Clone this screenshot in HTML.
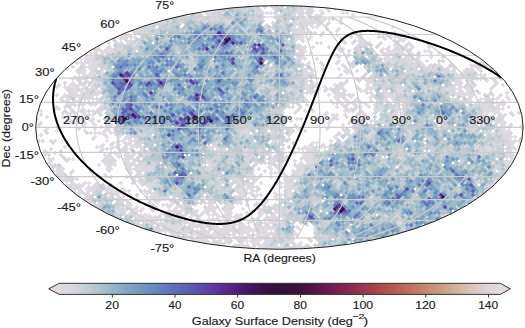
<!DOCTYPE html>
<html><head><meta charset="utf-8"><style>
html,body{margin:0;padding:0;background:#fff;width:525px;height:328px;overflow:hidden;}
svg{display:block;position:absolute;left:0;top:0;}
text{font-family:"Liberation Sans",sans-serif;}
</style></head><body>
<svg width="525" height="328" viewBox="0 0 525 328">
<defs><clipPath id="ell"><ellipse cx="279.40" cy="127.40" rx="243.70" ry="121.85"/></clipPath>
<linearGradient id="cb" x1="0" x2="1" y1="0" y2="0"><stop offset="0.00" stop-color="#e2d9e2"/><stop offset="0.01" stop-color="#dfd9e1"/><stop offset="0.02" stop-color="#dcd9df"/><stop offset="0.03" stop-color="#d7d7dd"/><stop offset="0.04" stop-color="#d2d5db"/><stop offset="0.05" stop-color="#ccd2d8"/><stop offset="0.06" stop-color="#c5cfd5"/><stop offset="0.07" stop-color="#beccd2"/><stop offset="0.08" stop-color="#b6c8cf"/><stop offset="0.09" stop-color="#afc4cd"/><stop offset="0.10" stop-color="#a6bfca"/><stop offset="0.11" stop-color="#9ebbc9"/><stop offset="0.12" stop-color="#97b7c7"/><stop offset="0.13" stop-color="#91b2c6"/><stop offset="0.14" stop-color="#8aaec5"/><stop offset="0.15" stop-color="#85a9c4"/><stop offset="0.16" stop-color="#7fa5c3"/><stop offset="0.17" stop-color="#7aa0c2"/><stop offset="0.18" stop-color="#769bc1"/><stop offset="0.19" stop-color="#7196c1"/><stop offset="0.20" stop-color="#6d90c0"/><stop offset="0.21" stop-color="#6a8bbf"/><stop offset="0.22" stop-color="#6786be"/><stop offset="0.23" stop-color="#6580bd"/><stop offset="0.24" stop-color="#637bbc"/><stop offset="0.25" stop-color="#6276ba"/><stop offset="0.26" stop-color="#6170b9"/><stop offset="0.27" stop-color="#606ab7"/><stop offset="0.28" stop-color="#5f65b5"/><stop offset="0.29" stop-color="#5f5fb3"/><stop offset="0.30" stop-color="#5f58b0"/><stop offset="0.31" stop-color="#5e52ad"/><stop offset="0.32" stop-color="#5e4caa"/><stop offset="0.33" stop-color="#5e46a6"/><stop offset="0.34" stop-color="#5d40a2"/><stop offset="0.35" stop-color="#5d3a9e"/><stop offset="0.36" stop-color="#5c3499"/><stop offset="0.37" stop-color="#5a2e93"/><stop offset="0.38" stop-color="#59288d"/><stop offset="0.39" stop-color="#572385"/><stop offset="0.40" stop-color="#531e7c"/><stop offset="0.41" stop-color="#501a74"/><stop offset="0.42" stop-color="#4c176b"/><stop offset="0.43" stop-color="#481563"/><stop offset="0.44" stop-color="#44135a"/><stop offset="0.45" stop-color="#401253"/><stop offset="0.46" stop-color="#3c114b"/><stop offset="0.47" stop-color="#381145"/><stop offset="0.48" stop-color="#351140"/><stop offset="0.49" stop-color="#32123b"/><stop offset="0.50" stop-color="#2f1436"/><stop offset="0.51" stop-color="#331237"/><stop offset="0.52" stop-color="#361138"/><stop offset="0.53" stop-color="#3a113a"/><stop offset="0.54" stop-color="#3e113c"/><stop offset="0.55" stop-color="#43123e"/><stop offset="0.56" stop-color="#491341"/><stop offset="0.57" stop-color="#4f1444"/><stop offset="0.58" stop-color="#561546"/><stop offset="0.59" stop-color="#5c1749"/><stop offset="0.60" stop-color="#64194b"/><stop offset="0.61" stop-color="#6b1b4d"/><stop offset="0.62" stop-color="#711d4f"/><stop offset="0.63" stop-color="#781f4f"/><stop offset="0.64" stop-color="#7e2250"/><stop offset="0.65" stop-color="#842550"/><stop offset="0.66" stop-color="#8a2950"/><stop offset="0.67" stop-color="#8f2d50"/><stop offset="0.68" stop-color="#943150"/><stop offset="0.69" stop-color="#993650"/><stop offset="0.70" stop-color="#9f3c50"/><stop offset="0.71" stop-color="#a34150"/><stop offset="0.72" stop-color="#a74650"/><stop offset="0.73" stop-color="#ab4b50"/><stop offset="0.74" stop-color="#af5151"/><stop offset="0.75" stop-color="#b25652"/><stop offset="0.76" stop-color="#b55c54"/><stop offset="0.77" stop-color="#b86255"/><stop offset="0.78" stop-color="#bb6857"/><stop offset="0.79" stop-color="#bd6e5a"/><stop offset="0.80" stop-color="#c0755e"/><stop offset="0.81" stop-color="#c27b62"/><stop offset="0.82" stop-color="#c48166"/><stop offset="0.83" stop-color="#c6876b"/><stop offset="0.84" stop-color="#c78e71"/><stop offset="0.85" stop-color="#c89477"/><stop offset="0.86" stop-color="#ca9a7d"/><stop offset="0.87" stop-color="#cba085"/><stop offset="0.88" stop-color="#cda68c"/><stop offset="0.89" stop-color="#ceac94"/><stop offset="0.90" stop-color="#d0b39e"/><stop offset="0.91" stop-color="#d2b8a7"/><stop offset="0.92" stop-color="#d4beaf"/><stop offset="0.93" stop-color="#d7c3b8"/><stop offset="0.94" stop-color="#d9c8c0"/><stop offset="0.95" stop-color="#dbccc8"/><stop offset="0.96" stop-color="#ddd0cf"/><stop offset="0.97" stop-color="#dfd4d6"/><stop offset="0.98" stop-color="#e0d7da"/><stop offset="0.99" stop-color="#e1d8df"/><stop offset="1.00" stop-color="#e2d9e2"/></linearGradient>
</defs>
<g clip-path="url(#ell)">
<g stroke-width="0.5" stroke-linejoin="bevel"><path fill="#e2d9e2" stroke="#e2d9e2" d="M271 3l2 2-2 2-2-2zm-74 6l2 2-2 2-2-2zm124 0l2 2-2 2-2-2zm-122 2l2 2-2 2-2-2zm72 0l2 2-2 2-2-2zm76 0l2 2-2 2-2-2zm-22 6l2 2-2 2-2-2zm-8 4l2 2-2 2-2-2zm-174 2l2 2-2 2-2-2zm-6 2l2 2-2 2-2-2zm156 0l2 2-2 2-2-2zm24 0l2 2-2 2-2-2zm76 0l2 2-2 2-2-2zm-90 2l2 2-2 2-2-2zm36 0l2 2-2 2-2-2zm-42 2l2 2-2 2-2-2zm40 0l2 2-2 2-2-2zm-34 2l2 2-2 2-2-2zm52 0l2 2-2 2-2-2zm24 0l2 2-2 2-2-2zm16 0l2 2-2 2-2-2zm-278 2l2 2-2 2-2-2zm184 0l2 2-2 2-2-2zm88 0l2 2-2 2-2-2zm-30 2l2 2-2 2-2-2zm20 0l2 2-2 2-2-2zm12 0l2 2-2 2-2-2zm-6 2l2 2-2 2-2-2zm-42 2l2 2-2 2-2-2zm-22 2l2 2-2 2-2-2zm88 0l2 2-2 2-2-2zm-310 2l2 2-2 2-2-2zm290 2l2 2-2 2-2-2zm24 0l2 2-2 2-2-2zm16 0l2 2-2 2-2-2zm-330 2l2 2-2 2-2-2zm8 0l2 2-2 2-2-2zm232 0l2 2-2 2-2-2zm56 0l2 2-2 2-2-2zm-290 2l2 2-2 2-2-2zm288 0l2 2-2 2-2-2zm36 0l2 2-2 2-2-2zm-326 2l2 2-2 2-2-2zm336 0l2 2-2 2-2-2zm-22 2l2 2-2 2-2-2zm-330 2l2 2-2 2-2-2zm260 0l2 2-2 2-2-2zm96 0l2 2-2 2-2-2zm-366 2l2 2-2 2-2-2zm4 0l2 2-2 2-2-2zm4 0l2 2-2 2-2-2zm-10 2l2 2-2 2-2-2zm264 0l2 2-2 2-2-2zm52 0l2 2-2 2-2-2zm-90 2l2 2-2 2-2-2zm36 0l2 2-2 2-2-2zm44 0l2 2-2 2-2-2zm100 0l2 2-2 2-2-2zm4 0l2 2-2 2-2-2zm-394 2l2 2-2 2-2-2zm396 0l2 2-2 2-2-2zm-62 2l2 2-2 2-2-2zm44 4l2 2-2 2-2-2zm-122 2l2 2-2 2-2-2zm104 0l2 2-2 2-2-2zm12 0l2 2-2 2-2-2zm-388 4l2 2-2 2-2-2zm240 0l2 2-2 2-2-2zm56 0l2 2-2 2-2-2zm84 0l2 2-2 2-2-2zm-382 2l2 2-2 2-2-2zm242 6l2 2-2 2-2-2zm20 0l2 2-2 2-2-2zm4 0l2 2-2 2-2-2zm28 0l2 2-2 2-2-2zm104 0l2 2-2 2-2-2zm32 0l2 2-2 2-2-2zm8 0l2 2-2 2-2-2zm-186 2l2 2-2 2-2-2zm-228 4l2 2-2 2-2-2zm372 0l2 2-2 2-2-2zm-394 2l2 2-2 2-2-2zm240 0l2 2-2 2-2-2zm148 0l2 2-2 2-2-2zm4 0l2 2-2 2-2-2zm-130 2l2 2-2 2-2-2zm124 0l2 2-2 2-2-2zm8 0l2 2-2 2-2-2zm-406 2l2 2-2 2-2-2zm276 0l2 2-2 2-2-2zm4 0l2 2-2 2-2-2zm156 0l2 2-2 2-2-2zm-162 2l2 2-2 2-2-2zm-238 2l2 2-2 2-2-2zm232 0l2 2-2 2-2-2zm28 0l2 2-2 2-2-2zm112 0l2 2-2 2-2-2zm-378 2l2 2-2 2-2-2zm404 0l2 2-2 2-2-2zm4 0l2 2-2 2-2-2zm4 0l2 2-2 2-2-2zm-410 2l2 2-2 2-2-2zm272 0l2 2-2 2-2-2zm132 0l2 2-2 2-2-2zm10 2l2 2-2 2-2-2zm-454 2l2 2-2 2-2-2zm4 0l2 2-2 2-2-2zm246 2l2 2-2 2-2-2zm8 0l2 2-2 2-2-2zm-278 2l2 2-2 2-2-2zm452 0l2 2-2 2-2-2zm8 0l2 2-2 2-2-2zm-162 2l2 2-2 2-2-2zm4 0l2 2-2 2-2-2zm-290 2l2 2-2 2-2-2zm16 0l2 2-2 2-2-2zm304 0l2 2-2 2-2-2zm-286 2l2 2-2 2-2-2zm404 0l2 2-2 2-2-2zm-394 2l2 2-2 2-2-2zm396 0l2 2-2 2-2-2zm-138 2l2 2-2 2-2-2zm-266 2l2 2-2 2-2-2zm24 0l2 2-2 2-2-2zm416 0l2 2-2 2-2-2zm-466 2l2 2-2 2-2-2zm28 0l2 2-2 2-2-2zm420 0l2 2-2 2-2-2zm16 0l2 2-2 2-2-2zm-442 2l2 2-2 2-2-2zm28 0l2 2-2 2-2-2zm396 0l2 2-2 2-2-2zm20 0l2 2-2 2-2-2zm-466 2l2 2-2 2-2-2zm28 0l2 2-2 2-2-2zm208 0l2 2-2 2-2-2zm12 0l2 2-2 2-2-2zm-214 2l2 2-2 2-2-2zm4 0l2 2-2 2-2-2zm8 0l2 2-2 2-2-2zm400 0l2 2-2 2-2-2zm-398 2l2 2-2 2-2-2zm16 0l2 2-2 2-2-2zm-26 2l2 2-2 2-2-2zm12 0l2 2-2 2-2-2zm12 0l2 2-2 2-2-2zm396 0l2 2-2 2-2-2zm-422 2l2 2-2 2-2-2zm416 0l2 2-2 2-2-2zm-458 2l2 2-2 2-2-2zm56 0l2 2-2 2-2-2zm224 0l2 2-2 2-2-2zm192 0l2 2-2 2-2-2zm-406 2l2 2-2 2-2-2zm196 0l2 2-2 2-2-2zm4 0l2 2-2 2-2-2zm-198 2l2 2-2 2-2-2zm204 0l2 2-2 2-2-2zm-258 2l2 2-2 2-2-2zm68 0l2 2-2 2-2-2zm382 2l2 2-2 2-2-2zm-372 4l2 2-2 2-2-2zm164 0l2 2-2 2-2-2zm200 0l2 2-2 2-2-2zm-390 2l2 2-2 2-2-2zm186 2l2 2-2 2-2-2zm-2 2l2 2-2 2-2-2zm212 0l2 2-2 2-2-2zm-388 4l2 2-2 2-2-2zm188 0l2 2-2 2-2-2zm-206 2l2 2-2 2-2-2zm8 0l2 2-2 2-2-2zm22 2l2 2-2 2-2-2zm132 0l2 2-2 2-2-2zm-222 2l2 2-2 2-2-2zm60 0l2 2-2 2-2-2zm36 0l2 2-2 2-2-2zm132 4l2 2-2 2-2-2zm24 0l2 2-2 2-2-2zm-246 2l2 2-2 2-2-2zm78 2l2 2-2 2-2-2zm128 0l2 2-2 2-2-2zm-2 2l2 2-2 2-2-2zm-198 2l2 2-2 2-2-2zm26 2l2 2-2 2-2-2zm4 0l2 2-2 2-2-2zm8 0l2 2-2 2-2-2zm24 0l2 2-2 2-2-2zm172 0l2 2-2 2-2-2zm-214 2l2 2-2 2-2-2zm34 2l2 2-2 2-2-2zm-22 2l2 2-2 2-2-2zm150 2l2 2-2 2-2-2zm4 0l2 2-2 2-2-2zm-166 2l2 2-2 2-2-2zm196 0l2 2-2 2-2-2zm-146 2l2 2-2 2-2-2zm128 0l2 2-2 2-2-2zm24 0l2 2-2 2-2-2zm8 0l2 2-2 2-2-2zm-12 4l2 2-2 2-2-2zm-122 2l2 2-2 2-2-2zm-6 2l2 2-2 2-2-2zm8 0l2 2-2 2-2-2zm100 0l2 2-2 2-2-2zm-166 2l2 2-2 2-2-2zm80 0l2 2-2 2-2-2zm12 0l2 2-2 2-2-2zm-62 2l2 2-2 2-2-2zm32 0l2 2-2 2-2-2zm104 0l2 2-2 2-2-2zm-102 2l2 2-2 2-2-2zm20 0l2 2-2 2-2-2zm8 0l2 2-2 2-2-2zm60 0l2 2-2 2-2-2zm-38 2l2 2-2 2-2-2zm70 2l2 2-2 2-2-2zm-138 2l2 2-2 2-2-2zm4 0l2 2-2 2-2-2zm4 0l2 2-2 2-2-2zm4 0l2 2-2 2-2-2zm12 0l2 2-2 2-2-2zm48 0l2 2-2 2-2-2zm18 2l2 2-2 2-2-2zm4 0l2 2-2 2-2-2zm40 0l2 2-2 2-2-2zm-122 2l2 2-2 2-2-2zm60 0l2 2-2 2-2-2zm4 0l2 2-2 2-2-2zm16 0l2 2-2 2-2-2zm-82 2l2 2-2 2-2-2zm36 0l2 2-2 2-2-2zm44 0l2 2-2 2-2-2zm-78 2l2 2-2 2-2-2zm8 0l2 2-2 2-2-2zm34 2l2 2-2 2-2-2zm24 0l2 2-2 2-2-2zm20 0l2 2-2 2-2-2zm4 0l2 2-2 2-2-2zm16 0l2 2-2 2-2-2zm-42 2l2 2-2 2-2-2zm16 0l2 2-2 2-2-2zm-50 2l2 2-2 2-2-2zm36 0l2 2-2 2-2-2zm16 0l2 2-2 2-2-2zm16 0l2 2-2 2-2-2zm52 0l2 2-2 2-2-2zm-122 2l2 2-2 2-2-2zm4 0l2 2-2 2-2-2zm80 0l2 2-2 2-2-2zm-78 2l2 2-2 2-2-2zm64 0l2 2-2 2-2-2zm48 0l2 2-2 2-2-2zm-90 2l2 2-2 2-2-2zm4 0l2 2-2 2-2-2zm40 0l2 2-2 2-2-2zm16 0l2 2-2 2-2-2zm32 0l2 2-2 2-2-2zm-112 4l2 2-2 2-2-2zm28 0l2 2-2 2-2-2zm24 0l2 2-2 2-2-2zm24 0l2 2-2 2-2-2zm-14 2l2 2-2 2-2-2zm54 2l2 2-2 2-2-2zm-42 2l2 2-2 2-2-2zm2 2l2 2-2 2-2-2zm20 0l2 2-2 2-2-2zm36 0l2 2-2 2-2-2z"/><path fill="#e0d9e2" stroke="#e0d9e2" d="M263 3l2 2-2 2-2-2zm32 0l2 2-2 2-2-2zm4 0l2 2-2 2-2-2zm-72 4l2 2-2 2-2-2zm76 0l2 2-2 2-2-2zm24 0l2 2-2 2-2-2zm8 0l2 2-2 2-2-2zm-34 2l2 2-2 2-2-2zm12 0l2 2-2 2-2-2zm-102 2l2 2-2 2-2-2zm52 0l2 2-2 2-2-2zm60 0l2 2-2 2-2-2zm-46 2l2 2-2 2-2-2zm40 0l2 2-2 2-2-2zm4 0l2 2-2 2-2-2zm-18 2l2 2-2 2-2-2zm-100 4l2 2-2 2-2-2zm118 2l2 2-2 2-2-2zm-174 2l2 2-2 2-2-2zm160 0l2 2-2 2-2-2zm6 2l2 2-2 2-2-2zm-18 2l2 2-2 2-2-2zm6 2l2 2-2 2-2-2zm-2 2l2 2-2 2-2-2zm8 0l2 2-2 2-2-2zm24 0l2 2-2 2-2-2zm-210 2l2 2-2 2-2-2zm152 0l2 2-2 2-2-2zm84 0l2 2-2 2-2-2zm-242 2l2 2-2 2-2-2zm8 0l2 2-2 2-2-2zm188 0l2 2-2 2-2-2zm84 0l2 2-2 2-2-2zm-98 2l2 2-2 2-2-2zm44 0l2 2-2 2-2-2zm20 0l2 2-2 2-2-2zm40 0l2 2-2 2-2-2zm-294 2l2 2-2 2-2-2zm252 0l2 2-2 2-2-2zm4 0l2 2-2 2-2-2zm-46 2l2 2-2 2-2-2zm52 0l2 2-2 2-2-2zm-2 2l2 2-2 2-2-2zm32 0l2 2-2 2-2-2zm12 0l2 2-2 2-2-2zm-302 2l2 2-2 2-2-2zm196 0l2 2-2 2-2-2zm38 2l2 2-2 2-2-2zm16 0l2 2-2 2-2-2zm48 0l2 2-2 2-2-2zm-298 2l2 2-2 2-2-2zm4 0l2 2-2 2-2-2zm268 0l2 2-2 2-2-2zm44 0l2 2-2 2-2-2zm-342 2l2 2-2 2-2-2zm8 0l2 2-2 2-2-2zm292 0l2 2-2 2-2-2zm4 0l2 2-2 2-2-2zm24 0l2 2-2 2-2-2zm20 0l2 2-2 2-2-2zm-94 2l2 2-2 2-2-2zm48 0l2 2-2 2-2-2zm4 0l2 2-2 2-2-2zm-86 2l2 2-2 2-2-2zm36 0l2 2-2 2-2-2zm68 0l2 2-2 2-2-2zm4 0l2 2-2 2-2-2zm-324 4l2 2-2 2-2-2zm340 0l2 2-2 2-2-2zm-346 2l2 2-2 2-2-2zm4 0l2 2-2 2-2-2zm224 0l2 2-2 2-2-2zm40 0l2 2-2 2-2-2zm72 0l2 2-2 2-2-2zm-326 2l2 2-2 2-2-2zm248 0l2 2-2 2-2-2zm88 0l2 2-2 2-2-2zm40 0l2 2-2 2-2-2zm8 0l2 2-2 2-2-2zm4 0l2 2-2 2-2-2zm-30 2l2 2-2 2-2-2zm-130 2l2 2-2 2-2-2zm16 0l2 2-2 2-2-2zm116 0l2 2-2 2-2-2zm12 0l2 2-2 2-2-2zm4 0l2 2-2 2-2-2zm-390 2l2 2-2 2-2-2zm4 0l2 2-2 2-2-2zm228 0l2 2-2 2-2-2zm32 0l2 2-2 2-2-2zm104 0l2 2-2 2-2-2zm6 2l2 2-2 2-2-2zm-370 2l2 2-2 2-2-2zm4 0l2 2-2 2-2-2zm216 0l2 2-2 2-2-2zm180 0l2 2-2 2-2-2zm-146 2l2 2-2 2-2-2zm64 0l2 2-2 2-2-2zm56 0l2 2-2 2-2-2zm40 0l2 2-2 2-2-2zm-422 2l2 2-2 2-2-2zm4 0l2 2-2 2-2-2zm4 0l2 2-2 2-2-2zm284 0l2 2-2 2-2-2zm4 0l2 2-2 2-2-2zm108 0l2 2-2 2-2-2zm-174 2l2 2-2 2-2-2zm60 0l2 2-2 2-2-2zm92 0l2 2-2 2-2-2zm-386 2l2 2-2 2-2-2zm240 0l2 2-2 2-2-2zm28 0l2 2-2 2-2-2zm120 0l2 2-2 2-2-2zm-402 2l2 2-2 2-2-2zm16 0l2 2-2 2-2-2zm16 0l2 2-2 2-2-2zm216 0l2 2-2 2-2-2zm152 0l2 2-2 2-2-2zm-402 2l2 2-2 2-2-2zm16 0l2 2-2 2-2-2zm4 0l2 2-2 2-2-2zm16 0l2 2-2 2-2-2zm276 0l2 2-2 2-2-2zm92 0l2 2-2 2-2-2zm12 0l2 2-2 2-2-2zm20 0l2 2-2 2-2-2zm-418 2l2 2-2 2-2-2zm232 0l2 2-2 2-2-2zm140 0l2 2-2 2-2-2zm20 0l2 2-2 2-2-2zm24 0l2 2-2 2-2-2zm-146 2l2 2-2 2-2-2zm52 0l2 2-2 2-2-2zm4 0l2 2-2 2-2-2zm72 0l2 2-2 2-2-2zm-130 2l2 2-2 2-2-2zm52 0l2 2-2 2-2-2zm60 0l2 2-2 2-2-2zm52 0l2 2-2 2-2-2zm-450 2l2 2-2 2-2-2zm24 0l2 2-2 2-2-2zm260 0l2 2-2 2-2-2zm12 0l2 2-2 2-2-2zm148 0l2 2-2 2-2-2zm-418 2l2 2-2 2-2-2zm268 0l2 2-2 2-2-2zm156 0l2 2-2 2-2-2zm-418 2l2 2-2 2-2-2zm268 0l2 2-2 2-2-2zm-290 2l2 2-2 2-2-2zm12 0l2 2-2 2-2-2zm228 0l2 2-2 2-2-2zm32 0l2 2-2 2-2-2zm140 0l2 2-2 2-2-2zm-382 2l2 2-2 2-2-2zm4 0l2 2-2 2-2-2zm260 0l2 2-2 2-2-2zm-270 2l2 2-2 2-2-2zm210 2l2 2-2 2-2-2zm36 0l2 2-2 2-2-2zm24 0l2 2-2 2-2-2zm8 0l2 2-2 2-2-2zm116 0l2 2-2 2-2-2zm12 0l2 2-2 2-2-2zm-426 2l2 2-2 2-2-2zm228 0l2 2-2 2-2-2zm100 0l2 2-2 2-2-2zm88 0l2 2-2 2-2-2zm8 0l2 2-2 2-2-2zm4 0l2 2-2 2-2-2zm4 0l2 2-2 2-2-2zm-462 2l2 2-2 2-2-2zm256 0l2 2-2 2-2-2zm48 0l2 2-2 2-2-2zm16 0l2 2-2 2-2-2zm124 0l2 2-2 2-2-2zm4 0l2 2-2 2-2-2zm8 0l2 2-2 2-2-2zm-430 2l2 2-2 2-2-2zm328 0l2 2-2 2-2-2zm-302 2l2 2-2 2-2-2zm392 0l2 2-2 2-2-2zm20 0l2 2-2 2-2-2zm-426 2l2 2-2 2-2-2zm208 0l2 2-2 2-2-2zm48 0l2 2-2 2-2-2zm12 0l2 2-2 2-2-2zm16 0l2 2-2 2-2-2zm160 0l2 2-2 2-2-2zm-486 2l2 2-2 2-2-2zm260 0l2 2-2 2-2-2zm32 0l2 2-2 2-2-2zm8 0l2 2-2 2-2-2zm28 0l2 2-2 2-2-2zm32 0l2 2-2 2-2-2zm-330 2l2 2-2 2-2-2zm4 0l2 2-2 2-2-2zm28 0l2 2-2 2-2-2zm272 0l2 2-2 2-2-2zm-330 2l2 2-2 2-2-2zm32 0l2 2-2 2-2-2zm12 0l2 2-2 2-2-2zm8 0l2 2-2 2-2-2zm268 0l2 2-2 2-2-2zm-260 4l2 2-2 2-2-2zm196 0l2 2-2 2-2-2zm204 0l2 2-2 2-2-2zm8 0l2 2-2 2-2-2zm-462 2l2 2-2 2-2-2zm48 0l2 2-2 2-2-2zm232 0l2 2-2 2-2-2zm16 0l2 2-2 2-2-2zm132 0l2 2-2 2-2-2zm20 0l2 2-2 2-2-2zm-390 2l2 2-2 2-2-2zm4 0l2 2-2 2-2-2zm396 0l2 2-2 2-2-2zm4 0l2 2-2 2-2-2zm-262 2l2 2-2 2-2-2zm44 0l2 2-2 2-2-2zm48 0l2 2-2 2-2-2zm168 0l2 2-2 2-2-2zm-170 2l2 2-2 2-2-2zm4 0l2 2-2 2-2-2zm-212 4l2 2-2 2-2-2zm160 0l2 2-2 2-2-2zm-170 2l2 2-2 2-2-2zm4 0l2 2-2 2-2-2zm392 0l2 2-2 2-2-2zm-386 2l2 2-2 2-2-2zm-26 2l2 2-2 2-2-2zm28 0l2 2-2 2-2-2zm376 0l2 2-2 2-2-2zm4 0l2 2-2 2-2-2zm-414 2l2 2-2 2-2-2zm4 0l2 2-2 2-2-2zm12 0l2 2-2 2-2-2zm96 0l2 2-2 2-2-2zm100 0l2 2-2 2-2-2zm8 0l2 2-2 2-2-2zm4 0l2 2-2 2-2-2zm32 0l2 2-2 2-2-2zm-142 2l2 2-2 2-2-2zm8 0l2 2-2 2-2-2zm84 0l2 2-2 2-2-2zm4 0l2 2-2 2-2-2zm188 0l2 2-2 2-2-2zm16 0l2 2-2 2-2-2zm-410 2l2 2-2 2-2-2zm20 0l2 2-2 2-2-2zm192 0l2 2-2 2-2-2zm-266 2l2 2-2 2-2-2zm80 0l2 2-2 2-2-2zm168 0l2 2-2 2-2-2zm8 0l2 2-2 2-2-2zm172 0l2 2-2 2-2-2zm-370 2l2 2-2 2-2-2zm24 0l2 2-2 2-2-2zm180 0l2 2-2 2-2-2zm68 0l2 2-2 2-2-2zm-258 2l2 2-2 2-2-2zm-66 2l2 2-2 2-2-2zm20 0l2 2-2 2-2-2zm36 0l2 2-2 2-2-2zm16 0l2 2-2 2-2-2zm2 2l2 2-2 2-2-2zm184 0l2 2-2 2-2-2zm200 0l2 2-2 2-2-2zm-466 2l2 2-2 2-2-2zm4 0l2 2-2 2-2-2zm80 0l2 2-2 2-2-2zm172 0l2 2-2 2-2-2zm212 0l2 2-2 2-2-2zm-462 2l2 2-2 2-2-2zm48 0l2 2-2 2-2-2zm36 0l2 2-2 2-2-2zm-78 2l2 2-2 2-2-2zm52 0l2 2-2 2-2-2zm26 2l2 2-2 2-2-2zm4 0l2 2-2 2-2-2zm132 0l2 2-2 2-2-2zm12 0l2 2-2 2-2-2zm-234 2l2 2-2 2-2-2zm60 0l2 2-2 2-2-2zm172 0l2 2-2 2-2-2zm12 0l2 2-2 2-2-2zm-22 2l2 2-2 2-2-2zm12 0l2 2-2 2-2-2zm-178 2l2 2-2 2-2-2zm36 0l2 2-2 2-2-2zm112 0l2 2-2 2-2-2zm32 0l2 2-2 2-2-2zm-226 2l2 2-2 2-2-2zm48 0l2 2-2 2-2-2zm148 0l2 2-2 2-2-2zm32 0l2 2-2 2-2-2zm8 0l2 2-2 2-2-2zm-218 2l2 2-2 2-2-2zm56 0l2 2-2 2-2-2zm116 0l2 2-2 2-2-2zm-114 2l2 2-2 2-2-2zm20 0l2 2-2 2-2-2zm100 0l2 2-2 2-2-2zm32 0l2 2-2 2-2-2zm-198 6l2 2-2 2-2-2zm4 0l2 2-2 2-2-2zm-26 2l2 2-2 2-2-2zm40 0l2 2-2 2-2-2zm44 0l2 2-2 2-2-2zm96 0l2 2-2 2-2-2zm4 0l2 2-2 2-2-2zm40 0l2 2-2 2-2-2zm-202 2l2 2-2 2-2-2zm36 0l2 2-2 2-2-2zm164 0l2 2-2 2-2-2zm-174 2l2 2-2 2-2-2zm32 0l2 2-2 2-2-2zm-62 2l2 2-2 2-2-2zm4 0l2 2-2 2-2-2zm156 0l2 2-2 2-2-2zm-94 2l2 2-2 2-2-2zm124 0l2 2-2 2-2-2zm96 0l2 2-2 2-2-2zm-234 2l2 2-2 2-2-2zm16 0l2 2-2 2-2-2zm4 0l2 2-2 2-2-2zm44 0l2 2-2 2-2-2zm48 0l2 2-2 2-2-2zm16 0l2 2-2 2-2-2zm-178 2l2 2-2 2-2-2zm36 0l2 2-2 2-2-2zm144 0l2 2-2 2-2-2zm-136 4l2 2-2 2-2-2zm32 0l2 2-2 2-2-2zm4 0l2 2-2 2-2-2zm44 0l2 2-2 2-2-2zm-74 2l2 2-2 2-2-2zm32 0l2 2-2 2-2-2zm8 0l2 2-2 2-2-2zm-34 2l2 2-2 2-2-2zm8 0l2 2-2 2-2-2zm64 0l2 2-2 2-2-2zm-78 2l2 2-2 2-2-2zm4 0l2 2-2 2-2-2zm36 0l2 2-2 2-2-2zm48 0l2 2-2 2-2-2zm-90 2l2 2-2 2-2-2zm72 0l2 2-2 2-2-2zm8 0l2 2-2 2-2-2zm64 0l2 2-2 2-2-2zm8 0l2 2-2 2-2-2zm-94 2l2 2-2 2-2-2zm4 0l2 2-2 2-2-2zm16 0l2 2-2 2-2-2zm12 0l2 2-2 2-2-2zm-90 2l2 2-2 2-2-2zm4 0l2 2-2 2-2-2zm8 0l2 2-2 2-2-2zm4 0l2 2-2 2-2-2zm48 0l2 2-2 2-2-2zm20 0l2 2-2 2-2-2zm20 0l2 2-2 2-2-2zm20 0l2 2-2 2-2-2zm-98 2l2 2-2 2-2-2zm92 0l2 2-2 2-2-2zm-98 2l2 2-2 2-2-2zm64 0l2 2-2 2-2-2zm32 0l2 2-2 2-2-2zm8 0l2 2-2 2-2-2zm16 0l2 2-2 2-2-2zm-86 2l2 2-2 2-2-2zm12 0l2 2-2 2-2-2zm32 0l2 2-2 2-2-2zm36 0l2 2-2 2-2-2zm8 0l2 2-2 2-2-2zm-74 2l2 2-2 2-2-2zm8 0l2 2-2 2-2-2zm12 0l2 2-2 2-2-2zm84 0l2 2-2 2-2-2zm-130 2l2 2-2 2-2-2zm4 0l2 2-2 2-2-2zm24 0l2 2-2 2-2-2zm12 0l2 2-2 2-2-2zm40 0l2 2-2 2-2-2zm40 0l2 2-2 2-2-2zm-86 2l2 2-2 2-2-2zm40 0l2 2-2 2-2-2zm4 0l2 2-2 2-2-2zm4 0l2 2-2 2-2-2zm-54 2l2 2-2 2-2-2zm12 0l2 2-2 2-2-2zm-62 2l2 2-2 2-2-2zm4 0l2 2-2 2-2-2zm28 0l2 2-2 2-2-2zm28 0l2 2-2 2-2-2zm4 0l2 2-2 2-2-2zm4 0l2 2-2 2-2-2zm20 0l2 2-2 2-2-2zm-50 2l2 2-2 2-2-2zm4 0l2 2-2 2-2-2zm24 0l2 2-2 2-2-2zm4 0l2 2-2 2-2-2zm8 0l2 2-2 2-2-2zm36 0l2 2-2 2-2-2zm-46 2l2 2-2 2-2-2zm36 0l2 2-2 2-2-2zm-62 2l2 2-2 2-2-2zm24 0l2 2-2 2-2-2zm24 0l2 2-2 2-2-2zm12 0l2 2-2 2-2-2zm-70 2l2 2-2 2-2-2zm16 0l2 2-2 2-2-2zm16 0l2 2-2 2-2-2zm32 0l2 2-2 2-2-2zm40 0l2 2-2 2-2-2zm-98 2l2 2-2 2-2-2zm12 0l2 2-2 2-2-2zm4 0l2 2-2 2-2-2zm12 0l2 2-2 2-2-2zm32 0l2 2-2 2-2-2zm4 0l2 2-2 2-2-2zm32 0l2 2-2 2-2-2zm-74 2l2 2-2 2-2-2zm8 0l2 2-2 2-2-2zm20 0l2 2-2 2-2-2zm20 0l2 2-2 2-2-2zm20 0l2 2-2 2-2-2zm-50 2l2 2-2 2-2-2zm6 2l2 2-2 2-2-2zm44 0l2 2-2 2-2-2z"/><path fill="#ded9e1" stroke="#ded9e1" d="M275 3l2 2-2 2-2-2zm36 0l2 2-2 2-2-2zm-46 2l2 2-2 2-2-2zm8 0l2 2-2 2-2-2zm40 0l2 2-2 2-2-2zm-102 2l2 2-2 2-2-2zm96 0l2 2-2 2-2-2zm-102 2l2 2-2 2-2-2zm8 0l2 2-2 2-2-2zm84 0l2 2-2 2-2-2zm32 0l2 2-2 2-2-2zm-122 2l2 2-2 2-2-2zm44 0l2 2-2 2-2-2zm8 0l2 2-2 2-2-2zm8 0l2 2-2 2-2-2zm76 0l2 2-2 2-2-2zm-50 2l2 2-2 2-2-2zm60 0l2 2-2 2-2-2zm-166 2l2 2-2 2-2-2zm76 0l2 2-2 2-2-2zm52 0l2 2-2 2-2-2zm-150 2l2 2-2 2-2-2zm36 0l2 2-2 2-2-2zm4 0l2 2-2 2-2-2zm8 0l2 2-2 2-2-2zm96 0l2 2-2 2-2-2zm4 0l2 2-2 2-2-2zm2 2l2 2-2 2-2-2zm8 0l2 2-2 2-2-2zm-162 2l2 2-2 2-2-2zm128 0l2 2-2 2-2-2zm8 0l2 2-2 2-2-2zm32 0l2 2-2 2-2-2zm-18 2l2 2-2 2-2-2zm-10 2l2 2-2 2-2-2zm-146 2l2 2-2 2-2-2zm144 0l2 2-2 2-2-2zm-162 2l2 2-2 2-2-2zm200 4l2 2-2 2-2-2zm-202 2l2 2-2 2-2-2zm160 0l2 2-2 2-2-2zm8 0l2 2-2 2-2-2zm80 0l2 2-2 2-2-2zm-262 2l2 2-2 2-2-2zm180 0l2 2-2 2-2-2zm-166 2l2 2-2 2-2-2zm264 0l2 2-2 2-2-2zm4 0l2 2-2 2-2-2zm-294 2l2 2-2 2-2-2zm8 0l2 2-2 2-2-2zm12 0l2 2-2 2-2-2zm4 0l2 2-2 2-2-2zm212 0l2 2-2 2-2-2zm16 0l2 2-2 2-2-2zm-266 2l2 2-2 2-2-2zm206 2l2 2-2 2-2-2zm12 0l2 2-2 2-2-2zm16 0l2 2-2 2-2-2zm28 0l2 2-2 2-2-2zm48 0l2 2-2 2-2-2zm-310 2l2 2-2 2-2-2zm208 0l2 2-2 2-2-2zm80 0l2 2-2 2-2-2zm4 0l2 2-2 2-2-2zm24 0l2 2-2 2-2-2zm-314 2l2 2-2 2-2-2zm24 0l2 2-2 2-2-2zm184 0l2 2-2 2-2-2zm44 0l2 2-2 2-2-2zm48 0l2 2-2 2-2-2zm4 0l2 2-2 2-2-2zm-90 2l2 2-2 2-2-2zm48 0l2 2-2 2-2-2zm32 0l2 2-2 2-2-2zm-310 2l2 2-2 2-2-2zm268 0l2 2-2 2-2-2zm56 0l2 2-2 2-2-2zm4 0l2 2-2 2-2-2zm4 0l2 2-2 2-2-2zm-334 2l2 2-2 2-2-2zm12 0l2 2-2 2-2-2zm296 0l2 2-2 2-2-2zm32 0l2 2-2 2-2-2zm12 0l2 2-2 2-2-2zm-338 2l2 2-2 2-2-2zm204 0l2 2-2 2-2-2zm8 0l2 2-2 2-2-2zm12 0l2 2-2 2-2-2zm72 0l2 2-2 2-2-2zm-298 2l2 2-2 2-2-2zm328 0l2 2-2 2-2-2zm-342 2l2 2-2 2-2-2zm12 0l2 2-2 2-2-2zm232 0l2 2-2 2-2-2zm72 0l2 2-2 2-2-2zm20 0l2 2-2 2-2-2zm4 0l2 2-2 2-2-2zm-334 2l2 2-2 2-2-2zm240 0l2 2-2 2-2-2zm152 0l2 2-2 2-2-2zm-402 2l2 2-2 2-2-2zm12 0l2 2-2 2-2-2zm4 0l2 2-2 2-2-2zm264 0l2 2-2 2-2-2zm120 0l2 2-2 2-2-2zm8 0l2 2-2 2-2-2zm-414 2l2 2-2 2-2-2zm28 0l2 2-2 2-2-2zm8 0l2 2-2 2-2-2zm204 0l2 2-2 2-2-2zm40 0l2 2-2 2-2-2zm84 0l2 2-2 2-2-2zm48 0l2 2-2 2-2-2zm12 0l2 2-2 2-2-2zm-142 2l2 2-2 2-2-2zm8 0l2 2-2 2-2-2zm116 0l2 2-2 2-2-2zm-370 2l2 2-2 2-2-2zm204 0l2 2-2 2-2-2zm44 0l2 2-2 2-2-2zm130 2l2 2-2 2-2-2zm-390 2l2 2-2 2-2-2zm384 0l2 2-2 2-2-2zm8 0l2 2-2 2-2-2zm-22 2l2 2-2 2-2-2zm8 0l2 2-2 2-2-2zm4 0l2 2-2 2-2-2zm20 0l2 2-2 2-2-2zm8 0l2 2-2 2-2-2zm-14 2l2 2-2 2-2-2zm-390 2l2 2-2 2-2-2zm200 0l2 2-2 2-2-2zm160 0l2 2-2 2-2-2zm40 0l2 2-2 2-2-2zm-432 4l2 2-2 2-2-2zm4 0l2 2-2 2-2-2zm288 0l2 2-2 2-2-2zm112 0l2 2-2 2-2-2zm-402 2l2 2-2 2-2-2zm316 0l2 2-2 2-2-2zm16 0l2 2-2 2-2-2zm4 0l2 2-2 2-2-2zm52 0l2 2-2 2-2-2zm4 0l2 2-2 2-2-2zm52 0l2 2-2 2-2-2zm-186 2l2 2-2 2-2-2zm40 0l2 2-2 2-2-2zm96 0l2 2-2 2-2-2zm-378 2l2 2-2 2-2-2zm228 0l2 2-2 2-2-2zm24 0l2 2-2 2-2-2zm36 0l2 2-2 2-2-2zm28 0l2 2-2 2-2-2zm4 0l2 2-2 2-2-2zm4 0l2 2-2 2-2-2zm-342 2l2 2-2 2-2-2zm4 0l2 2-2 2-2-2zm4 0l2 2-2 2-2-2zm12 0l2 2-2 2-2-2zm8 0l2 2-2 2-2-2zm280 0l2 2-2 2-2-2zm16 0l2 2-2 2-2-2zm8 0l2 2-2 2-2-2zm60 0l2 2-2 2-2-2zm-390 2l2 2-2 2-2-2zm8 0l2 2-2 2-2-2zm4 0l2 2-2 2-2-2zm8 0l2 2-2 2-2-2zm248 0l2 2-2 2-2-2zm52 0l2 2-2 2-2-2zm4 0l2 2-2 2-2-2zm72 0l2 2-2 2-2-2zm8 0l2 2-2 2-2-2zm-410 2l2 2-2 2-2-2zm32 0l2 2-2 2-2-2zm180 0l2 2-2 2-2-2zm32 0l2 2-2 2-2-2zm80 0l2 2-2 2-2-2zm8 0l2 2-2 2-2-2zm88 0l2 2-2 2-2-2zm16 0l2 2-2 2-2-2zm12 0l2 2-2 2-2-2zm-446 2l2 2-2 2-2-2zm12 0l2 2-2 2-2-2zm280 0l2 2-2 2-2-2zm32 0l2 2-2 2-2-2zm76 0l2 2-2 2-2-2zm4 0l2 2-2 2-2-2zm36 0l2 2-2 2-2-2zm-170 2l2 2-2 2-2-2zm8 0l2 2-2 2-2-2zm24 0l2 2-2 2-2-2zm112 0l2 2-2 2-2-2zm4 0l2 2-2 2-2-2zm8 0l2 2-2 2-2-2zm-386 2l2 2-2 2-2-2zm384 0l2 2-2 2-2-2zm-430 2l2 2-2 2-2-2zm44 0l2 2-2 2-2-2zm256 0l2 2-2 2-2-2zm40 0l2 2-2 2-2-2zm72 0l2 2-2 2-2-2zm4 0l2 2-2 2-2-2zm-202 2l2 2-2 2-2-2zm104 0l2 2-2 2-2-2zm4 0l2 2-2 2-2-2zm16 0l2 2-2 2-2-2zm-314 2l2 2-2 2-2-2zm4 0l2 2-2 2-2-2zm8 0l2 2-2 2-2-2zm256 0l2 2-2 2-2-2zm32 0l2 2-2 2-2-2zm16 0l2 2-2 2-2-2zm-334 2l2 2-2 2-2-2zm20 0l2 2-2 2-2-2zm212 0l2 2-2 2-2-2zm32 0l2 2-2 2-2-2zm172 0l2 2-2 2-2-2zm24 0l2 2-2 2-2-2zm-482 2l2 2-2 2-2-2zm28 0l2 2-2 2-2-2zm256 0l2 2-2 2-2-2zm20 0l2 2-2 2-2-2zm52 0l2 2-2 2-2-2zm36 0l2 2-2 2-2-2zm48 0l2 2-2 2-2-2zm32 0l2 2-2 2-2-2zm-238 2l2 2-2 2-2-2zm136 0l2 2-2 2-2-2zm92 0l2 2-2 2-2-2zm-414 2l2 2-2 2-2-2zm4 0l2 2-2 2-2-2zm240 0l2 2-2 2-2-2zm28 0l2 2-2 2-2-2zm116 0l2 2-2 2-2-2zm4 0l2 2-2 2-2-2zm-398 2l2 2-2 2-2-2zm208 0l2 2-2 2-2-2zm40 0l2 2-2 2-2-2zm28 0l2 2-2 2-2-2zm124 0l2 2-2 2-2-2zm-406 2l2 2-2 2-2-2zm252 0l2 2-2 2-2-2zm28 0l2 2-2 2-2-2zm84 0l2 2-2 2-2-2zm60 0l2 2-2 2-2-2zm-406 2l2 2-2 2-2-2zm200 0l2 2-2 2-2-2zm48 0l2 2-2 2-2-2zm160 0l2 2-2 2-2-2zm-58 2l2 2-2 2-2-2zm-146 2l2 2-2 2-2-2zm50 2l2 2-2 2-2-2zm-238 2l2 2-2 2-2-2zm172 0l2 2-2 2-2-2zm88 0l2 2-2 2-2-2zm128 0l2 2-2 2-2-2zm-278 2l2 2-2 2-2-2zm20 0l2 2-2 2-2-2zm128 0l2 2-2 2-2-2zm124 0l2 2-2 2-2-2zm12 0l2 2-2 2-2-2zm-378 2l2 2-2 2-2-2zm24 0l2 2-2 2-2-2zm184 0l2 2-2 2-2-2zm176 0l2 2-2 2-2-2zm-386 2l2 2-2 2-2-2zm160 0l2 2-2 2-2-2zm-230 2l2 2-2 2-2-2zm76 0l2 2-2 2-2-2zm380 0l2 2-2 2-2-2zm8 0l2 2-2 2-2-2zm-466 2l2 2-2 2-2-2zm164 0l2 2-2 2-2-2zm94 2l2 2-2 2-2-2zm-170 2l2 2-2 2-2-2zm164 0l2 2-2 2-2-2zm184 0l2 2-2 2-2-2zm-438 2l2 2-2 2-2-2zm60 0l2 2-2 2-2-2zm8 0l2 2-2 2-2-2zm12 0l2 2-2 2-2-2zm180 0l2 2-2 2-2-2zm168 0l2 2-2 2-2-2zm8 0l2 2-2 2-2-2zm-426 2l2 2-2 2-2-2zm200 0l2 2-2 2-2-2zm20 0l2 2-2 2-2-2zm28 0l2 2-2 2-2-2zm8 0l2 2-2 2-2-2zm8 0l2 2-2 2-2-2zm184 0l2 2-2 2-2-2zm-390 2l2 2-2 2-2-2zm392 0l2 2-2 2-2-2zm-466 2l2 2-2 2-2-2zm4 0l2 2-2 2-2-2zm12 0l2 2-2 2-2-2zm184 0l2 2-2 2-2-2zm60 0l2 2-2 2-2-2zm8 0l2 2-2 2-2-2zm-186 2l2 2-2 2-2-2zm16 0l2 2-2 2-2-2zm112 0l2 2-2 2-2-2zm52 0l2 2-2 2-2-2zm200 0l2 2-2 2-2-2zm-242 2l2 2-2 2-2-2zm20 0l2 2-2 2-2-2zm20 0l2 2-2 2-2-2zm4 0l2 2-2 2-2-2zm-266 2l2 2-2 2-2-2zm8 0l2 2-2 2-2-2zm16 0l2 2-2 2-2-2zm48 0l2 2-2 2-2-2zm92 0l2 2-2 2-2-2zm40 0l2 2-2 2-2-2zm24 0l2 2-2 2-2-2zm24 0l2 2-2 2-2-2zm-190 2l2 2-2 2-2-2zm8 0l2 2-2 2-2-2zm20 0l2 2-2 2-2-2zm76 0l2 2-2 2-2-2zm64 0l2 2-2 2-2-2zm36 0l2 2-2 2-2-2zm200 0l2 2-2 2-2-2zm-398 2l2 2-2 2-2-2zm16 0l2 2-2 2-2-2zm16 0l2 2-2 2-2-2zm68 0l2 2-2 2-2-2zm60 0l2 2-2 2-2-2zm8 0l2 2-2 2-2-2zm16 0l2 2-2 2-2-2zm8 0l2 2-2 2-2-2zm96 0l2 2-2 2-2-2zm-350 2l2 2-2 2-2-2zm12 0l2 2-2 2-2-2zm68 0l2 2-2 2-2-2zm152 0l2 2-2 2-2-2zm-170 2l2 2-2 2-2-2zm168 0l2 2-2 2-2-2zm216 0l2 2-2 2-2-2zm-434 2l2 2-2 2-2-2zm12 0l2 2-2 2-2-2zm64 0l2 2-2 2-2-2zm8 0l2 2-2 2-2-2zm108 0l2 2-2 2-2-2zm12 0l2 2-2 2-2-2zm14 2l2 2-2 2-2-2zm16 0l2 2-2 2-2-2zm-234 2l2 2-2 2-2-2zm76 0l2 2-2 2-2-2zm124 0l2 2-2 2-2-2zm40 0l2 2-2 2-2-2zm-174 2l2 2-2 2-2-2zm120 0l2 2-2 2-2-2zm4 0l2 2-2 2-2-2zm20 0l2 2-2 2-2-2zm-206 2l2 2-2 2-2-2zm232 0l2 2-2 2-2-2zm204 0l2 2-2 2-2-2zm-438 2l2 2-2 2-2-2zm78 2l2 2-2 2-2-2zm120 0l2 2-2 2-2-2zm24 0l2 2-2 2-2-2zm-210 2l2 2-2 2-2-2zm8 0l2 2-2 2-2-2zm12 0l2 2-2 2-2-2zm48 0l2 2-2 2-2-2zm100 0l2 2-2 2-2-2zm48 0l2 2-2 2-2-2zm-222 2l2 2-2 2-2-2zm12 0l2 2-2 2-2-2zm24 0l2 2-2 2-2-2zm44 0l2 2-2 2-2-2zm100 0l2 2-2 2-2-2zm32 0l2 2-2 2-2-2zm4 0l2 2-2 2-2-2zm-214 2l2 2-2 2-2-2zm4 0l2 2-2 2-2-2zm4 0l2 2-2 2-2-2zm8 0l2 2-2 2-2-2zm24 0l2 2-2 2-2-2zm12 0l2 2-2 2-2-2zm112 0l2 2-2 2-2-2zm4 0l2 2-2 2-2-2zm4 0l2 2-2 2-2-2zm-150 2l2 2-2 2-2-2zm20 0l2 2-2 2-2-2zm16 0l2 2-2 2-2-2zm124 0l2 2-2 2-2-2zm-178 2l2 2-2 2-2-2zm8 0l2 2-2 2-2-2zm4 0l2 2-2 2-2-2zm32 0l2 2-2 2-2-2zm172 0l2 2-2 2-2-2zm8 0l2 2-2 2-2-2zm-222 2l2 2-2 2-2-2zm76 0l2 2-2 2-2-2zm-6 2l2 2-2 2-2-2zm-30 2l2 2-2 2-2-2zm4 0l2 2-2 2-2-2zm40 0l2 2-2 2-2-2zm8 0l2 2-2 2-2-2zm14 2l2 2-2 2-2-2zm32 0l2 2-2 2-2-2zm8 0l2 2-2 2-2-2zm24 0l2 2-2 2-2-2zm-154 2l2 2-2 2-2-2zm28 0l2 2-2 2-2-2zm144 0l2 2-2 2-2-2zm-114 2l2 2-2 2-2-2zm96 0l2 2-2 2-2-2zm16 0l2 2-2 2-2-2zm-54 2l2 2-2 2-2-2zm20 0l2 2-2 2-2-2zm48 0l2 2-2 2-2-2zm4 0l2 2-2 2-2-2zm184 0l2 2-2 2-2-2zm-330 2l2 2-2 2-2-2zm72 0l2 2-2 2-2-2zm4 0l2 2-2 2-2-2zm12 0l2 2-2 2-2-2zm36 0l2 2-2 2-2-2zm-134 2l2 2-2 2-2-2zm48 0l2 2-2 2-2-2zm8 0l2 2-2 2-2-2zm4 0l2 2-2 2-2-2zm24 0l2 2-2 2-2-2zm4 0l2 2-2 2-2-2zm16 0l2 2-2 2-2-2zm24 0l2 2-2 2-2-2zm8 0l2 2-2 2-2-2zm-142 2l2 2-2 2-2-2zm52 0l2 2-2 2-2-2zm32 0l2 2-2 2-2-2zm60 0l2 2-2 2-2-2zm-98 2l2 2-2 2-2-2zm52 0l2 2-2 2-2-2zm24 0l2 2-2 2-2-2zm40 0l2 2-2 2-2-2zm-138 2l2 2-2 2-2-2zm40 0l2 2-2 2-2-2zm40 0l2 2-2 2-2-2zm60 0l2 2-2 2-2-2zm-142 2l2 2-2 2-2-2zm56 0l2 2-2 2-2-2zm20 0l2 2-2 2-2-2zm20 0l2 2-2 2-2-2zm4 0l2 2-2 2-2-2zm24 0l2 2-2 2-2-2zm8 0l2 2-2 2-2-2zm-86 2l2 2-2 2-2-2zm8 0l2 2-2 2-2-2zm44 0l2 2-2 2-2-2zm32 0l2 2-2 2-2-2zm8 0l2 2-2 2-2-2zm4 0l2 2-2 2-2-2zm116 0l2 2-2 2-2-2zm-206 2l2 2-2 2-2-2zm16 0l2 2-2 2-2-2zm16 0l2 2-2 2-2-2zm24 0l2 2-2 2-2-2zm-82 2l2 2-2 2-2-2zm4 0l2 2-2 2-2-2zm8 0l2 2-2 2-2-2zm48 0l2 2-2 2-2-2zm16 0l2 2-2 2-2-2zm-70 2l2 2-2 2-2-2zm24 0l2 2-2 2-2-2zm28 0l2 2-2 2-2-2zm8 0l2 2-2 2-2-2zm16 0l2 2-2 2-2-2zm16 0l2 2-2 2-2-2zm8 0l2 2-2 2-2-2zm-50 2l2 2-2 2-2-2zm12 0l2 2-2 2-2-2zm4 0l2 2-2 2-2-2zm4 0l2 2-2 2-2-2zm20 0l2 2-2 2-2-2zm4 0l2 2-2 2-2-2zm8 0l2 2-2 2-2-2zm-74 2l2 2-2 2-2-2zm20 0l2 2-2 2-2-2zm4 0l2 2-2 2-2-2zm20 0l2 2-2 2-2-2zm4 0l2 2-2 2-2-2zm4 0l2 2-2 2-2-2zm-58 2l2 2-2 2-2-2zm4 0l2 2-2 2-2-2zm28 0l2 2-2 2-2-2zm32 0l2 2-2 2-2-2zm8 0l2 2-2 2-2-2zm-90 2l2 2-2 2-2-2zm8 0l2 2-2 2-2-2zm28 0l2 2-2 2-2-2zm-6 2l2 2-2 2-2-2zm8 0l2 2-2 2-2-2zm20 0l2 2-2 2-2-2zm12 0l2 2-2 2-2-2zm16 0l2 2-2 2-2-2zm64 0l2 2-2 2-2-2zm-126 2l2 2-2 2-2-2zm4 0l2 2-2 2-2-2zm60 0l2 2-2 2-2-2zm12 0l2 2-2 2-2-2zm-86 2l2 2-2 2-2-2zm4 0l2 2-2 2-2-2zm4 0l2 2-2 2-2-2zm8 0l2 2-2 2-2-2zm8 0l2 2-2 2-2-2zm12 0l2 2-2 2-2-2zm16 0l2 2-2 2-2-2zm16 0l2 2-2 2-2-2zm8 0l2 2-2 2-2-2zm-70 2l2 2-2 2-2-2zm4 0l2 2-2 2-2-2zm24 0l2 2-2 2-2-2zm4 0l2 2-2 2-2-2zm12 0l2 2-2 2-2-2zm-22 2l2 2-2 2-2-2zm28 0l2 2-2 2-2-2zm52 0l2 2-2 2-2-2zm-78 2l2 2-2 2-2-2zm16 0l2 2-2 2-2-2zm4 0l2 2-2 2-2-2zm4 0l2 2-2 2-2-2zm20 0l2 2-2 2-2-2zm32 0l2 2-2 2-2-2zm-42 2l2 2-2 2-2-2zm8 0l2 2-2 2-2-2zm4 0l2 2-2 2-2-2zm18 2l2 2-2 2-2-2z"/><path fill="#dbd8df" stroke="#dbd8df" d="M303 3l2 2-2 2-2-2zm-6 2l2 2-2 2-2-2zm8 0l2 2-2 2-2-2zm-58 2l2 2-2 2-2-2zm64 0l2 2-2 2-2-2zm36 0l2 2-2 2-2-2zm-86 2l2 2-2 2-2-2zm-66 2l2 2-2 2-2-2zm100 0l2 2-2 2-2-2zm-86 2l2 2-2 2-2-2zm92 0l2 2-2 2-2-2zm-98 2l2 2-2 2-2-2zm8 0l2 2-2 2-2-2zm64 0l2 2-2 2-2-2zm24 0l2 2-2 2-2-2zm-138 2l2 2-2 2-2-2zm56 0l2 2-2 2-2-2zm8 0l2 2-2 2-2-2zm24 0l2 2-2 2-2-2zm32 0l2 2-2 2-2-2zm16 0l2 2-2 2-2-2zm4 0l2 2-2 2-2-2zm4 0l2 2-2 2-2-2zm16 0l2 2-2 2-2-2zm8 0l2 2-2 2-2-2zm12 0l2 2-2 2-2-2zm-186 2l2 2-2 2-2-2zm4 0l2 2-2 2-2-2zm12 0l2 2-2 2-2-2zm28 0l2 2-2 2-2-2zm8 0l2 2-2 2-2-2zm96 0l2 2-2 2-2-2zm4 0l2 2-2 2-2-2zm-150 2l2 2-2 2-2-2zm8 0l2 2-2 2-2-2zm64 0l2 2-2 2-2-2zm52 0l2 2-2 2-2-2zm20 0l2 2-2 2-2-2zm-150 2l2 2-2 2-2-2zm144 0l2 2-2 2-2-2zm4 0l2 2-2 2-2-2zm4 0l2 2-2 2-2-2zm2 2l2 2-2 2-2-2zm-166 2l2 2-2 2-2-2zm188 0l2 2-2 2-2-2zm-62 2l2 2-2 2-2-2zm16 0l2 2-2 2-2-2zm28 0l2 2-2 2-2-2zm-162 2l2 2-2 2-2-2zm148 0l2 2-2 2-2-2zm-170 2l2 2-2 2-2-2zm4 0l2 2-2 2-2-2zm232 0l2 2-2 2-2-2zm-234 2l2 2-2 2-2-2zm172 0l2 2-2 2-2-2zm52 0l2 2-2 2-2-2zm-238 2l2 2-2 2-2-2zm28 0l2 2-2 2-2-2zm168 0l2 2-2 2-2-2zm96 0l2 2-2 2-2-2zm-278 2l2 2-2 2-2-2zm168 0l2 2-2 2-2-2zm86 2l2 2-2 2-2-2zm16 0l2 2-2 2-2-2zm-262 2l2 2-2 2-2-2zm164 0l2 2-2 2-2-2zm64 0l2 2-2 2-2-2zm16 0l2 2-2 2-2-2zm18 2l2 2-2 2-2-2zm-286 2l2 2-2 2-2-2zm8 0l2 2-2 2-2-2zm-18 2l2 2-2 2-2-2zm288 0l2 2-2 2-2-2zm6 2l2 2-2 2-2-2zm8 0l2 2-2 2-2-2zm-2 2l2 2-2 2-2-2zm-312 4l2 2-2 2-2-2zm212 0l2 2-2 2-2-2zm84 0l2 2-2 2-2-2zm24 0l2 2-2 2-2-2zm-22 2l2 2-2 2-2-2zm8 0l2 2-2 2-2-2zm12 0l2 2-2 2-2-2zm4 0l2 2-2 2-2-2zm-318 2l2 2-2 2-2-2zm4 0l2 2-2 2-2-2zm312 0l2 2-2 2-2-2zm-302 2l2 2-2 2-2-2zm200 0l2 2-2 2-2-2zm92 0l2 2-2 2-2-2zm-306 2l2 2-2 2-2-2zm4 0l2 2-2 2-2-2zm248 0l2 2-2 2-2-2zm48 0l2 2-2 2-2-2zm20 0l2 2-2 2-2-2zm24 0l2 2-2 2-2-2zm12 0l2 2-2 2-2-2zm28 0l2 2-2 2-2-2zm-398 2l2 2-2 2-2-2zm12 0l2 2-2 2-2-2zm276 0l2 2-2 2-2-2zm40 0l2 2-2 2-2-2zm-330 2l2 2-2 2-2-2zm24 0l2 2-2 2-2-2zm204 0l2 2-2 2-2-2zm120 0l2 2-2 2-2-2zm4 0l2 2-2 2-2-2zm8 0l2 2-2 2-2-2zm28 0l2 2-2 2-2-2zm-386 2l2 2-2 2-2-2zm4 0l2 2-2 2-2-2zm8 0l2 2-2 2-2-2zm4 0l2 2-2 2-2-2zm216 0l2 2-2 2-2-2zm-46 2l2 2-2 2-2-2zm76 0l2 2-2 2-2-2zm80 0l2 2-2 2-2-2zm36 0l2 2-2 2-2-2zm20 0l2 2-2 2-2-2zm-398 2l2 2-2 2-2-2zm4 0l2 2-2 2-2-2zm220 0l2 2-2 2-2-2zm160 0l2 2-2 2-2-2zm4 0l2 2-2 2-2-2zm-110 2l2 2-2 2-2-2zm4 0l2 2-2 2-2-2zm4 0l2 2-2 2-2-2zm20 0l2 2-2 2-2-2zm-14 2l2 2-2 2-2-2zm84 0l2 2-2 2-2-2zm12 0l2 2-2 2-2-2zm28 0l2 2-2 2-2-2zm-402 2l2 2-2 2-2-2zm252 0l2 2-2 2-2-2zm24 0l2 2-2 2-2-2zm4 0l2 2-2 2-2-2zm16 0l2 2-2 2-2-2zm20 0l2 2-2 2-2-2zm-338 2l2 2-2 2-2-2zm8 0l2 2-2 2-2-2zm264 0l2 2-2 2-2-2zm44 0l2 2-2 2-2-2zm68 0l2 2-2 2-2-2zm40 0l2 2-2 2-2-2zm-410 2l2 2-2 2-2-2zm220 0l2 2-2 2-2-2zm68 0l2 2-2 2-2-2zm4 0l2 2-2 2-2-2zm20 0l2 2-2 2-2-2zm40 0l2 2-2 2-2-2zm-366 2l2 2-2 2-2-2zm8 0l2 2-2 2-2-2zm4 0l2 2-2 2-2-2zm8 0l2 2-2 2-2-2zm196 0l2 2-2 2-2-2zm4 0l2 2-2 2-2-2zm28 0l2 2-2 2-2-2zm8 0l2 2-2 2-2-2zm4 0l2 2-2 2-2-2zm8 0l2 2-2 2-2-2zm28 0l2 2-2 2-2-2zm28 0l2 2-2 2-2-2zm76 0l2 2-2 2-2-2zm-398 2l2 2-2 2-2-2zm4 0l2 2-2 2-2-2zm4 0l2 2-2 2-2-2zm20 0l2 2-2 2-2-2zm188 0l2 2-2 2-2-2zm48 0l2 2-2 2-2-2zm24 0l2 2-2 2-2-2zm64 0l2 2-2 2-2-2zm-150 2l2 2-2 2-2-2zm112 0l2 2-2 2-2-2zm64 0l2 2-2 2-2-2zm8 0l2 2-2 2-2-2zm-382 2l2 2-2 2-2-2zm12 0l2 2-2 2-2-2zm8 0l2 2-2 2-2-2zm232 0l2 2-2 2-2-2zm20 0l2 2-2 2-2-2zm36 0l2 2-2 2-2-2zm8 0l2 2-2 2-2-2zm72 0l2 2-2 2-2-2zm8 0l2 2-2 2-2-2zm16 0l2 2-2 2-2-2zm-398 2l2 2-2 2-2-2zm280 0l2 2-2 2-2-2zm24 0l2 2-2 2-2-2zm-326 2l2 2-2 2-2-2zm12 0l2 2-2 2-2-2zm4 0l2 2-2 2-2-2zm260 0l2 2-2 2-2-2zm140 0l2 2-2 2-2-2zm-382 2l2 2-2 2-2-2zm244 0l2 2-2 2-2-2zm24 0l2 2-2 2-2-2zm12 0l2 2-2 2-2-2zm68 0l2 2-2 2-2-2zm36 0l2 2-2 2-2-2zm-418 2l2 2-2 2-2-2zm12 0l2 2-2 2-2-2zm4 0l2 2-2 2-2-2zm304 0l2 2-2 2-2-2zm76 0l2 2-2 2-2-2zm4 0l2 2-2 2-2-2zm-398 2l2 2-2 2-2-2zm4 0l2 2-2 2-2-2zm4 0l2 2-2 2-2-2zm4 0l2 2-2 2-2-2zm224 0l2 2-2 2-2-2zm36 0l2 2-2 2-2-2zm4 0l2 2-2 2-2-2zm28 0l2 2-2 2-2-2zm8 0l2 2-2 2-2-2zm120 0l2 2-2 2-2-2zm-214 2l2 2-2 2-2-2zm4 0l2 2-2 2-2-2zm88 0l2 2-2 2-2-2zm28 0l2 2-2 2-2-2zm72 0l2 2-2 2-2-2zm-398 2l2 2-2 2-2-2zm268 0l2 2-2 2-2-2zm40 0l2 2-2 2-2-2zm20 0l2 2-2 2-2-2zm80 0l2 2-2 2-2-2zm-390 2l2 2-2 2-2-2zm380 0l2 2-2 2-2-2zm12 0l2 2-2 2-2-2zm-422 2l2 2-2 2-2-2zm4 0l2 2-2 2-2-2zm208 0l2 2-2 2-2-2zm76 0l2 2-2 2-2-2zm44 0l2 2-2 2-2-2zm80 0l2 2-2 2-2-2zm-398 2l2 2-2 2-2-2zm308 0l2 2-2 2-2-2zm68 0l2 2-2 2-2-2zm22 2l2 2-2 2-2-2zm4 0l2 2-2 2-2-2zm4 0l2 2-2 2-2-2zm-382 2l2 2-2 2-2-2zm192 0l2 2-2 2-2-2zm56 0l2 2-2 2-2-2zm44 0l2 2-2 2-2-2zm92 0l2 2-2 2-2-2zm-114 2l2 2-2 2-2-2zm4 0l2 2-2 2-2-2zm116 0l2 2-2 2-2-2zm4 0l2 2-2 2-2-2zm-434 2l2 2-2 2-2-2zm216 0l2 2-2 2-2-2zm124 0l2 2-2 2-2-2zm96 0l2 2-2 2-2-2zm-394 2l2 2-2 2-2-2zm276 0l2 2-2 2-2-2zm-138 2l2 2-2 2-2-2zm20 0l2 2-2 2-2-2zm60 0l2 2-2 2-2-2zm-82 2l2 2-2 2-2-2zm44 0l2 2-2 2-2-2zm144 0l2 2-2 2-2-2zm-390 2l2 2-2 2-2-2zm80 0l2 2-2 2-2-2zm148 0l2 2-2 2-2-2zm120 0l2 2-2 2-2-2zm92 0l2 2-2 2-2-2zm-246 2l2 2-2 2-2-2zm32 0l2 2-2 2-2-2zm76 0l2 2-2 2-2-2zm28 0l2 2-2 2-2-2zm116 0l2 2-2 2-2-2zm-362 2l2 2-2 2-2-2zm266 2l2 2-2 2-2-2zm112 0l2 2-2 2-2-2zm-370 2l2 2-2 2-2-2zm200 0l2 2-2 2-2-2zm168 0l2 2-2 2-2-2zm-466 2l2 2-2 2-2-2zm4 0l2 2-2 2-2-2zm92 0l2 2-2 2-2-2zm8 0l2 2-2 2-2-2zm132 0l2 2-2 2-2-2zm132 0l2 2-2 2-2-2zm-294 2l2 2-2 2-2-2zm12 0l2 2-2 2-2-2zm364 0l2 2-2 2-2-2zm12 0l2 2-2 2-2-2zm4 0l2 2-2 2-2-2zm8 0l2 2-2 2-2-2zm8 0l2 2-2 2-2-2zm-410 2l2 2-2 2-2-2zm16 0l2 2-2 2-2-2zm8 0l2 2-2 2-2-2zm72 0l2 2-2 2-2-2zm-82 2l2 2-2 2-2-2zm88 0l2 2-2 2-2-2zm20 0l2 2-2 2-2-2zm80 0l2 2-2 2-2-2zm172 0l2 2-2 2-2-2zm28 0l2 2-2 2-2-2zm-410 2l2 2-2 2-2-2zm4 0l2 2-2 2-2-2zm36 0l2 2-2 2-2-2zm100 0l2 2-2 2-2-2zm56 0l2 2-2 2-2-2zm176 0l2 2-2 2-2-2zm-62 2l2 2-2 2-2-2zm32 0l2 2-2 2-2-2zm36 0l2 2-2 2-2-2zm8 0l2 2-2 2-2-2zm-434 2l2 2-2 2-2-2zm56 0l2 2-2 2-2-2zm4 0l2 2-2 2-2-2zm20 0l2 2-2 2-2-2zm84 0l2 2-2 2-2-2zm52 0l2 2-2 2-2-2zm-162 2l2 2-2 2-2-2zm16 0l2 2-2 2-2-2zm20 0l2 2-2 2-2-2zm120 0l2 2-2 2-2-2zm144 0l2 2-2 2-2-2zm100 0l2 2-2 2-2-2zm4 0l2 2-2 2-2-2zm-450 2l2 2-2 2-2-2zm44 0l2 2-2 2-2-2zm4 0l2 2-2 2-2-2zm20 0l2 2-2 2-2-2zm140 0l2 2-2 2-2-2zm40 0l2 2-2 2-2-2zm88 0l2 2-2 2-2-2zm-350 2l2 2-2 2-2-2zm20 0l2 2-2 2-2-2zm36 0l2 2-2 2-2-2zm28 0l2 2-2 2-2-2zm116 0l2 2-2 2-2-2zm24 0l2 2-2 2-2-2zm40 0l2 2-2 2-2-2zm4 0l2 2-2 2-2-2zm4 0l2 2-2 2-2-2zm80 0l2 2-2 2-2-2zm-94 2l2 2-2 2-2-2zm8 0l2 2-2 2-2-2zm-58 2l2 2-2 2-2-2zm8 0l2 2-2 2-2-2zm80 0l2 2-2 2-2-2zm148 0l2 2-2 2-2-2zm12 0l2 2-2 2-2-2zm-206 2l2 2-2 2-2-2zm-158 2l2 2-2 2-2-2zm8 0l2 2-2 2-2-2zm148 0l2 2-2 2-2-2zm-246 2l2 2-2 2-2-2zm12 0l2 2-2 2-2-2zm64 0l2 2-2 2-2-2zm4 0l2 2-2 2-2-2zm20 0l2 2-2 2-2-2zm108 0l2 2-2 2-2-2zm44 0l2 2-2 2-2-2zm204 0l2 2-2 2-2-2zm-450 2l2 2-2 2-2-2zm72 0l2 2-2 2-2-2zm12 0l2 2-2 2-2-2zm12 0l2 2-2 2-2-2zm148 0l2 2-2 2-2-2zm-238 2l2 2-2 2-2-2zm8 0l2 2-2 2-2-2zm60 0l2 2-2 2-2-2zm118 2l2 2-2 2-2-2zm88 0l2 2-2 2-2-2zm-270 2l2 2-2 2-2-2zm4 0l2 2-2 2-2-2zm64 0l2 2-2 2-2-2zm158 2l2 2-2 2-2-2zm-226 2l2 2-2 2-2-2zm72 0l2 2-2 2-2-2zm4 0l2 2-2 2-2-2zm76 0l2 2-2 2-2-2zm20 0l2 2-2 2-2-2zm60 0l2 2-2 2-2-2zm196 0l2 2-2 2-2-2zm-422 2l2 2-2 2-2-2zm80 0l2 2-2 2-2-2zm60 0l2 2-2 2-2-2zm28 0l2 2-2 2-2-2zm4 0l2 2-2 2-2-2zm44 0l2 2-2 2-2-2zm188 0l2 2-2 2-2-2zm-410 2l2 2-2 2-2-2zm44 0l2 2-2 2-2-2zm36 0l2 2-2 2-2-2zm8 0l2 2-2 2-2-2zm92 0l2 2-2 2-2-2zm40 0l2 2-2 2-2-2zm-214 2l2 2-2 2-2-2zm24 0l2 2-2 2-2-2zm156 0l2 2-2 2-2-2zm4 0l2 2-2 2-2-2zm38 2l2 2-2 2-2-2zm-214 2l2 2-2 2-2-2zm28 0l2 2-2 2-2-2zm8 0l2 2-2 2-2-2zm24 0l2 2-2 2-2-2zm96 0l2 2-2 2-2-2zm20 0l2 2-2 2-2-2zm40 0l2 2-2 2-2-2zm-190 2l2 2-2 2-2-2zm48 0l2 2-2 2-2-2zm84 0l2 2-2 2-2-2zm4 0l2 2-2 2-2-2zm4 0l2 2-2 2-2-2zm4 0l2 2-2 2-2-2zm36 0l2 2-2 2-2-2zm-130 2l2 2-2 2-2-2zm84 0l2 2-2 2-2-2zm36 0l2 2-2 2-2-2zm208 0l2 2-2 2-2-2zm-406 2l2 2-2 2-2-2zm8 0l2 2-2 2-2-2zm36 0l2 2-2 2-2-2zm132 0l2 2-2 2-2-2zm32 0l2 2-2 2-2-2zm-202 2l2 2-2 2-2-2zm4 0l2 2-2 2-2-2zm76 0l2 2-2 2-2-2zm8 0l2 2-2 2-2-2zm108 0l2 2-2 2-2-2zm196 0l2 2-2 2-2-2zm-318 2l2 2-2 2-2-2zm52 0l2 2-2 2-2-2zm72 0l2 2-2 2-2-2zm-198 2l2 2-2 2-2-2zm4 0l2 2-2 2-2-2zm84 0l2 2-2 2-2-2zm32 0l2 2-2 2-2-2zm8 0l2 2-2 2-2-2zm-86 2l2 2-2 2-2-2zm68 0l2 2-2 2-2-2zm32 0l2 2-2 2-2-2zm32 0l2 2-2 2-2-2zm28 0l2 2-2 2-2-2zm-74 2l2 2-2 2-2-2zm4 0l2 2-2 2-2-2zm16 0l2 2-2 2-2-2zm-138 2l2 2-2 2-2-2zm132 0l2 2-2 2-2-2zm60 0l2 2-2 2-2-2zm-170 2l2 2-2 2-2-2zm160 0l2 2-2 2-2-2zm4 0l2 2-2 2-2-2zm-106 2l2 2-2 2-2-2zm20 0l2 2-2 2-2-2zm32 0l2 2-2 2-2-2zm4 0l2 2-2 2-2-2zm16 0l2 2-2 2-2-2zm-118 2l2 2-2 2-2-2zm56 0l2 2-2 2-2-2zm44 0l2 2-2 2-2-2zm8 0l2 2-2 2-2-2zm24 0l2 2-2 2-2-2zm-106 2l2 2-2 2-2-2zm80 0l2 2-2 2-2-2zm44 0l2 2-2 2-2-2zm108 0l2 2-2 2-2-2zm56 0l2 2-2 2-2-2zm-290 2l2 2-2 2-2-2zm12 0l2 2-2 2-2-2zm16 0l2 2-2 2-2-2zm4 0l2 2-2 2-2-2zm72 0l2 2-2 2-2-2zm12 0l2 2-2 2-2-2zm-134 2l2 2-2 2-2-2zm16 0l2 2-2 2-2-2zm-6 2l2 2-2 2-2-2zm8 0l2 2-2 2-2-2zm16 0l2 2-2 2-2-2zm8 0l2 2-2 2-2-2zm44 0l2 2-2 2-2-2zm36 0l2 2-2 2-2-2zm8 0l2 2-2 2-2-2zm8 0l2 2-2 2-2-2zm8 0l2 2-2 2-2-2zm120 0l2 2-2 2-2-2zm-206 2l2 2-2 2-2-2zm12 0l2 2-2 2-2-2zm-66 2l2 2-2 2-2-2zm28 0l2 2-2 2-2-2zm24 0l2 2-2 2-2-2zm8 0l2 2-2 2-2-2zm40 0l2 2-2 2-2-2zm4 0l2 2-2 2-2-2zm16 0l2 2-2 2-2-2zm8 0l2 2-2 2-2-2zm12 0l2 2-2 2-2-2zm4 0l2 2-2 2-2-2zm-110 2l2 2-2 2-2-2zm16 0l2 2-2 2-2-2zm12 0l2 2-2 2-2-2zm16 0l2 2-2 2-2-2zm8 0l2 2-2 2-2-2zm44 0l2 2-2 2-2-2zm44 0l2 2-2 2-2-2zm-154 2l2 2-2 2-2-2zm4 0l2 2-2 2-2-2zm4 0l2 2-2 2-2-2zm24 0l2 2-2 2-2-2zm4 0l2 2-2 2-2-2zm32 0l2 2-2 2-2-2zm4 0l2 2-2 2-2-2zm8 0l2 2-2 2-2-2zm24 0l2 2-2 2-2-2zm-90 2l2 2-2 2-2-2zm32 0l2 2-2 2-2-2zm32 0l2 2-2 2-2-2zm32 0l2 2-2 2-2-2zm4 0l2 2-2 2-2-2zm-74 2l2 2-2 2-2-2zm16 0l2 2-2 2-2-2zm40 0l2 2-2 2-2-2zm16 0l2 2-2 2-2-2zm48 0l2 2-2 2-2-2zm-118 2l2 2-2 2-2-2zm16 0l2 2-2 2-2-2zm20 0l2 2-2 2-2-2zm36 0l2 2-2 2-2-2zm8 0l2 2-2 2-2-2zm-102 2l2 2-2 2-2-2zm48 0l2 2-2 2-2-2zm24 0l2 2-2 2-2-2zm32 0l2 2-2 2-2-2zm24 0l2 2-2 2-2-2zm-54 2l2 2-2 2-2-2zm10 2l2 2-2 2-2-2zm-30 2l2 2-2 2-2-2zm20 0l2 2-2 2-2-2zm52 0l2 2-2 2-2-2zm-90 2l2 2-2 2-2-2zm8 0l2 2-2 2-2-2zm28 0l2 2-2 2-2-2zm16 0l2 2-2 2-2-2zm2 2l2 2-2 2-2-2zm16 0l2 2-2 2-2-2zm-6 2l2 2-2 2-2-2z"/><path fill="#d7d7dd" stroke="#d7d7dd" d="M259 3l2 2-2 2-2-2zm48 0l2 2-2 2-2-2zm-66 2l2 2-2 2-2-2zm12 0l2 2-2 2-2-2zm56 0l2 2-2 2-2-2zm-54 2l2 2-2 2-2-2zm20 0l2 2-2 2-2-2zm16 0l2 2-2 2-2-2zm8 0l2 2-2 2-2-2zm-82 2l2 2-2 2-2-2zm6 2l2 2-2 2-2-2zm32 0l2 2-2 2-2-2zm44 0l2 2-2 2-2-2zm4 0l2 2-2 2-2-2zm-122 2l2 2-2 2-2-2zm4 0l2 2-2 2-2-2zm32 0l2 2-2 2-2-2zm16 0l2 2-2 2-2-2zm48 0l2 2-2 2-2-2zm-82 2l2 2-2 2-2-2zm20 0l2 2-2 2-2-2zm36 0l2 2-2 2-2-2zm24 0l2 2-2 2-2-2zm40 0l2 2-2 2-2-2zm-62 2l2 2-2 2-2-2zm4 0l2 2-2 2-2-2zm16 0l2 2-2 2-2-2zm40 0l2 2-2 2-2-2zm16 0l2 2-2 2-2-2zm-106 2l2 2-2 2-2-2zm84 0l2 2-2 2-2-2zm8 0l2 2-2 2-2-2zm-138 2l2 2-2 2-2-2zm92 0l2 2-2 2-2-2zm32 0l2 2-2 2-2-2zm8 0l2 2-2 2-2-2zm28 0l2 2-2 2-2-2zm-62 2l2 2-2 2-2-2zm40 0l2 2-2 2-2-2zm8 0l2 2-2 2-2-2zm-62 2l2 2-2 2-2-2zm2 2l2 2-2 2-2-2zm4 0l2 2-2 2-2-2zm36 0l2 2-2 2-2-2zm-174 2l2 2-2 2-2-2zm52 0l2 2-2 2-2-2zm-50 2l2 2-2 2-2-2zm32 0l2 2-2 2-2-2zm148 0l2 2-2 2-2-2zm8 0l2 2-2 2-2-2zm-174 2l2 2-2 2-2-2zm248 0l2 2-2 2-2-2zm2 2l2 2-2 2-2-2zm-274 2l2 2-2 2-2-2zm20 0l2 2-2 2-2-2zm158 2l2 2-2 2-2-2zm52 0l2 2-2 2-2-2zm40 0l2 2-2 2-2-2zm-274 2l2 2-2 2-2-2zm16 0l2 2-2 2-2-2zm-10 2l2 2-2 2-2-2zm4 0l2 2-2 2-2-2zm264 0l2 2-2 2-2-2zm12 0l2 2-2 2-2-2zm-108 4l2 2-2 2-2-2zm100 0l2 2-2 2-2-2zm-98 2l2 2-2 2-2-2zm40 0l2 2-2 2-2-2zm68 0l2 2-2 2-2-2zm-314 2l2 2-2 2-2-2zm12 0l2 2-2 2-2-2zm8 0l2 2-2 2-2-2zm64 0l2 2-2 2-2-2zm120 0l2 2-2 2-2-2zm100 0l2 2-2 2-2-2zm-298 2l2 2-2 2-2-2zm292 0l2 2-2 2-2-2zm4 4l2 2-2 2-2-2zm20 0l2 2-2 2-2-2zm-318 2l2 2-2 2-2-2zm286 2l2 2-2 2-2-2zm16 0l2 2-2 2-2-2zm-50 2l2 2-2 2-2-2zm64 0l2 2-2 2-2-2zm4 0l2 2-2 2-2-2zm4 0l2 2-2 2-2-2zm-318 2l2 2-2 2-2-2zm300 0l2 2-2 2-2-2zm16 0l2 2-2 2-2-2zm8 0l2 2-2 2-2-2zm-346 2l2 2-2 2-2-2zm228 0l2 2-2 2-2-2zm116 0l2 2-2 2-2-2zm8 0l2 2-2 2-2-2zm-166 2l2 2-2 2-2-2zm4 0l2 2-2 2-2-2zm140 0l2 2-2 2-2-2zm20 0l2 2-2 2-2-2zm12 0l2 2-2 2-2-2zm36 0l2 2-2 2-2-2zm-182 2l2 2-2 2-2-2zm4 0l2 2-2 2-2-2zm64 0l2 2-2 2-2-2zm76 0l2 2-2 2-2-2zm-350 2l2 2-2 2-2-2zm8 0l2 2-2 2-2-2zm212 0l2 2-2 2-2-2zm60 0l2 2-2 2-2-2zm92 0l2 2-2 2-2-2zm-8 4l2 2-2 2-2-2zm20 0l2 2-2 2-2-2zm-398 2l2 2-2 2-2-2zm8 0l2 2-2 2-2-2zm8 0l2 2-2 2-2-2zm200 0l2 2-2 2-2-2zm52 0l2 2-2 2-2-2zm40 0l2 2-2 2-2-2zm32 0l2 2-2 2-2-2zm52 0l2 2-2 2-2-2zm-406 2l2 2-2 2-2-2zm16 0l2 2-2 2-2-2zm8 0l2 2-2 2-2-2zm12 0l2 2-2 2-2-2zm-18 2l2 2-2 2-2-2zm180 0l2 2-2 2-2-2zm36 0l2 2-2 2-2-2zm96 0l2 2-2 2-2-2zm4 0l2 2-2 2-2-2zm32 0l2 2-2 2-2-2zm-122 2l2 2-2 2-2-2zm8 0l2 2-2 2-2-2zm20 0l2 2-2 2-2-2zm4 0l2 2-2 2-2-2zm64 0l2 2-2 2-2-2zm28 0l2 2-2 2-2-2zm20 0l2 2-2 2-2-2zm12 0l2 2-2 2-2-2zm-370 2l2 2-2 2-2-2zm164 0l2 2-2 2-2-2zm84 0l2 2-2 2-2-2zm16 0l2 2-2 2-2-2zm16 0l2 2-2 2-2-2zm56 0l2 2-2 2-2-2zm4 0l2 2-2 2-2-2zm16 0l2 2-2 2-2-2zm-382 2l2 2-2 2-2-2zm20 0l2 2-2 2-2-2zm208 0l2 2-2 2-2-2zm12 0l2 2-2 2-2-2zm4 0l2 2-2 2-2-2zm4 0l2 2-2 2-2-2zm68 0l2 2-2 2-2-2zm36 0l2 2-2 2-2-2zm-162 2l2 2-2 2-2-2zm12 0l2 2-2 2-2-2zm28 0l2 2-2 2-2-2zm8 0l2 2-2 2-2-2zm32 0l2 2-2 2-2-2zm132 0l2 2-2 2-2-2zm8 0l2 2-2 2-2-2zm-134 2l2 2-2 2-2-2zm64 0l2 2-2 2-2-2zm40 0l2 2-2 2-2-2zm36 0l2 2-2 2-2-2zm8 0l2 2-2 2-2-2zm-198 2l2 2-2 2-2-2zm80 0l2 2-2 2-2-2zm-74 2l2 2-2 2-2-2zm168 0l2 2-2 2-2-2zm24 0l2 2-2 2-2-2zm-98 2l2 2-2 2-2-2zm64 0l2 2-2 2-2-2zm-386 2l2 2-2 2-2-2zm276 0l2 2-2 2-2-2zm-282 2l2 2-2 2-2-2zm40 0l2 2-2 2-2-2zm272 0l2 2-2 2-2-2zm20 0l2 2-2 2-2-2zm84 0l2 2-2 2-2-2zm-418 2l2 2-2 2-2-2zm44 0l2 2-2 2-2-2zm236 0l2 2-2 2-2-2zm-246 2l2 2-2 2-2-2zm212 0l2 2-2 2-2-2zm36 0l2 2-2 2-2-2zm-282 2l2 2-2 2-2-2zm8 0l2 2-2 2-2-2zm24 0l2 2-2 2-2-2zm280 0l2 2-2 2-2-2zm-282 2l2 2-2 2-2-2zm184 0l2 2-2 2-2-2zm84 0l2 2-2 2-2-2zm20 0l2 2-2 2-2-2zm128 0l2 2-2 2-2-2zm8 0l2 2-2 2-2-2zm-430 2l2 2-2 2-2-2zm190 2l2 2-2 2-2-2zm116 0l2 2-2 2-2-2zm8 0l2 2-2 2-2-2zm-118 2l2 2-2 2-2-2zm156 0l2 2-2 2-2-2zm56 0l2 2-2 2-2-2zm4 0l2 2-2 2-2-2zm-150 2l2 2-2 2-2-2zm24 0l2 2-2 2-2-2zm120 0l2 2-2 2-2-2zm-70 2l2 2-2 2-2-2zm56 0l2 2-2 2-2-2zm4 0l2 2-2 2-2-2zm-446 2l2 2-2 2-2-2zm432 0l2 2-2 2-2-2zm-362 2l2 2-2 2-2-2zm168 0l2 2-2 2-2-2zm220 0l2 2-2 2-2-2zm-230 2l2 2-2 2-2-2zm172 0l2 2-2 2-2-2zm28 0l2 2-2 2-2-2zm4 0l2 2-2 2-2-2zm-230 2l2 2-2 2-2-2zm4 0l2 2-2 2-2-2zm100 0l2 2-2 2-2-2zm28 0l2 2-2 2-2-2zm128 0l2 2-2 2-2-2zm-402 2l2 2-2 2-2-2zm40 0l2 2-2 2-2-2zm128 0l2 2-2 2-2-2zm88 0l2 2-2 2-2-2zm56 0l2 2-2 2-2-2zm84 0l2 2-2 2-2-2zm16 0l2 2-2 2-2-2zm-470 2l2 2-2 2-2-2zm76 0l2 2-2 2-2-2zm28 0l2 2-2 2-2-2zm208 0l2 2-2 2-2-2zm52 0l2 2-2 2-2-2zm20 0l2 2-2 2-2-2zm84 0l2 2-2 2-2-2zm-378 2l2 2-2 2-2-2zm236 0l2 2-2 2-2-2zm-86 2l2 2-2 2-2-2zm204 0l2 2-2 2-2-2zm36 0l2 2-2 2-2-2zm-300 4l2 2-2 2-2-2zm60 0l2 2-2 2-2-2zm12 0l2 2-2 2-2-2zm48 0l2 2-2 2-2-2zm168 0l2 2-2 2-2-2zm-370 2l2 2-2 2-2-2zm76 0l2 2-2 2-2-2zm236 0l2 2-2 2-2-2zm24 0l2 2-2 2-2-2zm20 0l2 2-2 2-2-2zm-358 2l2 2-2 2-2-2zm80 0l2 2-2 2-2-2zm108 0l2 2-2 2-2-2zm4 0l2 2-2 2-2-2zm4 0l2 2-2 2-2-2zm92 0l2 2-2 2-2-2zm40 0l2 2-2 2-2-2zm-342 2l2 2-2 2-2-2zm4 0l2 2-2 2-2-2zm120 0l2 2-2 2-2-2zm36 0l2 2-2 2-2-2zm100 0l2 2-2 2-2-2zm16 0l2 2-2 2-2-2zm92 0l2 2-2 2-2-2zm-366 2l2 2-2 2-2-2zm16 0l2 2-2 2-2-2zm76 0l2 2-2 2-2-2zm8 0l2 2-2 2-2-2zm20 0l2 2-2 2-2-2zm8 0l2 2-2 2-2-2zm80 0l2 2-2 2-2-2zm100 0l2 2-2 2-2-2zm52 0l2 2-2 2-2-2zm16 0l2 2-2 2-2-2zm-274 2l2 2-2 2-2-2zm32 0l2 2-2 2-2-2zm52 0l2 2-2 2-2-2zm92 0l2 2-2 2-2-2zm76 0l2 2-2 2-2-2zm12 0l2 2-2 2-2-2zm-238 2l2 2-2 2-2-2zm-34 2l2 2-2 2-2-2zm32 0l2 2-2 2-2-2zm260 0l2 2-2 2-2-2zm-382 2l2 2-2 2-2-2zm8 0l2 2-2 2-2-2zm96 0l2 2-2 2-2-2zm12 0l2 2-2 2-2-2zm32 0l2 2-2 2-2-2zm-174 2l2 2-2 2-2-2zm4 0l2 2-2 2-2-2zm4 0l2 2-2 2-2-2zm24 0l2 2-2 2-2-2zm140 0l2 2-2 2-2-2zm-134 2l2 2-2 2-2-2zm88 0l2 2-2 2-2-2zm4 0l2 2-2 2-2-2zm28 0l2 2-2 2-2-2zm-206 2l2 2-2 2-2-2zm76 0l2 2-2 2-2-2zm8 0l2 2-2 2-2-2zm168 0l2 2-2 2-2-2zm200 0l2 2-2 2-2-2zm-354 2l2 2-2 2-2-2zm56 0l2 2-2 2-2-2zm68 0l2 2-2 2-2-2zm36 0l2 2-2 2-2-2zm76 0l2 2-2 2-2-2zm76 0l2 2-2 2-2-2zm40 0l2 2-2 2-2-2zm-446 2l2 2-2 2-2-2zm136 0l2 2-2 2-2-2zm16 0l2 2-2 2-2-2zm-62 2l2 2-2 2-2-2zm60 0l2 2-2 2-2-2zm88 0l2 2-2 2-2-2zm12 0l2 2-2 2-2-2zm92 0l2 2-2 2-2-2zm100 0l2 2-2 2-2-2zm-450 2l2 2-2 2-2-2zm8 0l2 2-2 2-2-2zm244 0l2 2-2 2-2-2zm4 0l2 2-2 2-2-2zm88 0l2 2-2 2-2-2zm-98 2l2 2-2 2-2-2zm180 0l2 2-2 2-2-2zm-338 2l2 2-2 2-2-2zm92 0l2 2-2 2-2-2zm60 0l2 2-2 2-2-2zm8 0l2 2-2 2-2-2zm-238 2l2 2-2 2-2-2zm8 0l2 2-2 2-2-2zm4 0l2 2-2 2-2-2zm144 0l2 2-2 2-2-2zm20 0l2 2-2 2-2-2zm16 0l2 2-2 2-2-2zm32 0l2 2-2 2-2-2zm4 0l2 2-2 2-2-2zm204 0l2 2-2 2-2-2zm-258 2l2 2-2 2-2-2zm-26 2l2 2-2 2-2-2zm40 0l2 2-2 2-2-2zm4 0l2 2-2 2-2-2zm24 0l2 2-2 2-2-2zm4 0l2 2-2 2-2-2zm-210 2l2 2-2 2-2-2zm80 0l2 2-2 2-2-2zm100 0l2 2-2 2-2-2zm-142 2l2 2-2 2-2-2zm180 0l2 2-2 2-2-2zm4 0l2 2-2 2-2-2zm4 0l2 2-2 2-2-2zm192 0l2 2-2 2-2-2zm-394 2l2 2-2 2-2-2zm4 0l2 2-2 2-2-2zm120 0l2 2-2 2-2-2zm68 0l2 2-2 2-2-2zm-214 2l2 2-2 2-2-2zm72 0l2 2-2 2-2-2zm4 0l2 2-2 2-2-2zm24 0l2 2-2 2-2-2zm-62 2l2 2-2 2-2-2zm40 0l2 2-2 2-2-2zm56 0l2 2-2 2-2-2zm20 0l2 2-2 2-2-2zm-110 2l2 2-2 2-2-2zm52 0l2 2-2 2-2-2zm28 0l2 2-2 2-2-2zm64 0l2 2-2 2-2-2zm156 0l2 2-2 2-2-2zm-314 2l2 2-2 2-2-2zm4 0l2 2-2 2-2-2zm24 0l2 2-2 2-2-2zm24 0l2 2-2 2-2-2zm12 0l2 2-2 2-2-2zm12 0l2 2-2 2-2-2zm24 0l2 2-2 2-2-2zm40 0l2 2-2 2-2-2zm48 0l2 2-2 2-2-2zm-110 2l2 2-2 2-2-2zm28 0l2 2-2 2-2-2zm4 0l2 2-2 2-2-2zm100 0l2 2-2 2-2-2zm-222 2l2 2-2 2-2-2zm28 0l2 2-2 2-2-2zm8 0l2 2-2 2-2-2zm12 0l2 2-2 2-2-2zm32 0l2 2-2 2-2-2zm24 0l2 2-2 2-2-2zm44 0l2 2-2 2-2-2zm-110 2l2 2-2 2-2-2zm72 0l2 2-2 2-2-2zm8 0l2 2-2 2-2-2zm28 0l2 2-2 2-2-2zm4 0l2 2-2 2-2-2zm-50 2l2 2-2 2-2-2zm40 0l2 2-2 2-2-2zm24 0l2 2-2 2-2-2zm-126 2l2 2-2 2-2-2zm52 0l2 2-2 2-2-2zm24 0l2 2-2 2-2-2zm68 0l2 2-2 2-2-2zm20 0l2 2-2 2-2-2zm-174 2l2 2-2 2-2-2zm8 0l2 2-2 2-2-2zm136 0l2 2-2 2-2-2zm4 0l2 2-2 2-2-2zm8 0l2 2-2 2-2-2zm4 0l2 2-2 2-2-2zm12 0l2 2-2 2-2-2zm-170 2l2 2-2 2-2-2zm12 0l2 2-2 2-2-2zm20 0l2 2-2 2-2-2zm44 0l2 2-2 2-2-2zm92 0l2 2-2 2-2-2zm12 0l2 2-2 2-2-2zm-170 2l2 2-2 2-2-2zm60 0l2 2-2 2-2-2zm68 0l2 2-2 2-2-2zm-78 2l2 2-2 2-2-2zm20 0l2 2-2 2-2-2zm72 0l2 2-2 2-2-2zm112 0l2 2-2 2-2-2zm60 0l2 2-2 2-2-2zm-286 2l2 2-2 2-2-2zm16 0l2 2-2 2-2-2zm16 0l2 2-2 2-2-2zm76 0l2 2-2 2-2-2zm8 0l2 2-2 2-2-2zm-138 2l2 2-2 2-2-2zm20 0l2 2-2 2-2-2zm12 0l2 2-2 2-2-2zm4 0l2 2-2 2-2-2zm-34 2l2 2-2 2-2-2zm96 0l2 2-2 2-2-2zm-98 2l2 2-2 2-2-2zm24 0l2 2-2 2-2-2zm4 0l2 2-2 2-2-2zm16 0l2 2-2 2-2-2zm4 0l2 2-2 2-2-2zm56 0l2 2-2 2-2-2zm156 0l2 2-2 2-2-2zm-262 2l2 2-2 2-2-2zm28 0l2 2-2 2-2-2zm36 0l2 2-2 2-2-2zm68 0l2 2-2 2-2-2zm16 0l2 2-2 2-2-2zm-98 2l2 2-2 2-2-2zm24 0l2 2-2 2-2-2zm68 0l2 2-2 2-2-2zm-122 2l2 2-2 2-2-2zm8 0l2 2-2 2-2-2zm4 0l2 2-2 2-2-2zm4 0l2 2-2 2-2-2zm16 0l2 2-2 2-2-2zm216 0l2 2-2 2-2-2zm-218 2l2 2-2 2-2-2zm4 0l2 2-2 2-2-2zm20 0l2 2-2 2-2-2zm28 0l2 2-2 2-2-2zm20 0l2 2-2 2-2-2zm-86 2l2 2-2 2-2-2zm8 0l2 2-2 2-2-2zm56 0l2 2-2 2-2-2zm28 0l2 2-2 2-2-2zm-90 2l2 2-2 2-2-2zm144 0l2 2-2 2-2-2zm-106 2l2 2-2 2-2-2zm40 0l2 2-2 2-2-2zm64 0l2 2-2 2-2-2zm-122 2l2 2-2 2-2-2zm32 0l2 2-2 2-2-2zm16 0l2 2-2 2-2-2zm32 0l2 2-2 2-2-2zm52 0l2 2-2 2-2-2zm-86 2l2 2-2 2-2-2zm32 0l2 2-2 2-2-2zm40 0l2 2-2 2-2-2zm-98 2l2 2-2 2-2-2zm56 0l2 2-2 2-2-2zm8 0l2 2-2 2-2-2zm8 0l2 2-2 2-2-2zm8 0l2 2-2 2-2-2zm64 0l2 2-2 2-2-2zm-90 2l2 2-2 2-2-2zm28 0l2 2-2 2-2-2zm32 0l2 2-2 2-2-2zm24 0l2 2-2 2-2-2zm-102 2l2 2-2 2-2-2zm28 0l2 2-2 2-2-2zm24 0l2 2-2 2-2-2zm32 0l2 2-2 2-2-2zm-90 2l2 2-2 2-2-2zm16 0l2 2-2 2-2-2zm16 0l2 2-2 2-2-2zm4 0l2 2-2 2-2-2zm12 0l2 2-2 2-2-2z"/><path fill="#d3d6db" stroke="#d3d6db" d="M257 5l2 2-2 2-2-2zm-22 2l2 2-2 2-2-2zm8 0l2 2-2 2-2-2zm-34 2l2 2-2 2-2-2zm48 0l2 2-2 2-2-2zm28 0l2 2-2 2-2-2zm24 0l2 2-2 2-2-2zm-94 2l2 2-2 2-2-2zm60 0l2 2-2 2-2-2zm8 0l2 2-2 2-2-2zm28 0l2 2-2 2-2-2zm-114 2l2 2-2 2-2-2zm16 0l2 2-2 2-2-2zm-34 2l2 2-2 2-2-2zm16 0l2 2-2 2-2-2zm12 0l2 2-2 2-2-2zm88 0l2 2-2 2-2-2zm-126 2l2 2-2 2-2-2zm28 0l2 2-2 2-2-2zm-34 2l2 2-2 2-2-2zm48 0l2 2-2 2-2-2zm8 0l2 2-2 2-2-2zm76 0l2 2-2 2-2-2zm-38 2l2 2-2 2-2-2zm36 0l2 2-2 2-2-2zm16 0l2 2-2 2-2-2zm-42 2l2 2-2 2-2-2zm16 0l2 2-2 2-2-2zm-138 2l2 2-2 2-2-2zm-2 2l2 2-2 2-2-2zm4 0l2 2-2 2-2-2zm4 0l2 2-2 2-2-2zm12 0l2 2-2 2-2-2zm128 0l2 2-2 2-2-2zm-150 2l2 2-2 2-2-2zm16 0l2 2-2 2-2-2zm80 0l2 2-2 2-2-2zm56 0l2 2-2 2-2-2zm-150 2l2 2-2 2-2-2zm12 0l2 2-2 2-2-2zm124 0l2 2-2 2-2-2zm18 2l2 2-2 2-2-2zm24 0l2 2-2 2-2-2zm80 0l2 2-2 2-2-2zm-270 2l2 2-2 2-2-2zm0 4l2 2-2 2-2-2zm124 0l2 2-2 2-2-2zm98 2l2 2-2 2-2-2zm12 0l2 2-2 2-2-2zm-222 2l2 2-2 2-2-2zm-26 2l2 2-2 2-2-2zm4 0l2 2-2 2-2-2zm176 0l2 2-2 2-2-2zm104 0l2 2-2 2-2-2zm-276 4l2 2-2 2-2-2zm-14 2l2 2-2 2-2-2zm192 0l2 2-2 2-2-2zm-206 2l2 2-2 2-2-2zm200 0l2 2-2 2-2-2zm-202 2l2 2-2 2-2-2zm96 0l2 2-2 2-2-2zm52 0l2 2-2 2-2-2zm138 2l2 2-2 2-2-2zm12 0l2 2-2 2-2-2zm8 0l2 2-2 2-2-2zm4 0l2 2-2 2-2-2zm8 0l2 2-2 2-2-2zm-318 2l2 2-2 2-2-2zm88 0l2 2-2 2-2-2zm28 0l2 2-2 2-2-2zm192 0l2 2-2 2-2-2zm36 0l2 2-2 2-2-2zm-166 2l2 2-2 2-2-2zm104 0l2 2-2 2-2-2zm28 0l2 2-2 2-2-2zm-50 2l2 2-2 2-2-2zm56 0l2 2-2 2-2-2zm28 0l2 2-2 2-2-2zm-338 2l2 2-2 2-2-2zm168 0l2 2-2 2-2-2zm140 0l2 2-2 2-2-2zm-174 2l2 2-2 2-2-2zm52 0l2 2-2 2-2-2zm4 0l2 2-2 2-2-2zm12 0l2 2-2 2-2-2zm68 0l2 2-2 2-2-2zm28 0l2 2-2 2-2-2zm16 0l2 2-2 2-2-2zm28 0l2 2-2 2-2-2zm4 0l2 2-2 2-2-2zm-354 2l2 2-2 2-2-2zm316 0l2 2-2 2-2-2zm8 0l2 2-2 2-2-2zm36 0l2 2-2 2-2-2zm-46 2l2 2-2 2-2-2zm4 0l2 2-2 2-2-2zm4 0l2 2-2 2-2-2zm52 0l2 2-2 2-2-2zm4 0l2 2-2 2-2-2zm-162 2l2 2-2 2-2-2zm56 0l2 2-2 2-2-2zm96 0l2 2-2 2-2-2zm-154 2l2 2-2 2-2-2zm80 0l2 2-2 2-2-2zm84 0l2 2-2 2-2-2zm-378 2l2 2-2 2-2-2zm208 0l2 2-2 2-2-2zm4 0l2 2-2 2-2-2zm92 0l2 2-2 2-2-2zm-38 2l2 2-2 2-2-2zm48 0l2 2-2 2-2-2zm44 0l2 2-2 2-2-2zm-366 2l2 2-2 2-2-2zm220 0l2 2-2 2-2-2zm72 0l2 2-2 2-2-2zm4 0l2 2-2 2-2-2zm92 0l2 2-2 2-2-2zm-206 2l2 2-2 2-2-2zm44 0l2 2-2 2-2-2zm100 0l2 2-2 2-2-2zm64 0l2 2-2 2-2-2zm-374 2l2 2-2 2-2-2zm84 0l2 2-2 2-2-2zm84 0l2 2-2 2-2-2zm116 0l2 2-2 2-2-2zm4 0l2 2-2 2-2-2zm12 0l2 2-2 2-2-2zm24 0l2 2-2 2-2-2zm24 0l2 2-2 2-2-2zm-362 2l2 2-2 2-2-2zm176 0l2 2-2 2-2-2zm48 0l2 2-2 2-2-2zm24 0l2 2-2 2-2-2zm36 0l2 2-2 2-2-2zm72 0l2 2-2 2-2-2zm-186 2l2 2-2 2-2-2zm76 0l2 2-2 2-2-2zm112 0l2 2-2 2-2-2zm4 0l2 2-2 2-2-2zm4 0l2 2-2 2-2-2zm-382 2l2 2-2 2-2-2zm16 0l2 2-2 2-2-2zm8 0l2 2-2 2-2-2zm4 0l2 2-2 2-2-2zm268 0l2 2-2 2-2-2zm16 0l2 2-2 2-2-2zm28 0l2 2-2 2-2-2zm16 0l2 2-2 2-2-2zm64 0l2 2-2 2-2-2zm-194 2l2 2-2 2-2-2zm-200 4l2 2-2 2-2-2zm8 0l2 2-2 2-2-2zm4 0l2 2-2 2-2-2zm268 0l2 2-2 2-2-2zm24 0l2 2-2 2-2-2zm4 0l2 2-2 2-2-2zm52 0l2 2-2 2-2-2zm32 0l2 2-2 2-2-2zm-194 2l2 2-2 2-2-2zm4 0l2 2-2 2-2-2zm80 0l2 2-2 2-2-2zm20 0l2 2-2 2-2-2zm4 0l2 2-2 2-2-2zm4 0l2 2-2 2-2-2zm-118 2l2 2-2 2-2-2zm48 0l2 2-2 2-2-2zm16 0l2 2-2 2-2-2zm44 0l2 2-2 2-2-2zm8 0l2 2-2 2-2-2zm28 0l2 2-2 2-2-2zm52 0l2 2-2 2-2-2zm-186 2l2 2-2 2-2-2zm56 0l2 2-2 2-2-2zm40 0l2 2-2 2-2-2zm8 0l2 2-2 2-2-2zm72 0l2 2-2 2-2-2zm4 0l2 2-2 2-2-2zm12 0l2 2-2 2-2-2zm-422 2l2 2-2 2-2-2zm336 0l2 2-2 2-2-2zm84 0l2 2-2 2-2-2zm4 0l2 2-2 2-2-2zm-210 2l2 2-2 2-2-2zm72 0l2 2-2 2-2-2zm28 0l2 2-2 2-2-2zm84 0l2 2-2 2-2-2zm16 0l2 2-2 2-2-2zm-394 2l2 2-2 2-2-2zm388 0l2 2-2 2-2-2zm-378 2l2 2-2 2-2-2zm276 0l2 2-2 2-2-2zm12 0l2 2-2 2-2-2zm-286 2l2 2-2 2-2-2zm256 0l2 2-2 2-2-2zm8 0l2 2-2 2-2-2zm136 0l2 2-2 2-2-2zm-110 2l2 2-2 2-2-2zm108 0l2 2-2 2-2-2zm-246 2l2 2-2 2-2-2zm156 0l2 2-2 2-2-2zm20 0l2 2-2 2-2-2zm8 0l2 2-2 2-2-2zm8 0l2 2-2 2-2-2zm12 0l2 2-2 2-2-2zm12 0l2 2-2 2-2-2zm-114 2l2 2-2 2-2-2zm8 0l2 2-2 2-2-2zm14 2l2 2-2 2-2-2zm8 0l2 2-2 2-2-2zm52 0l2 2-2 2-2-2zm60 0l2 2-2 2-2-2zm-302 2l2 2-2 2-2-2zm76 0l2 2-2 2-2-2zm84 0l2 2-2 2-2-2zm88 0l2 2-2 2-2-2zm52 0l2 2-2 2-2-2zm16 0l2 2-2 2-2-2zm-382 2l2 2-2 2-2-2zm36 0l2 2-2 2-2-2zm88 0l2 2-2 2-2-2zm100 0l2 2-2 2-2-2zm4 0l2 2-2 2-2-2zm84 0l2 2-2 2-2-2zm-322 2l2 2-2 2-2-2zm236 0l2 2-2 2-2-2zm-106 2l2 2-2 2-2-2zm40 0l2 2-2 2-2-2zm120 0l2 2-2 2-2-2zm64 0l2 2-2 2-2-2zm16 0l2 2-2 2-2-2zm-442 2l2 2-2 2-2-2zm40 0l2 2-2 2-2-2zm28 0l2 2-2 2-2-2zm128 0l2 2-2 2-2-2zm216 0l2 2-2 2-2-2zm20 0l2 2-2 2-2-2zm8 0l2 2-2 2-2-2zm-346 2l2 2-2 2-2-2zm92 0l2 2-2 2-2-2zm16 0l2 2-2 2-2-2zm4 0l2 2-2 2-2-2zm20 0l2 2-2 2-2-2zm16 0l2 2-2 2-2-2zm132 0l2 2-2 2-2-2zm20 0l2 2-2 2-2-2zm-202 2l2 2-2 2-2-2zm132 0l2 2-2 2-2-2zm132 0l2 2-2 2-2-2zm-134 2l2 2-2 2-2-2zm40 0l2 2-2 2-2-2zm20 0l2 2-2 2-2-2zm68 0l2 2-2 2-2-2zm-18 2l2 2-2 2-2-2zm-342 2l2 2-2 2-2-2zm4 0l2 2-2 2-2-2zm20 0l2 2-2 2-2-2zm112 0l2 2-2 2-2-2zm4 0l2 2-2 2-2-2zm76 0l2 2-2 2-2-2zm140 0l2 2-2 2-2-2zm-262 2l2 2-2 2-2-2zm12 0l2 2-2 2-2-2zm36 0l2 2-2 2-2-2zm188 0l2 2-2 2-2-2zm12 0l2 2-2 2-2-2zm20 0l2 2-2 2-2-2zm-382 2l2 2-2 2-2-2zm84 0l2 2-2 2-2-2zm276 0l2 2-2 2-2-2zm4 0l2 2-2 2-2-2zm20 0l2 2-2 2-2-2zm8 0l2 2-2 2-2-2zm-310 2l2 2-2 2-2-2zm24 0l2 2-2 2-2-2zm36 0l2 2-2 2-2-2zm56 0l2 2-2 2-2-2zm192 0l2 2-2 2-2-2zm-462 2l2 2-2 2-2-2zm104 0l2 2-2 2-2-2zm64 0l2 2-2 2-2-2zm-66 2l2 2-2 2-2-2zm4 0l2 2-2 2-2-2zm72 0l2 2-2 2-2-2zm20 0l2 2-2 2-2-2zm72 0l2 2-2 2-2-2zm8 0l2 2-2 2-2-2zm72 0l2 2-2 2-2-2zm4 0l2 2-2 2-2-2zm72 0l2 2-2 2-2-2zm12 0l2 2-2 2-2-2zm-350 2l2 2-2 2-2-2zm16 0l2 2-2 2-2-2zm120 0l2 2-2 2-2-2zm144 0l2 2-2 2-2-2zm12 0l2 2-2 2-2-2zm72 0l2 2-2 2-2-2zm-358 2l2 2-2 2-2-2zm64 0l2 2-2 2-2-2zm84 0l2 2-2 2-2-2zm-222 2l2 2-2 2-2-2zm48 0l2 2-2 2-2-2zm104 0l2 2-2 2-2-2zm12 0l2 2-2 2-2-2zm152 0l2 2-2 2-2-2zm-198 2l2 2-2 2-2-2zm28 0l2 2-2 2-2-2zm44 0l2 2-2 2-2-2zm64 0l2 2-2 2-2-2zm188 0l2 2-2 2-2-2zm-398 2l2 2-2 2-2-2zm36 0l2 2-2 2-2-2zm8 0l2 2-2 2-2-2zm2 2l2 2-2 2-2-2zm60 0l2 2-2 2-2-2zm20 0l2 2-2 2-2-2zm20 0l2 2-2 2-2-2zm20 0l2 2-2 2-2-2zm36 0l2 2-2 2-2-2zm-258 2l2 2-2 2-2-2zm92 0l2 2-2 2-2-2zm16 0l2 2-2 2-2-2zm92 0l2 2-2 2-2-2zm48 0l2 2-2 2-2-2zm104 0l2 2-2 2-2-2zm108 0l2 2-2 2-2-2zm-366 2l2 2-2 2-2-2zm60 0l2 2-2 2-2-2zm92 0l2 2-2 2-2-2zm-246 2l2 2-2 2-2-2zm280 0l2 2-2 2-2-2zm-194 2l2 2-2 2-2-2zm360 0l2 2-2 2-2-2zm-442 2l2 2-2 2-2-2zm148 0l2 2-2 2-2-2zm88 0l2 2-2 2-2-2zm-238 2l2 2-2 2-2-2zm140 0l2 2-2 2-2-2zm12 0l2 2-2 2-2-2zm28 0l2 2-2 2-2-2zm-178 2l2 2-2 2-2-2zm84 0l2 2-2 2-2-2zm4 0l2 2-2 2-2-2zm88 0l2 2-2 2-2-2zm256 0l2 2-2 2-2-2zm-418 2l2 2-2 2-2-2zm140 0l2 2-2 2-2-2zm80 0l2 2-2 2-2-2zm24 0l2 2-2 2-2-2zm20 0l2 2-2 2-2-2zm144 0l2 2-2 2-2-2zm4 0l2 2-2 2-2-2zm-350 2l2 2-2 2-2-2zm16 0l2 2-2 2-2-2zm72 0l2 2-2 2-2-2zm4 0l2 2-2 2-2-2zm4 0l2 2-2 2-2-2zm8 0l2 2-2 2-2-2zm260 0l2 2-2 2-2-2zm-398 2l2 2-2 2-2-2zm60 0l2 2-2 2-2-2zm60 0l2 2-2 2-2-2zm12 0l2 2-2 2-2-2zm8 0l2 2-2 2-2-2zm100 0l2 2-2 2-2-2zm152 0l2 2-2 2-2-2zm-414 2l2 2-2 2-2-2zm76 0l2 2-2 2-2-2zm8 0l2 2-2 2-2-2zm80 0l2 2-2 2-2-2zm-14 2l2 2-2 2-2-2zm32 0l2 2-2 2-2-2zm58 2l2 2-2 2-2-2zm172 0l2 2-2 2-2-2zm-394 2l2 2-2 2-2-2zm124 0l2 2-2 2-2-2zm4 0l2 2-2 2-2-2zm264 0l2 2-2 2-2-2zm-394 2l2 2-2 2-2-2zm116 0l2 2-2 2-2-2zm44 0l2 2-2 2-2-2zm228 0l2 2-2 2-2-2zm-370 2l2 2-2 2-2-2zm8 0l2 2-2 2-2-2zm40 0l2 2-2 2-2-2zm4 0l2 2-2 2-2-2zm48 0l2 2-2 2-2-2zm-102 2l2 2-2 2-2-2zm176 0l2 2-2 2-2-2zm-106 2l2 2-2 2-2-2zm108 0l2 2-2 2-2-2zm16 0l2 2-2 2-2-2zm-202 2l2 2-2 2-2-2zm4 0l2 2-2 2-2-2zm4 0l2 2-2 2-2-2zm120 0l2 2-2 2-2-2zm64 0l2 2-2 2-2-2zm20 0l2 2-2 2-2-2zm-214 2l2 2-2 2-2-2zm24 0l2 2-2 2-2-2zm56 0l2 2-2 2-2-2zm8 0l2 2-2 2-2-2zm128 0l2 2-2 2-2-2zm-218 2l2 2-2 2-2-2zm88 0l2 2-2 2-2-2zm4 0l2 2-2 2-2-2zm36 0l2 2-2 2-2-2zm40 0l2 2-2 2-2-2zm-150 2l2 2-2 2-2-2zm16 0l2 2-2 2-2-2zm100 0l2 2-2 2-2-2zm52 0l2 2-2 2-2-2zm-114 2l2 2-2 2-2-2zm20 0l2 2-2 2-2-2zm96 0l2 2-2 2-2-2zm-162 2l2 2-2 2-2-2zm56 0l2 2-2 2-2-2zm-54 2l2 2-2 2-2-2zm8 0l2 2-2 2-2-2zm36 0l2 2-2 2-2-2zm204 0l2 2-2 2-2-2zm32 0l2 2-2 2-2-2zm-238 2l2 2-2 2-2-2zm152 0l2 2-2 2-2-2zm48 0l2 2-2 2-2-2zm28 0l2 2-2 2-2-2zm4 0l2 2-2 2-2-2zm-114 2l2 2-2 2-2-2zm14 2l2 2-2 2-2-2zm92 0l2 2-2 2-2-2zm-62 2l2 2-2 2-2-2zm-190 2l2 2-2 2-2-2zm20 0l2 2-2 2-2-2zm16 0l2 2-2 2-2-2zm116 0l2 2-2 2-2-2zm108 0l2 2-2 2-2-2zm-250 2l2 2-2 2-2-2zm4 0l2 2-2 2-2-2zm4 0l2 2-2 2-2-2zm32 0l2 2-2 2-2-2zm136 0l2 2-2 2-2-2zm32 0l2 2-2 2-2-2zm-198 2l2 2-2 2-2-2zm-2 2l2 2-2 2-2-2zm16 0l2 2-2 2-2-2zm30 2l2 2-2 2-2-2zm80 0l2 2-2 2-2-2zm56 0l2 2-2 2-2-2zm-110 2l2 2-2 2-2-2zm52 0l2 2-2 2-2-2zm-114 2l2 2-2 2-2-2zm24 0l2 2-2 2-2-2zm8 0l2 2-2 2-2-2zm140 0l2 2-2 2-2-2zm-70 2l2 2-2 2-2-2zm18 2l2 2-2 2-2-2zm-70 2l2 2-2 2-2-2zm22 2l2 2-2 2-2-2zm36 0l2 2-2 2-2-2zm-2 2l2 2-2 2-2-2zm20 0l2 2-2 2-2-2zm28 0l2 2-2 2-2-2zm-86 2l2 2-2 2-2-2z"/><path fill="#ced3d9" stroke="#ced3d9" d="M255 3l2 2-2 2-2-2zm36 0l2 2-2 2-2-2zm-42 2l2 2-2 2-2-2zm28 0l2 2-2 2-2-2zm4 0l2 2-2 2-2-2zm20 0l2 2-2 2-2-2zm-86 2l2 2-2 2-2-2zm44 0l2 2-2 2-2-2zm24 0l2 2-2 2-2-2zm-38 2l2 2-2 2-2-2zm-26 2l2 2-2 2-2-2zm12 0l2 2-2 2-2-2zm4 0l2 2-2 2-2-2zm72 0l2 2-2 2-2-2zm-106 2l2 2-2 2-2-2zm56 0l2 2-2 2-2-2zm52 0l2 2-2 2-2-2zm-126 2l2 2-2 2-2-2zm32 0l2 2-2 2-2-2zm36 0l2 2-2 2-2-2zm36 0l2 2-2 2-2-2zm4 0l2 2-2 2-2-2zm20 0l2 2-2 2-2-2zm-130 2l2 2-2 2-2-2zm-2 2l2 2-2 2-2-2zm36 0l2 2-2 2-2-2zm8 0l2 2-2 2-2-2zm8 0l2 2-2 2-2-2zm32 0l2 2-2 2-2-2zm20 0l2 2-2 2-2-2zm-114 2l2 2-2 2-2-2zm36 0l2 2-2 2-2-2zm8 0l2 2-2 2-2-2zm40 0l2 2-2 2-2-2zm-98 2l2 2-2 2-2-2zm4 0l2 2-2 2-2-2zm12 0l2 2-2 2-2-2zm56 0l2 2-2 2-2-2zm-78 2l2 2-2 2-2-2zm136 0l2 2-2 2-2-2zm-42 2l2 2-2 2-2-2zm4 0l2 2-2 2-2-2zm-102 2l2 2-2 2-2-2zm140 0l2 2-2 2-2-2zm-146 2l2 2-2 2-2-2zm12 0l2 2-2 2-2-2zm160 0l2 2-2 2-2-2zm-170 2l2 2-2 2-2-2zm-4 4l2 2-2 2-2-2zm-22 2l2 2-2 2-2-2zm24 0l2 2-2 2-2-2zm122 2l2 2-2 2-2-2zm28 0l2 2-2 2-2-2zm-170 2l2 2-2 2-2-2zm4 0l2 2-2 2-2-2zm16 0l2 2-2 2-2-2zm108 0l2 2-2 2-2-2zm112 0l2 2-2 2-2-2zm12 0l2 2-2 2-2-2zm-238 2l2 2-2 2-2-2zm104 0l2 2-2 2-2-2zm140 0l2 2-2 2-2-2zm-262 2l2 2-2 2-2-2zm8 0l2 2-2 2-2-2zm12 0l2 2-2 2-2-2zm152 0l2 2-2 2-2-2zm68 0l2 2-2 2-2-2zm-238 2l2 2-2 2-2-2zm240 0l2 2-2 2-2-2zm4 0l2 2-2 2-2-2zm12 0l2 2-2 2-2-2zm-250 2l2 2-2 2-2-2zm120 0l2 2-2 2-2-2zm176 0l2 2-2 2-2-2zm-230 2l2 2-2 2-2-2zm112 0l2 2-2 2-2-2zm-2 2l2 2-2 2-2-2zm96 0l2 2-2 2-2-2zm-294 2l2 2-2 2-2-2zm68 0l2 2-2 2-2-2zm24 0l2 2-2 2-2-2zm184 0l2 2-2 2-2-2zm-82 2l2 2-2 2-2-2zm148 0l2 2-2 2-2-2zm-342 2l2 2-2 2-2-2zm112 0l2 2-2 2-2-2zm32 0l2 2-2 2-2-2zm108 0l2 2-2 2-2-2zm-254 2l2 2-2 2-2-2zm272 0l2 2-2 2-2-2zm64 0l2 2-2 2-2-2zm16 0l2 2-2 2-2-2zm-370 2l2 2-2 2-2-2zm308 0l2 2-2 2-2-2zm28 0l2 2-2 2-2-2zm24 0l2 2-2 2-2-2zm-178 2l2 2-2 2-2-2zm16 0l2 2-2 2-2-2zm144 0l2 2-2 2-2-2zm-314 2l2 2-2 2-2-2zm184 0l2 2-2 2-2-2zm96 0l2 2-2 2-2-2zm-290 2l2 2-2 2-2-2zm88 0l2 2-2 2-2-2zm8 0l2 2-2 2-2-2zm100 0l2 2-2 2-2-2zm80 0l2 2-2 2-2-2zm20 0l2 2-2 2-2-2zm24 0l2 2-2 2-2-2zm28 0l2 2-2 2-2-2zm-174 2l2 2-2 2-2-2zm132 0l2 2-2 2-2-2zm12 0l2 2-2 2-2-2zm-330 2l2 2-2 2-2-2zm16 0l2 2-2 2-2-2zm168 0l2 2-2 2-2-2zm92 0l2 2-2 2-2-2zm36 0l2 2-2 2-2-2zm12 0l2 2-2 2-2-2zm-230 2l2 2-2 2-2-2zm28 0l2 2-2 2-2-2zm172 0l2 2-2 2-2-2zm20 0l2 2-2 2-2-2zm-142 2l2 2-2 2-2-2zm32 0l2 2-2 2-2-2zm8 0l2 2-2 2-2-2zm96 0l2 2-2 2-2-2zm-122 2l2 2-2 2-2-2zm118 2l2 2-2 2-2-2zm76 0l2 2-2 2-2-2zm-362 2l2 2-2 2-2-2zm156 0l2 2-2 2-2-2zm28 0l2 2-2 2-2-2zm24 0l2 2-2 2-2-2zm-18 2l2 2-2 2-2-2zm4 0l2 2-2 2-2-2zm108 0l2 2-2 2-2-2zm20 0l2 2-2 2-2-2zm-154 2l2 2-2 2-2-2zm20 0l2 2-2 2-2-2zm124 0l2 2-2 2-2-2zm60 0l2 2-2 2-2-2zm-174 2l2 2-2 2-2-2zm140 0l2 2-2 2-2-2zm-338 2l2 2-2 2-2-2zm168 0l2 2-2 2-2-2zm16 0l2 2-2 2-2-2zm112 0l2 2-2 2-2-2zm-330 2l2 2-2 2-2-2zm32 0l2 2-2 2-2-2zm300 0l2 2-2 2-2-2zm-182 2l2 2-2 2-2-2zm64 0l2 2-2 2-2-2zm168 0l2 2-2 2-2-2zm2 2l2 2-2 2-2-2zm36 0l2 2-2 2-2-2zm-82 2l2 2-2 2-2-2zm52 0l2 2-2 2-2-2zm-174 2l2 2-2 2-2-2zm104 0l2 2-2 2-2-2zm-2 2l2 2-2 2-2-2zm88 0l2 2-2 2-2-2zm-374 2l2 2-2 2-2-2zm300 0l2 2-2 2-2-2zm-250 2l2 2-2 2-2-2zm120 0l2 2-2 2-2-2zm4 0l2 2-2 2-2-2zm4 0l2 2-2 2-2-2zm72 0l2 2-2 2-2-2zm52 0l2 2-2 2-2-2zm64 0l2 2-2 2-2-2zm-80 4l2 2-2 2-2-2zm16 0l2 2-2 2-2-2zm52 0l2 2-2 2-2-2zm20 0l2 2-2 2-2-2zm-402 2l2 2-2 2-2-2zm356 0l2 2-2 2-2-2zm-46 2l2 2-2 2-2-2zm8 0l2 2-2 2-2-2zm20 0l2 2-2 2-2-2zm12 0l2 2-2 2-2-2zm-22 2l2 2-2 2-2-2zm36 0l2 2-2 2-2-2zm36 0l2 2-2 2-2-2zm16 0l2 2-2 2-2-2zm-382 2l2 2-2 2-2-2zm272 0l2 2-2 2-2-2zm12 0l2 2-2 2-2-2zm36 0l2 2-2 2-2-2zm40 0l2 2-2 2-2-2zm-230 2l2 2-2 2-2-2zm12 0l2 2-2 2-2-2zm120 0l2 2-2 2-2-2zm48 0l2 2-2 2-2-2zm-266 2l2 2-2 2-2-2zm284 0l2 2-2 2-2-2zm32 0l2 2-2 2-2-2zm-354 2l2 2-2 2-2-2zm128 0l2 2-2 2-2-2zm12 0l2 2-2 2-2-2zm28 0l2 2-2 2-2-2zm4 0l2 2-2 2-2-2zm60 0l2 2-2 2-2-2zm16 0l2 2-2 2-2-2zm8 0l2 2-2 2-2-2zm84 0l2 2-2 2-2-2zm44 0l2 2-2 2-2-2zm-282 2l2 2-2 2-2-2zm20 0l2 2-2 2-2-2zm40 0l2 2-2 2-2-2zm-2 2l2 2-2 2-2-2zm180 0l2 2-2 2-2-2zm-322 2l2 2-2 2-2-2zm112 0l2 2-2 2-2-2zm16 0l2 2-2 2-2-2zm4 0l2 2-2 2-2-2zm12 0l2 2-2 2-2-2zm68 0l2 2-2 2-2-2zm64 0l2 2-2 2-2-2zm92 0l2 2-2 2-2-2zm-366 2l2 2-2 2-2-2zm8 0l2 2-2 2-2-2zm72 0l2 2-2 2-2-2zm32 0l2 2-2 2-2-2zm24 0l2 2-2 2-2-2zm80 0l2 2-2 2-2-2zm60 0l2 2-2 2-2-2zm-258 2l2 2-2 2-2-2zm92 0l2 2-2 2-2-2zm28 0l2 2-2 2-2-2zm-134 2l2 2-2 2-2-2zm144 0l2 2-2 2-2-2zm4 0l2 2-2 2-2-2zm136 0l2 2-2 2-2-2zm60 0l2 2-2 2-2-2zm12 0l2 2-2 2-2-2zm12 0l2 2-2 2-2-2zm-294 2l2 2-2 2-2-2zm160 0l2 2-2 2-2-2zm32 0l2 2-2 2-2-2zm92 0l2 2-2 2-2-2zm-226 2l2 2-2 2-2-2zm12 0l2 2-2 2-2-2zm60 0l2 2-2 2-2-2zm8 0l2 2-2 2-2-2zm28 0l2 2-2 2-2-2zm108 0l2 2-2 2-2-2zm-290 2l2 2-2 2-2-2zm68 0l2 2-2 2-2-2zm196 0l2 2-2 2-2-2zm36 0l2 2-2 2-2-2zm-290 2l2 2-2 2-2-2zm32 0l2 2-2 2-2-2zm92 0l2 2-2 2-2-2zm100 0l2 2-2 2-2-2zm52 0l2 2-2 2-2-2zm-234 2l2 2-2 2-2-2zm8 0l2 2-2 2-2-2zm72 0l2 2-2 2-2-2zm64 0l2 2-2 2-2-2zm68 0l2 2-2 2-2-2zm32 0l2 2-2 2-2-2zm4 0l2 2-2 2-2-2zm-358 2l2 2-2 2-2-2zm92 0l2 2-2 2-2-2zm16 0l2 2-2 2-2-2zm4 0l2 2-2 2-2-2zm12 0l2 2-2 2-2-2zm4 0l2 2-2 2-2-2zm16 0l2 2-2 2-2-2zm104 0l2 2-2 2-2-2zm20 0l2 2-2 2-2-2zm80 0l2 2-2 2-2-2zm-238 2l2 2-2 2-2-2zm12 0l2 2-2 2-2-2zm16 0l2 2-2 2-2-2zm156 0l2 2-2 2-2-2zm8 0l2 2-2 2-2-2zm40 0l2 2-2 2-2-2zm24 0l2 2-2 2-2-2zm-290 2l2 2-2 2-2-2zm32 0l2 2-2 2-2-2zm28 0l2 2-2 2-2-2zm4 0l2 2-2 2-2-2zm80 0l2 2-2 2-2-2zm44 0l2 2-2 2-2-2zm-190 2l2 2-2 2-2-2zm44 0l2 2-2 2-2-2zm12 0l2 2-2 2-2-2zm12 0l2 2-2 2-2-2zm136 0l2 2-2 2-2-2zm4 0l2 2-2 2-2-2zm10 2l2 2-2 2-2-2zm-214 2l2 2-2 2-2-2zm32 0l2 2-2 2-2-2zm20 0l2 2-2 2-2-2zm12 0l2 2-2 2-2-2zm36 0l2 2-2 2-2-2zm-166 2l2 2-2 2-2-2zm96 0l2 2-2 2-2-2zm252 0l2 2-2 2-2-2zm-302 2l2 2-2 2-2-2zm8 0l2 2-2 2-2-2zm8 0l2 2-2 2-2-2zm28 0l2 2-2 2-2-2zm4 0l2 2-2 2-2-2zm60 0l2 2-2 2-2-2zm28 0l2 2-2 2-2-2zm76 0l2 2-2 2-2-2zm88 0l2 2-2 2-2-2zm4 0l2 2-2 2-2-2zm8 0l2 2-2 2-2-2zm-342 2l2 2-2 2-2-2zm144 0l2 2-2 2-2-2zm56 0l2 2-2 2-2-2zm40 0l2 2-2 2-2-2zm4 0l2 2-2 2-2-2zm60 0l2 2-2 2-2-2zm16 0l2 2-2 2-2-2zm-314 2l2 2-2 2-2-2zm68 0l2 2-2 2-2-2zm4 0l2 2-2 2-2-2zm124 0l2 2-2 2-2-2zm124 0l2 2-2 2-2-2zm16 0l2 2-2 2-2-2zm-294 2l2 2-2 2-2-2zm28 0l2 2-2 2-2-2zm128 0l2 2-2 2-2-2zm60 0l2 2-2 2-2-2zm64 0l2 2-2 2-2-2zm-430 2l2 2-2 2-2-2zm168 0l2 2-2 2-2-2zm12 0l2 2-2 2-2-2zm116 0l2 2-2 2-2-2zm56 0l2 2-2 2-2-2zm-306 2l2 2-2 2-2-2zm112 0l2 2-2 2-2-2zm172 0l2 2-2 2-2-2zm108 0l2 2-2 2-2-2zm-314 2l2 2-2 2-2-2zm52 0l2 2-2 2-2-2zm-82 2l2 2-2 2-2-2zm64 0l2 2-2 2-2-2zm-78 2l2 2-2 2-2-2zm56 0l2 2-2 2-2-2zm32 0l2 2-2 2-2-2zm156 0l2 2-2 2-2-2zm-86 2l2 2-2 2-2-2zm-146 2l2 2-2 2-2-2zm60 0l2 2-2 2-2-2zm4 0l2 2-2 2-2-2zm16 0l2 2-2 2-2-2zm248 0l2 2-2 2-2-2zm-382 2l2 2-2 2-2-2zm76 0l2 2-2 2-2-2zm36 0l2 2-2 2-2-2zm16 0l2 2-2 2-2-2zm228 0l2 2-2 2-2-2zm-358 2l2 2-2 2-2-2zm56 0l2 2-2 2-2-2zm20 0l2 2-2 2-2-2zm4 0l2 2-2 2-2-2zm44 0l2 2-2 2-2-2zm60 0l2 2-2 2-2-2zm-214 2l2 2-2 2-2-2zm96 0l2 2-2 2-2-2zm156 0l2 2-2 2-2-2zm-210 2l2 2-2 2-2-2zm64 0l2 2-2 2-2-2zm116 0l2 2-2 2-2-2zm-202 2l2 2-2 2-2-2zm84 0l2 2-2 2-2-2zm64 0l2 2-2 2-2-2zm236 0l2 2-2 2-2-2zm8 0l2 2-2 2-2-2zm-370 2l2 2-2 2-2-2zm124 0l2 2-2 2-2-2zm4 0l2 2-2 2-2-2zm-138 2l2 2-2 2-2-2zm124 0l2 2-2 2-2-2zm8 0l2 2-2 2-2-2zm80 0l2 2-2 2-2-2zm4 0l2 2-2 2-2-2zm-202 2l2 2-2 2-2-2zm104 0l2 2-2 2-2-2zm4 0l2 2-2 2-2-2zm56 0l2 2-2 2-2-2zm36 0l2 2-2 2-2-2zm28 0l2 2-2 2-2-2zm68 0l2 2-2 2-2-2zm60 0l2 2-2 2-2-2zm-378 2l2 2-2 2-2-2zm24 0l2 2-2 2-2-2zm156 0l2 2-2 2-2-2zm-158 2l2 2-2 2-2-2zm152 0l2 2-2 2-2-2zm52 0l2 2-2 2-2-2zm136 0l2 2-2 2-2-2zm-334 2l2 2-2 2-2-2zm264 0l2 2-2 2-2-2zm-194 2l2 2-2 2-2-2zm100 0l2 2-2 2-2-2zm-190 2l2 2-2 2-2-2zm164 0l2 2-2 2-2-2zm16 0l2 2-2 2-2-2zm-166 2l2 2-2 2-2-2zm168 0l2 2-2 2-2-2zm84 0l2 2-2 2-2-2zm28 0l2 2-2 2-2-2zm-282 2l2 2-2 2-2-2zm4 0l2 2-2 2-2-2zm60 0l2 2-2 2-2-2zm228 0l2 2-2 2-2-2zm20 0l2 2-2 2-2-2zm-182 2l2 2-2 2-2-2zm32 0l2 2-2 2-2-2zm124 0l2 2-2 2-2-2zm-258 2l2 2-2 2-2-2zm184 0l2 2-2 2-2-2zm4 0l2 2-2 2-2-2zm40 0l2 2-2 2-2-2zm40 0l2 2-2 2-2-2zm-126 2l2 2-2 2-2-2zm16 0l2 2-2 2-2-2zm-158 2l2 2-2 2-2-2zm116 0l2 2-2 2-2-2zm60 0l2 2-2 2-2-2zm-154 2l2 2-2 2-2-2zm150 6l2 2-2 2-2-2zm-38 2l2 2-2 2-2-2zm8 0l2 2-2 2-2-2zm8 0l2 2-2 2-2-2zm32 0l2 2-2 2-2-2zm-2 2l2 2-2 2-2-2zm8 0l2 2-2 2-2-2zm-38 2l2 2-2 2-2-2zm-62 2l2 2-2 2-2-2zm88 0l2 2-2 2-2-2zm28 4l2 2-2 2-2-2zm-42 2l2 2-2 2-2-2zm4 0l2 2-2 2-2-2zm28 0l2 2-2 2-2-2zm-26 2l2 2-2 2-2-2z"/><path fill="#c9d1d7" stroke="#c9d1d7" d="M251 3l2 2-2 2-2-2zm36 0l2 2-2 2-2-2zm-54 2l2 2-2 2-2-2zm4 0l2 2-2 2-2-2zm50 2l2 2-2 2-2-2zm-66 2l2 2-2 2-2-2zm72 0l2 2-2 2-2-2zm-6 2l2 2-2 2-2-2zm4 0l2 2-2 2-2-2zm-114 2l2 2-2 2-2-2zm44 0l2 2-2 2-2-2zm-46 2l2 2-2 2-2-2zm68 0l2 2-2 2-2-2zm40 0l2 2-2 2-2-2zm-106 2l2 2-2 2-2-2zm8 0l2 2-2 2-2-2zm8 0l2 2-2 2-2-2zm16 0l2 2-2 2-2-2zm20 0l2 2-2 2-2-2zm4 0l2 2-2 2-2-2zm-50 2l2 2-2 2-2-2zm72 0l2 2-2 2-2-2zm4 0l2 2-2 2-2-2zm28 0l2 2-2 2-2-2zm-112 4l2 2-2 2-2-2zm24 0l2 2-2 2-2-2zm-46 2l2 2-2 2-2-2zm16 0l2 2-2 2-2-2zm56 0l2 2-2 2-2-2zm24 0l2 2-2 2-2-2zm24 0l2 2-2 2-2-2zm2 2l2 2-2 2-2-2zm4 0l2 2-2 2-2-2zm-130 2l2 2-2 2-2-2zm96 0l2 2-2 2-2-2zm-86 2l2 2-2 2-2-2zm88 0l2 2-2 2-2-2zm-104 4l2 2-2 2-2-2zm16 0l2 2-2 2-2-2zm-6 2l2 2-2 2-2-2zm132 0l2 2-2 2-2-2zm-138 2l2 2-2 2-2-2zm36 0l2 2-2 2-2-2zm80 0l2 2-2 2-2-2zm24 0l2 2-2 2-2-2zm-146 2l2 2-2 2-2-2zm136 0l2 2-2 2-2-2zm8 0l2 2-2 2-2-2zm-96 4l2 2-2 2-2-2zm176 0l2 2-2 2-2-2zm-74 2l2 2-2 2-2-2zm4 0l2 2-2 2-2-2zm108 0l2 2-2 2-2-2zm-276 4l2 2-2 2-2-2zm168 0l2 2-2 2-2-2zm-184 4l2 2-2 2-2-2zm32 0l2 2-2 2-2-2zm96 0l2 2-2 2-2-2zm130 2l2 2-2 2-2-2zm-70 2l2 2-2 2-2-2zm56 0l2 2-2 2-2-2zm44 0l2 2-2 2-2-2zm-102 2l2 2-2 2-2-2zm-194 2l2 2-2 2-2-2zm92 0l2 2-2 2-2-2zm196 0l2 2-2 2-2-2zm16 0l2 2-2 2-2-2zm-218 2l2 2-2 2-2-2zm4 0l2 2-2 2-2-2zm80 0l2 2-2 2-2-2zm28 0l2 2-2 2-2-2zm64 0l2 2-2 2-2-2zm20 0l2 2-2 2-2-2zm48 0l2 2-2 2-2-2zm-326 2l2 2-2 2-2-2zm4 0l2 2-2 2-2-2zm32 0l2 2-2 2-2-2zm48 0l2 2-2 2-2-2zm94 2l2 2-2 2-2-2zm4 0l2 2-2 2-2-2zm152 0l2 2-2 2-2-2zm-206 2l2 2-2 2-2-2zm156 0l2 2-2 2-2-2zm32 0l2 2-2 2-2-2zm-286 2l2 2-2 2-2-2zm156 0l2 2-2 2-2-2zm100 0l2 2-2 2-2-2zm80 0l2 2-2 2-2-2zm-42 2l2 2-2 2-2-2zm-22 2l2 2-2 2-2-2zm76 0l2 2-2 2-2-2zm-386 2l2 2-2 2-2-2zm280 0l2 2-2 2-2-2zm20 0l2 2-2 2-2-2zm24 0l2 2-2 2-2-2zm-238 2l2 2-2 2-2-2zm200 0l2 2-2 2-2-2zm36 0l2 2-2 2-2-2zm-46 2l2 2-2 2-2-2zm48 0l2 2-2 2-2-2zm-150 2l2 2-2 2-2-2zm120 0l2 2-2 2-2-2zm36 0l2 2-2 2-2-2zm12 0l2 2-2 2-2-2zm4 0l2 2-2 2-2-2zm-142 2l2 2-2 2-2-2zm-210 2l2 2-2 2-2-2zm348 0l2 2-2 2-2-2zm-202 2l2 2-2 2-2-2zm56 0l2 2-2 2-2-2zm96 0l2 2-2 2-2-2zm24 0l2 2-2 2-2-2zm16 0l2 2-2 2-2-2zm-196 4l2 2-2 2-2-2zm68 0l2 2-2 2-2-2zm96 0l2 2-2 2-2-2zm48 0l2 2-2 2-2-2zm12 0l2 2-2 2-2-2zm28 0l2 2-2 2-2-2zm-386 2l2 2-2 2-2-2zm64 0l2 2-2 2-2-2zm244 0l2 2-2 2-2-2zm20 0l2 2-2 2-2-2zm-250 2l2 2-2 2-2-2zm112 0l2 2-2 2-2-2zm12 0l2 2-2 2-2-2zm-214 2l2 2-2 2-2-2zm204 0l2 2-2 2-2-2zm4 0l2 2-2 2-2-2zm80 0l2 2-2 2-2-2zm116 0l2 2-2 2-2-2zm-260 4l2 2-2 2-2-2zm144 0l2 2-2 2-2-2zm16 0l2 2-2 2-2-2zm20 0l2 2-2 2-2-2zm-306 2l2 2-2 2-2-2zm160 0l2 2-2 2-2-2zm12 0l2 2-2 2-2-2zm128 0l2 2-2 2-2-2zm64 0l2 2-2 2-2-2zm-362 2l2 2-2 2-2-2zm2 2l2 2-2 2-2-2zm316 0l2 2-2 2-2-2zm52 0l2 2-2 2-2-2zm-368 4l2 2-2 2-2-2zm160 0l2 2-2 2-2-2zm136 0l2 2-2 2-2-2zm12 0l2 2-2 2-2-2zm24 0l2 2-2 2-2-2zm32 0l2 2-2 2-2-2zm-194 2l2 2-2 2-2-2zm152 0l2 2-2 2-2-2zm40 0l2 2-2 2-2-2zm-194 2l2 2-2 2-2-2zm128 0l2 2-2 2-2-2zm36 0l2 2-2 2-2-2zm4 0l2 2-2 2-2-2zm-58 2l2 2-2 2-2-2zm8 0l2 2-2 2-2-2zm76 0l2 2-2 2-2-2zm4 0l2 2-2 2-2-2zm12 0l2 2-2 2-2-2zm-330 2l2 2-2 2-2-2zm84 0l2 2-2 2-2-2zm36 0l2 2-2 2-2-2zm80 0l2 2-2 2-2-2zm48 0l2 2-2 2-2-2zm-262 2l2 2-2 2-2-2zm92 0l2 2-2 2-2-2zm4 0l2 2-2 2-2-2zm120 0l2 2-2 2-2-2zm12 0l2 2-2 2-2-2zm16 0l2 2-2 2-2-2zm16 0l2 2-2 2-2-2zm76 0l2 2-2 2-2-2zm-338 2l2 2-2 2-2-2zm8 0l2 2-2 2-2-2zm100 0l2 2-2 2-2-2zm24 0l2 2-2 2-2-2zm132 0l2 2-2 2-2-2zm-254 2l2 2-2 2-2-2zm44 0l2 2-2 2-2-2zm68 0l2 2-2 2-2-2zm92 0l2 2-2 2-2-2zm-214 2l2 2-2 2-2-2zm16 0l2 2-2 2-2-2zm96 0l2 2-2 2-2-2zm212 0l2 2-2 2-2-2zm4 0l2 2-2 2-2-2zm4 0l2 2-2 2-2-2zm-326 2l2 2-2 2-2-2zm200 0l2 2-2 2-2-2zm16 0l2 2-2 2-2-2zm8 0l2 2-2 2-2-2zm-98 2l2 2-2 2-2-2zm152 0l2 2-2 2-2-2zm4 0l2 2-2 2-2-2zm56 0l2 2-2 2-2-2zm4 0l2 2-2 2-2-2zm4 0l2 2-2 2-2-2zm-218 2l2 2-2 2-2-2zm80 0l2 2-2 2-2-2zm144 0l2 2-2 2-2-2zm-298 2l2 2-2 2-2-2zm16 0l2 2-2 2-2-2zm24 0l2 2-2 2-2-2zm108 0l2 2-2 2-2-2zm60 0l2 2-2 2-2-2zm80 0l2 2-2 2-2-2zm8 0l2 2-2 2-2-2zm4 0l2 2-2 2-2-2zm-250 2l2 2-2 2-2-2zm92 0l2 2-2 2-2-2zm68 0l2 2-2 2-2-2zm-174 2l2 2-2 2-2-2zm24 0l2 2-2 2-2-2zm140 0l2 2-2 2-2-2zm-250 2l2 2-2 2-2-2zm108 0l2 2-2 2-2-2zm88 0l2 2-2 2-2-2zm8 0l2 2-2 2-2-2zm32 0l2 2-2 2-2-2zm44 0l2 2-2 2-2-2zm20 0l2 2-2 2-2-2zm16 0l2 2-2 2-2-2zm24 0l2 2-2 2-2-2zm-222 2l2 2-2 2-2-2zm8 0l2 2-2 2-2-2zm64 0l2 2-2 2-2-2zm36 0l2 2-2 2-2-2zm44 0l2 2-2 2-2-2zm28 0l2 2-2 2-2-2zm-230 2l2 2-2 2-2-2zm44 0l2 2-2 2-2-2zm80 0l2 2-2 2-2-2zm56 0l2 2-2 2-2-2zm-242 2l2 2-2 2-2-2zm52 0l2 2-2 2-2-2zm4 0l2 2-2 2-2-2zm20 0l2 2-2 2-2-2zm192 0l2 2-2 2-2-2zm20 0l2 2-2 2-2-2zm-218 2l2 2-2 2-2-2zm4 0l2 2-2 2-2-2zm188 0l2 2-2 2-2-2zm24 0l2 2-2 2-2-2zm56 0l2 2-2 2-2-2zm-270 2l2 2-2 2-2-2zm52 0l2 2-2 2-2-2zm32 0l2 2-2 2-2-2zm8 0l2 2-2 2-2-2zm68 0l2 2-2 2-2-2zm28 0l2 2-2 2-2-2zm8 0l2 2-2 2-2-2zm68 0l2 2-2 2-2-2zm-286 2l2 2-2 2-2-2zm116 0l2 2-2 2-2-2zm60 0l2 2-2 2-2-2zm20 0l2 2-2 2-2-2zm-266 2l2 2-2 2-2-2zm4 0l2 2-2 2-2-2zm52 0l2 2-2 2-2-2zm36 0l2 2-2 2-2-2zm160 0l2 2-2 2-2-2zm96 0l2 2-2 2-2-2zm12 0l2 2-2 2-2-2zm-330 2l2 2-2 2-2-2zm36 0l2 2-2 2-2-2zm8 0l2 2-2 2-2-2zm32 0l2 2-2 2-2-2zm136 0l2 2-2 2-2-2zm4 0l2 2-2 2-2-2zm16 0l2 2-2 2-2-2zm60 0l2 2-2 2-2-2zm-402 2l2 2-2 2-2-2zm88 0l2 2-2 2-2-2zm76 0l2 2-2 2-2-2zm20 0l2 2-2 2-2-2zm136 0l2 2-2 2-2-2zm8 0l2 2-2 2-2-2zm92 0l2 2-2 2-2-2zm16 0l2 2-2 2-2-2zm-326 2l2 2-2 2-2-2zm24 0l2 2-2 2-2-2zm8 0l2 2-2 2-2-2zm20 0l2 2-2 2-2-2zm160 0l2 2-2 2-2-2zm-226 2l2 2-2 2-2-2zm16 0l2 2-2 2-2-2zm28 0l2 2-2 2-2-2zm4 0l2 2-2 2-2-2zm112 0l2 2-2 2-2-2zm80 0l2 2-2 2-2-2zm48 0l2 2-2 2-2-2zm-242 2l2 2-2 2-2-2zm4 0l2 2-2 2-2-2zm32 0l2 2-2 2-2-2zm12 0l2 2-2 2-2-2zm56 0l2 2-2 2-2-2zm200 0l2 2-2 2-2-2zm-358 2l2 2-2 2-2-2zm56 0l2 2-2 2-2-2zm48 0l2 2-2 2-2-2zm64 0l2 2-2 2-2-2zm104 0l2 2-2 2-2-2zm-274 2l2 2-2 2-2-2zm64 0l2 2-2 2-2-2zm12 0l2 2-2 2-2-2zm188 0l2 2-2 2-2-2zm-206 2l2 2-2 2-2-2zm36 0l2 2-2 2-2-2zm64 0l2 2-2 2-2-2zm40 0l2 2-2 2-2-2zm156 0l2 2-2 2-2-2zm-270 2l2 2-2 2-2-2zm-34 2l2 2-2 2-2-2zm4 0l2 2-2 2-2-2zm48 0l2 2-2 2-2-2zm76 0l2 2-2 2-2-2zm28 0l2 2-2 2-2-2zm148 0l2 2-2 2-2-2zm-342 2l2 2-2 2-2-2zm40 0l2 2-2 2-2-2zm116 0l2 2-2 2-2-2zm24 0l2 2-2 2-2-2zm4 0l2 2-2 2-2-2zm12 0l2 2-2 2-2-2zm48 0l2 2-2 2-2-2zm64 0l2 2-2 2-2-2zm28 0l2 2-2 2-2-2zm-390 2l2 2-2 2-2-2zm192 0l2 2-2 2-2-2zm4 0l2 2-2 2-2-2zm56 0l2 2-2 2-2-2zm20 0l2 2-2 2-2-2zm68 0l2 2-2 2-2-2zm44 0l2 2-2 2-2-2zm-310 2l2 2-2 2-2-2zm160 0l2 2-2 2-2-2zm40 0l2 2-2 2-2-2zm-214 2l2 2-2 2-2-2zm60 0l2 2-2 2-2-2zm-126 2l2 2-2 2-2-2zm124 0l2 2-2 2-2-2zm-62 2l2 2-2 2-2-2zm44 0l2 2-2 2-2-2zm156 0l2 2-2 2-2-2zm-186 2l2 2-2 2-2-2zm62 2l2 2-2 2-2-2zm244 0l2 2-2 2-2-2zm-386 2l2 2-2 2-2-2zm4 0l2 2-2 2-2-2zm272 0l2 2-2 2-2-2zm4 0l2 2-2 2-2-2zm80 0l2 2-2 2-2-2zm-278 2l2 2-2 2-2-2zm28 0l2 2-2 2-2-2zm168 0l2 2-2 2-2-2zm96 0l2 2-2 2-2-2zm-282 2l2 2-2 2-2-2zm12 0l2 2-2 2-2-2zm92 0l2 2-2 2-2-2zm40 0l2 2-2 2-2-2zm-26 2l2 2-2 2-2-2zm-204 4l2 2-2 2-2-2zm172 0l2 2-2 2-2-2zm-6 2l2 2-2 2-2-2zm-78 2l2 2-2 2-2-2zm108 0l2 2-2 2-2-2zm20 0l2 2-2 2-2-2zm2 2l2 2-2 2-2-2zm124 0l2 2-2 2-2-2zm-330 2l2 2-2 2-2-2zm188 0l2 2-2 2-2-2zm112 0l2 2-2 2-2-2zm-118 2l2 2-2 2-2-2zm60 0l2 2-2 2-2-2zm16 0l2 2-2 2-2-2zm12 0l2 2-2 2-2-2zm-262 2l2 2-2 2-2-2zm52 0l2 2-2 2-2-2zm4 0l2 2-2 2-2-2zm120 0l2 2-2 2-2-2zm40 0l2 2-2 2-2-2zm52 0l2 2-2 2-2-2zm52 0l2 2-2 2-2-2zm-178 2l2 2-2 2-2-2zm64 0l2 2-2 2-2-2zm-174 2l2 2-2 2-2-2zm208 0l2 2-2 2-2-2zm72 0l2 2-2 2-2-2zm-286 2l2 2-2 2-2-2zm176 0l2 2-2 2-2-2zm28 0l2 2-2 2-2-2zm-210 2l2 2-2 2-2-2zm4 0l2 2-2 2-2-2zm6 2l2 2-2 2-2-2zm132 0l2 2-2 2-2-2zm36 0l2 2-2 2-2-2zm16 0l2 2-2 2-2-2zm-14 2l2 2-2 2-2-2zm-154 2l2 2-2 2-2-2zm124 0l2 2-2 2-2-2zm52 0l2 2-2 2-2-2zm60 0l2 2-2 2-2-2zm-134 2l2 2-2 2-2-2zm12 0l2 2-2 2-2-2zm12 0l2 2-2 2-2-2zm28 0l2 2-2 2-2-2zm-2 2l2 2-2 2-2-2zm4 0l2 2-2 2-2-2zm16 0l2 2-2 2-2-2zm8 0l2 2-2 2-2-2zm-66 2l2 2-2 2-2-2zm48 0l2 2-2 2-2-2zm12 0l2 2-2 2-2-2zm-58 2l2 2-2 2-2-2zm56 0l2 2-2 2-2-2zm-22 2l2 2-2 2-2-2zm20 0l2 2-2 2-2-2zm-50 2l2 2-2 2-2-2zm4 0l2 2-2 2-2-2zm36 0l2 2-2 2-2-2zm-6 2l2 2-2 2-2-2z"/><path fill="#c4ced4" stroke="#c4ced4" d="M279 3l2 2-2 2-2-2zm-34 2l2 2-2 2-2-2zm-6 2l2 2-2 2-2-2zm12 0l2 2-2 2-2-2zm28 0l2 2-2 2-2-2zm16 0l2 2-2 2-2-2zm-70 2l2 2-2 2-2-2zm16 0l2 2-2 2-2-2zm36 0l2 2-2 2-2-2zm12 0l2 2-2 2-2-2zm-46 2l2 2-2 2-2-2zm18 2l2 2-2 2-2-2zm-90 2l2 2-2 2-2-2zm52 0l2 2-2 2-2-2zm36 0l2 2-2 2-2-2zm-70 2l2 2-2 2-2-2zm32 0l2 2-2 2-2-2zm68 0l2 2-2 2-2-2zm-94 2l2 2-2 2-2-2zm22 2l2 2-2 2-2-2zm8 0l2 2-2 2-2-2zm24 0l2 2-2 2-2-2zm36 0l2 2-2 2-2-2zm-122 2l2 2-2 2-2-2zm112 0l2 2-2 2-2-2zm-114 2l2 2-2 2-2-2zm120 0l2 2-2 2-2-2zm-122 2l2 2-2 2-2-2zm8 0l2 2-2 2-2-2zm116 0l2 2-2 2-2-2zm-54 2l2 2-2 2-2-2zm22 2l2 2-2 2-2-2zm24 0l2 2-2 2-2-2zm12 0l2 2-2 2-2-2zm6 2l2 2-2 2-2-2zm-142 2l2 2-2 2-2-2zm16 0l2 2-2 2-2-2zm88 0l2 2-2 2-2-2zm-90 2l2 2-2 2-2-2zm4 0l2 2-2 2-2-2zm4 0l2 2-2 2-2-2zm98 2l2 2-2 2-2-2zm-134 6l2 2-2 2-2-2zm40 0l2 2-2 2-2-2zm80 0l2 2-2 2-2-2zm32 0l2 2-2 2-2-2zm72 0l2 2-2 2-2-2zm-234 2l2 2-2 2-2-2zm120 0l2 2-2 2-2-2zm-114 2l2 2-2 2-2-2zm44 0l2 2-2 2-2-2zm188 0l2 2-2 2-2-2zm-174 2l2 2-2 2-2-2zm-66 2l2 2-2 2-2-2zm-26 2l2 2-2 2-2-2zm184 0l2 2-2 2-2-2zm-166 2l2 2-2 2-2-2zm124 0l2 2-2 2-2-2zm-50 2l2 2-2 2-2-2zm-6 2l2 2-2 2-2-2zm4 0l2 2-2 2-2-2zm4 0l2 2-2 2-2-2zm196 0l2 2-2 2-2-2zm8 0l2 2-2 2-2-2zm-186 2l2 2-2 2-2-2zm92 0l2 2-2 2-2-2zm84 0l2 2-2 2-2-2zm16 0l2 2-2 2-2-2zm-218 2l2 2-2 2-2-2zm28 0l2 2-2 2-2-2zm52 0l2 2-2 2-2-2zm32 0l2 2-2 2-2-2zm-118 2l2 2-2 2-2-2zm92 0l2 2-2 2-2-2zm4 0l2 2-2 2-2-2zm136 0l2 2-2 2-2-2zm-314 2l2 2-2 2-2-2zm92 0l2 2-2 2-2-2zm92 0l2 2-2 2-2-2zm92 0l2 2-2 2-2-2zm-106 2l2 2-2 2-2-2zm116 0l2 2-2 2-2-2zm44 0l2 2-2 2-2-2zm48 0l2 2-2 2-2-2zm-242 2l2 2-2 2-2-2zm144 0l2 2-2 2-2-2zm24 0l2 2-2 2-2-2zm44 0l2 2-2 2-2-2zm-350 2l2 2-2 2-2-2zm12 0l2 2-2 2-2-2zm192 0l2 2-2 2-2-2zm84 0l2 2-2 2-2-2zm8 0l2 2-2 2-2-2zm-246 2l2 2-2 2-2-2zm148 0l2 2-2 2-2-2zm4 0l2 2-2 2-2-2zm156 0l2 2-2 2-2-2zm-190 2l2 2-2 2-2-2zm148 0l2 2-2 2-2-2zm4 0l2 2-2 2-2-2zm-210 2l2 2-2 2-2-2zm52 0l2 2-2 2-2-2zm172 0l2 2-2 2-2-2zm16 0l2 2-2 2-2-2zm4 0l2 2-2 2-2-2zm-354 2l2 2-2 2-2-2zm4 0l2 2-2 2-2-2zm140 0l2 2-2 2-2-2zm64 0l2 2-2 2-2-2zm80 0l2 2-2 2-2-2zm68 0l2 2-2 2-2-2zm-354 2l2 2-2 2-2-2zm168 0l2 2-2 2-2-2zm28 0l2 2-2 2-2-2zm120 0l2 2-2 2-2-2zm-142 2l2 2-2 2-2-2zm12 0l2 2-2 2-2-2zm104 0l2 2-2 2-2-2zm28 0l2 2-2 2-2-2zm8 0l2 2-2 2-2-2zm-258 2l2 2-2 2-2-2zm4 0l2 2-2 2-2-2zm108 0l2 2-2 2-2-2zm160 0l2 2-2 2-2-2zm-346 2l2 2-2 2-2-2zm16 0l2 2-2 2-2-2zm180 0l2 2-2 2-2-2zm92 0l2 2-2 2-2-2zm-202 2l2 2-2 2-2-2zm204 0l2 2-2 2-2-2zm44 0l2 2-2 2-2-2zm28 0l2 2-2 2-2-2zm-270 2l2 2-2 2-2-2zm32 0l2 2-2 2-2-2zm76 0l2 2-2 2-2-2zm8 0l2 2-2 2-2-2zm84 0l2 2-2 2-2-2zm-206 2l2 2-2 2-2-2zm4 0l2 2-2 2-2-2zm52 0l2 2-2 2-2-2zm48 0l2 2-2 2-2-2zm100 0l2 2-2 2-2-2zm30 2l2 2-2 2-2-2zm10 2l2 2-2 2-2-2zm16 0l2 2-2 2-2-2zm-234 2l2 2-2 2-2-2zm204 0l2 2-2 2-2-2zm28 0l2 2-2 2-2-2zm20 0l2 2-2 2-2-2zm-342 2l2 2-2 2-2-2zm344 0l2 2-2 2-2-2zm-182 2l2 2-2 2-2-2zm112 0l2 2-2 2-2-2zm-184 4l2 2-2 2-2-2zm60 0l2 2-2 2-2-2zm8 0l2 2-2 2-2-2zm4 0l2 2-2 2-2-2zm116 0l2 2-2 2-2-2zm68 0l2 2-2 2-2-2zm-194 2l2 2-2 2-2-2zm188 0l2 2-2 2-2-2zm-194 2l2 2-2 2-2-2zm116 0l2 2-2 2-2-2zm8 0l2 2-2 2-2-2zm-278 2l2 2-2 2-2-2zm284 0l2 2-2 2-2-2zm16 0l2 2-2 2-2-2zm84 0l2 2-2 2-2-2zm-382 2l2 2-2 2-2-2zm144 0l2 2-2 2-2-2zm140 0l2 2-2 2-2-2zm88 0l2 2-2 2-2-2zm-18 2l2 2-2 2-2-2zm-338 2l2 2-2 2-2-2zm68 0l2 2-2 2-2-2zm44 0l2 2-2 2-2-2zm12 0l2 2-2 2-2-2zm28 0l2 2-2 2-2-2zm100 0l2 2-2 2-2-2zm72 0l2 2-2 2-2-2zm28 0l2 2-2 2-2-2zm-230 2l2 2-2 2-2-2zm20 0l2 2-2 2-2-2zm8 0l2 2-2 2-2-2zm96 0l2 2-2 2-2-2zm44 0l2 2-2 2-2-2zm60 0l2 2-2 2-2-2zm4 0l2 2-2 2-2-2zm8 0l2 2-2 2-2-2zm-350 2l2 2-2 2-2-2zm104 0l2 2-2 2-2-2zm32 0l2 2-2 2-2-2zm8 0l2 2-2 2-2-2zm132 0l2 2-2 2-2-2zm4 0l2 2-2 2-2-2zm28 0l2 2-2 2-2-2zm48 0l2 2-2 2-2-2zm-346 2l2 2-2 2-2-2zm4 0l2 2-2 2-2-2zm292 0l2 2-2 2-2-2zm16 0l2 2-2 2-2-2zm-338 2l2 2-2 2-2-2zm28 0l2 2-2 2-2-2zm4 0l2 2-2 2-2-2zm80 0l2 2-2 2-2-2zm164 0l2 2-2 2-2-2zm56 0l2 2-2 2-2-2zm32 0l2 2-2 2-2-2zm-346 2l2 2-2 2-2-2zm48 0l2 2-2 2-2-2zm20 0l2 2-2 2-2-2zm12 0l2 2-2 2-2-2zm40 0l2 2-2 2-2-2zm24 0l2 2-2 2-2-2zm132 0l2 2-2 2-2-2zm64 0l2 2-2 2-2-2zm12 0l2 2-2 2-2-2zm8 0l2 2-2 2-2-2zm-358 2l2 2-2 2-2-2zm80 0l2 2-2 2-2-2zm16 0l2 2-2 2-2-2zm48 0l2 2-2 2-2-2zm60 0l2 2-2 2-2-2zm64 0l2 2-2 2-2-2zm44 0l2 2-2 2-2-2zm-230 2l2 2-2 2-2-2zm12 0l2 2-2 2-2-2zm20 0l2 2-2 2-2-2zm12 0l2 2-2 2-2-2zm88 0l2 2-2 2-2-2zm20 0l2 2-2 2-2-2zm-226 2l2 2-2 2-2-2zm88 0l2 2-2 2-2-2zm4 0l2 2-2 2-2-2zm12 0l2 2-2 2-2-2zm180 0l2 2-2 2-2-2zm-282 2l2 2-2 2-2-2zm116 0l2 2-2 2-2-2zm72 0l2 2-2 2-2-2zm20 0l2 2-2 2-2-2zm84 0l2 2-2 2-2-2zm-194 2l2 2-2 2-2-2zm4 0l2 2-2 2-2-2zm80 0l2 2-2 2-2-2zm96 0l2 2-2 2-2-2zm-278 2l2 2-2 2-2-2zm72 0l2 2-2 2-2-2zm4 0l2 2-2 2-2-2zm16 0l2 2-2 2-2-2zm16 0l2 2-2 2-2-2zm32 0l2 2-2 2-2-2zm88 0l2 2-2 2-2-2zm16 0l2 2-2 2-2-2zm8 0l2 2-2 2-2-2zm12 0l2 2-2 2-2-2zm32 0l2 2-2 2-2-2zm4 0l2 2-2 2-2-2zm-282 2l2 2-2 2-2-2zm84 0l2 2-2 2-2-2zm12 0l2 2-2 2-2-2zm172 0l2 2-2 2-2-2zm8 0l2 2-2 2-2-2zm4 0l2 2-2 2-2-2zm52 0l2 2-2 2-2-2zm4 0l2 2-2 2-2-2zm-274 2l2 2-2 2-2-2zm124 0l2 2-2 2-2-2zm96 0l2 2-2 2-2-2zm4 0l2 2-2 2-2-2zm12 0l2 2-2 2-2-2zm-258 2l2 2-2 2-2-2zm136 0l2 2-2 2-2-2zm88 0l2 2-2 2-2-2zm-290 2l2 2-2 2-2-2zm76 0l2 2-2 2-2-2zm64 0l2 2-2 2-2-2zm112 0l2 2-2 2-2-2zm8 0l2 2-2 2-2-2zm84 0l2 2-2 2-2-2zm-62 2l2 2-2 2-2-2zm52 0l2 2-2 2-2-2zm24 0l2 2-2 2-2-2zm-294 2l2 2-2 2-2-2zm16 0l2 2-2 2-2-2zm32 0l2 2-2 2-2-2zm88 0l2 2-2 2-2-2zm28 0l2 2-2 2-2-2zm28 0l2 2-2 2-2-2zm44 0l2 2-2 2-2-2zm-290 2l2 2-2 2-2-2zm36 0l2 2-2 2-2-2zm32 0l2 2-2 2-2-2zm8 0l2 2-2 2-2-2zm32 0l2 2-2 2-2-2zm24 0l2 2-2 2-2-2zm92 0l2 2-2 2-2-2zm8 0l2 2-2 2-2-2zm20 0l2 2-2 2-2-2zm16 0l2 2-2 2-2-2zm44 0l2 2-2 2-2-2zm40 0l2 2-2 2-2-2zm-346 2l2 2-2 2-2-2zm40 0l2 2-2 2-2-2zm224 0l2 2-2 2-2-2zm38 2l2 2-2 2-2-2zm8 0l2 2-2 2-2-2zm-238 2l2 2-2 2-2-2zm8 0l2 2-2 2-2-2zm72 0l2 2-2 2-2-2zm164 0l2 2-2 2-2-2zm-258 2l2 2-2 2-2-2zm20 0l2 2-2 2-2-2zm104 0l2 2-2 2-2-2zm160 0l2 2-2 2-2-2zm-278 2l2 2-2 2-2-2zm220 0l2 2-2 2-2-2zm-274 2l2 2-2 2-2-2zm44 0l2 2-2 2-2-2zm8 0l2 2-2 2-2-2zm172 0l2 2-2 2-2-2zm12 0l2 2-2 2-2-2zm12 0l2 2-2 2-2-2zm24 0l2 2-2 2-2-2zm64 0l2 2-2 2-2-2zm-286 2l2 2-2 2-2-2zm12 0l2 2-2 2-2-2zm164 0l2 2-2 2-2-2zm88 0l2 2-2 2-2-2zm20 0l2 2-2 2-2-2zm-186 2l2 2-2 2-2-2zm96 0l2 2-2 2-2-2zm72 0l2 2-2 2-2-2zm-330 2l2 2-2 2-2-2zm4 0l2 2-2 2-2-2zm64 0l2 2-2 2-2-2zm108 0l2 2-2 2-2-2zm32 0l2 2-2 2-2-2zm40 0l2 2-2 2-2-2zm96 0l2 2-2 2-2-2zm-282 2l2 2-2 2-2-2zm28 0l2 2-2 2-2-2zm96 0l2 2-2 2-2-2zm32 0l2 2-2 2-2-2zm-154 2l2 2-2 2-2-2zm116 0l2 2-2 2-2-2zm16 0l2 2-2 2-2-2zm12 0l2 2-2 2-2-2zm-198 2l2 2-2 2-2-2zm48 0l2 2-2 2-2-2zm4 0l2 2-2 2-2-2zm236 0l2 2-2 2-2-2zm-242 2l2 2-2 2-2-2zm20 0l2 2-2 2-2-2zm76 0l2 2-2 2-2-2zm34 2l2 2-2 2-2-2zm44 0l2 2-2 2-2-2zm108 0l2 2-2 2-2-2zm-290 2l2 2-2 2-2-2zm12 0l2 2-2 2-2-2zm16 0l2 2-2 2-2-2zm84 0l2 2-2 2-2-2zm116 0l2 2-2 2-2-2zm20 0l2 2-2 2-2-2zm8 0l2 2-2 2-2-2zm28 0l2 2-2 2-2-2zm-306 2l2 2-2 2-2-2zm-74 2l2 2-2 2-2-2zm32 0l2 2-2 2-2-2zm76 0l2 2-2 2-2-2zm72 0l2 2-2 2-2-2zm88 0l2 2-2 2-2-2zm40 0l2 2-2 2-2-2zm-226 2l2 2-2 2-2-2zm128 0l2 2-2 2-2-2zm64 0l2 2-2 2-2-2zm36 0l2 2-2 2-2-2zm-194 2l2 2-2 2-2-2zm76 0l2 2-2 2-2-2zm12 0l2 2-2 2-2-2zm24 0l2 2-2 2-2-2zm68 0l2 2-2 2-2-2zm12 0l2 2-2 2-2-2zm4 0l2 2-2 2-2-2zm56 0l2 2-2 2-2-2zm-166 2l2 2-2 2-2-2zm40 0l2 2-2 2-2-2zm18 2l2 2-2 2-2-2zm8 0l2 2-2 2-2-2zm32 0l2 2-2 2-2-2zm4 0l2 2-2 2-2-2zm-294 2l2 2-2 2-2-2zm164 0l2 2-2 2-2-2zm-178 2l2 2-2 2-2-2zm290 2l2 2-2 2-2-2zm24 0l2 2-2 2-2-2zm44 0l2 2-2 2-2-2zm-358 2l2 2-2 2-2-2zm168 0l2 2-2 2-2-2zm-154 2l2 2-2 2-2-2zm156 0l2 2-2 2-2-2zm48 0l2 2-2 2-2-2zm60 0l2 2-2 2-2-2zm20 0l2 2-2 2-2-2zm-278 2l2 2-2 2-2-2zm52 0l2 2-2 2-2-2zm4 0l2 2-2 2-2-2zm124 0l2 2-2 2-2-2zm4 0l2 2-2 2-2-2zm76 0l2 2-2 2-2-2zm56 0l2 2-2 2-2-2zm-310 2l2 2-2 2-2-2zm44 0l2 2-2 2-2-2zm116 0l2 2-2 2-2-2zm4 0l2 2-2 2-2-2zm4 0l2 2-2 2-2-2zm-6 2l2 2-2 2-2-2zm12 0l2 2-2 2-2-2zm36 0l2 2-2 2-2-2zm12 0l2 2-2 2-2-2zm36 0l2 2-2 2-2-2zm20 0l2 2-2 2-2-2zm-226 2l2 2-2 2-2-2zm144 0l2 2-2 2-2-2zm-30 2l2 2-2 2-2-2zm72 0l2 2-2 2-2-2zm-90 2l2 2-2 2-2-2zm4 0l2 2-2 2-2-2zm44 0l2 2-2 2-2-2zm4 0l2 2-2 2-2-2zm-10 2l2 2-2 2-2-2zm88 0l2 2-2 2-2-2zm-260 4l2 2-2 2-2-2zm8 0l2 2-2 2-2-2zm124 0l2 2-2 2-2-2zm128 0l2 2-2 2-2-2zm-214 2l2 2-2 2-2-2zm62 2l2 2-2 2-2-2zm-78 2l2 2-2 2-2-2zm112 0l2 2-2 2-2-2zm2 2l2 2-2 2-2-2zm40 0l2 2-2 2-2-2zm-6 2l2 2-2 2-2-2zm-50 2l2 2-2 2-2-2zm60 0l2 2-2 2-2-2zm28 0l2 2-2 2-2-2zm-90 2l2 2-2 2-2-2zm70 2l2 2-2 2-2-2zm-34 2l2 2-2 2-2-2z"/><path fill="#beccd2" stroke="#beccd2" d="M283 3l2 2-2 2-2-2zm-58 2l2 2-2 2-2-2zm4 0l2 2-2 2-2-2zm60 0l2 2-2 2-2-2zm-60 4l2 2-2 2-2-2zm18 2l2 2-2 2-2-2zm-56 4l2 2-2 2-2-2zm36 0l2 2-2 2-2-2zm26 2l2 2-2 2-2-2zm-66 2l2 2-2 2-2-2zm64 0l2 2-2 2-2-2zm-74 2l2 2-2 2-2-2zm8 0l2 2-2 2-2-2zm12 0l2 2-2 2-2-2zm-30 2l2 2-2 2-2-2zm12 0l2 2-2 2-2-2zm12 0l2 2-2 2-2-2zm20 0l2 2-2 2-2-2zm28 0l2 2-2 2-2-2zm-46 2l2 2-2 2-2-2zm40 0l2 2-2 2-2-2zm8 0l2 2-2 2-2-2zm28 0l2 2-2 2-2-2zm-98 2l2 2-2 2-2-2zm4 0l2 2-2 2-2-2zm56 0l2 2-2 2-2-2zm-50 2l2 2-2 2-2-2zm12 0l2 2-2 2-2-2zm-4 4l2 2-2 2-2-2zm-2 2l2 2-2 2-2-2zm88 0l2 2-2 2-2-2zm18 2l2 2-2 2-2-2zm-138 2l2 2-2 2-2-2zm4 0l2 2-2 2-2-2zm134 2l2 2-2 2-2-2zm-178 2l2 2-2 2-2-2zm180 0l2 2-2 2-2-2zm-170 2l2 2-2 2-2-2zm160 0l2 2-2 2-2-2zm-146 2l2 2-2 2-2-2zm20 0l2 2-2 2-2-2zm212 0l2 2-2 2-2-2zm-134 2l2 2-2 2-2-2zm132 0l2 2-2 2-2-2zm-234 2l2 2-2 2-2-2zm-14 2l2 2-2 2-2-2zm72 0l2 2-2 2-2-2zm164 0l2 2-2 2-2-2zm4 0l2 2-2 2-2-2zm-230 2l2 2-2 2-2-2zm16 0l2 2-2 2-2-2zm100 0l2 2-2 2-2-2zm112 0l2 2-2 2-2-2zm12 0l2 2-2 2-2-2zm-274 2l2 2-2 2-2-2zm10 2l2 2-2 2-2-2zm272 0l2 2-2 2-2-2zm-162 2l2 2-2 2-2-2zm156 0l2 2-2 2-2-2zm-106 2l2 2-2 2-2-2zm100 0l2 2-2 2-2-2zm28 0l2 2-2 2-2-2zm-136 4l2 2-2 2-2-2zm36 0l2 2-2 2-2-2zm100 0l2 2-2 2-2-2zm-282 2l2 2-2 2-2-2zm148 0l2 2-2 2-2-2zm4 0l2 2-2 2-2-2zm136 0l2 2-2 2-2-2zm20 0l2 2-2 2-2-2zm-250 2l2 2-2 2-2-2zm104 0l2 2-2 2-2-2zm104 0l2 2-2 2-2-2zm56 0l2 2-2 2-2-2zm4 0l2 2-2 2-2-2zm-278 2l2 2-2 2-2-2zm12 0l2 2-2 2-2-2zm84 0l2 2-2 2-2-2zm44 0l2 2-2 2-2-2zm108 0l2 2-2 2-2-2zm-202 2l2 2-2 2-2-2zm24 0l2 2-2 2-2-2zm60 0l2 2-2 2-2-2zm4 0l2 2-2 2-2-2zm80 0l2 2-2 2-2-2zm72 0l2 2-2 2-2-2zm-350 2l2 2-2 2-2-2zm4 0l2 2-2 2-2-2zm164 0l2 2-2 2-2-2zm148 0l2 2-2 2-2-2zm8 0l2 2-2 2-2-2zm28 0l2 2-2 2-2-2zm-174 2l2 2-2 2-2-2zm28 0l2 2-2 2-2-2zm8 0l2 2-2 2-2-2zm-70 2l2 2-2 2-2-2zm60 0l2 2-2 2-2-2zm96 0l2 2-2 2-2-2zm-294 2l2 2-2 2-2-2zm192 0l2 2-2 2-2-2zm84 0l2 2-2 2-2-2zm28 0l2 2-2 2-2-2zm20 0l2 2-2 2-2-2zm-258 2l2 2-2 2-2-2zm132 0l2 2-2 2-2-2zm80 0l2 2-2 2-2-2zm-214 2l2 2-2 2-2-2zm4 0l2 2-2 2-2-2zm104 0l2 2-2 2-2-2zm136 0l2 2-2 2-2-2zm-2 2l2 2-2 2-2-2zm-178 2l2 2-2 2-2-2zm32 0l2 2-2 2-2-2zm-90 2l2 2-2 2-2-2zm76 0l2 2-2 2-2-2zm12 0l2 2-2 2-2-2zm40 0l2 2-2 2-2-2zm112 0l2 2-2 2-2-2zm16 0l2 2-2 2-2-2zm16 0l2 2-2 2-2-2zm-226 2l2 2-2 2-2-2zm160 0l2 2-2 2-2-2zm32 0l2 2-2 2-2-2zm-146 2l2 2-2 2-2-2zm28 0l2 2-2 2-2-2zm4 0l2 2-2 2-2-2zm100 0l2 2-2 2-2-2zm44 0l2 2-2 2-2-2zm8 0l2 2-2 2-2-2zm16 0l2 2-2 2-2-2zm-358 2l2 2-2 2-2-2zm62 2l2 2-2 2-2-2zm88 0l2 2-2 2-2-2zm172 0l2 2-2 2-2-2zm10 2l2 2-2 2-2-2zm-334 2l2 2-2 2-2-2zm44 0l2 2-2 2-2-2zm132 0l2 2-2 2-2-2zm4 0l2 2-2 2-2-2zm100 0l2 2-2 2-2-2zm-234 2l2 2-2 2-2-2zm-10 2l2 2-2 2-2-2zm274 2l2 2-2 2-2-2zm-302 2l2 2-2 2-2-2zm104 0l2 2-2 2-2-2zm164 0l2 2-2 2-2-2zm28 0l2 2-2 2-2-2zm20 0l2 2-2 2-2-2zm44 0l2 2-2 2-2-2zm-18 2l2 2-2 2-2-2zm-206 2l2 2-2 2-2-2zm28 0l2 2-2 2-2-2zm104 0l2 2-2 2-2-2zm40 0l2 2-2 2-2-2zm28 0l2 2-2 2-2-2zm-338 2l2 2-2 2-2-2zm112 0l2 2-2 2-2-2zm16 0l2 2-2 2-2-2zm20 0l2 2-2 2-2-2zm4 0l2 2-2 2-2-2zm12 0l2 2-2 2-2-2zm180 0l2 2-2 2-2-2zm-222 2l2 2-2 2-2-2zm12 0l2 2-2 2-2-2zm4 0l2 2-2 2-2-2zm16 0l2 2-2 2-2-2zm4 0l2 2-2 2-2-2zm8 0l2 2-2 2-2-2zm4 0l2 2-2 2-2-2zm120 0l2 2-2 2-2-2zm44 0l2 2-2 2-2-2zm12 0l2 2-2 2-2-2zm-58 2l2 2-2 2-2-2zm-258 2l2 2-2 2-2-2zm28 0l2 2-2 2-2-2zm280 0l2 2-2 2-2-2zm-214 2l2 2-2 2-2-2zm28 0l2 2-2 2-2-2zm96 0l2 2-2 2-2-2zm8 0l2 2-2 2-2-2zm80 0l2 2-2 2-2-2zm4 0l2 2-2 2-2-2zm-334 2l2 2-2 2-2-2zm12 0l2 2-2 2-2-2zm132 0l2 2-2 2-2-2zm20 0l2 2-2 2-2-2zm144 0l2 2-2 2-2-2zm36 0l2 2-2 2-2-2zm8 0l2 2-2 2-2-2zm8 0l2 2-2 2-2-2zm-214 2l2 2-2 2-2-2zm24 0l2 2-2 2-2-2zm120 0l2 2-2 2-2-2zm8 0l2 2-2 2-2-2zm24 0l2 2-2 2-2-2zm-202 2l2 2-2 2-2-2zm-90 2l2 2-2 2-2-2zm104 0l2 2-2 2-2-2zm124 0l2 2-2 2-2-2zm4 0l2 2-2 2-2-2zm120 0l2 2-2 2-2-2zm-338 2l2 2-2 2-2-2zm88 0l2 2-2 2-2-2zm12 0l2 2-2 2-2-2zm88 0l2 2-2 2-2-2zm84 0l2 2-2 2-2-2zm32 0l2 2-2 2-2-2zm16 0l2 2-2 2-2-2zm8 0l2 2-2 2-2-2zm-274 2l2 2-2 2-2-2zm124 0l2 2-2 2-2-2zm28 0l2 2-2 2-2-2zm8 0l2 2-2 2-2-2zm68 0l2 2-2 2-2-2zm44 0l2 2-2 2-2-2zm-334 2l2 2-2 2-2-2zm84 0l2 2-2 2-2-2zm20 0l2 2-2 2-2-2zm112 0l2 2-2 2-2-2zm52 0l2 2-2 2-2-2zm24 0l2 2-2 2-2-2zm40 0l2 2-2 2-2-2zm-314 2l2 2-2 2-2-2zm84 0l2 2-2 2-2-2zm4 0l2 2-2 2-2-2zm16 0l2 2-2 2-2-2zm156 0l2 2-2 2-2-2zm72 0l2 2-2 2-2-2zm-358 2l2 2-2 2-2-2zm132 0l2 2-2 2-2-2zm144 0l2 2-2 2-2-2zm8 0l2 2-2 2-2-2zm-234 2l2 2-2 2-2-2zm36 0l2 2-2 2-2-2zm4 0l2 2-2 2-2-2zm168 0l2 2-2 2-2-2zm12 0l2 2-2 2-2-2zm-270 2l2 2-2 2-2-2zm88 0l2 2-2 2-2-2zm36 0l2 2-2 2-2-2zm88 0l2 2-2 2-2-2zm40 0l2 2-2 2-2-2zm44 0l2 2-2 2-2-2zm2 2l2 2-2 2-2-2zm20 0l2 2-2 2-2-2zm32 0l2 2-2 2-2-2zm-274 2l2 2-2 2-2-2zm4 0l2 2-2 2-2-2zm156 0l2 2-2 2-2-2zm-234 2l2 2-2 2-2-2zm60 0l2 2-2 2-2-2zm28 0l2 2-2 2-2-2zm84 0l2 2-2 2-2-2zm8 0l2 2-2 2-2-2zm112 0l2 2-2 2-2-2zm4 0l2 2-2 2-2-2zm40 0l2 2-2 2-2-2zm8 0l2 2-2 2-2-2zm-254 2l2 2-2 2-2-2zm140 0l2 2-2 2-2-2zm84 0l2 2-2 2-2-2zm12 0l2 2-2 2-2-2zm8 0l2 2-2 2-2-2zm-334 2l2 2-2 2-2-2zm12 0l2 2-2 2-2-2zm44 0l2 2-2 2-2-2zm32 0l2 2-2 2-2-2zm28 0l2 2-2 2-2-2zm16 0l2 2-2 2-2-2zm212 0l2 2-2 2-2-2zm4 0l2 2-2 2-2-2zm-310 2l2 2-2 2-2-2zm228 0l2 2-2 2-2-2zm28 0l2 2-2 2-2-2zm40 0l2 2-2 2-2-2zm20 0l2 2-2 2-2-2zm-154 2l2 2-2 2-2-2zm56 0l2 2-2 2-2-2zm4 0l2 2-2 2-2-2zm-38 2l2 2-2 2-2-2zm48 0l2 2-2 2-2-2zm68 0l2 2-2 2-2-2zm-298 2l2 2-2 2-2-2zm40 0l2 2-2 2-2-2zm120 0l2 2-2 2-2-2zm24 0l2 2-2 2-2-2zm32 0l2 2-2 2-2-2zm-186 2l2 2-2 2-2-2zm8 0l2 2-2 2-2-2zm180 0l2 2-2 2-2-2zm-70 2l2 2-2 2-2-2zm64 0l2 2-2 2-2-2zm84 0l2 2-2 2-2-2zm-294 2l2 2-2 2-2-2zm12 0l2 2-2 2-2-2zm-54 2l2 2-2 2-2-2zm4 0l2 2-2 2-2-2zm48 0l2 2-2 2-2-2zm16 0l2 2-2 2-2-2zm12 0l2 2-2 2-2-2zm188 0l2 2-2 2-2-2zm-218 2l2 2-2 2-2-2zm12 0l2 2-2 2-2-2zm116 0l2 2-2 2-2-2zm64 0l2 2-2 2-2-2zm24 0l2 2-2 2-2-2zm-266 2l2 2-2 2-2-2zm4 0l2 2-2 2-2-2zm168 0l2 2-2 2-2-2zm8 0l2 2-2 2-2-2zm28 0l2 2-2 2-2-2zm84 0l2 2-2 2-2-2zm36 0l2 2-2 2-2-2zm-158 2l2 2-2 2-2-2zm140 0l2 2-2 2-2-2zm32 0l2 2-2 2-2-2zm-314 2l2 2-2 2-2-2zm32 0l2 2-2 2-2-2zm196 0l2 2-2 2-2-2zm72 0l2 2-2 2-2-2zm-374 2l2 2-2 2-2-2zm72 0l2 2-2 2-2-2zm128 0l2 2-2 2-2-2zm72 0l2 2-2 2-2-2zm84 0l2 2-2 2-2-2zm20 0l2 2-2 2-2-2zm-306 2l2 2-2 2-2-2zm284 0l2 2-2 2-2-2zm-286 2l2 2-2 2-2-2zm224 0l2 2-2 2-2-2zm24 0l2 2-2 2-2-2zm24 0l2 2-2 2-2-2zm12 0l2 2-2 2-2-2zm8 0l2 2-2 2-2-2zm-362 2l2 2-2 2-2-2zm76 0l2 2-2 2-2-2zm40 0l2 2-2 2-2-2zm104 0l2 2-2 2-2-2zm52 0l2 2-2 2-2-2zm88 0l2 2-2 2-2-2zm-362 2l2 2-2 2-2-2zm64 0l2 2-2 2-2-2zm20 0l2 2-2 2-2-2zm4 0l2 2-2 2-2-2zm16 0l2 2-2 2-2-2zm28 0l2 2-2 2-2-2zm96 0l2 2-2 2-2-2zm-118 2l2 2-2 2-2-2zm-10 2l2 2-2 2-2-2zm92 0l2 2-2 2-2-2zm28 0l2 2-2 2-2-2zm4 0l2 2-2 2-2-2zm-144 4l2 2-2 2-2-2zm56 0l2 2-2 2-2-2zm88 0l2 2-2 2-2-2zm-30 2l2 2-2 2-2-2zm4 0l2 2-2 2-2-2zm76 0l2 2-2 2-2-2zm8 0l2 2-2 2-2-2zm-94 2l2 2-2 2-2-2zm92 0l2 2-2 2-2-2zm32 0l2 2-2 2-2-2zm-222 2l2 2-2 2-2-2zm132 0l2 2-2 2-2-2zm-214 2l2 2-2 2-2-2zm336 0l2 2-2 2-2-2zm4 0l2 2-2 2-2-2zm-340 4l2 2-2 2-2-2zm184 0l2 2-2 2-2-2zm14 2l2 2-2 2-2-2zm44 0l2 2-2 2-2-2zm44 0l2 2-2 2-2-2zm-266 2l2 2-2 2-2-2zm4 0l2 2-2 2-2-2zm212 0l2 2-2 2-2-2zm52 0l2 2-2 2-2-2zm-262 2l2 2-2 2-2-2zm228 0l2 2-2 2-2-2zm8 0l2 2-2 2-2-2zm36 0l2 2-2 2-2-2zm24 0l2 2-2 2-2-2zm-294 2l2 2-2 2-2-2zm188 0l2 2-2 2-2-2zm48 0l2 2-2 2-2-2zm36 0l2 2-2 2-2-2zm-90 2l2 2-2 2-2-2zm86 2l2 2-2 2-2-2zm-218 2l2 2-2 2-2-2zm168 0l2 2-2 2-2-2zm64 0l2 2-2 2-2-2zm-14 2l2 2-2 2-2-2zm-122 2l2 2-2 2-2-2zm50 2l2 2-2 2-2-2zm24 0l2 2-2 2-2-2zm2 2l2 2-2 2-2-2zm-178 2l2 2-2 2-2-2zm104 0l2 2-2 2-2-2zm60 0l2 2-2 2-2-2zm32 0l2 2-2 2-2-2zm-90 2l2 2-2 2-2-2zm38 2l2 2-2 2-2-2zm44 0l2 2-2 2-2-2zm-46 2l2 2-2 2-2-2zm12 0l2 2-2 2-2-2zm-36 4l2 2-2 2-2-2zm28 0l2 2-2 2-2-2z"/><path fill="#b8c9d0" stroke="#b8c9d0" d="M219 7l2 2-2 2-2-2zm4 0l2 2-2 2-2-2zm14 2l2 2-2 2-2-2zm12 0l2 2-2 2-2-2zm-56 4l2 2-2 2-2-2zm48 0l2 2-2 2-2-2zm8 0l2 2-2 2-2-2zm40 0l2 2-2 2-2-2zm-58 2l2 2-2 2-2-2zm-58 2l2 2-2 2-2-2zm-6 2l2 2-2 2-2-2zm8 0l2 2-2 2-2-2zm34 2l2 2-2 2-2-2zm12 0l2 2-2 2-2-2zm16 0l2 2-2 2-2-2zm8 0l2 2-2 2-2-2zm32 0l2 2-2 2-2-2zm-42 2l2 2-2 2-2-2zm16 0l2 2-2 2-2-2zm-86 2l2 2-2 2-2-2zm22 2l2 2-2 2-2-2zm100 0l2 2-2 2-2-2zm-118 2l2 2-2 2-2-2zm4 0l2 2-2 2-2-2zm16 0l2 2-2 2-2-2zm66 2l2 2-2 2-2-2zm4 0l2 2-2 2-2-2zm8 0l2 2-2 2-2-2zm-18 2l2 2-2 2-2-2zm8 0l2 2-2 2-2-2zm-52 4l2 2-2 2-2-2zm56 0l2 2-2 2-2-2zm-98 2l2 2-2 2-2-2zm88 0l2 2-2 2-2-2zm40 0l2 2-2 2-2-2zm-34 2l2 2-2 2-2-2zm34 2l2 2-2 2-2-2zm-162 2l2 2-2 2-2-2zm16 0l2 2-2 2-2-2zm-2 2l2 2-2 2-2-2zm32 0l2 2-2 2-2-2zm4 0l2 2-2 2-2-2zm72 0l2 2-2 2-2-2zm-70 2l2 2-2 2-2-2zm60 0l2 2-2 2-2-2zm-102 2l2 2-2 2-2-2zm4 0l2 2-2 2-2-2zm-34 2l2 2-2 2-2-2zm24 0l2 2-2 2-2-2zm64 0l2 2-2 2-2-2zm-62 2l2 2-2 2-2-2zm-22 2l2 2-2 2-2-2zm-10 2l2 2-2 2-2-2zm84 0l2 2-2 2-2-2zm60 0l2 2-2 2-2-2zm-82 2l2 2-2 2-2-2zm84 0l2 2-2 2-2-2zm-58 2l2 2-2 2-2-2zm96 0l2 2-2 2-2-2zm12 0l2 2-2 2-2-2zm76 0l2 2-2 2-2-2zm-90 2l2 2-2 2-2-2zm8 0l2 2-2 2-2-2zm16 0l2 2-2 2-2-2zm64 0l2 2-2 2-2-2zm8 0l2 2-2 2-2-2zm16 0l2 2-2 2-2-2zm-150 2l2 2-2 2-2-2zm128 0l2 2-2 2-2-2zm-134 2l2 2-2 2-2-2zm60 0l2 2-2 2-2-2zm-30 2l2 2-2 2-2-2zm20 0l2 2-2 2-2-2zm112 0l2 2-2 2-2-2zm-234 2l2 2-2 2-2-2zm100 0l2 2-2 2-2-2zm16 0l2 2-2 2-2-2zm12 0l2 2-2 2-2-2zm136 0l2 2-2 2-2-2zm20 0l2 2-2 2-2-2zm16 0l2 2-2 2-2-2zm-158 2l2 2-2 2-2-2zm68 0l2 2-2 2-2-2zm36 0l2 2-2 2-2-2zm12 0l2 2-2 2-2-2zm-234 2l2 2-2 2-2-2zm12 0l2 2-2 2-2-2zm52 0l2 2-2 2-2-2zm136 0l2 2-2 2-2-2zm36 0l2 2-2 2-2-2zm16 0l2 2-2 2-2-2zm-342 2l2 2-2 2-2-2zm144 0l2 2-2 2-2-2zm128 0l2 2-2 2-2-2zm-130 2l2 2-2 2-2-2zm-78 2l2 2-2 2-2-2zm92 0l2 2-2 2-2-2zm160 0l2 2-2 2-2-2zm16 0l2 2-2 2-2-2zm4 0l2 2-2 2-2-2zm-298 2l2 2-2 2-2-2zm32 0l2 2-2 2-2-2zm124 0l2 2-2 2-2-2zm124 0l2 2-2 2-2-2zm-318 2l2 2-2 2-2-2zm50 2l2 2-2 2-2-2zm76 0l2 2-2 2-2-2zm20 0l2 2-2 2-2-2zm-90 2l2 2-2 2-2-2zm96 0l2 2-2 2-2-2zm184 0l2 2-2 2-2-2zm-330 2l2 2-2 2-2-2zm160 0l2 2-2 2-2-2zm16 0l2 2-2 2-2-2zm-146 2l2 2-2 2-2-2zm268 0l2 2-2 2-2-2zm-334 2l2 2-2 2-2-2zm216 0l2 2-2 2-2-2zm124 0l2 2-2 2-2-2zm4 0l2 2-2 2-2-2zm8 0l2 2-2 2-2-2zm20 0l2 2-2 2-2-2zm-64 4l2 2-2 2-2-2zm72 0l2 2-2 2-2-2zm-218 2l2 2-2 2-2-2zm4 0l2 2-2 2-2-2zm148 0l2 2-2 2-2-2zm40 0l2 2-2 2-2-2zm32 0l2 2-2 2-2-2zm-182 2l2 2-2 2-2-2zm172 0l2 2-2 2-2-2zm-254 2l2 2-2 2-2-2zm280 0l2 2-2 2-2-2zm4 0l2 2-2 2-2-2zm-254 2l2 2-2 2-2-2zm168 0l2 2-2 2-2-2zm36 0l2 2-2 2-2-2zm-322 2l2 2-2 2-2-2zm104 0l2 2-2 2-2-2zm56 0l2 2-2 2-2-2zm204 0l2 2-2 2-2-2zm-218 2l2 2-2 2-2-2zm20 0l2 2-2 2-2-2zm140 0l2 2-2 2-2-2zm12 0l2 2-2 2-2-2zm-278 2l2 2-2 2-2-2zm300 0l2 2-2 2-2-2zm-202 2l2 2-2 2-2-2zm216 0l2 2-2 2-2-2zm-50 2l2 2-2 2-2-2zm12 0l2 2-2 2-2-2zm8 0l2 2-2 2-2-2zm28 0l2 2-2 2-2-2zm4 0l2 2-2 2-2-2zm-314 2l2 2-2 2-2-2zm92 0l2 2-2 2-2-2zm180 0l2 2-2 2-2-2zm-274 2l2 2-2 2-2-2zm84 0l2 2-2 2-2-2zm192 0l2 2-2 2-2-2zm12 0l2 2-2 2-2-2zm-14 2l2 2-2 2-2-2zm32 0l2 2-2 2-2-2zm-326 2l2 2-2 2-2-2zm12 0l2 2-2 2-2-2zm280 0l2 2-2 2-2-2zm-298 2l2 2-2 2-2-2zm16 0l2 2-2 2-2-2zm44 0l2 2-2 2-2-2zm72 0l2 2-2 2-2-2zm152 0l2 2-2 2-2-2zm8 0l2 2-2 2-2-2zm84 0l2 2-2 2-2-2zm-342 2l2 2-2 2-2-2zm28 0l2 2-2 2-2-2zm218 2l2 2-2 2-2-2zm-178 2l2 2-2 2-2-2zm44 0l2 2-2 2-2-2zm12 0l2 2-2 2-2-2zm84 0l2 2-2 2-2-2zm76 0l2 2-2 2-2-2zm-270 2l2 2-2 2-2-2zm36 0l2 2-2 2-2-2zm32 0l2 2-2 2-2-2zm4 0l2 2-2 2-2-2zm148 0l2 2-2 2-2-2zm64 0l2 2-2 2-2-2zm24 0l2 2-2 2-2-2zm16 0l2 2-2 2-2-2zm-338 2l2 2-2 2-2-2zm208 0l2 2-2 2-2-2zm56 0l2 2-2 2-2-2zm28 0l2 2-2 2-2-2zm-302 2l2 2-2 2-2-2zm32 0l2 2-2 2-2-2zm24 0l2 2-2 2-2-2zm196 0l2 2-2 2-2-2zm80 0l2 2-2 2-2-2zm-326 2l2 2-2 2-2-2zm196 0l2 2-2 2-2-2zm52 0l2 2-2 2-2-2zm40 0l2 2-2 2-2-2zm24 0l2 2-2 2-2-2zm-302 2l2 2-2 2-2-2zm76 0l2 2-2 2-2-2zm16 0l2 2-2 2-2-2zm128 0l2 2-2 2-2-2zm16 0l2 2-2 2-2-2zm40 0l2 2-2 2-2-2zm-278 2l2 2-2 2-2-2zm96 0l2 2-2 2-2-2zm84 0l2 2-2 2-2-2zm32 0l2 2-2 2-2-2zm24 0l2 2-2 2-2-2zm24 0l2 2-2 2-2-2zm44 0l2 2-2 2-2-2zm-310 2l2 2-2 2-2-2zm56 0l2 2-2 2-2-2zm68 0l2 2-2 2-2-2zm128 0l2 2-2 2-2-2zm64 0l2 2-2 2-2-2zm-314 2l2 2-2 2-2-2zm84 0l2 2-2 2-2-2zm40 0l2 2-2 2-2-2zm60 0l2 2-2 2-2-2zm8 0l2 2-2 2-2-2zm64 0l2 2-2 2-2-2zm12 0l2 2-2 2-2-2zm44 0l2 2-2 2-2-2zm-310 2l2 2-2 2-2-2zm56 0l2 2-2 2-2-2zm28 0l2 2-2 2-2-2zm76 0l2 2-2 2-2-2zm8 0l2 2-2 2-2-2zm60 0l2 2-2 2-2-2zm20 0l2 2-2 2-2-2zm44 0l2 2-2 2-2-2zm8 0l2 2-2 2-2-2zm32 0l2 2-2 2-2-2zm-334 2l2 2-2 2-2-2zm56 0l2 2-2 2-2-2zm160 0l2 2-2 2-2-2zm8 0l2 2-2 2-2-2zm32 0l2 2-2 2-2-2zm4 0l2 2-2 2-2-2zm56 0l2 2-2 2-2-2zm32 0l2 2-2 2-2-2zm-358 2l2 2-2 2-2-2zm4 0l2 2-2 2-2-2zm4 0l2 2-2 2-2-2zm312 0l2 2-2 2-2-2zm-310 2l2 2-2 2-2-2zm96 0l2 2-2 2-2-2zm88 0l2 2-2 2-2-2zm48 0l2 2-2 2-2-2zm-186 2l2 2-2 2-2-2zm-14 2l2 2-2 2-2-2zm128 0l2 2-2 2-2-2zm52 0l2 2-2 2-2-2zm28 0l2 2-2 2-2-2zm32 0l2 2-2 2-2-2zm28 0l2 2-2 2-2-2zm20 0l2 2-2 2-2-2zm-258 2l2 2-2 2-2-2zm32 0l2 2-2 2-2-2zm112 0l2 2-2 2-2-2zm80 0l2 2-2 2-2-2zm-198 2l2 2-2 2-2-2zm88 0l2 2-2 2-2-2zm88 0l2 2-2 2-2-2zm44 0l2 2-2 2-2-2zm4 0l2 2-2 2-2-2zm12 0l2 2-2 2-2-2zm-266 2l2 2-2 2-2-2zm100 0l2 2-2 2-2-2zm104 0l2 2-2 2-2-2zm-170 2l2 2-2 2-2-2zm116 0l2 2-2 2-2-2zm-206 2l2 2-2 2-2-2zm4 0l2 2-2 2-2-2zm4 0l2 2-2 2-2-2zm28 0l2 2-2 2-2-2zm20 0l2 2-2 2-2-2zm24 0l2 2-2 2-2-2zm4 0l2 2-2 2-2-2zm256 0l2 2-2 2-2-2zm-342 2l2 2-2 2-2-2zm56 0l2 2-2 2-2-2zm256 0l2 2-2 2-2-2zm-318 2l2 2-2 2-2-2zm52 0l2 2-2 2-2-2zm100 0l2 2-2 2-2-2zm36 0l2 2-2 2-2-2zm8 0l2 2-2 2-2-2zm60 0l2 2-2 2-2-2zm40 0l2 2-2 2-2-2zm28 0l2 2-2 2-2-2zm-282 2l2 2-2 2-2-2zm156 0l2 2-2 2-2-2zm56 0l2 2-2 2-2-2zm-106 2l2 2-2 2-2-2zm80 0l2 2-2 2-2-2zm20 0l2 2-2 2-2-2zm52 0l2 2-2 2-2-2zm32 0l2 2-2 2-2-2zm-298 2l2 2-2 2-2-2zm188 0l2 2-2 2-2-2zm76 0l2 2-2 2-2-2zm-222 2l2 2-2 2-2-2zm176 0l2 2-2 2-2-2zm40 0l2 2-2 2-2-2zm12 0l2 2-2 2-2-2zm-246 2l2 2-2 2-2-2zm92 0l2 2-2 2-2-2zm4 0l2 2-2 2-2-2zm48 0l2 2-2 2-2-2zm36 0l2 2-2 2-2-2zm100 0l2 2-2 2-2-2zm-270 2l2 2-2 2-2-2zm140 0l2 2-2 2-2-2zm-194 2l2 2-2 2-2-2zm36 0l2 2-2 2-2-2zm112 0l2 2-2 2-2-2zm68 0l2 2-2 2-2-2zm100 0l2 2-2 2-2-2zm-378 2l2 2-2 2-2-2zm120 0l2 2-2 2-2-2zm208 0l2 2-2 2-2-2zm24 0l2 2-2 2-2-2zm-270 2l2 2-2 2-2-2zm12 0l2 2-2 2-2-2zm116 0l2 2-2 2-2-2zm20 0l2 2-2 2-2-2zm44 0l2 2-2 2-2-2zm-274 2l2 2-2 2-2-2zm204 0l2 2-2 2-2-2zm72 0l2 2-2 2-2-2zm-278 2l2 2-2 2-2-2zm12 0l2 2-2 2-2-2zm108 0l2 2-2 2-2-2zm192 0l2 2-2 2-2-2zm60 0l2 2-2 2-2-2zm-170 2l2 2-2 2-2-2zm4 0l2 2-2 2-2-2zm28 0l2 2-2 2-2-2zm-230 2l2 2-2 2-2-2zm196 0l2 2-2 2-2-2zm64 0l2 2-2 2-2-2zm-62 2l2 2-2 2-2-2zm12 0l2 2-2 2-2-2zm68 0l2 2-2 2-2-2zm24 0l2 2-2 2-2-2zm32 0l2 2-2 2-2-2zm-326 2l2 2-2 2-2-2zm216 0l2 2-2 2-2-2zm4 0l2 2-2 2-2-2zm64 0l2 2-2 2-2-2zm28 0l2 2-2 2-2-2zm-110 2l2 2-2 2-2-2zm12 0l2 2-2 2-2-2zm76 0l2 2-2 2-2-2zm-294 2l2 2-2 2-2-2zm268 0l2 2-2 2-2-2zm16 0l2 2-2 2-2-2zm4 0l2 2-2 2-2-2zm-102 2l2 2-2 2-2-2zm4 0l2 2-2 2-2-2zm74 2l2 2-2 2-2-2zm4 0l2 2-2 2-2-2zm8 0l2 2-2 2-2-2zm-86 2l2 2-2 2-2-2zm60 0l2 2-2 2-2-2zm8 0l2 2-2 2-2-2zm-242 2l2 2-2 2-2-2zm44 0l2 2-2 2-2-2zm178 2l2 2-2 2-2-2zm16 0l2 2-2 2-2-2zm48 0l2 2-2 2-2-2zm-278 2l2 2-2 2-2-2zm156 0l2 2-2 2-2-2zm116 0l2 2-2 2-2-2zm-266 2l2 2-2 2-2-2zm156 4l2 2-2 2-2-2zm48 0l2 2-2 2-2-2zm54 2l2 2-2 2-2-2zm-62 2l2 2-2 2-2-2zm12 0l2 2-2 2-2-2zm-166 2l2 2-2 2-2-2zm4 0l2 2-2 2-2-2zm160 0l2 2-2 2-2-2zm22 2l2 2-2 2-2-2zm20 0l2 2-2 2-2-2zm-110 2l2 2-2 2-2-2zm72 0l2 2-2 2-2-2zm-18 6l2 2-2 2-2-2zm-26 2l2 2-2 2-2-2zm-30 2l2 2-2 2-2-2z"/><path fill="#b2c6ce" stroke="#b2c6ce" d="M293 5l2 2-2 2-2-2zm-60 4l2 2-2 2-2-2zm20 4l2 2-2 2-2-2zm-80 8l2 2-2 2-2-2zm88 0l2 2-2 2-2-2zm-30 2l2 2-2 2-2-2zm56 0l2 2-2 2-2-2zm-114 2l2 2-2 2-2-2zm12 0l2 2-2 2-2-2zm-6 2l2 2-2 2-2-2zm-2 2l2 2-2 2-2-2zm36 0l2 2-2 2-2-2zm20 0l2 2-2 2-2-2zm-6 2l2 2-2 2-2-2zm-82 2l2 2-2 2-2-2zm20 0l2 2-2 2-2-2zm88 0l2 2-2 2-2-2zm16 0l2 2-2 2-2-2zm-122 2l2 2-2 2-2-2zm30 2l2 2-2 2-2-2zm-10 2l2 2-2 2-2-2zm112 4l2 2-2 2-2-2zm-106 2l2 2-2 2-2-2zm100 0l2 2-2 2-2-2zm-34 2l2 2-2 2-2-2zm36 0l2 2-2 2-2-2zm-134 2l2 2-2 2-2-2zm132 0l2 2-2 2-2-2zm-98 2l2 2-2 2-2-2zm112 0l2 2-2 2-2-2zm4 0l2 2-2 2-2-2zm-42 2l2 2-2 2-2-2zm4 0l2 2-2 2-2-2zm116 0l2 2-2 2-2-2zm4 0l2 2-2 2-2-2zm4 0l2 2-2 2-2-2zm20 0l2 2-2 2-2-2zm-290 2l2 2-2 2-2-2zm184 0l2 2-2 2-2-2zm-162 2l2 2-2 2-2-2zm44 0l2 2-2 2-2-2zm12 0l2 2-2 2-2-2zm12 0l2 2-2 2-2-2zm-82 2l2 2-2 2-2-2zm80 0l2 2-2 2-2-2zm56 0l2 2-2 2-2-2zm4 0l2 2-2 2-2-2zm-98 2l2 2-2 2-2-2zm132 0l2 2-2 2-2-2zm-178 2l2 2-2 2-2-2zm48 0l2 2-2 2-2-2zm116 0l2 2-2 2-2-2zm20 0l2 2-2 2-2-2zm-186 2l2 2-2 2-2-2zm292 0l2 2-2 2-2-2zm-170 2l2 2-2 2-2-2zm172 0l2 2-2 2-2-2zm-198 2l2 2-2 2-2-2zm16 0l2 2-2 2-2-2zm16 0l2 2-2 2-2-2zm60 0l2 2-2 2-2-2zm-146 2l2 2-2 2-2-2zm40 0l2 2-2 2-2-2zm48 0l2 2-2 2-2-2zm160 0l2 2-2 2-2-2zm-294 2l2 2-2 2-2-2zm40 0l2 2-2 2-2-2zm268 0l2 2-2 2-2-2zm-174 2l2 2-2 2-2-2zm20 0l2 2-2 2-2-2zm4 0l2 2-2 2-2-2zm132 0l2 2-2 2-2-2zm12 0l2 2-2 2-2-2zm-258 2l2 2-2 2-2-2zm140 0l2 2-2 2-2-2zm144 0l2 2-2 2-2-2zm8 0l2 2-2 2-2-2zm-186 2l2 2-2 2-2-2zm-2 2l2 2-2 2-2-2zm16 0l2 2-2 2-2-2zm-26 2l2 2-2 2-2-2zm12 0l2 2-2 2-2-2zm16 0l2 2-2 2-2-2zm20 0l2 2-2 2-2-2zm156 0l2 2-2 2-2-2zm-282 2l2 2-2 2-2-2zm48 0l2 2-2 2-2-2zm44 0l2 2-2 2-2-2zm24 0l2 2-2 2-2-2zm128 0l2 2-2 2-2-2zm-250 2l2 2-2 2-2-2zm80 0l2 2-2 2-2-2zm28 0l2 2-2 2-2-2zm124 0l2 2-2 2-2-2zm48 0l2 2-2 2-2-2zm-230 2l2 2-2 2-2-2zm24 0l2 2-2 2-2-2zm4 0l2 2-2 2-2-2zm24 0l2 2-2 2-2-2zm4 0l2 2-2 2-2-2zm20 0l2 2-2 2-2-2zm92 0l2 2-2 2-2-2zm16 0l2 2-2 2-2-2zm12 0l2 2-2 2-2-2zm28 0l2 2-2 2-2-2zm-262 2l2 2-2 2-2-2zm44 0l2 2-2 2-2-2zm-66 2l2 2-2 2-2-2zm116 0l2 2-2 2-2-2zm28 0l2 2-2 2-2-2zm84 0l2 2-2 2-2-2zm-270 2l2 2-2 2-2-2zm160 0l2 2-2 2-2-2zm4 0l2 2-2 2-2-2zm4 0l2 2-2 2-2-2zm148 0l2 2-2 2-2-2zm-306 2l2 2-2 2-2-2zm2 2l2 2-2 2-2-2zm48 0l2 2-2 2-2-2zm60 0l2 2-2 2-2-2zm16 0l2 2-2 2-2-2zm12 0l2 2-2 2-2-2zm16 0l2 2-2 2-2-2zm-162 2l2 2-2 2-2-2zm76 0l2 2-2 2-2-2zm28 0l2 2-2 2-2-2zm52 0l2 2-2 2-2-2zm152 0l2 2-2 2-2-2zm8 0l2 2-2 2-2-2zm-262 2l2 2-2 2-2-2zm24 0l2 2-2 2-2-2zm72 0l2 2-2 2-2-2zm152 0l2 2-2 2-2-2zm60 0l2 2-2 2-2-2zm-354 2l2 2-2 2-2-2zm76 0l2 2-2 2-2-2zm240 0l2 2-2 2-2-2zm32 0l2 2-2 2-2-2zm-354 2l2 2-2 2-2-2zm120 0l2 2-2 2-2-2zm184 0l2 2-2 2-2-2zm12 0l2 2-2 2-2-2zm-42 2l2 2-2 2-2-2zm24 0l2 2-2 2-2-2zm24 0l2 2-2 2-2-2zm22 2l2 2-2 2-2-2zm12 0l2 2-2 2-2-2zm-358 2l2 2-2 2-2-2zm72 0l2 2-2 2-2-2zm20 0l2 2-2 2-2-2zm56 0l2 2-2 2-2-2zm24 0l2 2-2 2-2-2zm104 0l2 2-2 2-2-2zm2 2l2 2-2 2-2-2zm36 0l2 2-2 2-2-2zm12 0l2 2-2 2-2-2zm16 0l2 2-2 2-2-2zm-230 2l2 2-2 2-2-2zm52 0l2 2-2 2-2-2zm-126 2l2 2-2 2-2-2zm124 0l2 2-2 2-2-2zm116 0l2 2-2 2-2-2zm32 0l2 2-2 2-2-2zm-158 2l2 2-2 2-2-2zm144 0l2 2-2 2-2-2zm12 0l2 2-2 2-2-2zm16 0l2 2-2 2-2-2zm-314 2l2 2-2 2-2-2zm96 0l2 2-2 2-2-2zm68 0l2 2-2 2-2-2zm128 0l2 2-2 2-2-2zm56 0l2 2-2 2-2-2zm-254 2l2 2-2 2-2-2zm44 0l2 2-2 2-2-2zm4 0l2 2-2 2-2-2zm124 0l2 2-2 2-2-2zm32 0l2 2-2 2-2-2zm40 0l2 2-2 2-2-2zm-310 2l2 2-2 2-2-2zm8 0l2 2-2 2-2-2zm64 0l2 2-2 2-2-2zm156 0l2 2-2 2-2-2zm104 0l2 2-2 2-2-2zm8 0l2 2-2 2-2-2zm-322 2l2 2-2 2-2-2zm40 0l2 2-2 2-2-2zm20 0l2 2-2 2-2-2zm4 0l2 2-2 2-2-2zm140 0l2 2-2 2-2-2zm8 0l2 2-2 2-2-2zm20 0l2 2-2 2-2-2zm-234 2l2 2-2 2-2-2zm48 0l2 2-2 2-2-2zm48 0l2 2-2 2-2-2zm144 0l2 2-2 2-2-2zm24 0l2 2-2 2-2-2zm20 0l2 2-2 2-2-2zm-290 2l2 2-2 2-2-2zm112 0l2 2-2 2-2-2zm124 0l2 2-2 2-2-2zm60 0l2 2-2 2-2-2zm-210 2l2 2-2 2-2-2zm176 0l2 2-2 2-2-2zm-278 2l2 2-2 2-2-2zm16 0l2 2-2 2-2-2zm56 0l2 2-2 2-2-2zm152 0l2 2-2 2-2-2zm108 0l2 2-2 2-2-2zm-322 2l2 2-2 2-2-2zm8 0l2 2-2 2-2-2zm188 0l2 2-2 2-2-2zm36 0l2 2-2 2-2-2zm84 0l2 2-2 2-2-2zm4 0l2 2-2 2-2-2zm-226 2l2 2-2 2-2-2zm104 0l2 2-2 2-2-2zm12 0l2 2-2 2-2-2zm48 0l2 2-2 2-2-2zm-262 2l2 2-2 2-2-2zm228 0l2 2-2 2-2-2zm16 0l2 2-2 2-2-2zm4 0l2 2-2 2-2-2zm16 0l2 2-2 2-2-2zm72 0l2 2-2 2-2-2zm8 0l2 2-2 2-2-2zm-334 2l2 2-2 2-2-2zm32 0l2 2-2 2-2-2zm60 0l2 2-2 2-2-2zm92 0l2 2-2 2-2-2zm44 0l2 2-2 2-2-2zm88 0l2 2-2 2-2-2zm-270 2l2 2-2 2-2-2zm72 0l2 2-2 2-2-2zm136 0l2 2-2 2-2-2zm16 0l2 2-2 2-2-2zm40 0l2 2-2 2-2-2zm-266 2l2 2-2 2-2-2zm36 0l2 2-2 2-2-2zm100 0l2 2-2 2-2-2zm48 0l2 2-2 2-2-2zm36 0l2 2-2 2-2-2zm56 0l2 2-2 2-2-2zm-150 2l2 2-2 2-2-2zm4 0l2 2-2 2-2-2zm120 0l2 2-2 2-2-2zm8 0l2 2-2 2-2-2zm40 0l2 2-2 2-2-2zm-338 2l2 2-2 2-2-2zm44 0l2 2-2 2-2-2zm4 0l2 2-2 2-2-2zm112 0l2 2-2 2-2-2zm96 0l2 2-2 2-2-2zm36 0l2 2-2 2-2-2zm8 0l2 2-2 2-2-2zm-302 2l2 2-2 2-2-2zm28 0l2 2-2 2-2-2zm8 0l2 2-2 2-2-2zm28 0l2 2-2 2-2-2zm40 0l2 2-2 2-2-2zm112 0l2 2-2 2-2-2zm20 0l2 2-2 2-2-2zm68 0l2 2-2 2-2-2zm4 0l2 2-2 2-2-2zm-310 2l2 2-2 2-2-2zm4 0l2 2-2 2-2-2zm20 0l2 2-2 2-2-2zm16 0l2 2-2 2-2-2zm64 0l2 2-2 2-2-2zm168 0l2 2-2 2-2-2zm8 0l2 2-2 2-2-2zm56 0l2 2-2 2-2-2zm-278 2l2 2-2 2-2-2zm148 0l2 2-2 2-2-2zm52 0l2 2-2 2-2-2zm-194 2l2 2-2 2-2-2zm20 0l2 2-2 2-2-2zm256 0l2 2-2 2-2-2zm-270 2l2 2-2 2-2-2zm4 0l2 2-2 2-2-2zm88 0l2 2-2 2-2-2zm120 0l2 2-2 2-2-2zm52 0l2 2-2 2-2-2zm-266 2l2 2-2 2-2-2zm100 0l2 2-2 2-2-2zm48 0l2 2-2 2-2-2zm4 0l2 2-2 2-2-2zm16 0l2 2-2 2-2-2zm-218 2l2 2-2 2-2-2zm64 0l2 2-2 2-2-2zm68 0l2 2-2 2-2-2zm16 0l2 2-2 2-2-2zm52 0l2 2-2 2-2-2zm24 0l2 2-2 2-2-2zm24 0l2 2-2 2-2-2zm36 0l2 2-2 2-2-2zm32 0l2 2-2 2-2-2zm-322 2l2 2-2 2-2-2zm168 0l2 2-2 2-2-2zm16 0l2 2-2 2-2-2zm8 0l2 2-2 2-2-2zm28 0l2 2-2 2-2-2zm100 0l2 2-2 2-2-2zm-282 2l2 2-2 2-2-2zm28 0l2 2-2 2-2-2zm116 0l2 2-2 2-2-2zm36 0l2 2-2 2-2-2zm24 0l2 2-2 2-2-2zm12 0l2 2-2 2-2-2zm52 0l2 2-2 2-2-2zm-278 2l2 2-2 2-2-2zm28 0l2 2-2 2-2-2zm132 0l2 2-2 2-2-2zm88 0l2 2-2 2-2-2zm8 0l2 2-2 2-2-2zm40 0l2 2-2 2-2-2zm-250 2l2 2-2 2-2-2zm116 0l2 2-2 2-2-2zm136 0l2 2-2 2-2-2zm-290 2l2 2-2 2-2-2zm104 0l2 2-2 2-2-2zm56 0l2 2-2 2-2-2zm32 0l2 2-2 2-2-2zm28 0l2 2-2 2-2-2zm56 0l2 2-2 2-2-2zm-294 2l2 2-2 2-2-2zm116 0l2 2-2 2-2-2zm60 0l2 2-2 2-2-2zm-54 2l2 2-2 2-2-2zm48 0l2 2-2 2-2-2zm36 0l2 2-2 2-2-2zm12 0l2 2-2 2-2-2zm-238 2l2 2-2 2-2-2zm28 0l2 2-2 2-2-2zm112 0l2 2-2 2-2-2zm44 0l2 2-2 2-2-2zm74 2l2 2-2 2-2-2zm-58 2l2 2-2 2-2-2zm8 0l2 2-2 2-2-2zm24 0l2 2-2 2-2-2zm4 0l2 2-2 2-2-2zm16 0l2 2-2 2-2-2zm24 0l2 2-2 2-2-2zm4 0l2 2-2 2-2-2zm-242 2l2 2-2 2-2-2zm96 0l2 2-2 2-2-2zm64 0l2 2-2 2-2-2zm116 0l2 2-2 2-2-2zm-310 2l2 2-2 2-2-2zm60 0l2 2-2 2-2-2zm196 0l2 2-2 2-2-2zm-210 2l2 2-2 2-2-2zm232 0l2 2-2 2-2-2zm-250 2l2 2-2 2-2-2zm16 0l2 2-2 2-2-2zm4 0l2 2-2 2-2-2zm100 0l2 2-2 2-2-2zm84 0l2 2-2 2-2-2zm-186 2l2 2-2 2-2-2zm148 0l2 2-2 2-2-2zm-178 2l2 2-2 2-2-2zm108 0l2 2-2 2-2-2zm16 0l2 2-2 2-2-2zm136 0l2 2-2 2-2-2zm-162 2l2 2-2 2-2-2zm84 0l2 2-2 2-2-2zm72 0l2 2-2 2-2-2zm-74 2l2 2-2 2-2-2zm52 0l2 2-2 2-2-2zm-58 2l2 2-2 2-2-2zm28 0l2 2-2 2-2-2zm-282 2l2 2-2 2-2-2zm84 0l2 2-2 2-2-2zm106 2l2 2-2 2-2-2zm36 0l2 2-2 2-2-2zm32 0l2 2-2 2-2-2zm50 2l2 2-2 2-2-2zm32 0l2 2-2 2-2-2zm-338 2l2 2-2 2-2-2zm256 0l2 2-2 2-2-2zm-234 2l2 2-2 2-2-2zm310 2l2 2-2 2-2-2zm-122 2l2 2-2 2-2-2zm56 0l2 2-2 2-2-2zm-246 2l2 2-2 2-2-2zm44 0l2 2-2 2-2-2zm208 0l2 2-2 2-2-2zm12 0l2 2-2 2-2-2zm-260 4l2 2-2 2-2-2zm288 0l2 2-2 2-2-2zm-90 2l2 2-2 2-2-2zm48 0l2 2-2 2-2-2zm-94 2l2 2-2 2-2-2zm44 0l2 2-2 2-2-2zm-42 2l2 2-2 2-2-2zm4 0l2 2-2 2-2-2zm40 0l2 2-2 2-2-2zm20 0l2 2-2 2-2-2zm38 2l2 2-2 2-2-2zm-54 2l2 2-2 2-2-2zm36 0l2 2-2 2-2-2zm-40 4l2 2-2 2-2-2zm10 2l2 2-2 2-2-2zm-54 2l2 2-2 2-2-2z"/><path fill="#acc2cc" stroke="#acc2cc" d="M247 3l2 2-2 2-2-2zm-16 4l2 2-2 2-2-2zm22 2l2 2-2 2-2-2zm32 4l2 2-2 2-2-2zm-50 2l2 2-2 2-2-2zm4 0l2 2-2 2-2-2zm8 0l2 2-2 2-2-2zm38 2l2 2-2 2-2-2zm8 0l2 2-2 2-2-2zm-102 2l2 2-2 2-2-2zm56 0l2 2-2 2-2-2zm-46 2l2 2-2 2-2-2zm46 2l2 2-2 2-2-2zm30 2l2 2-2 2-2-2zm12 0l2 2-2 2-2-2zm-106 2l2 2-2 2-2-2zm68 0l2 2-2 2-2-2zm-98 2l2 2-2 2-2-2zm8 0l2 2-2 2-2-2zm4 0l2 2-2 2-2-2zm124 0l2 2-2 2-2-2zm-126 2l2 2-2 2-2-2zm12 0l2 2-2 2-2-2zm4 0l2 2-2 2-2-2zm92 0l2 2-2 2-2-2zm-86 2l2 2-2 2-2-2zm-30 2l2 2-2 2-2-2zm104 0l2 2-2 2-2-2zm20 0l2 2-2 2-2-2zm-130 2l2 2-2 2-2-2zm12 0l2 2-2 2-2-2zm44 4l2 2-2 2-2-2zm-42 2l2 2-2 2-2-2zm12 0l2 2-2 2-2-2zm12 0l2 2-2 2-2-2zm80 0l2 2-2 2-2-2zm-136 4l2 2-2 2-2-2zm56 0l2 2-2 2-2-2zm84 0l2 2-2 2-2-2zm-110 2l2 2-2 2-2-2zm28 0l2 2-2 2-2-2zm8 0l2 2-2 2-2-2zm72 0l2 2-2 2-2-2zm8 0l2 2-2 2-2-2zm-146 2l2 2-2 2-2-2zm64 0l2 2-2 2-2-2zm172 0l2 2-2 2-2-2zm-250 2l2 2-2 2-2-2zm24 0l2 2-2 2-2-2zm36 0l2 2-2 2-2-2zm8 0l2 2-2 2-2-2zm24 0l2 2-2 2-2-2zm60 0l2 2-2 2-2-2zm24 0l2 2-2 2-2-2zm-190 2l2 2-2 2-2-2zm16 0l2 2-2 2-2-2zm8 0l2 2-2 2-2-2zm248 0l2 2-2 2-2-2zm-186 2l2 2-2 2-2-2zm104 0l2 2-2 2-2-2zm-22 2l2 2-2 2-2-2zm88 0l2 2-2 2-2-2zm12 0l2 2-2 2-2-2zm4 0l2 2-2 2-2-2zm-266 2l2 2-2 2-2-2zm32 0l2 2-2 2-2-2zm56 0l2 2-2 2-2-2zm12 0l2 2-2 2-2-2zm60 0l2 2-2 2-2-2zm-54 2l2 2-2 2-2-2zm32 0l2 2-2 2-2-2zm32 0l2 2-2 2-2-2zm100 0l2 2-2 2-2-2zm-234 2l2 2-2 2-2-2zm60 0l2 2-2 2-2-2zm40 0l2 2-2 2-2-2zm32 0l2 2-2 2-2-2zm92 0l2 2-2 2-2-2zm-198 2l2 2-2 2-2-2zm56 0l2 2-2 2-2-2zm-78 2l2 2-2 2-2-2zm44 0l2 2-2 2-2-2zm52 0l2 2-2 2-2-2zm-134 2l2 2-2 2-2-2zm104 0l2 2-2 2-2-2zm28 0l2 2-2 2-2-2zm-2 2l2 2-2 2-2-2zm20 0l2 2-2 2-2-2zm128 0l2 2-2 2-2-2zm36 0l2 2-2 2-2-2zm-290 2l2 2-2 2-2-2zm28 0l2 2-2 2-2-2zm80 0l2 2-2 2-2-2zm208 0l2 2-2 2-2-2zm-238 2l2 2-2 2-2-2zm12 0l2 2-2 2-2-2zm48 0l2 2-2 2-2-2zm116 0l2 2-2 2-2-2zm-186 2l2 2-2 2-2-2zm84 0l2 2-2 2-2-2zm96 0l2 2-2 2-2-2zm8 0l2 2-2 2-2-2zm12 0l2 2-2 2-2-2zm44 0l2 2-2 2-2-2zm-338 2l2 2-2 2-2-2zm60 0l2 2-2 2-2-2zm96 0l2 2-2 2-2-2zm128 0l2 2-2 2-2-2zm8 0l2 2-2 2-2-2zm-266 2l2 2-2 2-2-2zm64 0l2 2-2 2-2-2zm32 0l2 2-2 2-2-2zm22 2l2 2-2 2-2-2zm32 0l2 2-2 2-2-2zm-62 2l2 2-2 2-2-2zm-78 2l2 2-2 2-2-2zm136 0l2 2-2 2-2-2zm-158 2l2 2-2 2-2-2zm296 0l2 2-2 2-2-2zm28 0l2 2-2 2-2-2zm-290 2l2 2-2 2-2-2zm8 0l2 2-2 2-2-2zm240 0l2 2-2 2-2-2zm16 0l2 2-2 2-2-2zm-262 2l2 2-2 2-2-2zm268 0l2 2-2 2-2-2zm4 0l2 2-2 2-2-2zm12 0l2 2-2 2-2-2zm-260 4l2 2-2 2-2-2zm248 0l2 2-2 2-2-2zm12 0l2 2-2 2-2-2zm4 0l2 2-2 2-2-2zm-286 2l2 2-2 2-2-2zm28 0l2 2-2 2-2-2zm96 0l2 2-2 2-2-2zm172 0l2 2-2 2-2-2zm-238 2l2 2-2 2-2-2zm244 0l2 2-2 2-2-2zm-222 2l2 2-2 2-2-2zm28 0l2 2-2 2-2-2zm-60 4l2 2-2 2-2-2zm40 0l2 2-2 2-2-2zm16 0l2 2-2 2-2-2zm4 0l2 2-2 2-2-2zm184 0l2 2-2 2-2-2zm-294 2l2 2-2 2-2-2zm248 0l2 2-2 2-2-2zm4 0l2 2-2 2-2-2zm-262 2l2 2-2 2-2-2zm268 0l2 2-2 2-2-2zm-162 2l2 2-2 2-2-2zm28 0l2 2-2 2-2-2zm144 0l2 2-2 2-2-2zm12 0l2 2-2 2-2-2zm-326 2l2 2-2 2-2-2zm134 2l2 2-2 2-2-2zm-78 2l2 2-2 2-2-2zm246 2l2 2-2 2-2-2zm36 0l2 2-2 2-2-2zm-334 2l2 2-2 2-2-2zm4 0l2 2-2 2-2-2zm16 0l2 2-2 2-2-2zm244 0l2 2-2 2-2-2zm28 0l2 2-2 2-2-2zm52 0l2 2-2 2-2-2zm28 0l2 2-2 2-2-2zm-366 2l2 2-2 2-2-2zm136 0l2 2-2 2-2-2zm136 0l2 2-2 2-2-2zm8 0l2 2-2 2-2-2zm24 0l2 2-2 2-2-2zm-206 2l2 2-2 2-2-2zm200 0l2 2-2 2-2-2zm-298 2l2 2-2 2-2-2zm236 0l2 2-2 2-2-2zm4 0l2 2-2 2-2-2zm-166 2l2 2-2 2-2-2zm16 0l2 2-2 2-2-2zm12 0l2 2-2 2-2-2zm34 2l2 2-2 2-2-2zm188 0l2 2-2 2-2-2zm36 0l2 2-2 2-2-2zm-338 2l2 2-2 2-2-2zm52 0l2 2-2 2-2-2zm20 0l2 2-2 2-2-2zm240 0l2 2-2 2-2-2zm-286 2l2 2-2 2-2-2zm16 0l2 2-2 2-2-2zm72 0l2 2-2 2-2-2zm112 0l2 2-2 2-2-2zm8 0l2 2-2 2-2-2zm56 0l2 2-2 2-2-2zm16 0l2 2-2 2-2-2zm12 0l2 2-2 2-2-2zm-306 2l2 2-2 2-2-2zm16 0l2 2-2 2-2-2zm60 0l2 2-2 2-2-2zm152 0l2 2-2 2-2-2zm-218 2l2 2-2 2-2-2zm56 0l2 2-2 2-2-2zm112 0l2 2-2 2-2-2zm4 0l2 2-2 2-2-2zm84 0l2 2-2 2-2-2zm-230 2l2 2-2 2-2-2zm12 0l2 2-2 2-2-2zm24 0l2 2-2 2-2-2zm228 0l2 2-2 2-2-2zm-306 2l2 2-2 2-2-2zm184 0l2 2-2 2-2-2zm136 0l2 2-2 2-2-2zm-338 2l2 2-2 2-2-2zm28 0l2 2-2 2-2-2zm44 0l2 2-2 2-2-2zm36 0l2 2-2 2-2-2zm124 0l2 2-2 2-2-2zm4 0l2 2-2 2-2-2zm12 0l2 2-2 2-2-2zm-186 2l2 2-2 2-2-2zm160 0l2 2-2 2-2-2zm24 0l2 2-2 2-2-2zm56 0l2 2-2 2-2-2zm20 0l2 2-2 2-2-2zm48 0l2 2-2 2-2-2zm-266 2l2 2-2 2-2-2zm160 0l2 2-2 2-2-2zm68 0l2 2-2 2-2-2zm-314 2l2 2-2 2-2-2zm40 0l2 2-2 2-2-2zm140 0l2 2-2 2-2-2zm36 0l2 2-2 2-2-2zm40 0l2 2-2 2-2-2zm48 0l2 2-2 2-2-2zm4 0l2 2-2 2-2-2zm-270 2l2 2-2 2-2-2zm156 0l2 2-2 2-2-2zm16 0l2 2-2 2-2-2zm32 0l2 2-2 2-2-2zm32 0l2 2-2 2-2-2zm64 0l2 2-2 2-2-2zm-250 2l2 2-2 2-2-2zm168 0l2 2-2 2-2-2zm48 0l2 2-2 2-2-2zm12 0l2 2-2 2-2-2zm-142 2l2 2-2 2-2-2zm4 0l2 2-2 2-2-2zm48 0l2 2-2 2-2-2zm56 0l2 2-2 2-2-2zm4 0l2 2-2 2-2-2zm-278 2l2 2-2 2-2-2zm8 0l2 2-2 2-2-2zm52 0l2 2-2 2-2-2zm132 0l2 2-2 2-2-2zm20 0l2 2-2 2-2-2zm12 0l2 2-2 2-2-2zm40 0l2 2-2 2-2-2zm40 0l2 2-2 2-2-2zm8 0l2 2-2 2-2-2zm-286 2l2 2-2 2-2-2zm308 0l2 2-2 2-2-2zm-246 2l2 2-2 2-2-2zm4 0l2 2-2 2-2-2zm84 0l2 2-2 2-2-2zm100 0l2 2-2 2-2-2zm68 0l2 2-2 2-2-2zm-342 2l2 2-2 2-2-2zm4 0l2 2-2 2-2-2zm160 0l2 2-2 2-2-2zm4 0l2 2-2 2-2-2zm12 0l2 2-2 2-2-2zm52 0l2 2-2 2-2-2zm32 0l2 2-2 2-2-2zm-274 2l2 2-2 2-2-2zm44 0l2 2-2 2-2-2zm240 0l2 2-2 2-2-2zm52 0l2 2-2 2-2-2zm-182 2l2 2-2 2-2-2zm12 0l2 2-2 2-2-2zm68 0l2 2-2 2-2-2zm52 0l2 2-2 2-2-2zm-270 2l2 2-2 2-2-2zm20 0l2 2-2 2-2-2zm196 0l2 2-2 2-2-2zm4 0l2 2-2 2-2-2zm16 0l2 2-2 2-2-2zm84 0l2 2-2 2-2-2zm-274 2l2 2-2 2-2-2zm120 0l2 2-2 2-2-2zm100 0l2 2-2 2-2-2zm20 0l2 2-2 2-2-2zm24 0l2 2-2 2-2-2zm-166 2l2 2-2 2-2-2zm144 0l2 2-2 2-2-2zm36 0l2 2-2 2-2-2zm-126 2l2 2-2 2-2-2zm76 0l2 2-2 2-2-2zm4 0l2 2-2 2-2-2zm-110 2l2 2-2 2-2-2zm-122 2l2 2-2 2-2-2zm100 0l2 2-2 2-2-2zm44 0l2 2-2 2-2-2zm24 0l2 2-2 2-2-2zm-26 2l2 2-2 2-2-2zm16 0l2 2-2 2-2-2zm24 0l2 2-2 2-2-2zm84 0l2 2-2 2-2-2zm-318 2l2 2-2 2-2-2zm72 0l2 2-2 2-2-2zm112 0l2 2-2 2-2-2zm16 0l2 2-2 2-2-2zm16 0l2 2-2 2-2-2zm-82 2l2 2-2 2-2-2zm48 0l2 2-2 2-2-2zm72 0l2 2-2 2-2-2zm32 0l2 2-2 2-2-2zm-282 2l2 2-2 2-2-2zm180 0l2 2-2 2-2-2zm120 0l2 2-2 2-2-2zm-234 2l2 2-2 2-2-2zm188 0l2 2-2 2-2-2zm12 0l2 2-2 2-2-2zm-326 2l2 2-2 2-2-2zm240 0l2 2-2 2-2-2zm80 0l2 2-2 2-2-2zm32 0l2 2-2 2-2-2zm-350 2l2 2-2 2-2-2zm260 0l2 2-2 2-2-2zm12 0l2 2-2 2-2-2zm28 0l2 2-2 2-2-2zm-110 2l2 2-2 2-2-2zm-186 2l2 2-2 2-2-2zm196 0l2 2-2 2-2-2zm4 0l2 2-2 2-2-2zm104 0l2 2-2 2-2-2zm-118 2l2 2-2 2-2-2zm88 0l2 2-2 2-2-2zm16 0l2 2-2 2-2-2zm-78 2l2 2-2 2-2-2zm96 0l2 2-2 2-2-2zm16 0l2 2-2 2-2-2zm-38 2l2 2-2 2-2-2zm36 0l2 2-2 2-2-2zm-322 2l2 2-2 2-2-2zm256 0l2 2-2 2-2-2zm76 0l2 2-2 2-2-2zm-330 2l2 2-2 2-2-2zm212 0l2 2-2 2-2-2zm76 0l2 2-2 2-2-2zm12 0l2 2-2 2-2-2zm-16 4l2 2-2 2-2-2zm-18 2l2 2-2 2-2-2zm16 0l2 2-2 2-2-2zm-82 2l2 2-2 2-2-2zm60 0l2 2-2 2-2-2zm-226 2l2 2-2 2-2-2zm268 0l2 2-2 2-2-2zm-122 2l2 2-2 2-2-2zm48 0l2 2-2 2-2-2zm24 0l2 2-2 2-2-2zm48 0l2 2-2 2-2-2zm-134 2l2 2-2 2-2-2zm44 0l2 2-2 2-2-2zm-2 2l2 2-2 2-2-2zm52 0l2 2-2 2-2-2zm-46 2l2 2-2 2-2-2zm52 0l2 2-2 2-2-2zm12 0l2 2-2 2-2-2zm-56 8l2 2-2 2-2-2zm16 0l2 2-2 2-2-2zm-28 4l2 2-2 2-2-2zm16 0l2 2-2 2-2-2zm-24 4l2 2-2 2-2-2z"/><path fill="#a6bfca" stroke="#a6bfca" d="M281 9l2 2-2 2-2-2zm-42 2l2 2-2 2-2-2zm2 6l2 2-2 2-2-2zm38 2l2 2-2 2-2-2zm-84 4l2 2-2 2-2-2zm60 0l2 2-2 2-2-2zm36 0l2 2-2 2-2-2zm-90 2l2 2-2 2-2-2zm44 0l2 2-2 2-2-2zm8 0l2 2-2 2-2-2zm-44 4l2 2-2 2-2-2zm-38 2l2 2-2 2-2-2zm12 0l2 2-2 2-2-2zm24 0l2 2-2 2-2-2zm24 0l2 2-2 2-2-2zm4 0l2 2-2 2-2-2zm4 0l2 2-2 2-2-2zm-66 2l2 2-2 2-2-2zm110 2l2 2-2 2-2-2zm8 0l2 2-2 2-2-2zm-34 2l2 2-2 2-2-2zm-114 2l2 2-2 2-2-2zm26 2l2 2-2 2-2-2zm44 0l2 2-2 2-2-2zm-62 2l2 2-2 2-2-2zm136 0l2 2-2 2-2-2zm-130 2l2 2-2 2-2-2zm52 0l2 2-2 2-2-2zm24 0l2 2-2 2-2-2zm8 0l2 2-2 2-2-2zm4 0l2 2-2 2-2-2zm24 0l2 2-2 2-2-2zm-106 2l2 2-2 2-2-2zm72 0l2 2-2 2-2-2zm8 0l2 2-2 2-2-2zm124 0l2 2-2 2-2-2zm-218 2l2 2-2 2-2-2zm56 0l2 2-2 2-2-2zm40 0l2 2-2 2-2-2zm-74 2l2 2-2 2-2-2zm32 0l2 2-2 2-2-2zm32 0l2 2-2 2-2-2zm120 0l2 2-2 2-2-2zm-142 2l2 2-2 2-2-2zm76 0l2 2-2 2-2-2zm-110 2l2 2-2 2-2-2zm184 0l2 2-2 2-2-2zm36 0l2 2-2 2-2-2zm-218 2l2 2-2 2-2-2zm104 0l2 2-2 2-2-2zm-124 4l2 2-2 2-2-2zm20 0l2 2-2 2-2-2zm-26 2l2 2-2 2-2-2zm32 0l2 2-2 2-2-2zm56 0l2 2-2 2-2-2zm-106 2l2 2-2 2-2-2zm36 0l2 2-2 2-2-2zm70 2l2 2-2 2-2-2zm8 0l2 2-2 2-2-2zm16 0l2 2-2 2-2-2zm112 0l2 2-2 2-2-2zm-10 2l2 2-2 2-2-2zm24 0l2 2-2 2-2-2zm-194 2l2 2-2 2-2-2zm232 0l2 2-2 2-2-2zm-266 2l2 2-2 2-2-2zm40 0l2 2-2 2-2-2zm40 0l2 2-2 2-2-2zm2 2l2 2-2 2-2-2zm8 0l2 2-2 2-2-2zm164 0l2 2-2 2-2-2zm-250 2l2 2-2 2-2-2zm92 0l2 2-2 2-2-2zm8 0l2 2-2 2-2-2zm136 0l2 2-2 2-2-2zm22 2l2 2-2 2-2-2zm-22 2l2 2-2 2-2-2zm12 0l2 2-2 2-2-2zm16 0l2 2-2 2-2-2zm-326 6l2 2-2 2-2-2zm136 0l2 2-2 2-2-2zm136 0l2 2-2 2-2-2zm-218 2l2 2-2 2-2-2zm32 0l2 2-2 2-2-2zm76 0l2 2-2 2-2-2zm-166 2l2 2-2 2-2-2zm32 0l2 2-2 2-2-2zm132 0l2 2-2 2-2-2zm24 0l2 2-2 2-2-2zm132 0l2 2-2 2-2-2zm-198 2l2 2-2 2-2-2zm12 0l2 2-2 2-2-2zm4 0l2 2-2 2-2-2zm40 0l2 2-2 2-2-2zm152 0l2 2-2 2-2-2zm8 0l2 2-2 2-2-2zm-266 2l2 2-2 2-2-2zm108 0l2 2-2 2-2-2zm4 0l2 2-2 2-2-2zm-146 2l2 2-2 2-2-2zm16 0l2 2-2 2-2-2zm60 0l2 2-2 2-2-2zm36 0l2 2-2 2-2-2zm-142 2l2 2-2 2-2-2zm28 0l2 2-2 2-2-2zm20 0l2 2-2 2-2-2zm16 0l2 2-2 2-2-2zm12 0l2 2-2 2-2-2zm44 0l2 2-2 2-2-2zm4 0l2 2-2 2-2-2zm4 0l2 2-2 2-2-2zm36 0l2 2-2 2-2-2zm12 0l2 2-2 2-2-2zm128 0l2 2-2 2-2-2zm-310 2l2 2-2 2-2-2zm128 0l2 2-2 2-2-2zm180 0l2 2-2 2-2-2zm-262 2l2 2-2 2-2-2zm40 0l2 2-2 2-2-2zm80 0l2 2-2 2-2-2zm4 0l2 2-2 2-2-2zm-74 2l2 2-2 2-2-2zm-26 2l2 2-2 2-2-2zm44 0l2 2-2 2-2-2zm32 0l2 2-2 2-2-2zm180 0l2 2-2 2-2-2zm-282 2l2 2-2 2-2-2zm56 0l2 2-2 2-2-2zm50 2l2 2-2 2-2-2zm176 0l2 2-2 2-2-2zm-286 2l2 2-2 2-2-2zm20 0l2 2-2 2-2-2zm272 0l2 2-2 2-2-2zm-330 2l2 2-2 2-2-2zm76 0l2 2-2 2-2-2zm64 0l2 2-2 2-2-2zm4 0l2 2-2 2-2-2zm212 0l2 2-2 2-2-2zm-198 2l2 2-2 2-2-2zm152 0l2 2-2 2-2-2zm-134 2l2 2-2 2-2-2zm168 0l2 2-2 2-2-2zm-316 4l2 2-2 2-2-2zm8 0l2 2-2 2-2-2zm68 0l2 2-2 2-2-2zm152 0l2 2-2 2-2-2zm124 0l2 2-2 2-2-2zm-354 2l2 2-2 2-2-2zm16 0l2 2-2 2-2-2zm44 0l2 2-2 2-2-2zm200 0l2 2-2 2-2-2zm40 0l2 2-2 2-2-2zm60 0l2 2-2 2-2-2zm-114 2l2 2-2 2-2-2zm84 0l2 2-2 2-2-2zm-306 2l2 2-2 2-2-2zm76 0l2 2-2 2-2-2zm212 0l2 2-2 2-2-2zm-88 4l2 2-2 2-2-2zm72 0l2 2-2 2-2-2zm4 0l2 2-2 2-2-2zm-274 2l2 2-2 2-2-2zm32 0l2 2-2 2-2-2zm168 0l2 2-2 2-2-2zm84 0l2 2-2 2-2-2zm16 0l2 2-2 2-2-2zm-274 2l2 2-2 2-2-2zm4 0l2 2-2 2-2-2zm216 0l2 2-2 2-2-2zm-242 2l2 2-2 2-2-2zm16 0l2 2-2 2-2-2zm88 0l2 2-2 2-2-2zm120 0l2 2-2 2-2-2zm4 0l2 2-2 2-2-2zm-182 2l2 2-2 2-2-2zm40 0l2 2-2 2-2-2zm180 0l2 2-2 2-2-2zm4 0l2 2-2 2-2-2zm-274 2l2 2-2 2-2-2zm44 0l2 2-2 2-2-2zm152 0l2 2-2 2-2-2zm60 0l2 2-2 2-2-2zm32 0l2 2-2 2-2-2zm-202 2l2 2-2 2-2-2zm100 0l2 2-2 2-2-2zm20 0l2 2-2 2-2-2zm-210 2l2 2-2 2-2-2zm192 0l2 2-2 2-2-2zm108 0l2 2-2 2-2-2zm-298 2l2 2-2 2-2-2zm204 0l2 2-2 2-2-2zm28 0l2 2-2 2-2-2zm48 0l2 2-2 2-2-2zm-74 2l2 2-2 2-2-2zm-210 2l2 2-2 2-2-2zm12 0l2 2-2 2-2-2zm92 0l2 2-2 2-2-2zm100 0l2 2-2 2-2-2zm136 0l2 2-2 2-2-2zm-294 2l2 2-2 2-2-2zm-30 2l2 2-2 2-2-2zm56 0l2 2-2 2-2-2zm-46 2l2 2-2 2-2-2zm12 0l2 2-2 2-2-2zm52 0l2 2-2 2-2-2zm104 0l2 2-2 2-2-2zm24 0l2 2-2 2-2-2zm28 0l2 2-2 2-2-2zm44 0l2 2-2 2-2-2zm-218 2l2 2-2 2-2-2zm192 0l2 2-2 2-2-2zm40 0l2 2-2 2-2-2zm8 0l2 2-2 2-2-2zm-302 2l2 2-2 2-2-2zm8 0l2 2-2 2-2-2zm168 0l2 2-2 2-2-2zm52 0l2 2-2 2-2-2zm112 0l2 2-2 2-2-2zm-314 2l2 2-2 2-2-2zm196 0l2 2-2 2-2-2zm16 0l2 2-2 2-2-2zm20 0l2 2-2 2-2-2zm4 0l2 2-2 2-2-2zm8 0l2 2-2 2-2-2zm36 0l2 2-2 2-2-2zm-278 2l2 2-2 2-2-2zm32 0l2 2-2 2-2-2zm8 0l2 2-2 2-2-2zm112 0l2 2-2 2-2-2zm132 0l2 2-2 2-2-2zm-318 2l2 2-2 2-2-2zm188 0l2 2-2 2-2-2zm4 0l2 2-2 2-2-2zm60 0l2 2-2 2-2-2zm68 0l2 2-2 2-2-2zm-318 2l2 2-2 2-2-2zm180 0l2 2-2 2-2-2zm-186 2l2 2-2 2-2-2zm196 0l2 2-2 2-2-2zm16 0l2 2-2 2-2-2zm32 0l2 2-2 2-2-2zm76 0l2 2-2 2-2-2zm-310 2l2 2-2 2-2-2zm144 0l2 2-2 2-2-2zm28 0l2 2-2 2-2-2zm16 0l2 2-2 2-2-2zm12 0l2 2-2 2-2-2zm8 0l2 2-2 2-2-2zm80 0l2 2-2 2-2-2zm-226 2l2 2-2 2-2-2zm152 0l2 2-2 2-2-2zm-34 2l2 2-2 2-2-2zm16 0l2 2-2 2-2-2zm16 0l2 2-2 2-2-2zm16 0l2 2-2 2-2-2zm4 0l2 2-2 2-2-2zm72 0l2 2-2 2-2-2zm-46 2l2 2-2 2-2-2zm-78 2l2 2-2 2-2-2zm56 0l2 2-2 2-2-2zm-230 2l2 2-2 2-2-2zm12 0l2 2-2 2-2-2zm20 0l2 2-2 2-2-2zm108 0l2 2-2 2-2-2zm32 0l2 2-2 2-2-2zm12 0l2 2-2 2-2-2zm8 0l2 2-2 2-2-2zm4 0l2 2-2 2-2-2zm52 0l2 2-2 2-2-2zm44 0l2 2-2 2-2-2zm-302 2l2 2-2 2-2-2zm152 0l2 2-2 2-2-2zm20 0l2 2-2 2-2-2zm4 0l2 2-2 2-2-2zm-126 2l2 2-2 2-2-2zm100 0l2 2-2 2-2-2zm12 0l2 2-2 2-2-2zm-138 2l2 2-2 2-2-2zm120 0l2 2-2 2-2-2zm-2 2l2 2-2 2-2-2zm12 0l2 2-2 2-2-2zm8 0l2 2-2 2-2-2zm46 2l2 2-2 2-2-2zm24 0l2 2-2 2-2-2zm60 0l2 2-2 2-2-2zm-258 2l2 2-2 2-2-2zm100 0l2 2-2 2-2-2zm36 0l2 2-2 2-2-2zm8 0l2 2-2 2-2-2zm44 0l2 2-2 2-2-2zm68 0l2 2-2 2-2-2zm-354 2l2 2-2 2-2-2zm96 0l2 2-2 2-2-2zm244 0l2 2-2 2-2-2zm24 0l2 2-2 2-2-2zm-78 2l2 2-2 2-2-2zm36 0l2 2-2 2-2-2zm20 0l2 2-2 2-2-2zm-106 2l2 2-2 2-2-2zm16 0l2 2-2 2-2-2zm52 0l2 2-2 2-2-2zm12 0l2 2-2 2-2-2zm28 0l2 2-2 2-2-2zm24 0l2 2-2 2-2-2zm-350 2l2 2-2 2-2-2zm216 0l2 2-2 2-2-2zm84 0l2 2-2 2-2-2zm12 0l2 2-2 2-2-2zm24 0l2 2-2 2-2-2zm-134 2l2 2-2 2-2-2zm44 0l2 2-2 2-2-2zm52 0l2 2-2 2-2-2zm-94 2l2 2-2 2-2-2zm12 0l2 2-2 2-2-2zm84 0l2 2-2 2-2-2zm-122 2l2 2-2 2-2-2zm32 0l2 2-2 2-2-2zm40 0l2 2-2 2-2-2zm20 0l2 2-2 2-2-2zm6 2l2 2-2 2-2-2zm28 0l2 2-2 2-2-2zm18 2l2 2-2 2-2-2zm-46 2l2 2-2 2-2-2zm36 0l2 2-2 2-2-2zm-138 2l2 2-2 2-2-2zm68 0l2 2-2 2-2-2zm60 0l2 2-2 2-2-2zm-66 2l2 2-2 2-2-2zm28 0l2 2-2 2-2-2zm56 0l2 2-2 2-2-2zm-88 4l2 2-2 2-2-2zm64 0l2 2-2 2-2-2zm-38 2l2 2-2 2-2-2zm-2 2l2 2-2 2-2-2zm-218 2l2 2-2 2-2-2zm172 0l2 2-2 2-2-2zm12 0l2 2-2 2-2-2zm8 0l2 2-2 2-2-2zm40 0l2 2-2 2-2-2zm-18 2l2 2-2 2-2-2zm-194 2l2 2-2 2-2-2zm180 0l2 2-2 2-2-2zm-8 4l2 2-2 2-2-2z"/><path fill="#a0bcc9" stroke="#a0bcc9" d="M225 13l2 2-2 2-2-2zm4 0l2 2-2 2-2-2zm6 6l2 2-2 2-2-2zm-46 2l2 2-2 2-2-2zm-2 2l2 2-2 2-2-2zm10 2l2 2-2 2-2-2zm40 0l2 2-2 2-2-2zm20 0l2 2-2 2-2-2zm-62 2l2 2-2 2-2-2zm44 0l2 2-2 2-2-2zm16 0l2 2-2 2-2-2zm-50 2l2 2-2 2-2-2zm48 0l2 2-2 2-2-2zm-12 4l2 2-2 2-2-2zm-34 2l2 2-2 2-2-2zm4 0l2 2-2 2-2-2zm32 0l2 2-2 2-2-2zm20 0l2 2-2 2-2-2zm24 0l2 2-2 2-2-2zm-50 2l2 2-2 2-2-2zm16 0l2 2-2 2-2-2zm12 0l2 2-2 2-2-2zm-114 2l2 2-2 2-2-2zm36 0l2 2-2 2-2-2zm88 0l2 2-2 2-2-2zm8 0l2 2-2 2-2-2zm-134 2l2 2-2 2-2-2zm24 0l2 2-2 2-2-2zm76 0l2 2-2 2-2-2zm-102 2l2 2-2 2-2-2zm96 0l2 2-2 2-2-2zm-102 2l2 2-2 2-2-2zm40 0l2 2-2 2-2-2zm100 0l2 2-2 2-2-2zm-50 2l2 2-2 2-2-2zm52 0l2 2-2 2-2-2zm-154 2l2 2-2 2-2-2zm72 0l2 2-2 2-2-2zm16 0l2 2-2 2-2-2zm12 0l2 2-2 2-2-2zm-110 2l2 2-2 2-2-2zm140 0l2 2-2 2-2-2zm-146 2l2 2-2 2-2-2zm32 0l2 2-2 2-2-2zm4 0l2 2-2 2-2-2zm20 0l2 2-2 2-2-2zm76 0l2 2-2 2-2-2zm-106 2l2 2-2 2-2-2zm36 0l2 2-2 2-2-2zm180 0l2 2-2 2-2-2zm-230 2l2 2-2 2-2-2zm112 0l2 2-2 2-2-2zm8 0l2 2-2 2-2-2zm36 0l2 2-2 2-2-2zm76 0l2 2-2 2-2-2zm16 0l2 2-2 2-2-2zm-230 2l2 2-2 2-2-2zm78 2l2 2-2 2-2-2zm20 0l2 2-2 2-2-2zm-22 2l2 2-2 2-2-2zm72 0l2 2-2 2-2-2zm-122 2l2 2-2 2-2-2zm40 0l2 2-2 2-2-2zm20 0l2 2-2 2-2-2zm4 0l2 2-2 2-2-2zm56 0l2 2-2 2-2-2zm-122 2l2 2-2 2-2-2zm52 0l2 2-2 2-2-2zm20 0l2 2-2 2-2-2zm200 0l2 2-2 2-2-2zm-298 2l2 2-2 2-2-2zm88 0l2 2-2 2-2-2zm48 0l2 2-2 2-2-2zm-134 2l2 2-2 2-2-2zm40 0l2 2-2 2-2-2zm20 0l2 2-2 2-2-2zm44 0l2 2-2 2-2-2zm40 0l2 2-2 2-2-2zm-94 2l2 2-2 2-2-2zm20 0l2 2-2 2-2-2zm-74 2l2 2-2 2-2-2zm72 0l2 2-2 2-2-2zm-106 2l2 2-2 2-2-2zm92 0l2 2-2 2-2-2zm240 0l2 2-2 2-2-2zm-330 2l2 2-2 2-2-2zm136 0l2 2-2 2-2-2zm6 2l2 2-2 2-2-2zm164 0l2 2-2 2-2-2zm-306 2l2 2-2 2-2-2zm80 0l2 2-2 2-2-2zm-50 2l2 2-2 2-2-2zm88 0l2 2-2 2-2-2zm8 0l2 2-2 2-2-2zm-46 2l2 2-2 2-2-2zm68 0l2 2-2 2-2-2zm24 0l2 2-2 2-2-2zm-174 2l2 2-2 2-2-2zm24 0l2 2-2 2-2-2zm48 0l2 2-2 2-2-2zm68 0l2 2-2 2-2-2zm56 0l2 2-2 2-2-2zm128 0l2 2-2 2-2-2zm-314 2l2 2-2 2-2-2zm48 0l2 2-2 2-2-2zm24 0l2 2-2 2-2-2zm92 0l2 2-2 2-2-2zm-150 2l2 2-2 2-2-2zm104 0l2 2-2 2-2-2zm-78 2l2 2-2 2-2-2zm92 0l2 2-2 2-2-2zm-126 2l2 2-2 2-2-2zm40 0l2 2-2 2-2-2zm52 0l2 2-2 2-2-2zm56 0l2 2-2 2-2-2zm-114 2l2 2-2 2-2-2zm48 0l2 2-2 2-2-2zm8 0l2 2-2 2-2-2zm68 0l2 2-2 2-2-2zm4 0l2 2-2 2-2-2zm156 0l2 2-2 2-2-2zm-322 2l2 2-2 2-2-2zm36 0l2 2-2 2-2-2zm24 0l2 2-2 2-2-2zm-62 2l2 2-2 2-2-2zm28 0l2 2-2 2-2-2zm16 0l2 2-2 2-2-2zm68 0l2 2-2 2-2-2zm4 0l2 2-2 2-2-2zm52 0l2 2-2 2-2-2zm132 0l2 2-2 2-2-2zm-282 2l2 2-2 2-2-2zm36 0l2 2-2 2-2-2zm36 0l2 2-2 2-2-2zm24 0l2 2-2 2-2-2zm24 0l2 2-2 2-2-2zm12 0l2 2-2 2-2-2zm172 0l2 2-2 2-2-2zm24 0l2 2-2 2-2-2zm-306 2l2 2-2 2-2-2zm12 0l2 2-2 2-2-2zm292 0l2 2-2 2-2-2zm-230 2l2 2-2 2-2-2zm24 0l2 2-2 2-2-2zm172 0l2 2-2 2-2-2zm40 0l2 2-2 2-2-2zm-322 2l2 2-2 2-2-2zm20 0l2 2-2 2-2-2zm64 0l2 2-2 2-2-2zm4 0l2 2-2 2-2-2zm28 0l2 2-2 2-2-2zm216 0l2 2-2 2-2-2zm-226 2l2 2-2 2-2-2zm20 0l2 2-2 2-2-2zm8 0l2 2-2 2-2-2zm182 2l2 2-2 2-2-2zm-260 4l2 2-2 2-2-2zm54 2l2 2-2 2-2-2zm212 0l2 2-2 2-2-2zm-326 2l2 2-2 2-2-2zm128 0l2 2-2 2-2-2zm136 0l2 2-2 2-2-2zm-226 2l2 2-2 2-2-2zm188 0l2 2-2 2-2-2zm-174 2l2 2-2 2-2-2zm16 0l2 2-2 2-2-2zm4 0l2 2-2 2-2-2zm12 0l2 2-2 2-2-2zm214 2l2 2-2 2-2-2zm-310 2l2 2-2 2-2-2zm264 0l2 2-2 2-2-2zm28 0l2 2-2 2-2-2zm24 0l2 2-2 2-2-2zm20 0l2 2-2 2-2-2zm-282 2l2 2-2 2-2-2zm12 0l2 2-2 2-2-2zm168 0l2 2-2 2-2-2zm16 0l2 2-2 2-2-2zm72 0l2 2-2 2-2-2zm-282 2l2 2-2 2-2-2zm20 0l2 2-2 2-2-2zm200 0l2 2-2 2-2-2zm-130 2l2 2-2 2-2-2zm12 0l2 2-2 2-2-2zm172 0l2 2-2 2-2-2zm20 0l2 2-2 2-2-2zm-294 2l2 2-2 2-2-2zm260 0l2 2-2 2-2-2zm-246 2l2 2-2 2-2-2zm80 0l2 2-2 2-2-2zm132 0l2 2-2 2-2-2zm-174 2l2 2-2 2-2-2zm16 0l2 2-2 2-2-2zm-66 2l2 2-2 2-2-2zm100 0l2 2-2 2-2-2zm4 0l2 2-2 2-2-2zm64 0l2 2-2 2-2-2zm104 0l2 2-2 2-2-2zm-254 2l2 2-2 2-2-2zm4 0l2 2-2 2-2-2zm168 0l2 2-2 2-2-2zm32 0l2 2-2 2-2-2zm48 0l2 2-2 2-2-2zm-250 2l2 2-2 2-2-2zm66 2l2 2-2 2-2-2zm128 0l2 2-2 2-2-2zm8 0l2 2-2 2-2-2zm82 2l2 2-2 2-2-2zm-230 2l2 2-2 2-2-2zm192 0l2 2-2 2-2-2zm-242 2l2 2-2 2-2-2zm8 0l2 2-2 2-2-2zm156 0l2 2-2 2-2-2zm128 0l2 2-2 2-2-2zm16 0l2 2-2 2-2-2zm-334 2l2 2-2 2-2-2zm32 0l2 2-2 2-2-2zm136 0l2 2-2 2-2-2zm8 0l2 2-2 2-2-2zm36 0l2 2-2 2-2-2zm60 0l2 2-2 2-2-2zm-250 2l2 2-2 2-2-2zm172 0l2 2-2 2-2-2zm28 0l2 2-2 2-2-2zm4 0l2 2-2 2-2-2zm12 0l2 2-2 2-2-2zm4 0l2 2-2 2-2-2zm20 0l2 2-2 2-2-2zm-238 2l2 2-2 2-2-2zm4 0l2 2-2 2-2-2zm160 0l2 2-2 2-2-2zm20 0l2 2-2 2-2-2zm36 0l2 2-2 2-2-2zm40 0l2 2-2 2-2-2zm-294 2l2 2-2 2-2-2zm16 0l2 2-2 2-2-2zm156 0l2 2-2 2-2-2zm28 0l2 2-2 2-2-2zm56 0l2 2-2 2-2-2zm68 0l2 2-2 2-2-2zm-318 2l2 2-2 2-2-2zm200 0l2 2-2 2-2-2zm28 0l2 2-2 2-2-2zm24 0l2 2-2 2-2-2zm-42 2l2 2-2 2-2-2zm56 0l2 2-2 2-2-2zm4 0l2 2-2 2-2-2zm12 0l2 2-2 2-2-2zm-282 2l2 2-2 2-2-2zm8 0l2 2-2 2-2-2zm60 0l2 2-2 2-2-2zm116 0l2 2-2 2-2-2zm96 0l2 2-2 2-2-2zm28 0l2 2-2 2-2-2zm-150 2l2 2-2 2-2-2zm24 0l2 2-2 2-2-2zm28 0l2 2-2 2-2-2zm60 0l2 2-2 2-2-2zm38 2l2 2-2 2-2-2zm-310 2l2 2-2 2-2-2zm32 0l2 2-2 2-2-2zm176 0l2 2-2 2-2-2zm12 0l2 2-2 2-2-2zm28 0l2 2-2 2-2-2zm28 0l2 2-2 2-2-2zm-230 2l2 2-2 2-2-2zm192 0l2 2-2 2-2-2zm88 0l2 2-2 2-2-2zm-326 2l2 2-2 2-2-2zm24 0l2 2-2 2-2-2zm4 0l2 2-2 2-2-2zm16 0l2 2-2 2-2-2zm116 0l2 2-2 2-2-2zm152 0l2 2-2 2-2-2zm-162 2l2 2-2 2-2-2zm68 0l2 2-2 2-2-2zm36 0l2 2-2 2-2-2zm-230 2l2 2-2 2-2-2zm148 0l2 2-2 2-2-2zm16 0l2 2-2 2-2-2zm96 0l2 2-2 2-2-2zm36 0l2 2-2 2-2-2zm-306 2l2 2-2 2-2-2zm8 0l2 2-2 2-2-2zm28 0l2 2-2 2-2-2zm228 0l2 2-2 2-2-2zm44 0l2 2-2 2-2-2zm-146 2l2 2-2 2-2-2zm12 0l2 2-2 2-2-2zm20 0l2 2-2 2-2-2zm12 0l2 2-2 2-2-2zm-6 2l2 2-2 2-2-2zm80 0l2 2-2 2-2-2zm28 0l2 2-2 2-2-2zm-260 4l2 2-2 2-2-2zm236 0l2 2-2 2-2-2zm-38 2l2 2-2 2-2-2zm60 0l2 2-2 2-2-2zm-138 2l2 2-2 2-2-2zm32 0l2 2-2 2-2-2zm44 0l2 2-2 2-2-2zm36 0l2 2-2 2-2-2zm-146 2l2 2-2 2-2-2zm144 0l2 2-2 2-2-2zm12 0l2 2-2 2-2-2zm-146 2l2 2-2 2-2-2zm50 2l2 2-2 2-2-2zm4 0l2 2-2 2-2-2zm2 2l2 2-2 2-2-2zm8 0l2 2-2 2-2-2zm16 0l2 2-2 2-2-2zm-290 2l2 2-2 2-2-2zm244 0l2 2-2 2-2-2zm4 0l2 2-2 2-2-2zm4 0l2 2-2 2-2-2zm16 0l2 2-2 2-2-2zm48 0l2 2-2 2-2-2zm-38 2l2 2-2 2-2-2zm32 0l2 2-2 2-2-2zm-26 2l2 2-2 2-2-2zm40 0l2 2-2 2-2-2zm-110 2l2 2-2 2-2-2zm96 0l2 2-2 2-2-2zm-98 2l2 2-2 2-2-2zm24 0l2 2-2 2-2-2zm-38 2l2 2-2 2-2-2zm56 0l2 2-2 2-2-2zm20 0l2 2-2 2-2-2zm24 0l2 2-2 2-2-2zm-118 2l2 2-2 2-2-2zm44 0l2 2-2 2-2-2zm52 0l2 2-2 2-2-2zm-18 2l2 2-2 2-2-2zm12 0l2 2-2 2-2-2zm-46 2l2 2-2 2-2-2zm36 0l2 2-2 2-2-2zm56 0l2 2-2 2-2-2zm-134 2l2 2-2 2-2-2zm116 0l2 2-2 2-2-2zm-82 2l2 2-2 2-2-2zm82 2l2 2-2 2-2-2zm-246 2l2 2-2 2-2-2zm214 2l2 2-2 2-2-2zm12 0l2 2-2 2-2-2zm-24 4l2 2-2 2-2-2zm-34 2l2 2-2 2-2-2zm14 2l2 2-2 2-2-2z"/><path fill="#9ab8c8" stroke="#9ab8c8" d="M245 13l2 2-2 2-2-2zm-26 10l2 2-2 2-2-2zm-2 2l2 2-2 2-2-2zm12 0l2 2-2 2-2-2zm-30 2l2 2-2 2-2-2zm70 2l2 2-2 2-2-2zm-26 2l2 2-2 2-2-2zm40 0l2 2-2 2-2-2zm-6 2l2 2-2 2-2-2zm8 0l2 2-2 2-2-2zm4 0l2 2-2 2-2-2zm-96 4l2 2-2 2-2-2zm-14 2l2 2-2 2-2-2zm68 0l2 2-2 2-2-2zm-92 4l2 2-2 2-2-2zm4 0l2 2-2 2-2-2zm20 0l2 2-2 2-2-2zm4 0l2 2-2 2-2-2zm88 0l2 2-2 2-2-2zm4 0l2 2-2 2-2-2zm-90 2l2 2-2 2-2-2zm-14 2l2 2-2 2-2-2zm12 0l2 2-2 2-2-2zm36 0l2 2-2 2-2-2zm-46 2l2 2-2 2-2-2zm76 0l2 2-2 2-2-2zm40 0l2 2-2 2-2-2zm4 0l2 2-2 2-2-2zm-146 2l2 2-2 2-2-2zm4 0l2 2-2 2-2-2zm36 0l2 2-2 2-2-2zm92 0l2 2-2 2-2-2zm4 0l2 2-2 2-2-2zm88 0l2 2-2 2-2-2zm-256 4l2 2-2 2-2-2zm8 0l2 2-2 2-2-2zm60 0l2 2-2 2-2-2zm-74 2l2 2-2 2-2-2zm52 0l2 2-2 2-2-2zm48 0l2 2-2 2-2-2zm56 0l2 2-2 2-2-2zm96 0l2 2-2 2-2-2zm4 0l2 2-2 2-2-2zm-260 4l2 2-2 2-2-2zm132 0l2 2-2 2-2-2zm124 0l2 2-2 2-2-2zm-154 2l2 2-2 2-2-2zm-10 2l2 2-2 2-2-2zm24 0l2 2-2 2-2-2zm28 0l2 2-2 2-2-2zm-118 2l2 2-2 2-2-2zm152 0l2 2-2 2-2-2zm-158 2l2 2-2 2-2-2zm124 0l2 2-2 2-2-2zm-42 2l2 2-2 2-2-2zm12 0l2 2-2 2-2-2zm8 0l2 2-2 2-2-2zm-118 2l2 2-2 2-2-2zm144 0l2 2-2 2-2-2zm176 0l2 2-2 2-2-2zm20 0l2 2-2 2-2-2zm-350 2l2 2-2 2-2-2zm72 0l2 2-2 2-2-2zm64 0l2 2-2 2-2-2zm40 0l2 2-2 2-2-2zm12 0l2 2-2 2-2-2zm-126 2l2 2-2 2-2-2zm72 0l2 2-2 2-2-2zm12 0l2 2-2 2-2-2zm172 0l2 2-2 2-2-2zm-274 2l2 2-2 2-2-2zm12 0l2 2-2 2-2-2zm84 0l2 2-2 2-2-2zm192 0l2 2-2 2-2-2zm8 0l2 2-2 2-2-2zm-302 2l2 2-2 2-2-2zm36 0l2 2-2 2-2-2zm88 0l2 2-2 2-2-2zm28 0l2 2-2 2-2-2zm148 0l2 2-2 2-2-2zm-326 2l2 2-2 2-2-2zm60 0l2 2-2 2-2-2zm12 0l2 2-2 2-2-2zm-50 2l2 2-2 2-2-2zm88 0l2 2-2 2-2-2zm16 0l2 2-2 2-2-2zm40 0l2 2-2 2-2-2zm-142 2l2 2-2 2-2-2zm56 0l2 2-2 2-2-2zm40 0l2 2-2 2-2-2zm-58 2l2 2-2 2-2-2zm-6 2l2 2-2 2-2-2zm8 0l2 2-2 2-2-2zm60 0l2 2-2 2-2-2zm-122 2l2 2-2 2-2-2zm56 0l2 2-2 2-2-2zm40 0l2 2-2 2-2-2zm8 0l2 2-2 2-2-2zm200 0l2 2-2 2-2-2zm-298 2l2 2-2 2-2-2zm48 0l2 2-2 2-2-2zm12 0l2 2-2 2-2-2zm-6 2l2 2-2 2-2-2zm12 0l2 2-2 2-2-2zm40 0l2 2-2 2-2-2zm24 0l2 2-2 2-2-2zm-106 2l2 2-2 2-2-2zm126 2l2 2-2 2-2-2zm-130 2l2 2-2 2-2-2zm56 0l2 2-2 2-2-2zm224 0l2 2-2 2-2-2zm24 0l2 2-2 2-2-2zm8 0l2 2-2 2-2-2zm-306 2l2 2-2 2-2-2zm32 0l2 2-2 2-2-2zm4 0l2 2-2 2-2-2zm82 2l2 2-2 2-2-2zm-118 2l2 2-2 2-2-2zm16 0l2 2-2 2-2-2zm52 0l2 2-2 2-2-2zm20 0l2 2-2 2-2-2zm180 0l2 2-2 2-2-2zm-258 2l2 2-2 2-2-2zm74 2l2 2-2 2-2-2zm192 0l2 2-2 2-2-2zm44 0l2 2-2 2-2-2zm-50 2l2 2-2 2-2-2zm-246 2l2 2-2 2-2-2zm8 0l2 2-2 2-2-2zm64 0l2 2-2 2-2-2zm212 0l2 2-2 2-2-2zm-262 2l2 2-2 2-2-2zm52 0l2 2-2 2-2-2zm12 0l2 2-2 2-2-2zm172 0l2 2-2 2-2-2zm44 0l2 2-2 2-2-2zm-198 2l2 2-2 2-2-2zm-146 2l2 2-2 2-2-2zm28 0l2 2-2 2-2-2zm12 0l2 2-2 2-2-2zm42 2l2 2-2 2-2-2zm16 0l2 2-2 2-2-2zm8 0l2 2-2 2-2-2zm-18 2l2 2-2 2-2-2zm268 0l2 2-2 2-2-2zm-342 2l2 2-2 2-2-2zm26 2l2 2-2 2-2-2zm20 0l2 2-2 2-2-2zm36 0l2 2-2 2-2-2zm12 0l2 2-2 2-2-2zm188 0l2 2-2 2-2-2zm-262 2l2 2-2 2-2-2zm224 0l2 2-2 2-2-2zm52 0l2 2-2 2-2-2zm-258 2l2 2-2 2-2-2zm52 0l2 2-2 2-2-2zm24 0l2 2-2 2-2-2zm168 0l2 2-2 2-2-2zm-274 2l2 2-2 2-2-2zm16 0l2 2-2 2-2-2zm12 0l2 2-2 2-2-2zm52 0l2 2-2 2-2-2zm148 0l2 2-2 2-2-2zm92 0l2 2-2 2-2-2zm-294 2l2 2-2 2-2-2zm180 0l2 2-2 2-2-2zm84 0l2 2-2 2-2-2zm20 0l2 2-2 2-2-2zm-294 2l2 2-2 2-2-2zm20 0l2 2-2 2-2-2zm8 0l2 2-2 2-2-2zm172 0l2 2-2 2-2-2zm16 0l2 2-2 2-2-2zm36 0l2 2-2 2-2-2zm-226 2l2 2-2 2-2-2zm36 0l2 2-2 2-2-2zm132 0l2 2-2 2-2-2zm4 0l2 2-2 2-2-2zm80 0l2 2-2 2-2-2zm-38 2l2 2-2 2-2-2zm12 0l2 2-2 2-2-2zm-254 2l2 2-2 2-2-2zm192 0l2 2-2 2-2-2zm-6 2l2 2-2 2-2-2zm108 0l2 2-2 2-2-2zm-98 2l2 2-2 2-2-2zm-30 2l2 2-2 2-2-2zm100 0l2 2-2 2-2-2zm-258 2l2 2-2 2-2-2zm172 0l2 2-2 2-2-2zm88 0l2 2-2 2-2-2zm20 0l2 2-2 2-2-2zm-266 2l2 2-2 2-2-2zm188 0l2 2-2 2-2-2zm36 0l2 2-2 2-2-2zm4 0l2 2-2 2-2-2zm32 0l2 2-2 2-2-2zm-282 2l2 2-2 2-2-2zm12 0l2 2-2 2-2-2zm48 0l2 2-2 2-2-2zm172 0l2 2-2 2-2-2zm80 0l2 2-2 2-2-2zm-326 2l2 2-2 2-2-2zm32 0l2 2-2 2-2-2zm160 0l2 2-2 2-2-2zm32 0l2 2-2 2-2-2zm52 0l2 2-2 2-2-2zm-10 2l2 2-2 2-2-2zm72 0l2 2-2 2-2-2zm-166 2l2 2-2 2-2-2zm44 0l2 2-2 2-2-2zm88 0l2 2-2 2-2-2zm24 0l2 2-2 2-2-2zm-318 2l2 2-2 2-2-2zm206 2l2 2-2 2-2-2zm48 0l2 2-2 2-2-2zm-258 2l2 2-2 2-2-2zm188 0l2 2-2 2-2-2zm84 0l2 2-2 2-2-2zm24 0l2 2-2 2-2-2zm-62 2l2 2-2 2-2-2zm12 0l2 2-2 2-2-2zm48 0l2 2-2 2-2-2zm20 0l2 2-2 2-2-2zm-158 2l2 2-2 2-2-2zm8 0l2 2-2 2-2-2zm12 0l2 2-2 2-2-2zm16 0l2 2-2 2-2-2zm132 0l2 2-2 2-2-2zm-294 2l2 2-2 2-2-2zm120 0l2 2-2 2-2-2zm8 0l2 2-2 2-2-2zm28 0l2 2-2 2-2-2zm44 0l2 2-2 2-2-2zm-158 2l2 2-2 2-2-2zm80 0l2 2-2 2-2-2zm128 0l2 2-2 2-2-2zm-72 4l2 2-2 2-2-2zm72 0l2 2-2 2-2-2zm-270 2l2 2-2 2-2-2zm180 0l2 2-2 2-2-2zm92 0l2 2-2 2-2-2zm12 0l2 2-2 2-2-2zm-294 2l2 2-2 2-2-2zm160 0l2 2-2 2-2-2zm4 0l2 2-2 2-2-2zm24 0l2 2-2 2-2-2zm20 0l2 2-2 2-2-2zm58 2l2 2-2 2-2-2zm44 0l2 2-2 2-2-2zm-110 2l2 2-2 2-2-2zm28 0l2 2-2 2-2-2zm48 0l2 2-2 2-2-2zm20 0l2 2-2 2-2-2zm24 0l2 2-2 2-2-2zm-166 2l2 2-2 2-2-2zm8 0l2 2-2 2-2-2zm76 0l2 2-2 2-2-2zm34 2l2 2-2 2-2-2zm-194 2l2 2-2 2-2-2zm128 0l2 2-2 2-2-2zm-30 2l2 2-2 2-2-2zm60 0l2 2-2 2-2-2zm4 0l2 2-2 2-2-2zm-202 2l2 2-2 2-2-2zm184 0l2 2-2 2-2-2zm16 0l2 2-2 2-2-2zm-286 2l2 2-2 2-2-2zm216 0l2 2-2 2-2-2zm32 0l2 2-2 2-2-2zm96 0l2 2-2 2-2-2zm4 0l2 2-2 2-2-2zm-14 2l2 2-2 2-2-2zm12 0l2 2-2 2-2-2zm8 0l2 2-2 2-2-2zm-154 2l2 2-2 2-2-2zm100 0l2 2-2 2-2-2zm36 0l2 2-2 2-2-2zm-134 2l2 2-2 2-2-2zm72 0l2 2-2 2-2-2zm4 0l2 2-2 2-2-2zm32 0l2 2-2 2-2-2zm-76 4l2 2-2 2-2-2zm-26 2l2 2-2 2-2-2zm-194 2l2 2-2 2-2-2zm212 0l2 2-2 2-2-2zm80 0l2 2-2 2-2-2zm-110 2l2 2-2 2-2-2zm12 0l2 2-2 2-2-2zm32 0l2 2-2 2-2-2zm-6 2l2 2-2 2-2-2zm48 0l2 2-2 2-2-2zm24 0l2 2-2 2-2-2zm-66 2l2 2-2 2-2-2zm8 0l2 2-2 2-2-2zm20 0l2 2-2 2-2-2zm52 0l2 2-2 2-2-2zm-98 2l2 2-2 2-2-2zm32 0l2 2-2 2-2-2zm20 0l2 2-2 2-2-2zm4 0l2 2-2 2-2-2zm4 4l2 2-2 2-2-2zm20 0l2 2-2 2-2-2zm4 0l2 2-2 2-2-2zm-54 10l2 2-2 2-2-2zm12 0l2 2-2 2-2-2z"/><path fill="#95b5c7" stroke="#95b5c7" d="M227 11l2 2-2 2-2-2zm16 8l2 2-2 2-2-2zm-50 2l2 2-2 2-2-2zm10 2l2 2-2 2-2-2zm20 0l2 2-2 2-2-2zm-46 2l2 2-2 2-2-2zm58 2l2 2-2 2-2-2zm14 2l2 2-2 2-2-2zm-38 2l2 2-2 2-2-2zm-54 2l2 2-2 2-2-2zm24 0l2 2-2 2-2-2zm-18 2l2 2-2 2-2-2zm118 2l2 2-2 2-2-2zm-14 2l2 2-2 2-2-2zm-106 2l2 2-2 2-2-2zm4 0l2 2-2 2-2-2zm88 0l2 2-2 2-2-2zm12 0l2 2-2 2-2-2zm-98 2l2 2-2 2-2-2zm-16 4l2 2-2 2-2-2zm4 0l2 2-2 2-2-2zm36 0l2 2-2 2-2-2zm20 0l2 2-2 2-2-2zm-66 2l2 2-2 2-2-2zm10 2l2 2-2 2-2-2zm-18 2l2 2-2 2-2-2zm68 0l2 2-2 2-2-2zm52 0l2 2-2 2-2-2zm-62 2l2 2-2 2-2-2zm32 0l2 2-2 2-2-2zm8 0l2 2-2 2-2-2zm-130 2l2 2-2 2-2-2zm144 0l2 2-2 2-2-2zm-94 2l2 2-2 2-2-2zm20 0l2 2-2 2-2-2zm32 0l2 2-2 2-2-2zm36 0l2 2-2 2-2-2zm44 0l2 2-2 2-2-2zm4 0l2 2-2 2-2-2zm-174 2l2 2-2 2-2-2zm20 0l2 2-2 2-2-2zm8 0l2 2-2 2-2-2zm84 0l2 2-2 2-2-2zm28 0l2 2-2 2-2-2zm112 0l2 2-2 2-2-2zm-218 2l2 2-2 2-2-2zm76 0l2 2-2 2-2-2zm12 0l2 2-2 2-2-2zm-106 2l2 2-2 2-2-2zm244 0l2 2-2 2-2-2zm-250 2l2 2-2 2-2-2zm84 0l2 2-2 2-2-2zm-82 2l2 2-2 2-2-2zm84 0l2 2-2 2-2-2zm-78 2l2 2-2 2-2-2zm28 0l2 2-2 2-2-2zm4 0l2 2-2 2-2-2zm84 0l2 2-2 2-2-2zm12 0l2 2-2 2-2-2zm16 0l2 2-2 2-2-2zm-126 2l2 2-2 2-2-2zm244 0l2 2-2 2-2-2zm-174 2l2 2-2 2-2-2zm4 0l2 2-2 2-2-2zm24 0l2 2-2 2-2-2zm16 0l2 2-2 2-2-2zm12 0l2 2-2 2-2-2zm144 0l2 2-2 2-2-2zm-314 2l2 2-2 2-2-2zm172 0l2 2-2 2-2-2zm4 0l2 2-2 2-2-2zm-138 2l2 2-2 2-2-2zm120 0l2 2-2 2-2-2zm176 0l2 2-2 2-2-2zm-254 2l2 2-2 2-2-2zm226 2l2 2-2 2-2-2zm-306 2l2 2-2 2-2-2zm4 0l2 2-2 2-2-2zm32 0l2 2-2 2-2-2zm-30 2l2 2-2 2-2-2zm2 2l2 2-2 2-2-2zm16 0l2 2-2 2-2-2zm4 0l2 2-2 2-2-2zm20 0l2 2-2 2-2-2zm68 0l2 2-2 2-2-2zm16 0l2 2-2 2-2-2zm-94 2l2 2-2 2-2-2zm60 0l2 2-2 2-2-2zm44 0l2 2-2 2-2-2zm184 0l2 2-2 2-2-2zm-314 2l2 2-2 2-2-2zm22 2l2 2-2 2-2-2zm44 0l2 2-2 2-2-2zm50 2l2 2-2 2-2-2zm-110 2l2 2-2 2-2-2zm24 0l2 2-2 2-2-2zm116 0l2 2-2 2-2-2zm-26 2l2 2-2 2-2-2zm40 0l2 2-2 2-2-2zm164 0l2 2-2 2-2-2zm4 0l2 2-2 2-2-2zm-242 2l2 2-2 2-2-2zm224 0l2 2-2 2-2-2zm16 0l2 2-2 2-2-2zm-222 2l2 2-2 2-2-2zm196 0l2 2-2 2-2-2zm-198 2l2 2-2 2-2-2zm212 0l2 2-2 2-2-2zm4 0l2 2-2 2-2-2zm-322 2l2 2-2 2-2-2zm4 0l2 2-2 2-2-2zm36 0l2 2-2 2-2-2zm16 0l2 2-2 2-2-2zm88 0l2 2-2 2-2-2zm212 0l2 2-2 2-2-2zm-238 2l2 2-2 2-2-2zm200 0l2 2-2 2-2-2zm-258 2l2 2-2 2-2-2zm42 2l2 2-2 2-2-2zm44 0l2 2-2 2-2-2zm-30 2l2 2-2 2-2-2zm24 0l2 2-2 2-2-2zm4 0l2 2-2 2-2-2zm-118 2l2 2-2 2-2-2zm16 0l2 2-2 2-2-2zm44 0l2 2-2 2-2-2zm-58 2l2 2-2 2-2-2zm304 0l2 2-2 2-2-2zm-230 2l2 2-2 2-2-2zm40 0l2 2-2 2-2-2zm108 0l2 2-2 2-2-2zm28 0l2 2-2 2-2-2zm96 0l2 2-2 2-2-2zm-270 2l2 2-2 2-2-2zm204 0l2 2-2 2-2-2zm-254 2l2 2-2 2-2-2zm60 0l2 2-2 2-2-2zm156 0l2 2-2 2-2-2zm-186 2l2 2-2 2-2-2zm160 0l2 2-2 2-2-2zm4 0l2 2-2 2-2-2zm20 0l2 2-2 2-2-2zm44 0l2 2-2 2-2-2zm-62 2l2 2-2 2-2-2zm-190 2l2 2-2 2-2-2zm-22 2l2 2-2 2-2-2zm40 0l2 2-2 2-2-2zm16 0l2 2-2 2-2-2zm180 0l2 2-2 2-2-2zm-190 2l2 2-2 2-2-2zm192 0l2 2-2 2-2-2zm-210 2l2 2-2 2-2-2zm28 0l2 2-2 2-2-2zm12 0l2 2-2 2-2-2zm8 0l2 2-2 2-2-2zm-44 4l2 2-2 2-2-2zm8 0l2 2-2 2-2-2zm72 0l2 2-2 2-2-2zm168 0l2 2-2 2-2-2zm-250 2l2 2-2 2-2-2zm188 0l2 2-2 2-2-2zm-10 2l2 2-2 2-2-2zm4 0l2 2-2 2-2-2zm-26 2l2 2-2 2-2-2zm132 0l2 2-2 2-2-2zm-310 2l2 2-2 2-2-2zm256 0l2 2-2 2-2-2zm20 0l2 2-2 2-2-2zm-98 2l2 2-2 2-2-2zm20 0l2 2-2 2-2-2zm76 0l2 2-2 2-2-2zm40 0l2 2-2 2-2-2zm-238 2l2 2-2 2-2-2zm116 0l2 2-2 2-2-2zm8 0l2 2-2 2-2-2zm2 2l2 2-2 2-2-2zm112 0l2 2-2 2-2-2zm-150 2l2 2-2 2-2-2zm40 0l2 2-2 2-2-2zm44 0l2 2-2 2-2-2zm24 0l2 2-2 2-2-2zm42 2l2 2-2 2-2-2zm12 0l2 2-2 2-2-2zm-162 2l2 2-2 2-2-2zm8 0l2 2-2 2-2-2zm28 0l2 2-2 2-2-2zm56 0l2 2-2 2-2-2zm-82 2l2 2-2 2-2-2zm8 0l2 2-2 2-2-2zm112 0l2 2-2 2-2-2zm-278 2l2 2-2 2-2-2zm140 0l2 2-2 2-2-2zm60 0l2 2-2 2-2-2zm104 0l2 2-2 2-2-2zm-290 2l2 2-2 2-2-2zm36 0l2 2-2 2-2-2zm4 0l2 2-2 2-2-2zm216 0l2 2-2 2-2-2zm8 0l2 2-2 2-2-2zm-218 2l2 2-2 2-2-2zm72 0l2 2-2 2-2-2zm16 0l2 2-2 2-2-2zm120 0l2 2-2 2-2-2zm32 0l2 2-2 2-2-2zm-330 2l2 2-2 2-2-2zm164 0l2 2-2 2-2-2zm92 0l2 2-2 2-2-2zm8 0l2 2-2 2-2-2zm72 0l2 2-2 2-2-2zm-326 2l2 2-2 2-2-2zm32 0l2 2-2 2-2-2zm148 0l2 2-2 2-2-2zm60 0l2 2-2 2-2-2zm-82 2l2 2-2 2-2-2zm168 0l2 2-2 2-2-2zm-322 2l2 2-2 2-2-2zm252 0l2 2-2 2-2-2zm32 0l2 2-2 2-2-2zm-146 2l2 2-2 2-2-2zm72 0l2 2-2 2-2-2zm40 0l2 2-2 2-2-2zm72 0l2 2-2 2-2-2zm-298 2l2 2-2 2-2-2zm204 0l2 2-2 2-2-2zm4 0l2 2-2 2-2-2zm16 0l2 2-2 2-2-2zm-244 4l2 2-2 2-2-2zm256 0l2 2-2 2-2-2zm40 0l2 2-2 2-2-2zm-278 2l2 2-2 2-2-2zm8 0l2 2-2 2-2-2zm132 0l2 2-2 2-2-2zm108 0l2 2-2 2-2-2zm12 0l2 2-2 2-2-2zm-254 2l2 2-2 2-2-2zm116 0l2 2-2 2-2-2zm8 0l2 2-2 2-2-2zm36 0l2 2-2 2-2-2zm60 0l2 2-2 2-2-2zm-54 2l2 2-2 2-2-2zm8 0l2 2-2 2-2-2zm44 0l2 2-2 2-2-2zm24 0l2 2-2 2-2-2zm44 0l2 2-2 2-2-2zm-174 2l2 2-2 2-2-2zm108 0l2 2-2 2-2-2zm-110 2l2 2-2 2-2-2zm40 0l2 2-2 2-2-2zm104 0l2 2-2 2-2-2zm16 0l2 2-2 2-2-2zm-162 2l2 2-2 2-2-2zm60 0l2 2-2 2-2-2zm24 0l2 2-2 2-2-2zm32 0l2 2-2 2-2-2zm-90 2l2 2-2 2-2-2zm-36 4l2 2-2 2-2-2zm28 0l2 2-2 2-2-2zm16 0l2 2-2 2-2-2zm100 0l2 2-2 2-2-2zm-330 2l2 2-2 2-2-2zm192 0l2 2-2 2-2-2zm136 0l2 2-2 2-2-2zm-318 2l2 2-2 2-2-2zm308 0l2 2-2 2-2-2zm-70 2l2 2-2 2-2-2zm72 0l2 2-2 2-2-2zm-102 2l2 2-2 2-2-2zm8 0l2 2-2 2-2-2zm24 0l2 2-2 2-2-2zm-18 2l2 2-2 2-2-2zm80 0l2 2-2 2-2-2zm-98 2l2 2-2 2-2-2zm116 0l2 2-2 2-2-2zm-14 2l2 2-2 2-2-2zm10 2l2 2-2 2-2-2zm-94 2l2 2-2 2-2-2zm-188 4l2 2-2 2-2-2zm172 0l2 2-2 2-2-2zm36 0l2 2-2 2-2-2zm20 0l2 2-2 2-2-2zm24 0l2 2-2 2-2-2zm-42 2l2 2-2 2-2-2zm24 0l2 2-2 2-2-2zm-14 2l2 2-2 2-2-2zm32 0l2 2-2 2-2-2zm-50 2l2 2-2 2-2-2zm-176 4l2 2-2 2-2-2z"/><path fill="#8fb1c6" stroke="#8fb1c6" d="M237 17l2 2-2 2-2-2zm-30 6l2 2-2 2-2-2zm18 6l2 2-2 2-2-2zm52 0l2 2-2 2-2-2zm-62 2l2 2-2 2-2-2zm-46 2l2 2-2 2-2-2zm68 0l2 2-2 2-2-2zm-54 2l2 2-2 2-2-2zm20 0l2 2-2 2-2-2zm44 0l2 2-2 2-2-2zm-66 2l2 2-2 2-2-2zm68 0l2 2-2 2-2-2zm-72 4l2 2-2 2-2-2zm14 2l2 2-2 2-2-2zm-42 2l2 2-2 2-2-2zm4 0l2 2-2 2-2-2zm124 0l2 2-2 2-2-2zm-52 4l2 2-2 2-2-2zm60 0l2 2-2 2-2-2zm-78 2l2 2-2 2-2-2zm-26 2l2 2-2 2-2-2zm100 0l2 2-2 2-2-2zm-82 2l2 2-2 2-2-2zm32 0l2 2-2 2-2-2zm-78 2l2 2-2 2-2-2zm12 0l2 2-2 2-2-2zm88 0l2 2-2 2-2-2zm16 0l2 2-2 2-2-2zm-158 2l2 2-2 2-2-2zm20 0l2 2-2 2-2-2zm96 0l2 2-2 2-2-2zm8 0l2 2-2 2-2-2zm48 0l2 2-2 2-2-2zm-170 2l2 2-2 2-2-2zm64 0l2 2-2 2-2-2zm48 0l2 2-2 2-2-2zm-60 4l2 2-2 2-2-2zm96 0l2 2-2 2-2-2zm-46 2l2 2-2 2-2-2zm172 0l2 2-2 2-2-2zm-250 2l2 2-2 2-2-2zm8 0l2 2-2 2-2-2zm32 0l2 2-2 2-2-2zm220 0l2 2-2 2-2-2zm-258 2l2 2-2 2-2-2zm72 0l2 2-2 2-2-2zm72 0l2 2-2 2-2-2zm-134 2l2 2-2 2-2-2zm60 0l2 2-2 2-2-2zm20 0l2 2-2 2-2-2zm8 0l2 2-2 2-2-2zm52 0l2 2-2 2-2-2zm152 0l2 2-2 2-2-2zm-266 2l2 2-2 2-2-2zm62 2l2 2-2 2-2-2zm4 0l2 2-2 2-2-2zm-30 2l2 2-2 2-2-2zm2 2l2 2-2 2-2-2zm64 0l2 2-2 2-2-2zm-50 2l2 2-2 2-2-2zm48 0l2 2-2 2-2-2zm4 0l2 2-2 2-2-2zm-86 2l2 2-2 2-2-2zm-82 2l2 2-2 2-2-2zm100 0l2 2-2 2-2-2zm36 0l2 2-2 2-2-2zm-62 2l2 2-2 2-2-2zm4 0l2 2-2 2-2-2zm-78 2l2 2-2 2-2-2zm78 2l2 2-2 2-2-2zm4 0l2 2-2 2-2-2zm36 0l2 2-2 2-2-2zm-118 2l2 2-2 2-2-2zm308 0l2 2-2 2-2-2zm16 0l2 2-2 2-2-2zm-290 2l2 2-2 2-2-2zm132 0l2 2-2 2-2-2zm-86 2l2 2-2 2-2-2zm-70 2l2 2-2 2-2-2zm4 0l2 2-2 2-2-2zm12 0l2 2-2 2-2-2zm20 0l2 2-2 2-2-2zm8 0l2 2-2 2-2-2zm8 0l2 2-2 2-2-2zm64 0l2 2-2 2-2-2zm-126 2l2 2-2 2-2-2zm36 0l2 2-2 2-2-2zm96 0l2 2-2 2-2-2zm-78 2l2 2-2 2-2-2zm48 0l2 2-2 2-2-2zm212 0l2 2-2 2-2-2zm-266 2l2 2-2 2-2-2zm4 0l2 2-2 2-2-2zm72 0l2 2-2 2-2-2zm212 0l2 2-2 2-2-2zm-334 2l2 2-2 2-2-2zm304 0l2 2-2 2-2-2zm-302 2l2 2-2 2-2-2zm4 0l2 2-2 2-2-2zm56 0l2 2-2 2-2-2zm64 0l2 2-2 2-2-2zm184 0l2 2-2 2-2-2zm-262 2l2 2-2 2-2-2zm8 0l2 2-2 2-2-2zm272 0l2 2-2 2-2-2zm28 0l2 2-2 2-2-2zm-2 2l2 2-2 2-2-2zm-338 2l2 2-2 2-2-2zm12 0l2 2-2 2-2-2zm12 0l2 2-2 2-2-2zm20 0l2 2-2 2-2-2zm-8 4l2 2-2 2-2-2zm288 0l2 2-2 2-2-2zm-302 2l2 2-2 2-2-2zm20 0l2 2-2 2-2-2zm36 0l2 2-2 2-2-2zm252 0l2 2-2 2-2-2zm-334 2l2 2-2 2-2-2zm32 0l2 2-2 2-2-2zm32 0l2 2-2 2-2-2zm-14 2l2 2-2 2-2-2zm20 0l2 2-2 2-2-2zm228 0l2 2-2 2-2-2zm-230 2l2 2-2 2-2-2zm240 0l2 2-2 2-2-2zm20 0l2 2-2 2-2-2zm-282 2l2 2-2 2-2-2zm44 0l2 2-2 2-2-2zm12 0l2 2-2 2-2-2zm172 0l2 2-2 2-2-2zm32 0l2 2-2 2-2-2zm-34 2l2 2-2 2-2-2zm60 0l2 2-2 2-2-2zm8 0l2 2-2 2-2-2zm4 0l2 2-2 2-2-2zm-294 2l2 2-2 2-2-2zm224 0l2 2-2 2-2-2zm64 0l2 2-2 2-2-2zm4 0l2 2-2 2-2-2zm12 0l2 2-2 2-2-2zm-66 2l2 2-2 2-2-2zm-216 4l2 2-2 2-2-2zm32 0l2 2-2 2-2-2zm220 0l2 2-2 2-2-2zm4 0l2 2-2 2-2-2zm20 0l2 2-2 2-2-2zm-90 2l2 2-2 2-2-2zm4 0l2 2-2 2-2-2zm20 0l2 2-2 2-2-2zm12 0l2 2-2 2-2-2zm52 0l2 2-2 2-2-2zm-120 4l2 2-2 2-2-2zm108 0l2 2-2 2-2-2zm-86 2l2 2-2 2-2-2zm-182 2l2 2-2 2-2-2zm178 2l2 2-2 2-2-2zm-142 2l2 2-2 2-2-2zm108 0l2 2-2 2-2-2zm152 0l2 2-2 2-2-2zm-98 2l2 2-2 2-2-2zm44 0l2 2-2 2-2-2zm18 2l2 2-2 2-2-2zm-286 2l2 2-2 2-2-2zm28 0l2 2-2 2-2-2zm172 0l2 2-2 2-2-2zm84 0l2 2-2 2-2-2zm36 0l2 2-2 2-2-2zm-2 2l2 2-2 2-2-2zm-54 2l2 2-2 2-2-2zm32 0l2 2-2 2-2-2zm-134 2l2 2-2 2-2-2zm100 0l2 2-2 2-2-2zm-70 2l2 2-2 2-2-2zm20 0l2 2-2 2-2-2zm84 0l2 2-2 2-2-2zm8 0l2 2-2 2-2-2zm12 0l2 2-2 2-2-2zm-122 2l2 2-2 2-2-2zm16 0l2 2-2 2-2-2zm32 0l2 2-2 2-2-2zm-30 2l2 2-2 2-2-2zm-54 2l2 2-2 2-2-2zm4 0l2 2-2 2-2-2zm96 0l2 2-2 2-2-2zm-258 2l2 2-2 2-2-2zm188 0l2 2-2 2-2-2zm112 0l2 2-2 2-2-2zm-294 2l2 2-2 2-2-2zm32 0l2 2-2 2-2-2zm128 0l2 2-2 2-2-2zm112 0l2 2-2 2-2-2zm8 0l2 2-2 2-2-2zm-122 2l2 2-2 2-2-2zm-150 2l2 2-2 2-2-2zm48 0l2 2-2 2-2-2zm156 0l2 2-2 2-2-2zm24 0l2 2-2 2-2-2zm-38 2l2 2-2 2-2-2zm16 0l2 2-2 2-2-2zm80 0l2 2-2 2-2-2zm-274 2l2 2-2 2-2-2zm12 0l2 2-2 2-2-2zm104 0l2 2-2 2-2-2zm40 0l2 2-2 2-2-2zm64 0l2 2-2 2-2-2zm-58 2l2 2-2 2-2-2zm48 0l2 2-2 2-2-2zm-62 2l2 2-2 2-2-2zm128 0l2 2-2 2-2-2zm-170 2l2 2-2 2-2-2zm64 0l2 2-2 2-2-2zm-62 2l2 2-2 2-2-2zm48 0l2 2-2 2-2-2zm48 0l2 2-2 2-2-2zm44 0l2 2-2 2-2-2zm32 0l2 2-2 2-2-2zm-242 2l2 2-2 2-2-2zm2 2l2 2-2 2-2-2zm196 0l2 2-2 2-2-2zm-238 2l2 2-2 2-2-2zm160 0l2 2-2 2-2-2zm4 0l2 2-2 2-2-2zm104 0l2 2-2 2-2-2zm12 0l2 2-2 2-2-2zm-34 2l2 2-2 2-2-2zm-130 2l2 2-2 2-2-2zm20 0l2 2-2 2-2-2zm32 0l2 2-2 2-2-2zm-54 2l2 2-2 2-2-2zm68 0l2 2-2 2-2-2zm32 0l2 2-2 2-2-2zm36 0l2 2-2 2-2-2zm-50 2l2 2-2 2-2-2zm40 0l2 2-2 2-2-2zm20 0l2 2-2 2-2-2zm-88 4l2 2-2 2-2-2zm48 0l2 2-2 2-2-2zm12 0l2 2-2 2-2-2zm4 0l2 2-2 2-2-2zm-46 2l2 2-2 2-2-2zm24 0l2 2-2 2-2-2zm28 0l2 2-2 2-2-2zm-314 2l2 2-2 2-2-2zm260 0l2 2-2 2-2-2zm-250 2l2 2-2 2-2-2zm212 0l2 2-2 2-2-2zm92 0l2 2-2 2-2-2zm4 0l2 2-2 2-2-2zm-118 2l2 2-2 2-2-2zm14 2l2 2-2 2-2-2zm64 0l2 2-2 2-2-2zm-106 2l2 2-2 2-2-2zm48 0l2 2-2 2-2-2zm40 0l2 2-2 2-2-2zm-94 2l2 2-2 2-2-2zm44 0l2 2-2 2-2-2zm12 0l2 2-2 2-2-2zm48 0l2 2-2 2-2-2zm24 0l2 2-2 2-2-2zm-122 2l2 2-2 2-2-2zm64 0l2 2-2 2-2-2zm-16 4l2 2-2 2-2-2zm42 2l2 2-2 2-2-2zm12 0l2 2-2 2-2-2zm-22 2l2 2-2 2-2-2zm-44 4l2 2-2 2-2-2z"/><path fill="#8aaec5" stroke="#8aaec5" d="M245 17l2 2-2 2-2-2zm-2 6l2 2-2 2-2-2zm-52 4l2 2-2 2-2-2zm50 2l2 2-2 2-2-2zm-38 2l2 2-2 2-2-2zm60 0l2 2-2 2-2-2zm-70 2l2 2-2 2-2-2zm72 0l2 2-2 2-2-2zm-14 2l2 2-2 2-2-2zm-48 4l2 2-2 2-2-2zm36 0l2 2-2 2-2-2zm20 0l2 2-2 2-2-2zm-102 2l2 2-2 2-2-2zm52 0l2 2-2 2-2-2zm60 0l2 2-2 2-2-2zm-58 2l2 2-2 2-2-2zm20 0l2 2-2 2-2-2zm8 0l2 2-2 2-2-2zm12 0l2 2-2 2-2-2zm-54 2l2 2-2 2-2-2zm18 2l2 2-2 2-2-2zm-22 2l2 2-2 2-2-2zm20 0l2 2-2 2-2-2zm-14 2l2 2-2 2-2-2zm76 0l2 2-2 2-2-2zm-72 4l2 2-2 2-2-2zm8 0l2 2-2 2-2-2zm8 0l2 2-2 2-2-2zm-82 2l2 2-2 2-2-2zm12 0l2 2-2 2-2-2zm28 0l2 2-2 2-2-2zm40 0l2 2-2 2-2-2zm-54 2l2 2-2 2-2-2zm36 0l2 2-2 2-2-2zm40 0l2 2-2 2-2-2zm36 0l2 2-2 2-2-2zm92 0l2 2-2 2-2-2zm-238 2l2 2-2 2-2-2zm18 2l2 2-2 2-2-2zm14 2l2 2-2 2-2-2zm92 0l2 2-2 2-2-2zm28 0l2 2-2 2-2-2zm-166 2l2 2-2 2-2-2zm44 0l2 2-2 2-2-2zm16 0l2 2-2 2-2-2zm32 0l2 2-2 2-2-2zm-90 2l2 2-2 2-2-2zm116 0l2 2-2 2-2-2zm144 0l2 2-2 2-2-2zm-270 2l2 2-2 2-2-2zm124 0l2 2-2 2-2-2zm156 0l2 2-2 2-2-2zm-170 2l2 2-2 2-2-2zm4 0l2 2-2 2-2-2zm160 0l2 2-2 2-2-2zm-198 2l2 2-2 2-2-2zm12 0l2 2-2 2-2-2zm-10 2l2 2-2 2-2-2zm92 0l2 2-2 2-2-2zm-94 2l2 2-2 2-2-2zm-78 2l2 2-2 2-2-2zm76 0l2 2-2 2-2-2zm100 0l2 2-2 2-2-2zm144 0l2 2-2 2-2-2zm16 0l2 2-2 2-2-2zm-246 2l2 2-2 2-2-2zm8 0l2 2-2 2-2-2zm12 0l2 2-2 2-2-2zm72 0l2 2-2 2-2-2zm-38 2l2 2-2 2-2-2zm-86 2l2 2-2 2-2-2zm-54 2l2 2-2 2-2-2zm82 2l2 2-2 2-2-2zm56 0l2 2-2 2-2-2zm-66 2l2 2-2 2-2-2zm30 2l2 2-2 2-2-2zm16 0l2 2-2 2-2-2zm52 0l2 2-2 2-2-2zm-166 2l2 2-2 2-2-2zm16 0l2 2-2 2-2-2zm8 0l2 2-2 2-2-2zm12 0l2 2-2 2-2-2zm284 0l2 2-2 2-2-2zm-270 2l2 2-2 2-2-2zm56 0l2 2-2 2-2-2zm-86 2l2 2-2 2-2-2zm128 0l2 2-2 2-2-2zm-138 2l2 2-2 2-2-2zm56 0l2 2-2 2-2-2zm32 0l2 2-2 2-2-2zm-90 2l2 2-2 2-2-2zm26 2l2 2-2 2-2-2zm100 0l2 2-2 2-2-2zm8 0l2 2-2 2-2-2zm200 0l2 2-2 2-2-2zm-316 4l2 2-2 2-2-2zm44 0l2 2-2 2-2-2zm24 0l2 2-2 2-2-2zm40 0l2 2-2 2-2-2zm14 2l2 2-2 2-2-2zm184 0l2 2-2 2-2-2zm-330 2l2 2-2 2-2-2zm124 0l2 2-2 2-2-2zm28 0l2 2-2 2-2-2zm198 2l2 2-2 2-2-2zm-350 2l2 2-2 2-2-2zm36 0l2 2-2 2-2-2zm16 0l2 2-2 2-2-2zm90 2l2 2-2 2-2-2zm-94 2l2 2-2 2-2-2zm64 0l2 2-2 2-2-2zm152 0l2 2-2 2-2-2zm22 2l2 2-2 2-2-2zm64 0l2 2-2 2-2-2zm-82 2l2 2-2 2-2-2zm48 0l2 2-2 2-2-2zm28 0l2 2-2 2-2-2zm-326 2l2 2-2 2-2-2zm28 0l2 2-2 2-2-2zm228 0l2 2-2 2-2-2zm28 0l2 2-2 2-2-2zm-242 2l2 2-2 2-2-2zm44 0l2 2-2 2-2-2zm216 0l2 2-2 2-2-2zm-234 2l2 2-2 2-2-2zm8 0l2 2-2 2-2-2zm272 0l2 2-2 2-2-2zm-310 2l2 2-2 2-2-2zm12 0l2 2-2 2-2-2zm80 0l2 2-2 2-2-2zm152 0l2 2-2 2-2-2zm-34 2l2 2-2 2-2-2zm36 0l2 2-2 2-2-2zm4 0l2 2-2 2-2-2zm-174 2l2 2-2 2-2-2zm16 0l2 2-2 2-2-2zm96 0l2 2-2 2-2-2zm96 0l2 2-2 2-2-2zm-18 2l2 2-2 2-2-2zm-66 2l2 2-2 2-2-2zm88 0l2 2-2 2-2-2zm-98 2l2 2-2 2-2-2zm-196 4l2 2-2 2-2-2zm34 2l2 2-2 2-2-2zm152 0l2 2-2 2-2-2zm-14 2l2 2-2 2-2-2zm132 0l2 2-2 2-2-2zm-130 2l2 2-2 2-2-2zm-98 2l2 2-2 2-2-2zm208 0l2 2-2 2-2-2zm-278 2l2 2-2 2-2-2zm152 0l2 2-2 2-2-2zm104 0l2 2-2 2-2-2zm-190 2l2 2-2 2-2-2zm160 0l2 2-2 2-2-2zm-198 2l2 2-2 2-2-2zm124 0l2 2-2 2-2-2zm20 0l2 2-2 2-2-2zm92 0l2 2-2 2-2-2zm-202 2l2 2-2 2-2-2zm108 0l2 2-2 2-2-2zm12 0l2 2-2 2-2-2zm84 0l2 2-2 2-2-2zm2 2l2 2-2 2-2-2zm16 0l2 2-2 2-2-2zm-258 2l2 2-2 2-2-2zm200 0l2 2-2 2-2-2zm24 0l2 2-2 2-2-2zm-234 2l2 2-2 2-2-2zm132 0l2 2-2 2-2-2zm4 0l2 2-2 2-2-2zm60 0l2 2-2 2-2-2zm76 0l2 2-2 2-2-2zm-118 2l2 2-2 2-2-2zm12 0l2 2-2 2-2-2zm16 0l2 2-2 2-2-2zm-198 2l2 2-2 2-2-2zm4 0l2 2-2 2-2-2zm260 0l2 2-2 2-2-2zm8 0l2 2-2 2-2-2zm48 0l2 2-2 2-2-2zm-318 2l2 2-2 2-2-2zm176 0l2 2-2 2-2-2zm8 0l2 2-2 2-2-2zm10 2l2 2-2 2-2-2zm18 2l2 2-2 2-2-2zm48 0l2 2-2 2-2-2zm20 0l2 2-2 2-2-2zm-134 2l2 2-2 2-2-2zm12 0l2 2-2 2-2-2zm108 0l2 2-2 2-2-2zm-118 2l2 2-2 2-2-2zm72 0l2 2-2 2-2-2zm12 0l2 2-2 2-2-2zm-218 2l2 2-2 2-2-2zm146 2l2 2-2 2-2-2zm-122 2l2 2-2 2-2-2zm208 0l2 2-2 2-2-2zm20 0l2 2-2 2-2-2zm32 0l2 2-2 2-2-2zm-278 2l2 2-2 2-2-2zm112 0l2 2-2 2-2-2zm24 0l2 2-2 2-2-2zm40 0l2 2-2 2-2-2zm8 0l2 2-2 2-2-2zm12 0l2 2-2 2-2-2zm-66 2l2 2-2 2-2-2zm60 0l2 2-2 2-2-2zm84 0l2 2-2 2-2-2zm-278 2l2 2-2 2-2-2zm262 2l2 2-2 2-2-2zm-2 2l2 2-2 2-2-2zm-98 2l2 2-2 2-2-2zm24 0l2 2-2 2-2-2zm8 0l2 2-2 2-2-2zm8 0l2 2-2 2-2-2zm12 0l2 2-2 2-2-2zm4 0l2 2-2 2-2-2zm40 0l2 2-2 2-2-2zm-338 2l2 2-2 2-2-2zm288 0l2 2-2 2-2-2zm20 0l2 2-2 2-2-2zm-62 2l2 2-2 2-2-2zm92 0l2 2-2 2-2-2zm-54 2l2 2-2 2-2-2zm-38 2l2 2-2 2-2-2zm16 0l2 2-2 2-2-2zm32 0l2 2-2 2-2-2zm-98 6l2 2-2 2-2-2zm-180 4l2 2-2 2-2-2zm180 0l2 2-2 2-2-2zm48 0l2 2-2 2-2-2zm4 0l2 2-2 2-2-2zm-14 2l2 2-2 2-2-2zm20 0l2 2-2 2-2-2zm24 0l2 2-2 2-2-2zm32 0l2 2-2 2-2-2zm-76 4l2 2-2 2-2-2zm16 0l2 2-2 2-2-2zm32 0l2 2-2 2-2-2zm28 0l2 2-2 2-2-2zm-74 2l2 2-2 2-2-2zm10 10l2 2-2 2-2-2z"/><path fill="#86aac4" stroke="#86aac4" d="M237 13l2 2-2 2-2-2zm2 6l2 2-2 2-2-2zm-26 6l2 2-2 2-2-2zm14 2l2 2-2 2-2-2zm36 0l2 2-2 2-2-2zm-62 2l2 2-2 2-2-2zm-14 2l2 2-2 2-2-2zm4 0l2 2-2 2-2-2zm18 2l2 2-2 2-2-2zm36 0l2 2-2 2-2-2zm22 2l2 2-2 2-2-2zm2 2l2 2-2 2-2-2zm-62 2l2 2-2 2-2-2zm-22 2l2 2-2 2-2-2zm88 0l2 2-2 2-2-2zm-74 2l2 2-2 2-2-2zm36 0l2 2-2 2-2-2zm-42 2l2 2-2 2-2-2zm28 0l2 2-2 2-2-2zm72 0l2 2-2 2-2-2zm-66 2l2 2-2 2-2-2zm-6 2l2 2-2 2-2-2zm-70 6l2 2-2 2-2-2zm16 0l2 2-2 2-2-2zm96 0l2 2-2 2-2-2zm-130 2l2 2-2 2-2-2zm8 0l2 2-2 2-2-2zm80 0l2 2-2 2-2-2zm52 0l2 2-2 2-2-2zm-140 4l2 2-2 2-2-2zm148 0l2 2-2 2-2-2zm-106 2l2 2-2 2-2-2zm56 0l2 2-2 2-2-2zm20 0l2 2-2 2-2-2zm32 0l2 2-2 2-2-2zm-154 2l2 2-2 2-2-2zm96 0l2 2-2 2-2-2zm12 0l2 2-2 2-2-2zm-50 2l2 2-2 2-2-2zm16 0l2 2-2 2-2-2zm180 0l2 2-2 2-2-2zm-158 2l2 2-2 2-2-2zm160 0l2 2-2 2-2-2zm-238 2l2 2-2 2-2-2zm32 0l2 2-2 2-2-2zm-68 4l2 2-2 2-2-2zm56 0l2 2-2 2-2-2zm36 0l2 2-2 2-2-2zm240 0l2 2-2 2-2-2zm-306 2l2 2-2 2-2-2zm4 0l2 2-2 2-2-2zm12 0l2 2-2 2-2-2zm272 0l2 2-2 2-2-2zm-314 2l2 2-2 2-2-2zm24 0l2 2-2 2-2-2zm96 0l2 2-2 2-2-2zm-30 2l2 2-2 2-2-2zm8 0l2 2-2 2-2-2zm84 0l2 2-2 2-2-2zm-102 2l2 2-2 2-2-2zm16 0l2 2-2 2-2-2zm44 0l2 2-2 2-2-2zm32 0l2 2-2 2-2-2zm-130 2l2 2-2 2-2-2zm24 0l2 2-2 2-2-2zm28 0l2 2-2 2-2-2zm4 0l2 2-2 2-2-2zm20 0l2 2-2 2-2-2zm12 0l2 2-2 2-2-2zm-34 2l2 2-2 2-2-2zm28 0l2 2-2 2-2-2zm-122 2l2 2-2 2-2-2zm12 0l2 2-2 2-2-2zm16 0l2 2-2 2-2-2zm72 0l2 2-2 2-2-2zm-86 2l2 2-2 2-2-2zm84 0l2 2-2 2-2-2zm8 0l2 2-2 2-2-2zm-82 2l2 2-2 2-2-2zm4 0l2 2-2 2-2-2zm112 0l2 2-2 2-2-2zm-82 2l2 2-2 2-2-2zm86 2l2 2-2 2-2-2zm170 2l2 2-2 2-2-2zm-234 2l2 2-2 2-2-2zm60 0l2 2-2 2-2-2zm-54 2l2 2-2 2-2-2zm68 0l2 2-2 2-2-2zm-58 2l2 2-2 2-2-2zm52 0l2 2-2 2-2-2zm12 0l2 2-2 2-2-2zm144 0l2 2-2 2-2-2zm-282 2l2 2-2 2-2-2zm44 0l2 2-2 2-2-2zm24 0l2 2-2 2-2-2zm56 0l2 2-2 2-2-2zm184 0l2 2-2 2-2-2zm20 0l2 2-2 2-2-2zm-296 4l2 2-2 2-2-2zm20 0l2 2-2 2-2-2zm252 0l2 2-2 2-2-2zm12 0l2 2-2 2-2-2zm-310 2l2 2-2 2-2-2zm12 0l2 2-2 2-2-2zm92 0l2 2-2 2-2-2zm226 2l2 2-2 2-2-2zm-344 4l2 2-2 2-2-2zm140 0l2 2-2 2-2-2zm200 0l2 2-2 2-2-2zm-334 2l2 2-2 2-2-2zm88 0l2 2-2 2-2-2zm16 0l2 2-2 2-2-2zm194 2l2 2-2 2-2-2zm-226 2l2 2-2 2-2-2zm-74 2l2 2-2 2-2-2zm28 0l2 2-2 2-2-2zm4 0l2 2-2 2-2-2zm4 0l2 2-2 2-2-2zm36 0l2 2-2 2-2-2zm188 0l2 2-2 2-2-2zm10 2l2 2-2 2-2-2zm-172 4l2 2-2 2-2-2zm216 0l2 2-2 2-2-2zm10 2l2 2-2 2-2-2zm20 0l2 2-2 2-2-2zm0 4l2 2-2 2-2-2zm-234 2l2 2-2 2-2-2zm160 0l2 2-2 2-2-2zm60 0l2 2-2 2-2-2zm8 0l2 2-2 2-2-2zm12 0l2 2-2 2-2-2zm-26 2l2 2-2 2-2-2zm-290 2l2 2-2 2-2-2zm6 2l2 2-2 2-2-2zm246 2l2 2-2 2-2-2zm-240 4l2 2-2 2-2-2zm16 0l2 2-2 2-2-2zm140 0l2 2-2 2-2-2zm12 0l2 2-2 2-2-2zm-170 2l2 2-2 2-2-2zm-10 2l2 2-2 2-2-2zm8 0l2 2-2 2-2-2zm182 2l2 2-2 2-2-2zm-116 4l2 2-2 2-2-2zm208 0l2 2-2 2-2-2zm-98 2l2 2-2 2-2-2zm100 0l2 2-2 2-2-2zm-90 2l2 2-2 2-2-2zm28 0l2 2-2 2-2-2zm-70 2l2 2-2 2-2-2zm156 0l2 2-2 2-2-2zm12 0l2 2-2 2-2-2zm-312 4l2 2-2 2-2-2zm268 0l2 2-2 2-2-2zm24 0l2 2-2 2-2-2zm-74 2l2 2-2 2-2-2zm28 0l2 2-2 2-2-2zm8 0l2 2-2 2-2-2zm4 0l2 2-2 2-2-2zm-262 2l2 2-2 2-2-2zm204 0l2 2-2 2-2-2zm44 0l2 2-2 2-2-2zm-38 2l2 2-2 2-2-2zm4 0l2 2-2 2-2-2zm-210 2l2 2-2 2-2-2zm20 0l2 2-2 2-2-2zm112 0l2 2-2 2-2-2zm20 0l2 2-2 2-2-2zm92 0l2 2-2 2-2-2zm-226 2l2 2-2 2-2-2zm8 0l2 2-2 2-2-2zm284 0l2 2-2 2-2-2zm-294 6l2 2-2 2-2-2zm152 0l2 2-2 2-2-2zm136 0l2 2-2 2-2-2zm-70 2l2 2-2 2-2-2zm18 2l2 2-2 2-2-2zm44 0l2 2-2 2-2-2zm-174 2l2 2-2 2-2-2zm-110 2l2 2-2 2-2-2zm40 0l2 2-2 2-2-2zm132 0l2 2-2 2-2-2zm48 0l2 2-2 2-2-2zm4 0l2 2-2 2-2-2zm-82 2l2 2-2 2-2-2zm134 2l2 2-2 2-2-2zm-112 4l2 2-2 2-2-2zm-50 2l2 2-2 2-2-2zm156 0l2 2-2 2-2-2zm-152 4l2 2-2 2-2-2zm24 4l2 2-2 2-2-2zm24 0l2 2-2 2-2-2zm12 0l2 2-2 2-2-2zm76 0l2 2-2 2-2-2zm-66 2l2 2-2 2-2-2zm16 8l2 2-2 2-2-2zm28 0l2 2-2 2-2-2zm-130 2l2 2-2 2-2-2zm48 0l2 2-2 2-2-2zm2 2l2 2-2 2-2-2zm48 0l2 2-2 2-2-2zm-30 2l2 2-2 2-2-2zm16 0l2 2-2 2-2-2zm-10 2l2 2-2 2-2-2zm20 0l2 2-2 2-2-2zm4 0l2 2-2 2-2-2zm8 0l2 2-2 2-2-2zm-46 2l2 2-2 2-2-2zm-2 6l2 2-2 2-2-2z"/><path fill="#81a6c3" stroke="#81a6c3" d="M259 23l2 2-2 2-2-2zm-70 2l2 2-2 2-2-2zm72 0l2 2-2 2-2-2zm-54 2l2 2-2 2-2-2zm16 0l2 2-2 2-2-2zm-6 2l2 2-2 2-2-2zm64 4l2 2-2 2-2-2zm-90 2l2 2-2 2-2-2zm-6 2l2 2-2 2-2-2zm-10 2l2 2-2 2-2-2zm16 0l2 2-2 2-2-2zm-46 2l2 2-2 2-2-2zm36 0l2 2-2 2-2-2zm20 4l2 2-2 2-2-2zm64 0l2 2-2 2-2-2zm-100 4l2 2-2 2-2-2zm20 0l2 2-2 2-2-2zm48 0l2 2-2 2-2-2zm-74 2l2 2-2 2-2-2zm-6 2l2 2-2 2-2-2zm20 0l2 2-2 2-2-2zm44 0l2 2-2 2-2-2zm60 0l2 2-2 2-2-2zm-70 2l2 2-2 2-2-2zm60 0l2 2-2 2-2-2zm20 0l2 2-2 2-2-2zm-166 2l2 2-2 2-2-2zm80 0l2 2-2 2-2-2zm4 0l2 2-2 2-2-2zm-70 2l2 2-2 2-2-2zm12 0l2 2-2 2-2-2zm22 2l2 2-2 2-2-2zm36 0l2 2-2 2-2-2zm88 0l2 2-2 2-2-2zm-150 2l2 2-2 2-2-2zm98 2l2 2-2 2-2-2zm-94 2l2 2-2 2-2-2zm76 0l2 2-2 2-2-2zm-26 2l2 2-2 2-2-2zm20 0l2 2-2 2-2-2zm42 2l2 2-2 2-2-2zm-62 2l2 2-2 2-2-2zm4 0l2 2-2 2-2-2zm236 0l2 2-2 2-2-2zm-318 2l2 2-2 2-2-2zm80 0l2 2-2 2-2-2zm-10 2l2 2-2 2-2-2zm12 0l2 2-2 2-2-2zm-22 2l2 2-2 2-2-2zm-2 2l2 2-2 2-2-2zm34 2l2 2-2 2-2-2zm-86 2l2 2-2 2-2-2zm92 0l2 2-2 2-2-2zm28 0l2 2-2 2-2-2zm-114 2l2 2-2 2-2-2zm70 2l2 2-2 2-2-2zm16 0l2 2-2 2-2-2zm-12 4l2 2-2 2-2-2zm-82 2l2 2-2 2-2-2zm108 0l2 2-2 2-2-2zm8 0l2 2-2 2-2-2zm4 0l2 2-2 2-2-2zm16 0l2 2-2 2-2-2zm180 0l2 2-2 2-2-2zm-238 2l2 2-2 2-2-2zm-30 2l2 2-2 2-2-2zm10 2l2 2-2 2-2-2zm36 0l2 2-2 2-2-2zm32 0l2 2-2 2-2-2zm-124 4l2 2-2 2-2-2zm60 0l2 2-2 2-2-2zm52 0l2 2-2 2-2-2zm-22 2l2 2-2 2-2-2zm204 0l2 2-2 2-2-2zm-238 2l2 2-2 2-2-2zm16 0l2 2-2 2-2-2zm60 0l2 2-2 2-2-2zm192 0l2 2-2 2-2-2zm-328 4l2 2-2 2-2-2zm36 0l2 2-2 2-2-2zm32 0l2 2-2 2-2-2zm-2 2l2 2-2 2-2-2zm12 0l2 2-2 2-2-2zm-42 2l2 2-2 2-2-2zm80 0l2 2-2 2-2-2zm-106 2l2 2-2 2-2-2zm22 2l2 2-2 2-2-2zm56 0l2 2-2 2-2-2zm-22 2l2 2-2 2-2-2zm36 0l2 2-2 2-2-2zm40 0l2 2-2 2-2-2zm-102 2l2 2-2 2-2-2zm56 0l2 2-2 2-2-2zm-32 4l2 2-2 2-2-2zm18 2l2 2-2 2-2-2zm-38 2l2 2-2 2-2-2zm252 0l2 2-2 2-2-2zm56 0l2 2-2 2-2-2zm-274 2l2 2-2 2-2-2zm8 0l2 2-2 2-2-2zm228 0l2 2-2 2-2-2zm-74 2l2 2-2 2-2-2zm36 0l2 2-2 2-2-2zm40 0l2 2-2 2-2-2zm12 0l2 2-2 2-2-2zm-280 4l2 2-2 2-2-2zm56 0l2 2-2 2-2-2zm-42 2l2 2-2 2-2-2zm226 2l2 2-2 2-2-2zm0 4l2 2-2 2-2-2zm-230 2l2 2-2 2-2-2zm22 2l2 2-2 2-2-2zm148 0l2 2-2 2-2-2zm2 2l2 2-2 2-2-2zm-14 2l2 2-2 2-2-2zm134 2l2 2-2 2-2-2zm-138 2l2 2-2 2-2-2zm112 0l2 2-2 2-2-2zm-262 2l2 2-2 2-2-2zm36 4l2 2-2 2-2-2zm166 2l2 2-2 2-2-2zm52 0l2 2-2 2-2-2zm-58 2l2 2-2 2-2-2zm68 4l2 2-2 2-2-2zm-126 2l2 2-2 2-2-2zm100 0l2 2-2 2-2-2zm20 0l2 2-2 2-2-2zm8 0l2 2-2 2-2-2zm-266 2l2 2-2 2-2-2zm276 0l2 2-2 2-2-2zm-294 2l2 2-2 2-2-2zm204 0l2 2-2 2-2-2zm68 0l2 2-2 2-2-2zm-234 2l2 2-2 2-2-2zm144 0l2 2-2 2-2-2zm12 0l2 2-2 2-2-2zm-166 2l2 2-2 2-2-2zm124 0l2 2-2 2-2-2zm112 0l2 2-2 2-2-2zm-50 2l2 2-2 2-2-2zm6 2l2 2-2 2-2-2zm12 0l2 2-2 2-2-2zm-70 2l2 2-2 2-2-2zm36 0l2 2-2 2-2-2zm4 0l2 2-2 2-2-2zm28 0l2 2-2 2-2-2zm4 0l2 2-2 2-2-2zm-300 4l2 2-2 2-2-2zm208 0l2 2-2 2-2-2zm116 0l2 2-2 2-2-2zm24 0l2 2-2 2-2-2zm-62 2l2 2-2 2-2-2zm84 0l2 2-2 2-2-2zm-114 2l2 2-2 2-2-2zm44 0l2 2-2 2-2-2zm-58 2l2 2-2 2-2-2zm-14 2l2 2-2 2-2-2zm16 0l2 2-2 2-2-2zm52 0l2 2-2 2-2-2zm28 0l2 2-2 2-2-2zm-318 2l2 2-2 2-2-2zm204 0l2 2-2 2-2-2zm112 0l2 2-2 2-2-2zm-110 2l2 2-2 2-2-2zm36 0l2 2-2 2-2-2zm4 0l2 2-2 2-2-2zm22 2l2 2-2 2-2-2zm54 2l2 2-2 2-2-2zm2 6l2 2-2 2-2-2zm-118 2l2 2-2 2-2-2zm40 0l2 2-2 2-2-2zm32 4l2 2-2 2-2-2zm8 0l2 2-2 2-2-2zm-38 2l2 2-2 2-2-2zm14 2l2 2-2 2-2-2zm-8 4l2 2-2 2-2-2zm44 0l2 2-2 2-2-2zm-46 2l2 2-2 2-2-2zm12 0l2 2-2 2-2-2zm-6 2l2 2-2 2-2-2zm-6 2l2 2-2 2-2-2zm4 0l2 2-2 2-2-2z"/><path fill="#7da3c3" stroke="#7da3c3" d="M215 23l2 2-2 2-2-2zm-14 10l2 2-2 2-2-2zm70 2l2 2-2 2-2-2zm-30 2l2 2-2 2-2-2zm32 0l2 2-2 2-2-2zm-78 2l2 2-2 2-2-2zm-2 2l2 2-2 2-2-2zm4 0l2 2-2 2-2-2zm4 0l2 2-2 2-2-2zm80 0l2 2-2 2-2-2zm-86 2l2 2-2 2-2-2zm20 0l2 2-2 2-2-2zm-50 2l2 2-2 2-2-2zm30 2l2 2-2 2-2-2zm84 0l2 2-2 2-2-2zm-126 2l2 2-2 2-2-2zm16 0l2 2-2 2-2-2zm-2 2l2 2-2 2-2-2zm72 0l2 2-2 2-2-2zm12 0l2 2-2 2-2-2zm112 0l2 2-2 2-2-2zm-162 2l2 2-2 2-2-2zm32 0l2 2-2 2-2-2zm4 0l2 2-2 2-2-2zm4 0l2 2-2 2-2-2zm-62 6l2 2-2 2-2-2zm40 0l2 2-2 2-2-2zm4 0l2 2-2 2-2-2zm-102 2l2 2-2 2-2-2zm18 2l2 2-2 2-2-2zm116 0l2 2-2 2-2-2zm-132 4l2 2-2 2-2-2zm28 0l2 2-2 2-2-2zm22 2l2 2-2 2-2-2zm8 0l2 2-2 2-2-2zm20 0l2 2-2 2-2-2zm180 0l2 2-2 2-2-2zm-240 4l2 2-2 2-2-2zm14 2l2 2-2 2-2-2zm32 0l2 2-2 2-2-2zm96 0l2 2-2 2-2-2zm-108 4l2 2-2 2-2-2zm48 0l2 2-2 2-2-2zm4 0l2 2-2 2-2-2zm8 0l2 2-2 2-2-2zm36 0l2 2-2 2-2-2zm-114 2l2 2-2 2-2-2zm64 0l2 2-2 2-2-2zm4 0l2 2-2 2-2-2zm4 0l2 2-2 2-2-2zm-54 2l2 2-2 2-2-2zm44 0l2 2-2 2-2-2zm28 0l2 2-2 2-2-2zm-108 4l2 2-2 2-2-2zm112 0l2 2-2 2-2-2zm-54 2l2 2-2 2-2-2zm56 0l2 2-2 2-2-2zm-114 2l2 2-2 2-2-2zm60 0l2 2-2 2-2-2zm28 0l2 2-2 2-2-2zm-110 2l2 2-2 2-2-2zm44 0l2 2-2 2-2-2zm52 0l2 2-2 2-2-2zm64 0l2 2-2 2-2-2zm160 0l2 2-2 2-2-2zm-310 2l2 2-2 2-2-2zm24 0l2 2-2 2-2-2zm72 0l2 2-2 2-2-2zm-54 2l2 2-2 2-2-2zm76 0l2 2-2 2-2-2zm192 0l2 2-2 2-2-2zm-14 2l2 2-2 2-2-2zm-214 2l2 2-2 2-2-2zm68 0l2 2-2 2-2-2zm-102 2l2 2-2 2-2-2zm76 0l2 2-2 2-2-2zm178 2l2 2-2 2-2-2zm16 0l2 2-2 2-2-2zm-330 2l2 2-2 2-2-2zm54 2l2 2-2 2-2-2zm252 0l2 2-2 2-2-2zm42 2l2 2-2 2-2-2zm-258 2l2 2-2 2-2-2zm20 0l2 2-2 2-2-2zm-46 2l2 2-2 2-2-2zm24 0l2 2-2 2-2-2zm-8 4l2 2-2 2-2-2zm-34 2l2 2-2 2-2-2zm32 0l2 2-2 2-2-2zm24 0l2 2-2 2-2-2zm-86 2l2 2-2 2-2-2zm332 0l2 2-2 2-2-2zm-34 2l2 2-2 2-2-2zm-252 4l2 2-2 2-2-2zm36 0l2 2-2 2-2-2zm176 4l2 2-2 2-2-2zm-226 2l2 2-2 2-2-2zm240 0l2 2-2 2-2-2zm68 0l2 2-2 2-2-2zm-86 2l2 2-2 2-2-2zm-158 2l2 2-2 2-2-2zm150 2l2 2-2 2-2-2zm88 0l2 2-2 2-2-2zm-302 2l2 2-2 2-2-2zm36 0l2 2-2 2-2-2zm168 0l2 2-2 2-2-2zm-192 4l2 2-2 2-2-2zm8 0l2 2-2 2-2-2zm192 0l2 2-2 2-2-2zm12 0l2 2-2 2-2-2zm-216 4l2 2-2 2-2-2zm204 0l2 2-2 2-2-2zm40 0l2 2-2 2-2-2zm-26 2l2 2-2 2-2-2zm68 4l2 2-2 2-2-2zm-34 2l2 2-2 2-2-2zm60 0l2 2-2 2-2-2zm-52 4l2 2-2 2-2-2zm0 4l2 2-2 2-2-2zm-242 2l2 2-2 2-2-2zm178 2l2 2-2 2-2-2zm-42 2l2 2-2 2-2-2zm100 0l2 2-2 2-2-2zm-246 6l2 2-2 2-2-2zm228 0l2 2-2 2-2-2zm64 0l2 2-2 2-2-2zm-302 2l2 2-2 2-2-2zm212 0l2 2-2 2-2-2zm28 0l2 2-2 2-2-2zm60 0l2 2-2 2-2-2zm-272 4l2 2-2 2-2-2zm212 0l2 2-2 2-2-2zm4 0l2 2-2 2-2-2zm8 0l2 2-2 2-2-2zm12 0l2 2-2 2-2-2zm-6 2l2 2-2 2-2-2zm24 0l2 2-2 2-2-2zm-122 2l2 2-2 2-2-2zm134 2l2 2-2 2-2-2zm-238 2l2 2-2 2-2-2zm110 6l2 2-2 2-2-2zm68 0l2 2-2 2-2-2zm-2 2l2 2-2 2-2-2zm20 0l2 2-2 2-2-2zm24 0l2 2-2 2-2-2zm-86 2l2 2-2 2-2-2zm72 0l2 2-2 2-2-2zm12 0l2 2-2 2-2-2zm16 0l2 2-2 2-2-2zm-94 2l2 2-2 2-2-2zm-60 4l2 2-2 2-2-2zm132 0l2 2-2 2-2-2zm20 0l2 2-2 2-2-2zm-158 2l2 2-2 2-2-2zm12 0l2 2-2 2-2-2zm118 2l2 2-2 2-2-2zm-90 2l2 2-2 2-2-2zm4 0l2 2-2 2-2-2zm54 10l2 2-2 2-2-2zm-2 2l2 2-2 2-2-2zm2 2l2 2-2 2-2-2zm-20 4l2 2-2 2-2-2zm-28 4l2 2-2 2-2-2zm18 2l2 2-2 2-2-2z"/><path fill="#799fc2" stroke="#799fc2" d="M219 27l2 2-2 2-2-2zm-22 2l2 2-2 2-2-2zm-36 4l2 2-2 2-2-2zm74 2l2 2-2 2-2-2zm-34 2l2 2-2 2-2-2zm44 0l2 2-2 2-2-2zm-34 2l2 2-2 2-2-2zm-40 4l2 2-2 2-2-2zm-10 2l2 2-2 2-2-2zm-4 4l2 2-2 2-2-2zm52 0l2 2-2 2-2-2zm52 0l2 2-2 2-2-2zm-78 2l2 2-2 2-2-2zm64 0l2 2-2 2-2-2zm20 0l2 2-2 2-2-2zm-110 2l2 2-2 2-2-2zm128 0l2 2-2 2-2-2zm-98 2l2 2-2 2-2-2zm176 4l2 2-2 2-2-2zm-248 4l2 2-2 2-2-2zm26 2l2 2-2 2-2-2zm-6 2l2 2-2 2-2-2zm48 0l2 2-2 2-2-2zm-18 2l2 2-2 2-2-2zm88 0l2 2-2 2-2-2zm-138 2l2 2-2 2-2-2zm140 0l2 2-2 2-2-2zm-30 2l2 2-2 2-2-2zm-82 2l2 2-2 2-2-2zm4 0l2 2-2 2-2-2zm4 0l2 2-2 2-2-2zm64 4l2 2-2 2-2-2zm68 0l2 2-2 2-2-2zm2 2l2 2-2 2-2-2zm132 4l2 2-2 2-2-2zm-274 2l2 2-2 2-2-2zm52 0l2 2-2 2-2-2zm-62 6l2 2-2 2-2-2zm74 2l2 2-2 2-2-2zm16 4l2 2-2 2-2-2zm28 0l2 2-2 2-2-2zm-110 2l2 2-2 2-2-2zm64 0l2 2-2 2-2-2zm-70 2l2 2-2 2-2-2zm48 0l2 2-2 2-2-2zm-30 2l2 2-2 2-2-2zm20 0l2 2-2 2-2-2zm-54 2l2 2-2 2-2-2zm24 0l2 2-2 2-2-2zm100 0l2 2-2 2-2-2zm-22 2l2 2-2 2-2-2zm216 0l2 2-2 2-2-2zm-290 2l2 2-2 2-2-2zm48 0l2 2-2 2-2-2zm24 0l2 2-2 2-2-2zm228 0l2 2-2 2-2-2zm-210 2l2 2-2 2-2-2zm-70 2l2 2-2 2-2-2zm24 0l2 2-2 2-2-2zm-58 2l2 2-2 2-2-2zm68 8l2 2-2 2-2-2zm-12 4l2 2-2 2-2-2zm20 0l2 2-2 2-2-2zm-78 2l2 2-2 2-2-2zm48 0l2 2-2 2-2-2zm28 0l2 2-2 2-2-2zm-18 2l2 2-2 2-2-2zm194 2l2 2-2 2-2-2zm-202 2l2 2-2 2-2-2zm28 0l2 2-2 2-2-2zm-2 2l2 2-2 2-2-2zm188 0l2 2-2 2-2-2zm-210 10l2 2-2 2-2-2zm162 6l2 2-2 2-2-2zm-170 2l2 2-2 2-2-2zm302 2l2 2-2 2-2-2zm-298 6l2 2-2 2-2-2zm202 2l2 2-2 2-2-2zm-202 2l2 2-2 2-2-2zm4 0l2 2-2 2-2-2zm280 0l2 2-2 2-2-2zm-110 2l2 2-2 2-2-2zm108 0l2 2-2 2-2-2zm28 0l2 2-2 2-2-2zm-158 2l2 2-2 2-2-2zm128 0l2 2-2 2-2-2zm28 0l2 2-2 2-2-2zm-50 2l2 2-2 2-2-2zm18 2l2 2-2 2-2-2zm-38 2l2 2-2 2-2-2zm4 4l2 2-2 2-2-2zm46 2l2 2-2 2-2-2zm-110 2l2 2-2 2-2-2zm30 2l2 2-2 2-2-2zm20 0l2 2-2 2-2-2zm-78 2l2 2-2 2-2-2zm4 0l2 2-2 2-2-2zm108 0l2 2-2 2-2-2zm-110 2l2 2-2 2-2-2zm54 2l2 2-2 2-2-2zm20 0l2 2-2 2-2-2zm-56 4l2 2-2 2-2-2zm92 0l2 2-2 2-2-2zm-50 6l2 2-2 2-2-2zm-26 2l2 2-2 2-2-2zm60 0l2 2-2 2-2-2zm-22 2l2 2-2 2-2-2zm30 2l2 2-2 2-2-2zm-102 2l2 2-2 2-2-2zm4 0l2 2-2 2-2-2zm12 0l2 2-2 2-2-2zm74 2l2 2-2 2-2-2zm-14 2l2 2-2 2-2-2zm-66 2l2 2-2 2-2-2zm82 2l2 2-2 2-2-2zm-18 2l2 2-2 2-2-2zm-42 6l2 2-2 2-2-2zm12 0l2 2-2 2-2-2zm-14 2l2 2-2 2-2-2zm10 2l2 2-2 2-2-2zm24 0l2 2-2 2-2-2z"/><path fill="#769bc1" stroke="#769bc1" d="M241 21l2 2-2 2-2-2zm-28 12l2 2-2 2-2-2zm-42 2l2 2-2 2-2-2zm48 0l2 2-2 2-2-2zm20 0l2 2-2 2-2-2zm38 2l2 2-2 2-2-2zm-78 2l2 2-2 2-2-2zm16 0l2 2-2 2-2-2zm30 2l2 2-2 2-2-2zm-16 4l2 2-2 2-2-2zm-10 6l2 2-2 2-2-2zm52 0l2 2-2 2-2-2zm-20 4l2 2-2 2-2-2zm20 0l2 2-2 2-2-2zm-148 4l2 2-2 2-2-2zm16 0l2 2-2 2-2-2zm76 0l2 2-2 2-2-2zm-14 2l2 2-2 2-2-2zm156 0l2 2-2 2-2-2zm8 0l2 2-2 2-2-2zm-234 2l2 2-2 2-2-2zm52 0l2 2-2 2-2-2zm80 0l2 2-2 2-2-2zm-138 2l2 2-2 2-2-2zm130 2l2 2-2 2-2-2zm-122 2l2 2-2 2-2-2zm116 4l2 2-2 2-2-2zm-76 4l2 2-2 2-2-2zm80 0l2 2-2 2-2-2zm-114 2l2 2-2 2-2-2zm12 0l2 2-2 2-2-2zm72 4l2 2-2 2-2-2zm-74 2l2 2-2 2-2-2zm8 0l2 2-2 2-2-2zm4 0l2 2-2 2-2-2zm20 0l2 2-2 2-2-2zm-32 4l2 2-2 2-2-2zm-18 2l2 2-2 2-2-2zm52 0l2 2-2 2-2-2zm60 0l2 2-2 2-2-2zm-118 2l2 2-2 2-2-2zm28 0l2 2-2 2-2-2zm10 2l2 2-2 2-2-2zm88 0l2 2-2 2-2-2zm12 0l2 2-2 2-2-2zm-130 2l2 2-2 2-2-2zm14 2l2 2-2 2-2-2zm8 4l2 2-2 2-2-2zm-14 2l2 2-2 2-2-2zm48 0l2 2-2 2-2-2zm68 0l2 2-2 2-2-2zm-30 2l2 2-2 2-2-2zm196 0l2 2-2 2-2-2zm28 0l2 2-2 2-2-2zm-214 2l2 2-2 2-2-2zm208 0l2 2-2 2-2-2zm12 0l2 2-2 2-2-2zm-242 2l2 2-2 2-2-2zm26 2l2 2-2 2-2-2zm208 0l2 2-2 2-2-2zm-244 4l2 2-2 2-2-2zm-66 2l2 2-2 2-2-2zm76 0l2 2-2 2-2-2zm4 0l2 2-2 2-2-2zm16 0l2 2-2 2-2-2zm-62 2l2 2-2 2-2-2zm28 0l2 2-2 2-2-2zm-26 2l2 2-2 2-2-2zm4 0l2 2-2 2-2-2zm220 4l2 2-2 2-2-2zm-16 4l2 2-2 2-2-2zm-210 6l2 2-2 2-2-2zm18 2l2 2-2 2-2-2zm212 0l2 2-2 2-2-2zm-214 2l2 2-2 2-2-2zm200 0l2 2-2 2-2-2zm-196 8l2 2-2 2-2-2zm-24 4l2 2-2 2-2-2zm300 4l2 2-2 2-2-2zm-296 4l2 2-2 2-2-2zm2 2l2 2-2 2-2-2zm180 4l2 2-2 2-2-2zm92 0l2 2-2 2-2-2zm-270 2l2 2-2 2-2-2zm144 0l2 2-2 2-2-2zm60 0l2 2-2 2-2-2zm-182 2l2 2-2 2-2-2zm182 2l2 2-2 2-2-2zm-14 2l2 2-2 2-2-2zm40 0l2 2-2 2-2-2zm-20 4l2 2-2 2-2-2zm38 2l2 2-2 2-2-2zm-98 2l2 2-2 2-2-2zm60 0l2 2-2 2-2-2zm68 0l2 2-2 2-2-2zm-66 2l2 2-2 2-2-2zm-66 2l2 2-2 2-2-2zm112 0l2 2-2 2-2-2zm36 0l2 2-2 2-2-2zm4 0l2 2-2 2-2-2zm-102 2l2 2-2 2-2-2zm96 0l2 2-2 2-2-2zm-120 4l2 2-2 2-2-2zm72 0l2 2-2 2-2-2zm16 0l2 2-2 2-2-2zm20 0l2 2-2 2-2-2zm-266 2l2 2-2 2-2-2zm248 4l2 2-2 2-2-2zm24 0l2 2-2 2-2-2zm-34 6l2 2-2 2-2-2zm-50 2l2 2-2 2-2-2zm30 2l2 2-2 2-2-2zm42 2l2 2-2 2-2-2zm-120 4l2 2-2 2-2-2zm28 0l2 2-2 2-2-2zm58 2l2 2-2 2-2-2zm4 0l2 2-2 2-2-2zm2 2l2 2-2 2-2-2zm-50 6l2 2-2 2-2-2zm-10 2l2 2-2 2-2-2zm-2 2l2 2-2 2-2-2zm14 2l2 2-2 2-2-2zm-16 4l2 2-2 2-2-2zm18 2l2 2-2 2-2-2z"/><path fill="#7297c1" stroke="#7297c1" d="M177 33l2 2-2 2-2-2zm84 0l2 2-2 2-2-2zm-44 4l2 2-2 2-2-2zm4 0l2 2-2 2-2-2zm22 2l2 2-2 2-2-2zm6 6l2 2-2 2-2-2zm-26 2l2 2-2 2-2-2zm-12 4l2 2-2 2-2-2zm4 0l2 2-2 2-2-2zm58 2l2 2-2 2-2-2zm-102 2l2 2-2 2-2-2zm52 0l2 2-2 2-2-2zm-78 2l2 2-2 2-2-2zm12 0l2 2-2 2-2-2zm132 0l2 2-2 2-2-2zm-138 2l2 2-2 2-2-2zm102 2l2 2-2 2-2-2zm32 0l2 2-2 2-2-2zm-122 2l2 2-2 2-2-2zm220 0l2 2-2 2-2-2zm-202 2l2 2-2 2-2-2zm-62 2l2 2-2 2-2-2zm44 0l2 2-2 2-2-2zm36 0l2 2-2 2-2-2zm10 2l2 2-2 2-2-2zm48 0l2 2-2 2-2-2zm-134 2l2 2-2 2-2-2zm52 0l2 2-2 2-2-2zm6 2l2 2-2 2-2-2zm8 0l2 2-2 2-2-2zm88 0l2 2-2 2-2-2zm-100 4l2 2-2 2-2-2zm40 0l2 2-2 2-2-2zm-84 4l2 2-2 2-2-2zm10 2l2 2-2 2-2-2zm12 0l2 2-2 2-2-2zm80 0l2 2-2 2-2-2zm-88 4l2 2-2 2-2-2zm4 0l2 2-2 2-2-2zm28 0l2 2-2 2-2-2zm20 0l2 2-2 2-2-2zm220 0l2 2-2 2-2-2zm-238 2l2 2-2 2-2-2zm14 2l2 2-2 2-2-2zm-10 2l2 2-2 2-2-2zm24 4l2 2-2 2-2-2zm52 0l2 2-2 2-2-2zm160 0l2 2-2 2-2-2zm-220 4l2 2-2 2-2-2zm20 0l2 2-2 2-2-2zm2 2l2 2-2 2-2-2zm32 0l2 2-2 2-2-2zm-10 2l2 2-2 2-2-2zm196 0l2 2-2 2-2-2zm12 0l2 2-2 2-2-2zm-266 2l2 2-2 2-2-2zm4 0l2 2-2 2-2-2zm8 0l2 2-2 2-2-2zm-22 2l2 2-2 2-2-2zm74 2l2 2-2 2-2-2zm-30 2l2 2-2 2-2-2zm-102 2l2 2-2 2-2-2zm32 0l2 2-2 2-2-2zm20 0l2 2-2 2-2-2zm4 0l2 2-2 2-2-2zm-14 2l2 2-2 2-2-2zm4 0l2 2-2 2-2-2zm250 2l2 2-2 2-2-2zm-298 2l2 2-2 2-2-2zm8 0l2 2-2 2-2-2zm104 0l2 2-2 2-2-2zm162 2l2 2-2 2-2-2zm-222 6l2 2-2 2-2-2zm296 0l2 2-2 2-2-2zm-84 4l2 2-2 2-2-2zm-154 2l2 2-2 2-2-2zm-30 14l2 2-2 2-2-2zm-16 4l2 2-2 2-2-2zm-18 2l2 2-2 2-2-2zm170 2l2 2-2 2-2-2zm120 0l2 2-2 2-2-2zm-102 2l2 2-2 2-2-2zm8 0l2 2-2 2-2-2zm10 2l2 2-2 2-2-2zm-142 10l2 2-2 2-2-2zm104 0l2 2-2 2-2-2zm-162 2l2 2-2 2-2-2zm224 4l2 2-2 2-2-2zm-226 2l2 2-2 2-2-2zm200 4l2 2-2 2-2-2zm64 0l2 2-2 2-2-2zm-106 2l2 2-2 2-2-2zm-128 4l2 2-2 2-2-2zm108 0l2 2-2 2-2-2zm-118 2l2 2-2 2-2-2zm160 0l2 2-2 2-2-2zm40 0l2 2-2 2-2-2zm4 0l2 2-2 2-2-2zm32 0l2 2-2 2-2-2zm-42 2l2 2-2 2-2-2zm-154 2l2 2-2 2-2-2zm100 0l2 2-2 2-2-2zm12 0l2 2-2 2-2-2zm4 0l2 2-2 2-2-2zm8 0l2 2-2 2-2-2zm104 0l2 2-2 2-2-2zm8 0l2 2-2 2-2-2zm-30 2l2 2-2 2-2-2zm-70 10l2 2-2 2-2-2zm6 2l2 2-2 2-2-2zm92 0l2 2-2 2-2-2zm-130 2l2 2-2 2-2-2zm108 0l2 2-2 2-2-2zm16 0l2 2-2 2-2-2zm-148 4l2 2-2 2-2-2zm40 16l2 2-2 2-2-2z"/><path fill="#6f93c0" stroke="#6f93c0" d="M233 21l2 2-2 2-2-2zm-24 4l2 2-2 2-2-2zm-34 10l2 2-2 2-2-2zm22 2l2 2-2 2-2-2zm28 8l2 2-2 2-2-2zm-78 2l2 2-2 2-2-2zm118 2l2 2-2 2-2-2zm-146 10l2 2-2 2-2-2zm54 2l2 2-2 2-2-2zm-54 2l2 2-2 2-2-2zm116 0l2 2-2 2-2-2zm24 0l2 2-2 2-2-2zm-106 2l2 2-2 2-2-2zm-32 4l2 2-2 2-2-2zm32 0l2 2-2 2-2-2zm66 6l2 2-2 2-2-2zm-98 2l2 2-2 2-2-2zm50 2l2 2-2 2-2-2zm28 0l2 2-2 2-2-2zm80 0l2 2-2 2-2-2zm-42 2l2 2-2 2-2-2zm-98 2l2 2-2 2-2-2zm76 4l2 2-2 2-2-2zm-72 4l2 2-2 2-2-2zm12 0l2 2-2 2-2-2zm48 0l2 2-2 2-2-2zm42 2l2 2-2 2-2-2zm-92 4l2 2-2 2-2-2zm76 0l2 2-2 2-2-2zm12 0l2 2-2 2-2-2zm-126 2l2 2-2 2-2-2zm100 0l2 2-2 2-2-2zm48 0l2 2-2 2-2-2zm0 4l2 2-2 2-2-2zm-66 2l2 2-2 2-2-2zm24 0l2 2-2 2-2-2zm-84 4l2 2-2 2-2-2zm108 0l2 2-2 2-2-2zm-118 6l2 2-2 2-2-2zm108 0l2 2-2 2-2-2zm-48 4l2 2-2 2-2-2zm-50 2l2 2-2 2-2-2zm20 0l2 2-2 2-2-2zm68 0l2 2-2 2-2-2zm-26 2l2 2-2 2-2-2zm56 0l2 2-2 2-2-2zm132 8l2 2-2 2-2-2zm74 2l2 2-2 2-2-2zm-106 2l2 2-2 2-2-2zm-160 4l2 2-2 2-2-2zm-22 10l2 2-2 2-2-2zm0 4l2 2-2 2-2-2zm24 0l2 2-2 2-2-2zm-30 2l2 2-2 2-2-2zm154 6l2 2-2 2-2-2zm16 0l2 2-2 2-2-2zm-160 4l2 2-2 2-2-2zm268 0l2 2-2 2-2-2zm-16 8l2 2-2 2-2-2zm0 4l2 2-2 2-2-2zm32 0l2 2-2 2-2-2zm-286 2l2 2-2 2-2-2zm256 0l2 2-2 2-2-2zm-260 4l2 2-2 2-2-2zm28 4l2 2-2 2-2-2zm128 0l2 2-2 2-2-2zm104 0l2 2-2 2-2-2zm6 2l2 2-2 2-2-2zm-40 12l2 2-2 2-2-2zm-10 2l2 2-2 2-2-2zm-28 8l2 2-2 2-2-2zm48 0l2 2-2 2-2-2zm14 10l2 2-2 2-2-2zm-270 6l2 2-2 2-2-2zm236 4l2 2-2 2-2-2z"/><path fill="#6c8fbf" stroke="#6c8fbf" d="M203 27l2 2-2 2-2-2zm56 0l2 2-2 2-2-2zm-2 2l2 2-2 2-2-2zm-62 6l2 2-2 2-2-2zm-38 2l2 2-2 2-2-2zm66 2l2 2-2 2-2-2zm-6 6l2 2-2 2-2-2zm-54 6l2 2-2 2-2-2zm60 0l2 2-2 2-2-2zm-94 2l2 2-2 2-2-2zm126 2l2 2-2 2-2-2zm4 0l2 2-2 2-2-2zm20 0l2 2-2 2-2-2zm-54 2l2 2-2 2-2-2zm-98 2l2 2-2 2-2-2zm44 0l2 2-2 2-2-2zm92 0l2 2-2 2-2-2zm-138 2l2 2-2 2-2-2zm24 0l2 2-2 2-2-2zm50 2l2 2-2 2-2-2zm4 0l2 2-2 2-2-2zm-48 4l2 2-2 2-2-2zm2 2l2 2-2 2-2-2zm28 0l2 2-2 2-2-2zm-30 2l2 2-2 2-2-2zm4 0l2 2-2 2-2-2zm-46 2l2 2-2 2-2-2zm102 2l2 2-2 2-2-2zm-100 4l2 2-2 2-2-2zm48 0l2 2-2 2-2-2zm44 0l2 2-2 2-2-2zm44 0l2 2-2 2-2-2zm-34 2l2 2-2 2-2-2zm16 0l2 2-2 2-2-2zm-36 4l2 2-2 2-2-2zm4 0l2 2-2 2-2-2zm-46 2l2 2-2 2-2-2zm66 6l2 2-2 2-2-2zm-86 2l2 2-2 2-2-2zm64 0l2 2-2 2-2-2zm216 0l2 2-2 2-2-2zm-290 2l2 2-2 2-2-2zm-2 2l2 2-2 2-2-2zm12 0l2 2-2 2-2-2zm72 0l2 2-2 2-2-2zm-62 2l2 2-2 2-2-2zm52 0l2 2-2 2-2-2zm10 6l2 2-2 2-2-2zm212 4l2 2-2 2-2-2zm-222 2l2 2-2 2-2-2zm12 0l2 2-2 2-2-2zm4 0l2 2-2 2-2-2zm-54 2l2 2-2 2-2-2zm4 0l2 2-2 2-2-2zm48 0l2 2-2 2-2-2zm12 0l2 2-2 2-2-2zm-68 4l2 2-2 2-2-2zm24 0l2 2-2 2-2-2zm34 2l2 2-2 2-2-2zm-16 4l2 2-2 2-2-2zm-14 2l2 2-2 2-2-2zm-48 4l2 2-2 2-2-2zm64 8l2 2-2 2-2-2zm258 2l2 2-2 2-2-2zm-278 6l2 2-2 2-2-2zm8 4l2 2-2 2-2-2zm260 8l2 2-2 2-2-2zm-270 2l2 2-2 2-2-2zm278 10l2 2-2 2-2-2zm-126 2l2 2-2 2-2-2zm126 2l2 2-2 2-2-2zm-274 2l2 2-2 2-2-2zm230 2l2 2-2 2-2-2zm52 0l2 2-2 2-2-2zm-282 2l2 2-2 2-2-2zm164 0l2 2-2 2-2-2zm116 0l2 2-2 2-2-2zm2 2l2 2-2 2-2-2zm-60 8l2 2-2 2-2-2zm-50 2l2 2-2 2-2-2zm2 2l2 2-2 2-2-2zm80 0l2 2-2 2-2-2zm-46 2l2 2-2 2-2-2zm48 0l2 2-2 2-2-2zm28 0l2 2-2 2-2-2zm-126 2l2 2-2 2-2-2zm6 6l2 2-2 2-2-2zm-32 8l2 2-2 2-2-2zm32 0l2 2-2 2-2-2zm-20 4l2 2-2 2-2-2zm36 0l2 2-2 2-2-2zm-22 6l2 2-2 2-2-2zm54 2l2 2-2 2-2-2zm-18 14l2 2-2 2-2-2z"/><path fill="#6a8bbf" stroke="#6a8bbf" d="M221 29l2 2-2 2-2-2zm-26 2l2 2-2 2-2-2zm38 2l2 2-2 2-2-2zm-44 4l2 2-2 2-2-2zm20 0l2 2-2 2-2-2zm-38 2l2 2-2 2-2-2zm64 0l2 2-2 2-2-2zm-6 2l2 2-2 2-2-2zm-22 2l2 2-2 2-2-2zm-38 2l2 2-2 2-2-2zm86 6l2 2-2 2-2-2zm10 2l2 2-2 2-2-2zm-106 2l2 2-2 2-2-2zm118 2l2 2-2 2-2-2zm-74 2l2 2-2 2-2-2zm76 0l2 2-2 2-2-2zm-126 2l2 2-2 2-2-2zm-18 2l2 2-2 2-2-2zm36 0l2 2-2 2-2-2zm-54 2l2 2-2 2-2-2zm16 12l2 2-2 2-2-2zm96 0l2 2-2 2-2-2zm-98 2l2 2-2 2-2-2zm36 0l2 2-2 2-2-2zm-22 2l2 2-2 2-2-2zm-18 2l2 2-2 2-2-2zm62 2l2 2-2 2-2-2zm14 2l2 2-2 2-2-2zm24 0l2 2-2 2-2-2zm30 6l2 2-2 2-2-2zm-110 2l2 2-2 2-2-2zm112 4l2 2-2 2-2-2zm176 0l2 2-2 2-2-2zm-322 2l2 2-2 2-2-2zm36 0l2 2-2 2-2-2zm76 0l2 2-2 2-2-2zm24 4l2 2-2 2-2-2zm-120 4l2 2-2 2-2-2zm70 2l2 2-2 2-2-2zm-82 2l2 2-2 2-2-2zm98 2l2 2-2 2-2-2zm28 0l2 2-2 2-2-2zm-106 2l2 2-2 2-2-2zm12 0l2 2-2 2-2-2zm-8 4l2 2-2 2-2-2zm88 4l2 2-2 2-2-2zm-42 2l2 2-2 2-2-2zm194 2l2 2-2 2-2-2zm-208 4l2 2-2 2-2-2zm20 4l2 2-2 2-2-2zm208 0l2 2-2 2-2-2zm-234 14l2 2-2 2-2-2zm8 0l2 2-2 2-2-2zm272 4l2 2-2 2-2-2zm-94 6l2 2-2 2-2-2zm136 4l2 2-2 2-2-2zm-138 2l2 2-2 2-2-2zm-42 6l2 2-2 2-2-2zm112 0l2 2-2 2-2-2zm2 6l2 2-2 2-2-2zm-26 6l2 2-2 2-2-2zm8 8l2 2-2 2-2-2zm40 0l2 2-2 2-2-2zm-96 4l2 2-2 2-2-2zm14 2l2 2-2 2-2-2zm24 0l2 2-2 2-2-2zm-34 6l2 2-2 2-2-2zm84 12l2 2-2 2-2-2zm-100 4l2 2-2 2-2-2zm44 16l2 2-2 2-2-2z"/><path fill="#6887be" stroke="#6887be" d="M205 25l2 2-2 2-2-2zm16 0l2 2-2 2-2-2zm-6 2l2 2-2 2-2-2zm-16 4l2 2-2 2-2-2zm32 4l2 2-2 2-2-2zm-42 6l2 2-2 2-2-2zm30 2l2 2-2 2-2-2zm34 2l2 2-2 2-2-2zm-50 2l2 2-2 2-2-2zm64 0l2 2-2 2-2-2zm-112 8l2 2-2 2-2-2zm74 2l2 2-2 2-2-2zm28 0l2 2-2 2-2-2zm-90 2l2 2-2 2-2-2zm110 2l2 2-2 2-2-2zm-98 2l2 2-2 2-2-2zm44 0l2 2-2 2-2-2zm-84 4l2 2-2 2-2-2zm-8 4l2 2-2 2-2-2zm-14 2l2 2-2 2-2-2zm60 0l2 2-2 2-2-2zm-60 4l2 2-2 2-2-2zm40 0l2 2-2 2-2-2zm8 0l2 2-2 2-2-2zm-46 2l2 2-2 2-2-2zm68 0l2 2-2 2-2-2zm248 0l2 2-2 2-2-2zm-282 2l2 2-2 2-2-2zm52 8l2 2-2 2-2-2zm-26 2l2 2-2 2-2-2zm16 8l2 2-2 2-2-2zm-66 2l2 2-2 2-2-2zm-10 2l2 2-2 2-2-2zm52 0l2 2-2 2-2-2zm70 6l2 2-2 2-2-2zm-114 2l2 2-2 2-2-2zm4 0l2 2-2 2-2-2zm40 0l2 2-2 2-2-2zm-46 2l2 2-2 2-2-2zm72 4l2 2-2 2-2-2zm72 0l2 2-2 2-2-2zm-106 2l2 2-2 2-2-2zm18 2l2 2-2 2-2-2zm246 2l2 2-2 2-2-2zm-232 8l2 2-2 2-2-2zm172 20l2 2-2 2-2-2zm-14 2l2 2-2 2-2-2zm-174 18l2 2-2 2-2-2zm200 4l2 2-2 2-2-2zm-184 16l2 2-2 2-2-2zm240 0l2 2-2 2-2-2zm-4 8l2 2-2 2-2-2zm-124 12l2 2-2 2-2-2zm124 0l2 2-2 2-2-2zm-14 10l2 2-2 2-2-2zm-34 6l2 2-2 2-2-2zm10 2l2 2-2 2-2-2zm-10 6l2 2-2 2-2-2z"/><path fill="#6683bd" stroke="#6683bd" d="M223 31l2 2-2 2-2-2zm0 4l2 2-2 2-2-2zm-10 2l2 2-2 2-2-2zm14 6l2 2-2 2-2-2zm4 8l2 2-2 2-2-2zm0 8l2 2-2 2-2-2zm-108 4l2 2-2 2-2-2zm34 2l2 2-2 2-2-2zm38 2l2 2-2 2-2-2zm-34 2l2 2-2 2-2-2zm18 6l2 2-2 2-2-2zm70 2l2 2-2 2-2-2zm-126 2l2 2-2 2-2-2zm-6 2l2 2-2 2-2-2zm2 2l2 2-2 2-2-2zm64 4l2 2-2 2-2-2zm6 10l2 2-2 2-2-2zm4 0l2 2-2 2-2-2zm54 2l2 2-2 2-2-2zm-18 2l2 2-2 2-2-2zm-14 2l2 2-2 2-2-2zm32 0l2 2-2 2-2-2zm-30 2l2 2-2 2-2-2zm-78 2l2 2-2 2-2-2zm44 0l2 2-2 2-2-2zm2 2l2 2-2 2-2-2zm4 0l2 2-2 2-2-2zm12 0l2 2-2 2-2-2zm22 2l2 2-2 2-2-2zm-16 4l2 2-2 2-2-2zm-14 2l2 2-2 2-2-2zm8 0l2 2-2 2-2-2zm24 0l2 2-2 2-2-2zm-28 4l2 2-2 2-2-2zm-6 10l2 2-2 2-2-2zm8 0l2 2-2 2-2-2zm-24 12l2 2-2 2-2-2zm-2 2l2 2-2 2-2-2zm-4 4l2 2-2 2-2-2zm208 0l2 2-2 2-2-2zm-4 4l2 2-2 2-2-2zm-24 8l2 2-2 2-2-2zm8 0l2 2-2 2-2-2zm18 14l2 2-2 2-2-2zm-198 2l2 2-2 2-2-2zm18 10l2 2-2 2-2-2zm-30 2l2 2-2 2-2-2zm248 0l2 2-2 2-2-2zm-28 4l2 2-2 2-2-2zm-50 2l2 2-2 2-2-2zm24 0l2 2-2 2-2-2zm-6 2l2 2-2 2-2-2zm70 2l2 2-2 2-2-2zm-38 2l2 2-2 2-2-2zm-14 22l2 2-2 2-2-2z"/><path fill="#647ebc" stroke="#647ebc" d="M197 33l2 2-2 2-2-2zm20 0l2 2-2 2-2-2zm12 0l2 2-2 2-2-2zm50 6l2 2-2 2-2-2zm-62 2l2 2-2 2-2-2zm-14 2l2 2-2 2-2-2zm60 0l2 2-2 2-2-2zm-10 6l2 2-2 2-2-2zm-88 4l2 2-2 2-2-2zm60 0l2 2-2 2-2-2zm-10 2l2 2-2 2-2-2zm-56 4l2 2-2 2-2-2zm58 6l2 2-2 2-2-2zm-88 12l2 2-2 2-2-2zm92 0l2 2-2 2-2-2zm-26 2l2 2-2 2-2-2zm-20 8l2 2-2 2-2-2zm-54 2l2 2-2 2-2-2zm-6 6l2 2-2 2-2-2zm84 4l2 2-2 2-2-2zm224 4l2 2-2 2-2-2zm-252 4l2 2-2 2-2-2zm-6 2l2 2-2 2-2-2zm-14 2l2 2-2 2-2-2zm28 0l2 2-2 2-2-2zm-24 4l2 2-2 2-2-2zm-10 2l2 2-2 2-2-2zm-10 2l2 2-2 2-2-2zm96 0l2 2-2 2-2-2zm134 34l2 2-2 2-2-2zm-186 2l2 2-2 2-2-2zm294 6l2 2-2 2-2-2zm-114 2l2 2-2 2-2-2zm-42 2l2 2-2 2-2-2zm134 2l2 2-2 2-2-2zm-32 16l2 2-2 2-2-2zm48 0l2 2-2 2-2-2zm-76 4l2 2-2 2-2-2zm76 0l2 2-2 2-2-2zm-62 2l2 2-2 2-2-2zm-68 4l2 2-2 2-2-2zm0 8l2 2-2 2-2-2zm96 0l2 2-2 2-2-2zm-86 10l2 2-2 2-2-2zm64 0l2 2-2 2-2-2zm-54 2l2 2-2 2-2-2zm-28 4l2 2-2 2-2-2zm38 18l2 2-2 2-2-2z"/><path fill="#637abb" stroke="#637abb" d="M211 27l2 2-2 2-2-2zm-6 6l2 2-2 2-2-2zm-26 2l2 2-2 2-2-2zm58 6l2 2-2 2-2-2zm-32 4l2 2-2 2-2-2zm-6 2l2 2-2 2-2-2zm30 6l2 2-2 2-2-2zm32 0l2 2-2 2-2-2zm-134 10l2 2-2 2-2-2zm40 0l2 2-2 2-2-2zm-48 8l2 2-2 2-2-2zm66 2l2 2-2 2-2-2zm-54 2l2 2-2 2-2-2zm28 0l2 2-2 2-2-2zm32 0l2 2-2 2-2-2zm-24 28l2 2-2 2-2-2zm-30 2l2 2-2 2-2-2zm20 0l2 2-2 2-2-2zm82 2l2 2-2 2-2-2zm202 2l2 2-2 2-2-2zm-310 6l2 2-2 2-2-2zm-12 4l2 2-2 2-2-2zm2 2l2 2-2 2-2-2zm82 2l2 2-2 2-2-2zm-18 2l2 2-2 2-2-2zm42 2l2 2-2 2-2-2zm-54 2l2 2-2 2-2-2zm30 6l2 2-2 2-2-2zm168 16l2 2-2 2-2-2zm-22 6l2 2-2 2-2-2zm-166 10l2 2-2 2-2-2zm284 4l2 2-2 2-2-2zm-138 14l2 2-2 2-2-2zm144 0l2 2-2 2-2-2zm-48 4l2 2-2 2-2-2zm-62 6l2 2-2 2-2-2zm-28 8l2 2-2 2-2-2zm4 4l2 2-2 2-2-2zm4 4l2 2-2 2-2-2zm-34 6l2 2-2 2-2-2z"/><path fill="#6276ba" stroke="#6276ba" d="M233 37l2 2-2 2-2-2zm26 10l2 2-2 2-2-2zm22 2l2 2-2 2-2-2zm-118 6l2 2-2 2-2-2zm-14 10l2 2-2 2-2-2zm74 6l2 2-2 2-2-2zm-82 10l2 2-2 2-2-2zm10 2l2 2-2 2-2-2zm8 0l2 2-2 2-2-2zm-14 10l2 2-2 2-2-2zm46 2l2 2-2 2-2-2zm54 6l2 2-2 2-2-2zm-84 4l2 2-2 2-2-2zm24 8l2 2-2 2-2-2zm28 4l2 2-2 2-2-2zm14 2l2 2-2 2-2-2zm152 12l2 2-2 2-2-2zm-154 6l2 2-2 2-2-2zm254 18l2 2-2 2-2-2zm-22 18l2 2-2 2-2-2zm-268 12l2 2-2 2-2-2zm212 8l2 2-2 2-2-2zm72 0l2 2-2 2-2-2zm-44 8l2 2-2 2-2-2zm22 6l2 2-2 2-2-2zm-142 6l2 2-2 2-2-2zm46 2l2 2-2 2-2-2zm56 8l2 2-2 2-2-2z"/><path fill="#6171b9" stroke="#6171b9" d="M261 29l2 2-2 2-2-2zm-34 6l2 2-2 2-2-2zm-6 18l2 2-2 2-2-2zm-100 12l2 2-2 2-2-2zm80 0l2 2-2 2-2-2zm238 10l2 2-2 2-2-2zm-322 10l2 2-2 2-2-2zm14 14l2 2-2 2-2-2zm80 8l2 2-2 2-2-2zm-78 2l2 2-2 2-2-2zm84 0l2 2-2 2-2-2zm-82 2l2 2-2 2-2-2zm2 2l2 2-2 2-2-2zm96 0l2 2-2 2-2-2zm-90 2l2 2-2 2-2-2zm88 0l2 2-2 2-2-2zm-48 4l2 2-2 2-2-2zm-54 2l2 2-2 2-2-2zm56 0l2 2-2 2-2-2zm184 24l2 2-2 2-2-2zm-192 4l2 2-2 2-2-2zm282 26l2 2-2 2-2-2zm-270 18l2 2-2 2-2-2zm208 0l2 2-2 2-2-2zm-8 8l2 2-2 2-2-2zm36 0l2 2-2 2-2-2zm2 2l2 2-2 2-2-2zm-92 8l2 2-2 2-2-2zm-22 6l2 2-2 2-2-2z"/><path fill="#606db8" stroke="#606db8" d="M231 39l2 2-2 2-2-2zm30 6l2 2-2 2-2-2zm14 10l2 2-2 2-2-2zm6 18l2 2-2 2-2-2zm-166 2l2 2-2 2-2-2zm-2 2l2 2-2 2-2-2zm2 6l2 2-2 2-2-2zm64 0l2 2-2 2-2-2zm-56 4l2 2-2 2-2-2zm4 0l2 2-2 2-2-2zm4 8l2 2-2 2-2-2zm64 0l2 2-2 2-2-2zm-68 8l2 2-2 2-2-2zm-4 4l2 2-2 2-2-2zm4 0l2 2-2 2-2-2zm66 2l2 2-2 2-2-2zm-18 10l2 2-2 2-2-2zm24 8l2 2-2 2-2-2zm-16 24l2 2-2 2-2-2zm-4 12l2 2-2 2-2-2zm152 0l2 2-2 2-2-2zm96 16l2 2-2 2-2-2zm14 18l2 2-2 2-2-2zm-84 4l2 2-2 2-2-2zm-8 8l2 2-2 2-2-2z"/><path fill="#6068b6" stroke="#6068b6" d="M199 35l2 2-2 2-2-2zm22 6l2 2-2 2-2-2zm2 2l2 2-2 2-2-2zm60 0l2 2-2 2-2-2zm-106 22l2 2-2 2-2-2zm80 0l2 2-2 2-2-2zm-124 8l2 2-2 2-2-2zm-12 8l2 2-2 2-2-2zm44 0l2 2-2 2-2-2zm-44 4l2 2-2 2-2-2zm102 6l2 2-2 2-2-2zm32 4l2 2-2 2-2-2zm-50 2l2 2-2 2-2-2zm38 14l2 2-2 2-2-2zm200 0l2 2-2 2-2-2zm-214 6l2 2-2 2-2-2zm-40 4l2 2-2 2-2-2zm-8 4l2 2-2 2-2-2zm218 14l2 2-2 2-2-2zm-220 4l2 2-2 2-2-2zm2 2l2 2-2 2-2-2zm150 14l2 2-2 2-2-2zm-148 12l2 2-2 2-2-2zm210 26l2 2-2 2-2-2zm-56 12l2 2-2 2-2-2z"/><path fill="#5f64b5" stroke="#5f64b5" d="M227 51l2 2-2 2-2-2zm-64 32l2 2-2 2-2-2zm-34 22l2 2-2 2-2-2zm-6 6l2 2-2 2-2-2zm104 4l2 2-2 2-2-2zm-56 4l2 2-2 2-2-2zm34 22l2 2-2 2-2-2zm248 28l2 2-2 2-2-2zm-268 4l2 2-2 2-2-2zm-6 2l2 2-2 2-2-2zm248 8l2 2-2 2-2-2zm-66 18l2 2-2 2-2-2z"/><path fill="#5f5fb3" stroke="#5f5fb3" d="M213 45l2 2-2 2-2-2zm-52 8l2 2-2 2-2-2zm98 6l2 2-2 2-2-2zm-134 22l2 2-2 2-2-2zm-2 2l2 2-2 2-2-2zm56 44l2 2-2 2-2-2zm-4 44l2 2-2 2-2-2zm298 18l2 2-2 2-2-2z"/><path fill="#5f5ab1" stroke="#5f5ab1" d="M225 33l2 2-2 2-2-2zm-10 2l2 2-2 2-2-2zm26 6l2 2-2 2-2-2zm16 8l2 2-2 2-2-2zm-132 24l2 2-2 2-2-2zm94 14l2 2-2 2-2-2zm2 2l2 2-2 2-2-2zm-100 28l2 2-2 2-2-2zm88 0l2 2-2 2-2-2zm8 0l2 2-2 2-2-2zm252 60l2 2-2 2-2-2zm2 6l2 2-2 2-2-2zm-74 14l2 2-2 2-2-2zm32 0l2 2-2 2-2-2z"/><path fill="#5f55af" stroke="#5f55af" d="M167 47l2 2-2 2-2-2zm96 0l2 2-2 2-2-2zm-106 26l2 2-2 2-2-2zm-30 2l2 2-2 2-2-2zm32 4l2 2-2 2-2-2zm60 0l2 2-2 2-2-2zm-22 2l2 2-2 2-2-2zm-78 10l2 2-2 2-2-2zm6 18l2 2-2 2-2-2zm-8 8l2 2-2 2-2-2zm346 58l2 2-2 2-2-2zm-64 20l2 2-2 2-2-2z"/><path fill="#5e51ad" stroke="#5e51ad" d="M263 51l2 2-2 2-2-2zm-116 32l2 2-2 2-2-2zm-18 2l2 2-2 2-2-2zm-10 2l2 2-2 2-2-2zm10 26l2 2-2 2-2-2zm44 0l2 2-2 2-2-2zm10 42l2 2-2 2-2-2zm-2 18l2 2-2 2-2-2zm2 2l2 2-2 2-2-2zm162 34l2 2-2 2-2-2zm-6 2l2 2-2 2-2-2z"/><path fill="#5e4caa" stroke="#5e4caa" d="M255 43l2 2-2 2-2-2zm-22 14l2 2-2 2-2-2zm-102 26l2 2-2 2-2-2zm76 36l2 2-2 2-2-2zm146 38l2 2-2 2-2-2zm108 36l2 2-2 2-2-2z"/><path fill="#5e47a7" stroke="#5e47a7" d="M255 47l2 2-2 2-2-2zm-142 34l2 2-2 2-2-2zm88 12l2 2-2 2-2-2zm-70 10l2 2-2 2-2-2zm54 14l2 2-2 2-2-2zm20 4l2 2-2 2-2-2zm-28 60l2 2-2 2-2-2zm252 0l2 2-2 2-2-2zm-22 6l2 2-2 2-2-2zm38 18l2 2-2 2-2-2zm-134 10l2 2-2 2-2-2z"/><path fill="#5d42a4" stroke="#5d42a4" d="M149 81l2 2-2 2-2-2zm44 0l2 2-2 2-2-2zm10 14l2 2-2 2-2-2zm-12 16l2 2-2 2-2-2zm-52 4l2 2-2 2-2-2z"/><path fill="#5d3da1" stroke="#5d3da1" d="M219 39l2 2-2 2-2-2zm14 22l2 2-2 2-2-2zm-104 12l2 2-2 2-2-2zm40 60l2 2-2 2-2-2zm170 70l2 2-2 2-2-2z"/><path fill="#5c389d" stroke="#5c389d" d="M191 79l2 2-2 2-2-2zm-40 12l2 2-2 2-2-2zm-20 16l2 2-2 2-2-2zm62 6l2 2-2 2-2-2zm-70 2l2 2-2 2-2-2zm58 2l2 2-2 2-2-2zm8 0l2 2-2 2-2-2zm-6 6l2 2-2 2-2-2zm-2 26l2 2-2 2-2-2z"/><path fill="#5c3499" stroke="#5c3499" d="M127 71l2 2-2 2-2-2zm2 10l2 2-2 2-2-2zm68 16l2 2-2 2-2-2zm-74 22l2 2-2 2-2-2zm54 2l2 2-2 2-2-2z"/><path fill="#5b2f94" stroke="#5b2f94" d="M221 33l2 2-2 2-2-2zm-14 14l2 2-2 2-2-2zm54 10l2 2-2 2-2-2zm180 136l2 2-2 2-2-2z"/><path fill="#592a8f" stroke="#592a8f" d="M233 41l2 2-2 2-2-2zm26 2l2 2-2 2-2-2zm-136 32l2 2-2 2-2-2zm2 2l2 2-2 2-2-2zm212 128l2 2-2 2-2-2z"/><path fill="#58268a" stroke="#58268a" d="M219 31l2 2-2 2-2-2z"/><path fill="#562284" stroke="#562284" d="M197 93l2 2-2 2-2-2zm144 112l2 2-2 2-2-2z"/><path fill="#541e7e" stroke="#541e7e" d="M225 41l2 2-2 2-2-2zm-64 40l2 2-2 2-2-2zm-26 34l2 2-2 2-2-2z"/><path fill="#511b77" stroke="#511b77" d="M225 37l2 2-2 2-2-2z"/><path fill="#4c1669" stroke="#4c1669" d="M121 73l2 2-2 2-2-2zm56 72l2 2-2 2-2-2zm158 62l2 2-2 2-2-2z"/><path fill="#481563" stroke="#481563" d="M133 113l2 2-2 2-2-2z"/><path fill="#45135c" stroke="#45135c" d="M195 115l2 2-2 2-2-2z"/><path fill="#411256" stroke="#411256" d="M229 37l2 2-2 2-2-2z"/><path fill="#3e1150" stroke="#3e1150" d="M443 195l2 2-2 2-2-2z"/><path fill="#3b114a" stroke="#3b114a" d="M211 119l2 2-2 2-2-2z"/><path fill="#381145" stroke="#381145" d="M261 61l2 2-2 2-2-2zm82 146l2 2-2 2-2-2zm-2 2l2 2-2 2-2-2z"/><path fill="#31123a" stroke="#31123a" d="M127 79l2 2-2 2-2-2z"/><path fill="#2f1436" stroke="#2f1436" d="M227 39l2 2-2 2-2-2zm-102 78l2 2-2 2-2-2z"/></g>
</g>
<path d="M176.28 237.80H382.52M121.70 220.30H437.10M83.00 199.54H475.80M56.47 176.62H502.33M40.86 152.34H517.94M35.70 127.40H523.10M40.86 102.46H517.94M56.47 78.18H502.33M83.00 55.26H475.80M121.70 34.50H437.10M176.28 17.00H382.52M193.46 237.80L184.66 235.18L176.42 232.42L168.68 229.55L161.39 226.56L154.50 223.48L147.98 220.30L141.82 217.03L135.99 213.68L130.48 210.25L125.27 206.74L120.36 203.17L115.73 199.54L111.39 195.85L107.31 192.10L103.50 188.30L99.95 184.45L96.66 180.56L93.63 176.62L90.84 172.65L88.31 168.65L86.02 164.61L83.97 160.54L82.17 156.46L80.62 152.34L79.30 148.22L78.23 144.07L77.39 139.91L76.79 135.75L76.44 131.58L76.32 127.40L76.44 123.22L76.79 119.05L77.39 114.89L78.23 110.73L79.30 106.58L80.62 102.46L82.17 98.34L83.97 94.26L86.02 90.19L88.31 86.15L90.84 82.15L93.63 78.18L96.66 74.24L99.95 70.35L103.50 66.50L107.31 62.70L111.39 58.95L115.73 55.26L120.36 51.63L125.27 48.06L130.48 44.55L135.99 41.12L141.82 37.77L147.98 34.50L154.50 31.32L161.39 28.24L168.68 25.25L176.42 22.38L184.66 19.62L193.46 17.00M210.65 237.80L203.61 235.18L197.02 232.42L190.83 229.55L184.99 226.56L179.48 223.48L174.26 220.30L169.33 217.03L164.67 213.68L160.26 210.25L156.10 206.74L152.17 203.17L148.47 199.54L144.99 195.85L141.73 192.10L138.68 188.30L135.84 184.45L133.21 180.56L130.78 176.62L128.55 172.65L126.52 168.65L124.69 164.61L123.06 160.54L121.62 156.46L120.37 152.34L119.32 148.22L118.46 144.07L117.79 139.91L117.32 135.75L117.03 131.58L116.93 127.40L117.03 123.22L117.32 119.05L117.79 114.89L118.46 110.73L119.32 106.58L120.37 102.46L121.62 98.34L123.06 94.26L124.69 90.19L126.52 86.15L128.55 82.15L130.78 78.18L133.21 74.24L135.84 70.35L138.68 66.50L141.73 62.70L144.99 58.95L148.47 55.26L152.17 51.63L156.10 48.06L160.26 44.55L164.67 41.12L169.33 37.77L174.26 34.50L179.48 31.32L184.99 28.24L190.83 25.25L197.02 22.38L203.61 19.62L210.65 17.00M227.84 237.80L222.56 235.18L217.61 232.42L212.97 229.55L208.59 226.56L204.46 223.48L200.55 220.30L196.85 217.03L193.35 213.68L190.05 210.25L186.92 206.74L183.98 203.17L181.20 199.54L178.59 195.85L176.15 192.10L173.86 188.30L171.73 184.45L169.76 180.56L167.94 176.62L166.26 172.65L164.74 168.65L163.37 164.61L162.14 160.54L161.06 156.46L160.13 152.34L159.34 148.22L158.70 144.07L158.19 139.91L157.84 135.75L157.62 131.58L157.55 127.40L157.62 123.22L157.84 119.05L158.19 114.89L158.70 110.73L159.34 106.58L160.13 102.46L161.06 98.34L162.14 94.26L163.37 90.19L164.74 86.15L166.26 82.15L167.94 78.18L169.76 74.24L171.73 70.35L173.86 66.50L176.15 62.70L178.59 58.95L181.20 55.26L183.98 51.63L186.92 48.06L190.05 44.55L193.35 41.12L196.85 37.77L200.55 34.50L204.46 31.32L208.59 28.24L212.97 25.25L217.61 22.38L222.56 19.62L227.84 17.00M245.03 237.80L241.50 235.18L238.21 232.42L235.11 229.55L232.19 226.56L229.44 223.48L226.83 220.30L224.37 217.03L222.04 213.68L219.83 210.25L217.75 206.74L215.78 203.17L213.93 199.54L212.19 195.85L210.56 192.10L209.04 188.30L207.62 184.45L206.30 180.56L205.09 176.62L203.98 172.65L202.96 168.65L202.05 164.61L201.23 160.54L200.51 156.46L199.89 152.34L199.36 148.22L198.93 144.07L198.60 139.91L198.36 135.75L198.21 131.58L198.17 127.40L198.21 123.22L198.36 119.05L198.60 114.89L198.93 110.73L199.36 106.58L199.89 102.46L200.51 98.34L201.23 94.26L202.05 90.19L202.96 86.15L203.98 82.15L205.09 78.18L206.30 74.24L207.62 70.35L209.04 66.50L210.56 62.70L212.19 58.95L213.93 55.26L215.78 51.63L217.75 48.06L219.83 44.55L222.04 41.12L224.37 37.77L226.83 34.50L229.44 31.32L232.19 28.24L235.11 25.25L238.21 22.38L241.50 19.62L245.03 17.00M262.21 237.80L260.45 235.18L258.80 232.42L257.26 229.55L255.80 226.56L254.42 223.48L253.12 220.30L251.88 217.03L250.72 213.68L249.62 210.25L248.57 206.74L247.59 203.17L246.67 199.54L245.80 195.85L244.98 192.10L244.22 188.30L243.51 184.45L242.85 180.56L242.25 176.62L241.69 172.65L241.18 168.65L240.72 164.61L240.31 160.54L239.95 156.46L239.64 152.34L239.38 148.22L239.17 144.07L239.00 139.91L238.88 135.75L238.81 131.58L238.78 127.40L238.81 123.22L238.88 119.05L239.00 114.89L239.17 110.73L239.38 106.58L239.64 102.46L239.95 98.34L240.31 94.26L240.72 90.19L241.18 86.15L241.69 82.15L242.25 78.18L242.85 74.24L243.51 70.35L244.22 66.50L244.98 62.70L245.80 58.95L246.67 55.26L247.59 51.63L248.57 48.06L249.62 44.55L250.72 41.12L251.88 37.77L253.12 34.50L254.42 31.32L255.80 28.24L257.26 25.25L258.80 22.38L260.45 19.62L262.21 17.00M279.40 237.80L279.40 235.18L279.40 232.42L279.40 229.55L279.40 226.56L279.40 223.48L279.40 220.30L279.40 217.03L279.40 213.68L279.40 210.25L279.40 206.74L279.40 203.17L279.40 199.54L279.40 195.85L279.40 192.10L279.40 188.30L279.40 184.45L279.40 180.56L279.40 176.62L279.40 172.65L279.40 168.65L279.40 164.61L279.40 160.54L279.40 156.46L279.40 152.34L279.40 148.22L279.40 144.07L279.40 139.91L279.40 135.75L279.40 131.58L279.40 127.40L279.40 123.22L279.40 119.05L279.40 114.89L279.40 110.73L279.40 106.58L279.40 102.46L279.40 98.34L279.40 94.26L279.40 90.19L279.40 86.15L279.40 82.15L279.40 78.18L279.40 74.24L279.40 70.35L279.40 66.50L279.40 62.70L279.40 58.95L279.40 55.26L279.40 51.63L279.40 48.06L279.40 44.55L279.40 41.12L279.40 37.77L279.40 34.50L279.40 31.32L279.40 28.24L279.40 25.25L279.40 22.38L279.40 19.62L279.40 17.00M296.59 237.80L298.35 235.18L300.00 232.42L301.54 229.55L303.00 226.56L304.38 223.48L305.68 220.30L306.92 217.03L308.08 213.68L309.18 210.25L310.23 206.74L311.21 203.17L312.13 199.54L313.00 195.85L313.82 192.10L314.58 188.30L315.29 184.45L315.95 180.56L316.55 176.62L317.11 172.65L317.62 168.65L318.08 164.61L318.49 160.54L318.85 156.46L319.16 152.34L319.42 148.22L319.63 144.07L319.80 139.91L319.92 135.75L319.99 131.58L320.02 127.40L319.99 123.22L319.92 119.05L319.80 114.89L319.63 110.73L319.42 106.58L319.16 102.46L318.85 98.34L318.49 94.26L318.08 90.19L317.62 86.15L317.11 82.15L316.55 78.18L315.95 74.24L315.29 70.35L314.58 66.50L313.82 62.70L313.00 58.95L312.13 55.26L311.21 51.63L310.23 48.06L309.18 44.55L308.08 41.12L306.92 37.77L305.68 34.50L304.38 31.32L303.00 28.24L301.54 25.25L300.00 22.38L298.35 19.62L296.59 17.00M313.77 237.80L317.30 235.18L320.59 232.42L323.69 229.55L326.61 226.56L329.36 223.48L331.97 220.30L334.43 217.03L336.76 213.68L338.97 210.25L341.05 206.74L343.02 203.17L344.87 199.54L346.61 195.85L348.24 192.10L349.76 188.30L351.18 184.45L352.50 180.56L353.71 176.62L354.82 172.65L355.84 168.65L356.75 164.61L357.57 160.54L358.29 156.46L358.91 152.34L359.44 148.22L359.87 144.07L360.20 139.91L360.44 135.75L360.59 131.58L360.63 127.40L360.59 123.22L360.44 119.05L360.20 114.89L359.87 110.73L359.44 106.58L358.91 102.46L358.29 98.34L357.57 94.26L356.75 90.19L355.84 86.15L354.82 82.15L353.71 78.18L352.50 74.24L351.18 70.35L349.76 66.50L348.24 62.70L346.61 58.95L344.87 55.26L343.02 51.63L341.05 48.06L338.97 44.55L336.76 41.12L334.43 37.77L331.97 34.50L329.36 31.32L326.61 28.24L323.69 25.25L320.59 22.38L317.30 19.62L313.77 17.00M330.96 237.80L336.24 235.18L341.19 232.42L345.83 229.55L350.21 226.56L354.34 223.48L358.25 220.30L361.95 217.03L365.45 213.68L368.75 210.25L371.88 206.74L374.82 203.17L377.60 199.54L380.21 195.85L382.65 192.10L384.94 188.30L387.07 184.45L389.04 180.56L390.86 176.62L392.54 172.65L394.06 168.65L395.43 164.61L396.66 160.54L397.74 156.46L398.67 152.34L399.46 148.22L400.10 144.07L400.61 139.91L400.96 135.75L401.18 131.58L401.25 127.40L401.18 123.22L400.96 119.05L400.61 114.89L400.10 110.73L399.46 106.58L398.67 102.46L397.74 98.34L396.66 94.26L395.43 90.19L394.06 86.15L392.54 82.15L390.86 78.18L389.04 74.24L387.07 70.35L384.94 66.50L382.65 62.70L380.21 58.95L377.60 55.26L374.82 51.63L371.88 48.06L368.75 44.55L365.45 41.12L361.95 37.77L358.25 34.50L354.34 31.32L350.21 28.24L345.83 25.25L341.19 22.38L336.24 19.62L330.96 17.00M348.15 237.80L355.19 235.18L361.78 232.42L367.97 229.55L373.81 226.56L379.32 223.48L384.54 220.30L389.47 217.03L394.13 213.68L398.54 210.25L402.70 206.74L406.63 203.17L410.33 199.54L413.81 195.85L417.07 192.10L420.12 188.30L422.96 184.45L425.59 180.56L428.02 176.62L430.25 172.65L432.28 168.65L434.11 164.61L435.74 160.54L437.18 156.46L438.43 152.34L439.48 148.22L440.34 144.07L441.01 139.91L441.48 135.75L441.77 131.58L441.87 127.40L441.77 123.22L441.48 119.05L441.01 114.89L440.34 110.73L439.48 106.58L438.43 102.46L437.18 98.34L435.74 94.26L434.11 90.19L432.28 86.15L430.25 82.15L428.02 78.18L425.59 74.24L422.96 70.35L420.12 66.50L417.07 62.70L413.81 58.95L410.33 55.26L406.63 51.63L402.70 48.06L398.54 44.55L394.13 41.12L389.47 37.77L384.54 34.50L379.32 31.32L373.81 28.24L367.97 25.25L361.78 22.38L355.19 19.62L348.15 17.00M365.34 237.80L374.14 235.18L382.38 232.42L390.12 229.55L397.41 226.56L404.30 223.48L410.82 220.30L416.98 217.03L422.81 213.68L428.32 210.25L433.53 206.74L438.44 203.17L443.07 199.54L447.41 195.85L451.49 192.10L455.30 188.30L458.85 184.45L462.14 180.56L465.17 176.62L467.96 172.65L470.49 168.65L472.78 164.61L474.83 160.54L476.63 156.46L478.18 152.34L479.50 148.22L480.57 144.07L481.41 139.91L482.01 135.75L482.36 131.58L482.48 127.40L482.36 123.22L482.01 119.05L481.41 114.89L480.57 110.73L479.50 106.58L478.18 102.46L476.63 98.34L474.83 94.26L472.78 90.19L470.49 86.15L467.96 82.15L465.17 78.18L462.14 74.24L458.85 70.35L455.30 66.50L451.49 62.70L447.41 58.95L443.07 55.26L438.44 51.63L433.53 48.06L428.32 44.55L422.81 41.12L416.98 37.77L410.82 34.50L404.30 31.32L397.41 28.24L390.12 25.25L382.38 22.38L374.14 19.62L365.34 17.00" fill="none" stroke="#cbcbcb" stroke-width="1.2"/>
<path d="M96.89 174.94L96.06 174.26L95.23 173.58L94.41 172.90L93.60 172.21L92.80 171.53L92.00 170.84L91.21 170.15L90.43 169.45L89.66 168.76L88.89 168.06L88.14 167.37L87.39 166.67L86.64 165.97L85.91 165.26L85.18 164.56L84.47 163.86L83.76 163.15L83.05 162.44L82.36 161.73L81.67 161.02L81.00 160.31L80.32 159.59L79.66 158.88L79.01 158.16L78.36 157.44L77.72 156.72L77.09 156.00L76.47 155.28L75.86 154.56L75.25 153.83L74.65 153.11L74.06 152.38L73.48 151.65L72.91 150.93L72.34 150.20L71.78 149.47L71.23 148.74L70.69 148.01L70.16 147.27L69.64 146.54L69.12 145.81L68.61 145.07L68.11 144.34L67.62 143.60L67.13 142.86L66.66 142.13L66.19 141.39L65.73 140.65L65.28 139.91L64.84 139.17L64.40 138.43L63.97 137.69L63.56 136.95L63.15 136.21L62.74 135.47L62.35 134.73L61.96 133.98L61.59 133.24L61.22 132.50L60.86 131.76L60.50 131.01L60.16 130.27L59.82 129.53L59.50 128.79L59.18 128.04L58.86 127.30L58.56 126.56L58.27 125.81L57.98 125.07L57.70 124.33L57.43 123.58L57.17 122.84L56.91 122.10L56.67 121.36L56.43 120.61L56.20 119.87L55.98 119.13L55.76 118.39L55.56 117.65L55.36 116.91L55.17 116.17L54.99 115.43L54.82 114.69L54.65 113.95L54.50 113.21L54.35 112.47L54.21 111.74L54.07 111.00L53.95 110.26L53.83 109.53L53.73 108.79L53.63 108.06L53.53 107.33L53.45 106.60L53.37 105.86L53.30 105.13L53.24 104.40L53.19 103.68L53.15 102.95L53.11 102.22L53.08 101.50L53.06 100.77L53.04 100.05L53.04 99.32L53.04 98.60L53.05 97.88L53.07 97.16L53.09 96.45L53.13 95.73L53.17 95.01L53.22 94.30L53.27 93.59L53.33 92.88L53.40 92.17L53.48 91.46L53.57 90.75L53.66 90.05L53.76 89.34L53.87 88.64L53.99 87.94L54.11 87.24L54.24 86.55L54.37 85.85L54.52 85.16L54.67 84.47L54.83 83.78L54.99 83.09L55.17 82.40L55.34 81.72L55.53 81.04L55.72 80.36L55.92 79.68L56.13 79.00L56.34 78.33M501.49 77.66L500.51 76.99L499.52 76.32L498.52 75.65L497.52 74.99L496.50 74.33L495.47 73.67L494.44 73.02L493.40 72.37L492.35 71.72L491.29 71.07L490.22 70.42L489.14 69.78L488.06 69.14L486.96 68.51L485.86 67.87L484.75 67.24L483.64 66.61L482.51 65.99L481.38 65.37L480.23 64.75L479.09 64.13L477.93 63.52L476.76 62.91L475.59 62.30L474.41 61.70L473.23 61.10L472.03 60.51L470.83 59.91L469.62 59.32L468.41 58.74L467.19 58.16L465.96 57.58L464.72 57.00L463.48 56.43L462.23 55.87L460.98 55.31L459.72 54.75L458.45 54.19L457.18 53.64L455.90 53.10L454.62 52.56L453.33 52.02L452.04 51.49L450.74 50.96L449.43 50.43L448.13 49.92L446.81 49.40L445.50 48.89L444.18 48.39L442.85 47.89L441.52 47.39L440.19 46.91L438.86 46.42L437.52 45.94L436.18 45.47L434.84 45.00L433.49 44.54L432.15 44.08L430.80 43.63L429.45 43.19L428.10 42.75L426.75 42.32L425.40 41.89L424.05 41.47L422.69 41.06L421.34 40.65L420.00 40.25L418.65 39.86L417.30 39.47L415.96 39.09L414.62 38.72L413.28 38.35L411.94 37.99L410.61 37.64L409.28 37.30L407.96 36.96L406.64 36.63L405.33 36.31L404.02 36.00L402.72 35.69L401.43 35.40L400.14 35.11L398.86 34.83L397.59 34.56L396.32 34.30L395.07 34.04L393.83 33.80L392.59 33.56L391.37 33.34L390.15 33.12L388.95 32.91L387.76 32.71L386.58 32.53L385.41 32.35L384.26 32.18L383.12 32.02L381.99 31.87L380.88 31.73L379.78 31.60L378.69 31.48L377.62 31.37L376.57 31.27L375.53 31.18L374.50 31.11L373.49 31.04L372.50 30.98L371.52 30.94L370.56 30.90L369.62 30.88L368.69 30.86L367.78 30.86L366.88 30.86L366.00 30.88L365.14 30.91L364.30 30.95L363.47 31.00L362.65 31.06L361.85 31.13L361.07 31.21L360.31 31.30L359.56 31.40L358.82 31.51L358.10 31.63L357.40 31.77L356.71 31.91L356.04 32.06L355.37 32.22L354.73 32.39L354.10 32.58L353.48 32.77L352.87 32.97L352.28 33.18L351.70 33.40L351.13 33.63L350.57 33.87L350.02 34.11L349.49 34.37L348.97 34.63L348.45 34.91L347.95 35.19L347.46 35.48L346.98 35.78L346.51 36.08L346.04 36.40L345.59 36.72L345.14 37.05L344.70 37.39L344.27 37.73L343.85 38.09L343.43 38.45L343.03 38.82L342.62 39.19L342.23 39.57L341.84 39.96L341.46 40.36L341.08 40.76L340.71 41.17L340.35 41.58L339.99 42.01L339.63 42.43L339.28 42.87L338.94 43.31L338.60 43.76L338.26 44.21L337.93 44.67L337.60 45.13L337.27 45.60L336.95 46.07L336.63 46.55L336.32 47.04L336.01 47.53L335.70 48.02L335.40 48.52L335.09 49.03L334.79 49.54L334.49 50.06L334.20 50.58L333.91 51.10L333.62 51.63L333.33 52.16L333.04 52.70L332.76 53.25L332.47 53.79L332.19 54.34L331.91 54.90L331.63 55.46L331.35 56.02L331.08 56.59L330.80 57.16L330.53 57.74L330.26 58.31L329.99 58.90L329.72 59.48L329.45 60.07L329.18 60.67L328.91 61.26L328.64 61.86L328.38 62.47L328.11 63.08L327.85 63.69L327.58 64.30L327.32 64.92L327.06 65.54L326.79 66.16L326.53 66.78L326.27 67.41L326.00 68.04L325.74 68.68L325.48 69.32L325.22 69.96L324.95 70.60L324.69 71.25L324.43 71.89L324.17 72.54L323.91 73.20L323.64 73.85L323.38 74.51L323.12 75.17L322.86 75.84L322.60 76.50L322.33 77.17L322.07 77.84L321.81 78.51L321.54 79.19L321.28 79.86L321.02 80.54L320.75 81.22L320.49 81.90L320.22 82.59L319.96 83.27L319.69 83.96L319.42 84.65L319.16 85.35L318.89 86.04L318.62 86.74L318.35 87.43L318.08 88.13L317.82 88.83L317.55 89.54L317.28 90.24L317.00 90.94L316.73 91.65L316.46 92.36L316.19 93.07L315.92 93.78L315.64 94.49L315.37 95.21L315.09 95.92L314.82 96.64L314.54 97.36L314.26 98.08L313.98 98.80L313.71 99.52L313.43 100.24L313.15 100.97L312.87 101.69L312.59 102.42L312.30 103.15L312.02 103.87L311.74 104.60L311.45 105.33L311.17 106.06L310.88 106.79L310.60 107.53L310.31 108.26L310.02 108.99L309.73 109.73L309.44 110.46L309.15 111.20L308.86 111.94L308.57 112.67L308.28 113.41L307.99 114.15L307.69 114.89L307.40 115.63L307.10 116.37L306.80 117.11L306.51 117.85L306.21 118.59L305.91 119.33L305.61 120.07L305.31 120.82L305.01 121.56L304.70 122.30L304.40 123.04L304.10 123.79L303.79 124.53L303.49 125.27L303.18 126.01L302.87 126.76L302.56 127.50L302.26 128.24L301.95 128.99L301.63 129.73L301.32 130.47L301.01 131.22L300.70 131.96L300.38 132.70L300.07 133.44L299.75 134.19L299.43 134.93L299.11 135.67L298.80 136.41L298.48 137.15L298.16 137.89L297.83 138.63L297.51 139.37L297.19 140.11L296.86 140.85L296.54 141.59L296.21 142.33L295.89 143.06L295.56 143.80L295.23 144.54L294.90 145.27L294.57 146.01L294.24 146.74L293.90 147.47L293.57 148.20L293.24 148.94L292.90 149.67L292.56 150.40L292.23 151.12L291.89 151.85L291.55 152.58L291.21 153.30L290.87 154.03L290.52 154.75L290.18 155.48L289.84 156.20L289.49 156.92L289.15 157.64L288.80 158.35L288.45 159.07L288.10 159.79L287.75 160.50L287.40 161.21L287.05 161.92L286.70 162.63L286.34 163.34L285.99 164.05L285.63 164.75L285.27 165.46L284.91 166.16L284.55 166.86L284.19 167.56L283.83 168.25L283.47 168.95L283.11 169.64L282.74 170.33L282.37 171.02L282.01 171.71L281.64 172.40L281.27 173.08L280.90 173.76L280.53 174.44L280.15 175.12L279.78 175.80L279.40 176.47L279.03 177.14L278.65 177.81L278.27 178.48L277.89 179.15L277.51 179.81L277.13 180.47L276.74 181.13L276.36 181.78L275.97 182.43L275.58 183.08L275.19 183.73L274.80 184.38L274.41 185.02L274.01 185.66L273.62 186.29L273.22 186.93L272.82 187.56L272.42 188.19L272.02 188.81L271.62 189.43L271.22 190.05L270.81 190.67L270.40 191.28L269.99 191.89L269.58 192.50L269.17 193.10L268.76 193.70L268.34 194.29L267.92 194.89L267.50 195.48L267.08 196.06L266.66 196.64L266.23 197.22L265.80 197.80L265.37 198.37L264.94 198.93L264.51 199.49L264.07 200.05L263.64 200.61L263.20 201.16L262.75 201.70L262.31 202.24L261.86 202.78L261.41 203.31L260.96 203.84L260.50 204.37L260.04 204.88L259.58 205.40L259.12 205.91L258.65 206.41L258.19 206.91L257.71 207.41L257.24 207.89L256.76 208.38L256.28 208.86L255.79 209.33L255.30 209.80L254.81 210.26L254.32 210.72L253.82 211.17L253.31 211.61L252.81 212.05L252.30 212.48L251.78 212.91L251.26 213.33L250.74 213.74L250.21 214.15L249.68 214.55L249.14 214.94L248.59 215.33L248.05 215.71L247.49 216.08L246.93 216.45L246.37 216.81L245.80 217.16L245.22 217.50L244.64 217.84L244.05 218.17L243.46 218.49L242.86 218.80L242.25 219.11L241.64 219.40L241.02 219.69L240.39 219.97L239.75 220.24L239.11 220.50L238.46 220.76L237.80 221.00L237.13 221.24L236.45 221.46L235.77 221.68L235.07 221.89L234.37 222.09L233.66 222.27L232.94 222.45L232.21 222.62L231.46 222.78L230.71 222.93L229.95 223.07L229.18 223.20L228.40 223.32L227.61 223.43L226.81 223.53L225.99 223.62L225.17 223.69L224.34 223.76L223.49 223.82L222.63 223.86L221.76 223.90L220.88 223.92L219.99 223.94L219.09 223.94L218.18 223.94L217.26 223.92L216.32 223.89L215.37 223.85L214.42 223.80L213.45 223.74L212.47 223.67L211.48 223.59L210.48 223.50L209.47 223.40L208.45 223.29L207.42 223.17L206.38 223.03L205.33 222.89L204.28 222.74L203.21 222.58L202.13 222.41L201.05 222.22L199.96 222.03L198.86 221.83L197.75 221.62L196.63 221.40L195.51 221.17L194.38 220.93L193.25 220.69L192.11 220.43L190.96 220.17L189.81 219.89L188.65 219.61L187.49 219.32L186.32 219.02L185.15 218.72L183.98 218.40L182.80 218.08L181.62 217.75L180.44 217.41L179.26 217.07L178.07 216.71L176.88 216.35L175.69 215.98L174.50 215.61L173.30 215.23L172.11 214.84L170.92 214.44L169.72 214.04L168.53 213.63L167.34 213.22L166.14 212.79L164.95 212.37L163.76 211.93L162.57 211.49L161.38 211.04L160.20 210.59L159.02 210.13L157.83 209.67L156.65 209.20L155.48 208.73L154.30 208.25L153.13 207.76L151.97 207.27L150.80 206.78L149.64 206.28L148.48 205.77L147.33 205.26L146.18 204.74L145.04 204.22L143.90 203.70L142.76 203.17L141.63 202.64L140.50 202.10L139.38 201.55L138.26 201.01L137.15 200.46L136.04 199.90L134.94 199.34L133.84 198.78L132.75 198.21L131.67 197.64L130.59 197.06L129.51 196.49L128.45 195.90L127.38 195.32L126.33 194.73L125.28 194.13L124.23 193.54L123.19 192.94L122.16 192.33L121.14 191.72L120.12 191.11L119.11 190.50L118.10 189.88L117.10 189.26L116.11 188.64L115.12 188.02L114.14 187.39L113.17 186.76L112.21 186.12L111.25 185.48L110.30 184.84L109.35 184.20L108.41 183.55L107.48 182.91L106.56 182.26L105.65 181.60L104.74 180.95L103.84 180.29L102.94 179.63L102.05 178.96L101.18 178.30L100.30 177.63L99.44 176.96L98.58 176.29L97.73 175.61L96.89 174.94" fill="none" stroke="#000" stroke-width="2.0" clip-path="url(#ell)"/>
<ellipse cx="279.40" cy="127.40" rx="243.70" ry="121.85" fill="none" stroke="#222" stroke-width="1.0"/>
<text x="150.40" y="252.46" font-size="11.70" fill="#1a1a1a" textLength="23.93" lengthAdjust="spacingAndGlyphs" stroke="#1a1a1a" stroke-width="0.15">-75°</text>
<text x="95.68" y="234.06" font-size="11.70" fill="#1a1a1a" textLength="24.05" lengthAdjust="spacingAndGlyphs" stroke="#1a1a1a" stroke-width="0.15">-60°</text>
<text x="56.92" y="210.59" font-size="11.70" fill="#1a1a1a" textLength="24.20" lengthAdjust="spacingAndGlyphs" stroke="#1a1a1a" stroke-width="0.15">-45°</text>
<text x="30.48" y="185.23" font-size="11.70" fill="#1a1a1a" textLength="24.14" lengthAdjust="spacingAndGlyphs" stroke="#1a1a1a" stroke-width="0.15">-30°</text>
<text x="14.83" y="159.37" font-size="11.70" fill="#1a1a1a" textLength="24.22" lengthAdjust="spacingAndGlyphs" stroke="#1a1a1a" stroke-width="0.15">-15°</text>
<text x="21.79" y="130.50" font-size="11.70" fill="#1a1a1a" textLength="11.95" lengthAdjust="spacingAndGlyphs" stroke="#1a1a1a" stroke-width="0.15">0°</text>
<text x="19.01" y="103.08" font-size="11.70" fill="#1a1a1a" textLength="20.07" lengthAdjust="spacingAndGlyphs" stroke="#1a1a1a" stroke-width="0.15">15°</text>
<text x="34.90" y="76.22" font-size="11.70" fill="#1a1a1a" textLength="19.73" lengthAdjust="spacingAndGlyphs" stroke="#1a1a1a" stroke-width="0.15">30°</text>
<text x="61.54" y="50.86" font-size="11.70" fill="#1a1a1a" textLength="19.57" lengthAdjust="spacingAndGlyphs" stroke="#1a1a1a" stroke-width="0.15">45°</text>
<text x="100.22" y="28.39" font-size="11.70" fill="#1a1a1a" textLength="19.62" lengthAdjust="spacingAndGlyphs" stroke="#1a1a1a" stroke-width="0.15">60°</text>
<text x="155.39" y="8.99" font-size="11.70" fill="#1a1a1a" textLength="18.77" lengthAdjust="spacingAndGlyphs" stroke="#1a1a1a" stroke-width="0.15">75°</text>
<text x="63.11" y="124.10" font-size="11.70" fill="#1a1a1a" textLength="26.36" lengthAdjust="spacingAndGlyphs" stroke="#1a1a1a" stroke-width="0.15">270°</text>
<text x="103.58" y="123.99" font-size="11.70" fill="#1a1a1a" textLength="26.45" lengthAdjust="spacingAndGlyphs" stroke="#1a1a1a" stroke-width="0.15">240°</text>
<text x="144.36" y="124.01" font-size="11.70" fill="#1a1a1a" textLength="26.31" lengthAdjust="spacingAndGlyphs" stroke="#1a1a1a" stroke-width="0.15">210°</text>
<text x="184.56" y="124.02" font-size="11.70" fill="#1a1a1a" textLength="26.63" lengthAdjust="spacingAndGlyphs" stroke="#1a1a1a" stroke-width="0.15">180°</text>
<text x="224.99" y="124.10" font-size="11.70" fill="#1a1a1a" textLength="26.97" lengthAdjust="spacingAndGlyphs" stroke="#1a1a1a" stroke-width="0.15">150°</text>
<text x="265.99" y="124.00" font-size="11.70" fill="#1a1a1a" textLength="26.52" lengthAdjust="spacingAndGlyphs" stroke="#1a1a1a" stroke-width="0.15">120°</text>
<text x="309.97" y="124.10" font-size="11.70" fill="#1a1a1a" textLength="19.94" lengthAdjust="spacingAndGlyphs" stroke="#1a1a1a" stroke-width="0.15">90°</text>
<text x="350.58" y="124.10" font-size="11.70" fill="#1a1a1a" textLength="19.92" lengthAdjust="spacingAndGlyphs" stroke="#1a1a1a" stroke-width="0.15">60°</text>
<text x="391.47" y="124.10" font-size="11.70" fill="#1a1a1a" textLength="19.85" lengthAdjust="spacingAndGlyphs" stroke="#1a1a1a" stroke-width="0.15">30°</text>
<text x="435.95" y="124.09" font-size="11.70" fill="#1a1a1a" textLength="12.03" lengthAdjust="spacingAndGlyphs" stroke="#1a1a1a" stroke-width="0.15">0°</text>
<text x="469.25" y="124.10" font-size="11.70" fill="#1a1a1a" textLength="26.20" lengthAdjust="spacingAndGlyphs" stroke="#1a1a1a" stroke-width="0.15">330°</text>
<text x="105.37" y="308.90" font-size="10.90" fill="#1a1a1a" textLength="13.60" lengthAdjust="spacingAndGlyphs" stroke="#1a1a1a" stroke-width="0.15">20</text>
<text x="168.55" y="308.57" font-size="10.90" fill="#1a1a1a" textLength="12.82" lengthAdjust="spacingAndGlyphs" stroke="#1a1a1a" stroke-width="0.15">40</text>
<text x="230.87" y="308.62" font-size="10.90" fill="#1a1a1a" textLength="13.28" lengthAdjust="spacingAndGlyphs" stroke="#1a1a1a" stroke-width="0.15">60</text>
<text x="293.53" y="308.58" font-size="10.90" fill="#1a1a1a" textLength="13.46" lengthAdjust="spacingAndGlyphs" stroke="#1a1a1a" stroke-width="0.15">80</text>
<text x="352.67" y="308.97" font-size="10.90" fill="#1a1a1a" textLength="20.45" lengthAdjust="spacingAndGlyphs" stroke="#1a1a1a" stroke-width="0.15">100</text>
<text x="415.20" y="308.90" font-size="10.90" fill="#1a1a1a" textLength="20.44" lengthAdjust="spacingAndGlyphs" stroke="#1a1a1a" stroke-width="0.15">120</text>
<text x="478.18" y="308.90" font-size="10.90" fill="#1a1a1a" textLength="19.95" lengthAdjust="spacingAndGlyphs" stroke="#1a1a1a" stroke-width="0.15">140</text>
<text x="243.48" y="262.40" font-size="11.50" fill="#1a1a1a" textLength="72.30" lengthAdjust="spacingAndGlyphs" stroke="#1a1a1a" stroke-width="0.15">RA (degrees)</text>
<text transform="translate(10.40 167.49) rotate(-90)" font-size="11.50" fill="#1a1a1a" textLength="78.48" lengthAdjust="spacingAndGlyphs" stroke="#1a1a1a" stroke-width="0.15">Dec (degrees)</text>
<text x="191.81" y="325.00" font-size="11.50" fill="#1a1a1a" textLength="161.08" lengthAdjust="spacingAndGlyphs" stroke="#1a1a1a" stroke-width="0.15">Galaxy Surface Density (deg</text>
<text x="352.41" y="319.31" font-size="7.20" fill="#1a1a1a" textLength="11.95" lengthAdjust="spacingAndGlyphs" stroke="#1a1a1a" stroke-width="0.15">−2</text>
<text x="363.57" y="325.00" font-size="11.50" fill="#1a1a1a" textLength="4.64" lengthAdjust="spacingAndGlyphs" stroke="#1a1a1a" stroke-width="0.15">)</text>
<rect x="59.20" y="283.30" width="441.20" height="11.10" fill="url(#cb)"/>
<path d="M59.50 283.30L48.7 288.85L59.50 294.40Z" fill="#e2d9e2"/>
<path d="M500.10 283.30L510.3 288.85L500.10 294.40Z" fill="#e2d9e2"/>
<path d="M59.20 283.30L500.40 283.30L500.40 283.30L510.3 288.85L500.40 294.40L59.20 294.40L48.7 288.85Z" fill="none" stroke="#222" stroke-width="0.9"/>
<path d="M112.30 294.40V297.60" stroke="#222" stroke-width="0.9"/>
<path d="M175.00 294.40V297.60" stroke="#222" stroke-width="0.9"/>
<path d="M237.70 294.40V297.60" stroke="#222" stroke-width="0.9"/>
<path d="M300.40 294.40V297.60" stroke="#222" stroke-width="0.9"/>
<path d="M363.10 294.40V297.60" stroke="#222" stroke-width="0.9"/>
<path d="M425.80 294.40V297.60" stroke="#222" stroke-width="0.9"/>
<path d="M488.50 294.40V297.60" stroke="#222" stroke-width="0.9"/>
</svg>
</body></html>
